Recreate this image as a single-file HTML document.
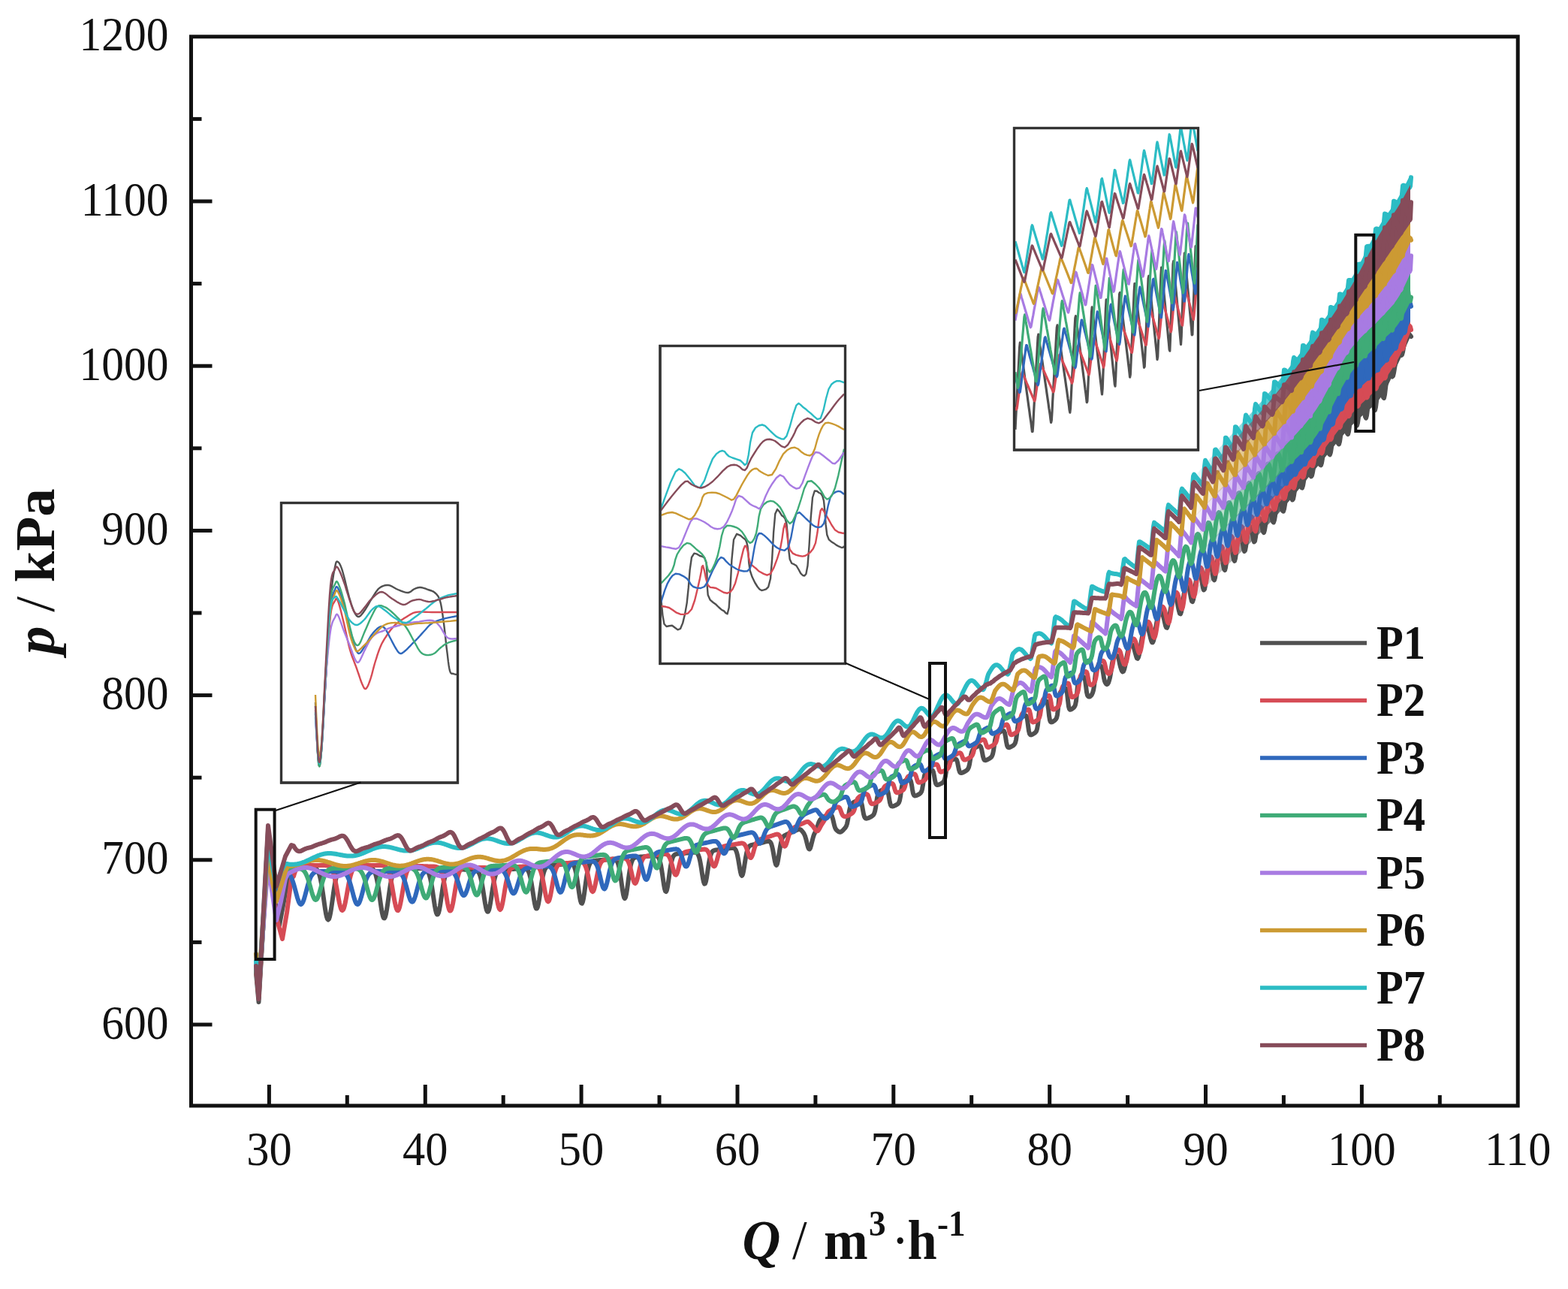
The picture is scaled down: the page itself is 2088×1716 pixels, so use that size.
<!DOCTYPE html><html><head><meta charset="utf-8"><title>p vs Q</title><style>html,body{margin:0;padding:0;background:#fff}svg{display:block}</style></head><body>
<svg width="2088" height="1716" viewBox="0 0 2088 1716">
<rect width="2088" height="1716" fill="#fff"/>
<defs><linearGradient id="gR" gradientUnits="userSpaceOnUse" x1="1580" y1="0" x2="1720" y2="0"><stop offset="0" stop-color="#fff" stop-opacity="0"/><stop offset="1" stop-color="#fff" stop-opacity="1"/></linearGradient><mask id="mR"><rect x="0" y="0" width="2088" height="1716" fill="url(#gR)"/></mask></defs>
<g fill="none" stroke-width="6.0" stroke-linejoin="round" stroke-linecap="round">
<path mask="url(#mR)" fill="#505050" stroke="none" d="M1580.0,796.2 L1582.0,794.0 L1584.0,791.9 L1586.0,789.8 L1588.0,787.7 L1590.0,785.6 L1592.0,783.4 L1594.0,781.3 L1596.0,779.2 L1598.0,777.1 L1600.0,775.0 L1602.0,772.9 L1604.0,770.8 L1606.0,768.7 L1608.0,766.6 L1610.0,764.5 L1612.0,762.5 L1614.0,760.4 L1616.0,758.3 L1618.0,756.3 L1620.0,754.2 L1622.0,752.2 L1624.0,750.1 L1626.0,748.1 L1628.0,746.0 L1630.0,744.0 L1632.0,741.9 L1634.0,739.9 L1636.0,737.9 L1638.0,735.8 L1640.0,733.8 L1642.0,731.8 L1644.0,729.7 L1646.0,727.7 L1648.0,725.6 L1650.0,723.6 L1652.0,721.6 L1654.0,719.5 L1656.0,717.5 L1658.0,715.4 L1660.0,713.4 L1662.0,711.3 L1664.0,709.3 L1666.0,707.2 L1668.0,705.1 L1670.0,703.0 L1672.0,701.0 L1674.0,698.9 L1676.0,696.8 L1678.0,694.7 L1680.0,692.6 L1682.0,690.4 L1684.0,688.3 L1686.0,686.2 L1688.0,684.1 L1690.0,681.9 L1692.0,679.7 L1694.0,677.6 L1696.0,675.4 L1698.0,673.2 L1700.0,671.0 L1702.0,668.8 L1704.0,666.6 L1706.0,664.3 L1708.0,662.1 L1710.0,659.9 L1712.0,657.6 L1714.0,655.3 L1716.0,653.1 L1718.0,650.8 L1720.0,648.5 L1722.0,646.2 L1724.0,643.9 L1726.0,641.5 L1728.0,639.2 L1730.0,636.9 L1732.0,634.5 L1734.0,632.2 L1736.0,629.8 L1738.0,627.4 L1740.0,625.1 L1742.0,622.7 L1744.0,620.3 L1746.0,617.8 L1748.0,615.4 L1750.0,613.0 L1752.0,610.5 L1754.0,608.1 L1756.0,605.5 L1758.0,603.0 L1760.0,600.4 L1762.0,597.8 L1764.0,595.1 L1766.0,592.5 L1768.0,589.8 L1770.0,587.2 L1772.0,584.5 L1774.0,581.8 L1776.0,579.1 L1778.0,576.5 L1780.0,573.8 L1782.0,571.2 L1784.0,568.6 L1786.0,566.0 L1788.0,563.5 L1790.0,561.0 L1792.0,558.5 L1794.0,556.0 L1796.0,553.6 L1798.0,551.3 L1800.0,549.0 L1802.0,546.8 L1804.0,544.6 L1806.0,542.5 L1808.0,540.5 L1810.0,538.5 L1812.0,536.6 L1814.0,534.6 L1816.0,532.7 L1818.0,530.8 L1820.0,529.0 L1822.0,527.1 L1824.0,525.1 L1826.0,523.2 L1828.0,521.2 L1830.0,519.2 L1832.0,517.1 L1834.0,514.9 L1836.0,512.7 L1838.0,510.4 L1840.0,508.0 L1842.0,505.5 L1844.0,503.0 L1846.0,500.3 L1848.0,497.6 L1850.0,494.8 L1852.0,491.8 L1854.0,488.8 L1856.0,485.6 L1858.0,482.4 L1860.0,479.0 L1862.0,475.5 L1864.0,471.7 L1866.0,467.8 L1868.0,463.7 L1870.0,459.4 L1872.0,455.0 L1874.0,450.5 L1876.0,445.8 L1878.0,441.0 L1878.0,448.4 L1876.0,452.9 L1874.0,457.4 L1872.0,461.9 L1870.0,466.3 L1868.0,470.6 L1866.0,475.0 L1864.0,479.2 L1862.0,483.4 L1860.0,487.6 L1858.0,491.8 L1856.0,496.2 L1854.0,500.6 L1852.0,505.0 L1850.0,509.3 L1848.0,513.5 L1846.0,517.5 L1844.0,521.1 L1842.0,524.5 L1840.0,527.4 L1838.0,530.0 L1836.0,532.5 L1834.0,534.8 L1832.0,537.0 L1830.0,539.1 L1828.0,541.1 L1826.0,543.0 L1824.0,544.8 L1822.0,546.6 L1820.0,548.3 L1818.0,550.1 L1816.0,551.8 L1814.0,553.5 L1812.0,555.2 L1810.0,557.0 L1808.0,558.7 L1806.0,560.6 L1804.0,562.5 L1802.0,564.5 L1800.0,566.6 L1798.0,568.8 L1796.0,571.0 L1794.0,573.2 L1792.0,575.5 L1790.0,577.8 L1788.0,580.1 L1786.0,582.5 L1784.0,584.8 L1782.0,587.2 L1780.0,589.6 L1778.0,592.1 L1776.0,594.5 L1774.0,597.0 L1772.0,599.4 L1770.0,601.9 L1768.0,604.4 L1766.0,606.9 L1764.0,609.3 L1762.0,611.8 L1760.0,614.3 L1758.0,616.7 L1756.0,619.2 L1754.0,621.6 L1752.0,624.0 L1750.0,626.4 L1748.0,628.8 L1746.0,631.2 L1744.0,633.6 L1742.0,636.1 L1740.0,638.5 L1738.0,640.9 L1736.0,643.4 L1734.0,645.9 L1732.0,648.3 L1730.0,650.8 L1728.0,653.2 L1726.0,655.7 L1724.0,658.1 L1722.0,660.5 L1720.0,663.0 L1718.0,665.4 L1716.0,667.8 L1714.0,670.1 L1712.0,672.5 L1710.0,674.8 L1708.0,677.2 L1706.0,679.5 L1704.0,681.7 L1702.0,684.0 L1700.0,686.2 L1698.0,688.4 L1696.0,690.6 L1694.0,692.7 L1692.0,694.9 L1690.0,697.0 L1688.0,699.1 L1686.0,701.2 L1684.0,703.3 L1682.0,705.4 L1680.0,707.5 L1678.0,709.5 L1676.0,711.6 L1674.0,713.6 L1672.0,715.6 L1670.0,717.6 L1668.0,719.6 L1666.0,721.6 L1664.0,723.6 L1662.0,725.6 L1660.0,727.6 L1658.0,729.5 L1656.0,731.5 L1654.0,733.5 L1652.0,735.4 L1650.0,737.4 L1648.0,739.3 L1646.0,741.3 L1644.0,743.2 L1642.0,745.1 L1640.0,747.1 L1638.0,749.0 L1636.0,751.0 L1634.0,752.9 L1632.0,754.8 L1630.0,756.8 L1628.0,758.7 L1626.0,760.7 L1624.0,762.6 L1622.0,764.6 L1620.0,766.6 L1618.0,768.5 L1616.0,770.5 L1614.0,772.5 L1612.0,774.5 L1610.0,776.5 L1608.0,778.5 L1606.0,780.5 L1604.0,782.5 L1602.0,784.6 L1600.0,786.6 L1598.0,788.6 L1596.0,790.7 L1594.0,792.8 L1592.0,794.8 L1590.0,796.9 L1588.0,798.9 L1586.0,801.0 L1584.0,803.0 L1582.0,805.1 L1580.0,807.2Z"/>
<path stroke="#505050" d="M341.0,1296.0 L344.5,1334.0 L350.0,1240.0 L357.0,1106.0 L362.0,1150.0 L367.0,1205.0 L372.0,1232.0 L378.0,1200.0 L385.0,1160.0 L388.0,1155.0 L389.0,1155.0 L390.0,1155.0 L391.0,1155.0 L392.0,1155.0 L393.0,1155.0 L394.0,1155.0 L395.0,1155.0 L396.0,1155.0 L397.0,1155.0 L398.0,1155.0 L399.0,1155.0 L400.0,1155.0 L401.0,1155.0 L402.0,1155.0 L403.0,1155.0 L404.0,1155.0 L405.0,1155.0 L406.0,1155.0 L407.0,1155.0 L408.0,1155.0 L409.0,1155.0 L410.0,1155.0 L411.0,1155.0 L412.0,1155.0 L413.0,1155.0 L414.0,1155.0 L415.0,1155.1 L416.0,1155.1 L417.0,1155.2 L418.0,1155.4 L419.0,1155.6 L420.0,1156.1 L421.0,1156.7 L422.0,1157.7 L423.0,1159.0 L424.0,1161.0 L425.0,1163.6 L426.0,1167.0 L427.0,1171.3 L428.0,1176.4 L429.0,1182.4 L430.0,1189.1 L431.0,1196.2 L432.0,1203.4 L433.0,1210.1 L434.0,1216.0 L435.0,1220.6 L436.0,1223.5 L437.0,1224.5 L438.0,1223.5 L439.0,1220.5 L440.0,1215.9 L441.0,1210.0 L442.0,1203.2 L443.0,1196.1 L444.0,1189.0 L445.0,1182.3 L446.0,1176.3 L447.0,1171.2 L448.0,1166.9 L449.0,1163.5 L450.0,1160.9 L451.0,1159.0 L452.0,1157.6 L453.0,1156.7 L454.0,1156.0 L455.0,1155.6 L456.0,1155.4 L457.0,1155.2 L458.0,1155.1 L459.0,1155.1 L460.0,1155.0 L461.0,1155.0 L462.0,1155.0 L463.0,1155.0 L464.0,1155.0 L465.0,1155.0 L466.0,1155.0 L467.0,1155.0 L468.0,1155.0 L469.0,1155.0 L470.0,1155.0 L471.0,1155.0 L472.0,1155.0 L473.0,1155.0 L474.0,1155.0 L475.0,1155.0 L476.0,1155.0 L477.0,1155.0 L478.0,1155.0 L479.0,1155.0 L480.0,1155.0 L481.0,1155.0 L482.0,1155.0 L483.0,1155.0 L484.0,1155.0 L485.0,1155.0 L486.0,1155.0 L487.0,1155.0 L488.0,1155.0 L489.0,1155.0 L490.0,1155.1 L491.0,1155.1 L492.0,1155.2 L493.0,1155.3 L494.0,1155.6 L495.0,1156.0 L496.0,1156.6 L497.0,1157.6 L498.0,1158.9 L499.0,1160.9 L500.0,1163.5 L501.0,1167.0 L502.0,1171.3 L503.0,1176.6 L504.0,1182.7 L505.0,1189.5 L506.0,1196.7 L507.0,1203.8 L508.0,1210.4 L509.0,1215.9 L510.0,1220.0 L511.0,1222.2 L512.0,1222.4 L513.0,1220.5 L514.0,1216.7 L515.0,1211.3 L516.0,1204.8 L517.0,1197.7 L518.0,1190.4 L519.0,1183.5 L520.0,1177.3 L521.0,1171.9 L522.0,1167.4 L523.0,1163.8 L524.0,1161.1 L525.0,1159.2 L526.0,1157.8 L527.0,1156.8 L528.0,1156.2 L529.0,1155.8 L530.0,1155.6 L531.0,1155.5 L532.0,1155.4 L533.0,1155.4 L534.0,1155.4 L535.0,1155.4 L536.0,1155.4 L537.0,1155.5 L538.0,1155.5 L539.0,1155.5 L540.0,1155.5 L541.0,1155.5 L542.0,1155.6 L543.0,1155.6 L544.0,1155.6 L545.0,1155.6 L546.0,1155.7 L547.0,1155.7 L548.0,1155.7 L549.0,1155.8 L550.0,1155.8 L551.0,1155.8 L552.0,1155.8 L553.0,1155.9 L554.0,1155.9 L555.0,1155.9 L556.0,1155.9 L557.0,1156.0 L558.0,1156.0 L559.0,1156.0 L560.0,1156.1 L561.0,1156.1 L562.0,1156.2 L563.0,1156.2 L564.0,1156.4 L565.0,1156.5 L566.0,1156.8 L567.0,1157.3 L568.0,1158.0 L569.0,1159.0 L570.0,1160.6 L571.0,1162.8 L572.0,1165.7 L573.0,1169.5 L574.0,1174.2 L575.0,1179.8 L576.0,1186.2 L577.0,1193.0 L578.0,1199.8 L579.0,1206.2 L580.0,1211.5 L581.0,1215.4 L582.0,1217.4 L583.0,1217.3 L584.0,1215.2 L585.0,1211.2 L586.0,1205.7 L587.0,1199.2 L588.0,1192.4 L589.0,1185.6 L590.0,1179.3 L591.0,1173.8 L592.0,1169.2 L593.0,1165.6 L594.0,1162.9 L595.0,1160.9 L596.0,1159.5 L597.0,1158.6 L598.0,1158.0 L599.0,1157.7 L600.0,1157.5 L601.0,1157.4 L602.0,1157.3 L603.0,1157.3 L604.0,1157.3 L605.0,1157.4 L606.0,1157.4 L607.0,1157.4 L608.0,1157.4 L609.0,1157.5 L610.0,1157.5 L611.0,1157.5 L612.0,1157.5 L613.0,1157.5 L614.0,1157.6 L615.0,1157.6 L616.0,1157.6 L617.0,1157.6 L618.0,1157.6 L619.0,1157.7 L620.0,1157.7 L621.0,1157.7 L622.0,1157.7 L623.0,1157.7 L624.0,1157.8 L625.0,1157.8 L626.0,1157.8 L627.0,1157.8 L628.0,1157.8 L629.0,1157.9 L630.0,1157.9 L631.0,1158.0 L632.0,1158.1 L633.0,1158.2 L634.0,1158.5 L635.0,1159.0 L636.0,1159.7 L637.0,1160.9 L638.0,1162.6 L639.0,1164.9 L640.0,1168.1 L641.0,1172.3 L642.0,1177.3 L643.0,1183.2 L644.0,1189.6 L645.0,1196.2 L646.0,1202.5 L647.0,1207.8 L648.0,1211.7 L649.0,1213.7 L650.0,1213.7 L651.0,1211.7 L652.0,1207.7 L653.0,1202.4 L654.0,1196.1 L655.0,1189.5 L656.0,1183.1 L657.0,1177.3 L658.0,1172.2 L659.0,1168.1 L660.0,1164.8 L661.0,1162.5 L662.0,1160.8 L663.0,1159.6 L664.0,1158.8 L665.0,1158.4 L666.0,1158.1 L667.0,1157.9 L668.0,1157.7 L669.0,1157.7 L670.0,1157.6 L671.0,1157.5 L672.0,1157.5 L673.0,1157.5 L674.0,1157.4 L675.0,1157.4 L676.0,1157.3 L677.0,1157.3 L678.0,1157.2 L679.0,1157.1 L680.0,1157.1 L681.0,1157.0 L682.0,1157.0 L683.0,1156.9 L684.0,1156.9 L685.0,1156.8 L686.0,1156.7 L687.0,1156.7 L688.0,1156.6 L689.0,1156.5 L690.0,1156.4 L691.0,1156.4 L692.0,1156.3 L693.0,1156.2 L694.0,1156.2 L695.0,1156.1 L696.0,1156.0 L697.0,1156.0 L698.0,1156.0 L699.0,1156.1 L700.0,1156.4 L701.0,1156.8 L702.0,1157.6 L703.0,1158.8 L704.0,1160.7 L705.0,1163.4 L706.0,1167.1 L707.0,1171.7 L708.0,1177.4 L709.0,1183.7 L710.0,1190.4 L711.0,1197.0 L712.0,1202.8 L713.0,1207.1 L714.0,1209.5 L715.0,1209.6 L716.0,1207.4 L717.0,1203.2 L718.0,1197.4 L719.0,1190.6 L720.0,1183.6 L721.0,1176.8 L722.0,1170.7 L723.0,1165.7 L724.0,1161.7 L725.0,1158.7 L726.0,1156.5 L727.0,1155.0 L728.0,1154.1 L729.0,1153.4 L730.0,1153.0 L731.0,1152.7 L732.0,1152.5 L733.0,1152.4 L734.0,1152.3 L735.0,1152.1 L736.0,1152.0 L737.0,1151.9 L738.0,1151.8 L739.0,1151.7 L740.0,1151.6 L741.0,1151.5 L742.0,1151.3 L743.0,1151.2 L744.0,1151.1 L745.0,1151.0 L746.0,1150.9 L747.0,1150.8 L748.0,1150.7 L749.0,1150.5 L750.0,1150.4 L751.0,1150.3 L752.0,1150.2 L753.0,1150.1 L754.0,1150.0 L755.0,1149.9 L756.0,1149.7 L757.0,1149.6 L758.0,1149.6 L759.0,1149.5 L760.0,1149.6 L761.0,1149.8 L762.0,1150.2 L763.0,1151.0 L764.0,1152.4 L765.0,1154.5 L766.0,1157.6 L767.0,1161.8 L768.0,1167.2 L769.0,1173.6 L770.0,1180.7 L771.0,1187.8 L772.0,1194.3 L773.0,1199.3 L774.0,1202.3 L775.0,1202.7 L776.0,1200.5 L777.0,1196.0 L778.0,1189.7 L779.0,1182.5 L780.0,1175.1 L781.0,1168.1 L782.0,1162.0 L783.0,1157.1 L784.0,1153.4 L785.0,1150.7 L786.0,1148.9 L787.0,1147.7 L788.0,1146.9 L789.0,1146.5 L790.0,1146.2 L791.0,1146.0 L792.0,1145.8 L793.0,1145.7 L794.0,1145.6 L795.0,1145.5 L796.0,1145.4 L797.0,1145.3 L798.0,1145.2 L799.0,1145.1 L800.0,1145.0 L801.0,1144.9 L802.0,1144.8 L803.0,1144.7 L804.0,1144.6 L805.0,1144.5 L806.0,1144.5 L807.0,1144.4 L808.0,1144.3 L809.0,1144.2 L810.0,1144.1 L811.0,1144.0 L812.0,1143.9 L813.0,1143.8 L814.0,1143.8 L815.0,1143.7 L816.0,1143.6 L817.0,1143.7 L818.0,1143.7 L819.0,1144.0 L820.0,1144.5 L821.0,1145.5 L822.0,1147.1 L823.0,1149.5 L824.0,1153.1 L825.0,1157.9 L826.0,1163.8 L827.0,1170.8 L828.0,1178.1 L829.0,1185.1 L830.0,1191.0 L831.0,1194.8 L832.0,1196.1 L833.0,1194.6 L834.0,1190.4 L835.0,1184.3 L836.0,1177.1 L837.0,1169.5 L838.0,1162.4 L839.0,1156.3 L840.0,1151.4 L841.0,1147.8 L842.0,1145.2 L843.0,1143.5 L844.0,1142.5 L845.0,1141.8 L846.0,1141.4 L847.0,1141.2 L848.0,1141.0 L849.0,1140.9 L850.0,1140.8 L851.0,1140.8 L852.0,1140.7 L853.0,1140.6 L854.0,1140.5 L855.0,1140.4 L856.0,1140.4 L857.0,1140.3 L858.0,1140.2 L859.0,1140.1 L860.0,1140.1 L861.0,1140.0 L862.0,1139.9 L863.0,1139.8 L864.0,1139.7 L865.0,1139.7 L866.0,1139.6 L867.0,1139.5 L868.0,1139.4 L869.0,1139.4 L870.0,1139.3 L871.0,1139.2 L872.0,1139.2 L873.0,1139.3 L874.0,1139.4 L875.0,1139.8 L876.0,1140.6 L877.0,1141.9 L878.0,1144.0 L879.0,1147.2 L880.0,1151.6 L881.0,1157.2 L882.0,1163.8 L883.0,1170.9 L884.0,1177.6 L885.0,1183.1 L886.0,1186.4 L887.0,1187.1 L888.0,1184.9 L889.0,1180.3 L890.0,1173.9 L891.0,1166.7 L892.0,1159.5 L893.0,1153.1 L894.0,1147.9 L895.0,1143.9 L896.0,1141.1 L897.0,1139.3 L898.0,1138.2 L899.0,1137.5 L900.0,1137.1 L901.0,1136.9 L902.0,1136.7 L903.0,1136.6 L904.0,1136.5 L905.0,1136.4 L906.0,1136.3 L907.0,1136.2 L908.0,1136.2 L909.0,1136.1 L910.0,1136.0 L911.0,1135.9 L912.0,1135.8 L913.0,1135.7 L914.0,1135.6 L915.0,1135.5 L916.0,1135.4 L917.0,1135.3 L918.0,1135.2 L919.0,1135.2 L920.0,1135.1 L921.0,1135.0 L922.0,1134.9 L923.0,1134.8 L924.0,1134.7 L925.0,1134.7 L926.0,1134.8 L927.0,1135.0 L928.0,1135.6 L929.0,1136.6 L930.0,1138.5 L931.0,1141.3 L932.0,1145.3 L933.0,1150.5 L934.0,1156.6 L935.0,1163.2 L936.0,1169.3 L937.0,1174.1 L938.0,1176.6 L939.0,1176.3 L940.0,1173.4 L941.0,1168.3 L942.0,1161.9 L943.0,1155.1 L944.0,1148.8 L945.0,1143.4 L946.0,1139.3 L947.0,1136.4 L948.0,1134.5 L949.0,1133.2 L950.0,1132.5 L951.0,1132.1 L952.0,1131.8 L953.0,1131.6 L954.0,1131.5 L955.0,1131.4 L956.0,1131.2 L957.0,1131.1 L958.0,1131.0 L959.0,1130.9 L960.0,1130.7 L961.0,1130.6 L962.0,1130.5 L963.0,1130.4 L964.0,1130.2 L965.0,1130.1 L966.0,1130.0 L967.0,1129.9 L968.0,1129.7 L969.0,1129.6 L970.0,1129.5 L971.0,1129.3 L972.0,1129.2 L973.0,1129.1 L974.0,1129.0 L975.0,1128.9 L976.0,1128.9 L977.0,1129.1 L978.0,1129.5 L979.0,1130.4 L980.0,1132.1 L981.0,1134.8 L982.0,1138.6 L983.0,1143.6 L984.0,1149.5 L985.0,1155.6 L986.0,1161.0 L987.0,1164.6 L988.0,1165.8 L989.0,1164.2 L990.0,1160.1 L991.0,1154.3 L992.0,1147.8 L993.0,1141.5 L994.0,1136.2 L995.0,1132.1 L996.0,1129.3 L997.0,1127.4 L998.0,1126.3 L999.0,1125.6 L1000.0,1125.2 L1001.0,1124.9 L1002.0,1124.7 L1003.0,1124.5 L1004.0,1124.3 L1005.0,1124.1 L1006.0,1123.9 L1007.0,1123.7 L1008.0,1123.5 L1009.0,1123.2 L1010.0,1123.0 L1011.0,1122.8 L1012.0,1122.5 L1013.0,1122.3 L1014.0,1122.0 L1015.0,1121.8 L1016.0,1121.5 L1017.0,1121.3 L1018.0,1121.0 L1019.0,1120.7 L1020.0,1120.4 L1021.0,1120.2 L1022.0,1120.0 L1023.0,1119.8 L1024.0,1119.9 L1025.0,1120.3 L1026.0,1121.3 L1027.0,1123.2 L1028.0,1126.3 L1029.0,1130.7 L1030.0,1136.1 L1031.0,1142.0 L1032.0,1147.2 L1033.0,1150.8 L1034.0,1151.9 L1035.0,1150.0 L1036.0,1145.6 L1037.0,1139.6 L1038.0,1133.0 L1039.0,1126.9 L1040.0,1121.8 L1041.0,1118.1 L1042.0,1115.5 L1043.0,1113.9 L1044.0,1112.9 L1045.0,1112.1 L1046.0,1111.6 L1047.0,1111.1 L1048.0,1110.6 L1049.0,1110.2 L1050.0,1109.8 L1051.0,1109.3 L1052.0,1108.9 L1053.0,1108.5 L1054.0,1108.0 L1055.0,1107.6 L1056.0,1107.2 L1057.0,1106.7 L1058.0,1106.3 L1059.0,1105.9 L1060.0,1105.4 L1061.0,1105.0 L1062.0,1104.6 L1063.0,1104.3 L1064.0,1104.1 L1065.0,1104.1 L1066.0,1104.4 L1067.0,1105.2 L1068.0,1106.3 L1069.0,1107.5 L1070.0,1108.8 L1071.0,1110.6 L1072.0,1112.9 L1073.0,1116.1 L1074.0,1120.0 L1075.0,1124.1 L1076.0,1127.7 L1077.0,1130.0 L1078.0,1130.5 L1079.0,1129.0 L1080.0,1125.9 L1081.0,1121.8 L1082.0,1117.7 L1083.0,1114.0 L1084.0,1111.1 L1085.0,1108.9 L1086.0,1106.9 L1087.0,1104.8 L1088.0,1102.1 L1089.0,1098.8 L1090.0,1095.7 L1091.0,1093.2 L1092.0,1091.5 L1093.0,1090.3 L1094.0,1089.5 L1095.0,1088.7 L1096.0,1088.1 L1097.0,1087.6 L1098.0,1087.0 L1099.0,1086.5 L1100.0,1086.0 L1101.0,1085.5 L1102.0,1085.1 L1103.0,1084.6 L1104.0,1084.3 L1105.0,1084.1 L1106.0,1084.3 L1107.0,1085.0 L1108.0,1086.8 L1109.0,1090.0 L1110.0,1094.3 L1111.0,1098.6 L1112.0,1101.8 L1113.0,1103.8 L1114.0,1105.1 L1115.0,1106.0 L1116.0,1106.8 L1117.0,1107.4 L1118.0,1107.7 L1119.0,1107.8 L1120.0,1107.4 L1121.0,1106.7 L1122.0,1105.8 L1123.0,1104.8 L1124.0,1103.7 L1125.0,1102.7 L1126.0,1101.4 L1127.0,1099.6 L1128.0,1096.6 L1129.0,1091.7 L1130.0,1085.4 L1131.0,1079.3 L1132.0,1074.8 L1133.0,1072.0 L1134.0,1070.3 L1135.0,1069.3 L1136.0,1068.5 L1137.0,1067.9 L1138.0,1067.4 L1139.0,1066.9 L1140.0,1066.4 L1141.0,1066.0 L1142.0,1065.6 L1143.0,1065.3 L1144.0,1065.2 L1145.0,1065.4 L1146.0,1066.2 L1147.0,1068.4 L1148.0,1072.5 L1149.0,1078.2 L1150.0,1083.7 L1151.0,1087.3 L1152.0,1089.0 L1153.0,1089.6 L1154.0,1089.7 L1155.0,1089.4 L1156.0,1089.1 L1157.0,1088.7 L1158.0,1088.2 L1159.0,1087.7 L1160.0,1087.2 L1161.0,1086.6 L1162.0,1085.9 L1163.0,1084.9 L1164.0,1083.2 L1165.0,1080.3 L1166.0,1075.3 L1167.0,1068.6 L1168.0,1062.1 L1169.0,1057.8 L1170.0,1055.3 L1171.0,1054.0 L1172.0,1053.1 L1173.0,1052.5 L1174.0,1052.0 L1175.0,1051.6 L1176.0,1051.1 L1177.0,1050.8 L1178.0,1050.5 L1179.0,1050.2 L1180.0,1050.3 L1181.0,1050.9 L1182.0,1052.7 L1183.0,1056.7 L1184.0,1062.7 L1185.0,1068.4 L1186.0,1071.8 L1187.0,1073.2 L1188.0,1073.5 L1189.0,1073.4 L1190.0,1073.1 L1191.0,1072.7 L1192.0,1072.3 L1193.0,1071.8 L1194.0,1071.3 L1195.0,1070.6 L1196.0,1069.8 L1197.0,1068.4 L1198.0,1065.7 L1199.0,1060.5 L1200.0,1053.3 L1201.0,1046.8 L1202.0,1043.0 L1203.0,1041.1 L1204.0,1040.1 L1205.0,1039.4 L1206.0,1038.9 L1207.0,1038.5 L1208.0,1038.1 L1209.0,1037.7 L1210.0,1037.5 L1211.0,1037.5 L1212.0,1038.1 L1213.0,1040.1 L1214.0,1044.8 L1215.0,1051.3 L1216.0,1056.3 L1217.0,1058.7 L1218.0,1059.4 L1219.0,1059.3 L1220.0,1059.1 L1221.0,1058.7 L1222.0,1058.2 L1223.0,1057.7 L1224.0,1057.2 L1225.0,1056.5 L1226.0,1055.6 L1227.0,1054.0 L1228.0,1050.8 L1229.0,1045.1 L1230.0,1038.0 L1231.0,1032.6 L1232.0,1029.7 L1233.0,1028.2 L1234.0,1027.4 L1235.0,1026.8 L1236.0,1026.3 L1237.0,1025.8 L1238.0,1025.4 L1239.0,1025.1 L1240.0,1024.8 L1241.0,1024.9 L1242.0,1025.6 L1243.0,1028.0 L1244.0,1032.8 L1245.0,1038.8 L1246.0,1042.9 L1247.0,1044.6 L1248.0,1045.1 L1249.0,1045.0 L1250.0,1044.7 L1251.0,1044.2 L1252.0,1043.8 L1253.0,1043.2 L1254.0,1042.7 L1255.0,1042.0 L1256.0,1041.2 L1257.0,1039.9 L1258.0,1037.4 L1259.0,1033.0 L1260.0,1026.7 L1261.0,1020.9 L1262.0,1017.1 L1263.0,1015.1 L1264.0,1014.0 L1265.0,1013.2 L1266.0,1012.6 L1267.0,1012.1 L1268.0,1011.6 L1269.0,1011.1 L1270.0,1010.7 L1271.0,1010.4 L1272.0,1010.2 L1273.0,1010.5 L1274.0,1011.8 L1275.0,1014.9 L1276.0,1020.0 L1277.0,1024.8 L1278.0,1027.8 L1279.0,1028.9 L1280.0,1029.1 L1281.0,1028.9 L1282.0,1028.5 L1283.0,1028.0 L1284.0,1027.5 L1285.0,1027.0 L1286.0,1026.4 L1287.0,1025.7 L1288.0,1024.9 L1289.0,1023.6 L1290.0,1021.4 L1291.0,1017.4 L1292.0,1011.4 L1293.0,1005.3 L1294.0,1001.2 L1295.0,998.8 L1296.0,997.5 L1297.0,996.6 L1298.0,995.9 L1299.0,995.2 L1300.0,994.6 L1301.0,994.1 L1302.0,993.5 L1303.0,993.1 L1304.0,992.8 L1305.0,992.9 L1306.0,994.0 L1307.0,996.9 L1308.0,1001.9 L1309.0,1007.2 L1310.0,1010.5 L1311.0,1011.9 L1312.0,1012.2 L1313.0,1012.0 L1314.0,1011.6 L1315.0,1011.2 L1316.0,1010.6 L1317.0,1010.1 L1318.0,1009.5 L1319.0,1008.8 L1320.0,1007.9 L1321.0,1006.5 L1322.0,1003.9 L1323.0,999.1 L1324.0,992.2 L1325.0,985.5 L1326.0,981.3 L1327.0,978.9 L1328.0,977.6 L1329.0,976.6 L1330.0,975.8 L1331.0,975.1 L1332.0,974.4 L1333.0,973.8 L1334.0,973.2 L1335.0,972.8 L1336.0,972.6 L1337.0,973.3 L1338.0,975.7 L1339.0,980.9 L1340.0,987.5 L1341.0,992.4 L1342.0,994.6 L1343.0,995.2 L1344.0,995.2 L1345.0,994.8 L1346.0,994.3 L1347.0,993.8 L1348.0,993.2 L1349.0,992.6 L1350.0,991.8 L1351.0,990.7 L1352.0,988.8 L1353.0,985.0 L1354.0,978.1 L1355.0,969.5 L1356.0,962.9 L1357.0,959.2 L1358.0,957.4 L1359.0,956.2 L1360.0,955.3 L1361.0,954.5 L1362.0,953.8 L1363.0,953.2 L1364.0,952.6 L1365.0,952.2 L1366.0,952.4 L1367.0,953.8 L1368.0,958.0 L1369.0,965.6 L1370.0,973.0 L1371.0,976.9 L1372.0,978.2 L1373.0,978.4 L1374.0,978.1 L1375.0,977.6 L1376.0,977.0 L1377.0,976.4 L1378.0,975.7 L1379.0,974.8 L1380.0,973.4 L1381.0,970.6 L1382.0,964.9 L1383.0,955.4 L1384.0,946.3 L1385.0,940.9 L1386.0,938.4 L1387.0,937.0 L1388.0,936.1 L1389.0,935.3 L1390.0,934.6 L1391.0,934.0 L1392.0,933.5 L1393.0,933.3 L1394.0,933.8 L1395.0,936.5 L1396.0,943.2 L1397.0,952.5 L1398.0,958.7 L1399.0,961.0 L1400.0,961.4 L1401.0,961.2 L1402.0,960.7 L1403.0,960.0 L1404.0,959.4 L1405.0,958.6 L1406.0,957.5 L1407.0,955.7 L1408.0,951.7 L1409.0,943.4 L1410.0,932.5 L1411.0,925.0 L1412.0,921.6 L1413.0,920.0 L1414.0,919.0 L1415.0,918.3 L1416.0,917.6 L1417.0,917.0 L1418.0,916.6 L1419.0,916.6 L1420.0,917.9 L1421.0,922.7 L1422.0,932.1 L1423.0,940.4 L1424.0,944.0 L1425.0,944.8 L1426.0,944.6 L1427.0,944.1 L1428.0,943.5 L1429.0,942.7 L1430.0,941.8 L1431.0,940.5 L1432.0,938.2 L1433.0,933.2 L1434.0,923.5 L1435.0,913.3 L1436.0,907.6 L1437.0,905.1 L1438.0,903.7 L1439.0,902.8 L1440.0,902.1 L1441.0,901.5 L1442.0,901.1 L1443.0,901.1 L1444.0,902.0 L1445.0,905.3 L1446.0,912.9 L1447.0,921.2 L1448.0,925.5 L1449.0,927.0 L1450.0,927.5 L1451.0,927.5 L1452.0,927.0 L1453.0,926.0 L1454.0,924.5 L1455.0,922.3 L1456.0,918.9 L1457.0,912.9 L1458.0,903.8 L1459.0,896.0 L1460.0,892.0 L1461.0,889.9 L1462.0,888.5 L1463.0,887.5 L1464.0,886.8 L1465.0,886.6 L1466.0,886.8 L1467.0,887.7 L1468.0,890.3 L1469.0,895.9 L1470.0,902.6 L1471.0,906.8 L1472.0,909.1 L1473.0,910.5 L1474.0,911.1 L1475.0,910.6 L1476.0,908.9 L1477.0,906.1 L1478.0,902.2 L1479.0,896.9 L1480.0,889.8 L1481.0,883.0 L1482.0,878.8 L1483.0,876.2 L1484.0,874.3 L1485.0,872.9 L1486.0,872.4 L1487.0,872.4 L1488.0,873.1 L1489.0,874.9 L1490.0,878.5 L1491.0,883.5 L1492.0,887.7 L1493.0,890.9 L1494.0,893.3 L1495.0,894.4 L1496.0,893.7 L1497.0,891.4 L1498.0,887.5 L1499.0,882.6 L1500.0,877.0 L1501.0,871.3 L1502.0,866.7 L1503.0,863.4 L1504.0,860.9 L1505.0,859.0 L1506.0,858.0 L1507.0,858.0 L1508.0,858.6 L1509.0,860.1 L1510.0,862.8 L1511.0,866.4 L1512.0,870.3 L1513.0,873.8 L1514.0,876.3 L1515.0,876.8 L1516.0,875.1 L1517.0,871.2 L1518.0,865.7 L1519.0,859.4 L1520.0,853.2 L1521.0,847.7 L1522.0,843.2 L1523.0,839.7 L1524.0,837.0 L1525.0,835.1 L1526.0,834.5 L1527.0,834.7 L1528.0,835.7 L1529.0,837.7 L1530.0,840.8 L1531.0,844.8 L1532.0,849.1 L1533.0,852.8 L1534.0,855.2 L1535.0,855.4 L1536.0,853.1 L1537.0,848.6 L1538.0,842.7 L1539.0,836.2 L1540.0,830.1 L1541.0,824.9 L1542.0,820.7 L1543.0,817.7 L1544.0,815.4 L1545.0,814.2 L1546.0,814.2 L1547.0,815.0 L1548.0,816.9 L1549.0,820.0 L1550.0,824.1 L1551.0,828.6 L1552.0,832.8 L1553.0,835.4 L1554.0,835.8 L1555.0,833.4 L1556.0,828.6 L1557.0,822.4 L1558.0,815.7 L1559.0,809.5 L1560.0,804.3 L1561.0,800.4 L1562.0,797.5 L1563.0,795.5 L1564.0,795.0 L1565.0,795.5 L1566.0,797.0 L1567.0,799.8 L1568.0,803.9 L1569.0,808.8 L1570.0,813.5 L1571.0,816.8 L1572.0,817.3 L1573.0,814.7 L1574.0,809.2 L1575.0,802.1 L1576.0,794.9 L1577.0,788.6 L1578.0,783.8 L1579.0,780.5 L1580.0,778.3 L1581.0,778.0 L1582.0,779.0 L1583.0,781.4 L1584.0,785.5 L1585.0,790.9 L1586.0,796.3 L1587.0,800.3 L1588.0,801.1 L1589.0,798.3 L1590.0,792.4 L1591.0,785.0 L1592.0,777.8 L1593.0,771.7 L1594.0,767.3 L1595.0,764.2 L1596.0,762.3 L1597.0,762.5 L1598.0,763.9 L1599.0,766.7 L1600.0,771.4 L1601.0,777.1 L1602.0,782.5 L1603.0,785.5 L1604.0,784.5 L1605.0,779.3 L1606.0,771.4 L1607.0,763.2 L1608.0,756.4 L1609.0,751.9 L1610.0,749.1 L1611.0,748.6 L1612.0,750.1 L1613.0,753.5 L1614.0,759.2 L1615.0,765.8 L1616.0,770.9 L1617.0,772.3 L1618.0,769.1 L1619.0,762.3 L1620.0,754.2 L1621.0,746.9 L1622.0,741.5 L1623.0,738.0 L1624.0,735.8 L1625.0,736.1 L1626.0,737.7 L1627.0,741.1 L1628.0,746.4 L1629.0,752.7 L1630.0,757.7 L1631.0,759.1 L1632.0,755.7 L1633.0,748.6 L1634.0,740.1 L1635.0,732.8 L1636.0,727.7 L1637.0,724.6 L1638.0,723.7 L1639.0,724.8 L1640.0,728.0 L1641.0,733.4 L1642.0,740.0 L1643.0,745.3 L1644.0,746.8 L1645.0,743.5 L1646.0,736.6 L1647.0,728.5 L1648.0,721.5 L1649.0,716.5 L1650.0,713.4 L1651.0,711.9 L1652.0,712.6 L1653.0,714.8 L1654.0,719.0 L1655.0,724.8 L1656.0,730.6 L1657.0,734.0 L1658.0,733.0 L1659.0,727.7 L1660.0,720.0 L1661.0,712.5 L1662.0,706.7 L1663.0,703.0 L1664.0,700.8 L1665.0,701.0 L1666.0,702.8 L1667.0,706.6 L1668.0,712.2 L1669.0,718.0 L1670.0,721.4 L1671.0,720.4 L1672.0,715.0 L1673.0,707.4 L1674.0,700.0 L1675.0,694.7 L1676.0,691.5 L1677.0,690.0 L1678.0,690.7 L1679.0,693.1 L1680.0,697.6 L1681.0,703.2 L1682.0,707.8 L1683.0,709.0 L1684.0,705.8 L1685.0,699.5 L1686.0,692.3 L1687.0,686.3 L1688.0,682.2 L1689.0,679.7 L1690.0,678.8 L1691.0,679.6 L1692.0,681.9 L1693.0,685.8 L1694.0,690.6 L1695.0,694.5 L1696.0,695.4 L1697.0,692.4 L1698.0,686.5 L1699.0,679.8 L1700.0,674.1 L1701.0,670.1 L1702.0,667.6 L1703.0,666.5 L1704.0,666.9 L1705.0,668.7 L1706.0,672.1 L1707.0,676.4 L1708.0,680.0 L1709.0,680.7 L1710.0,677.6 L1711.0,671.7 L1712.0,664.9 L1713.0,659.3 L1714.0,655.4 L1715.0,652.9 L1716.0,652.2 L1717.0,653.0 L1718.0,655.3 L1719.0,659.1 L1720.0,663.3 L1721.0,665.5 L1722.0,664.3 L1723.0,659.6 L1724.0,653.1 L1725.0,647.1 L1726.0,642.5 L1727.0,639.5 L1728.0,637.9 L1729.0,637.9 L1730.0,639.2 L1731.0,642.1 L1732.0,646.0 L1733.0,649.1 L1734.0,649.6 L1735.0,646.6 L1736.0,641.0 L1737.0,634.8 L1738.0,629.7 L1739.0,626.0 L1740.0,623.7 L1741.0,622.9 L1742.0,623.5 L1743.0,625.4 L1744.0,628.7 L1745.0,632.4 L1746.0,634.3 L1747.0,633.1 L1748.0,628.8 L1749.0,622.8 L1750.0,617.0 L1751.0,612.6 L1752.0,609.7 L1753.0,607.9 L1754.0,607.8 L1755.0,608.9 L1756.0,611.6 L1757.0,615.4 L1758.0,618.7 L1759.0,619.4 L1760.0,616.3 L1761.0,610.4 L1762.0,603.9 L1763.0,598.5 L1764.0,594.7 L1765.0,592.3 L1766.0,592.0 L1767.0,593.1 L1768.0,596.1 L1769.0,600.4 L1770.0,604.3 L1771.0,605.2 L1772.0,602.0 L1773.0,595.6 L1774.0,588.5 L1775.0,582.8 L1776.0,578.9 L1777.0,576.4 L1778.0,576.2 L1779.0,577.6 L1780.0,581.0 L1781.0,585.9 L1782.0,590.3 L1783.0,591.4 L1784.0,588.0 L1785.0,581.1 L1786.0,573.6 L1787.0,567.4 L1788.0,563.4 L1789.0,560.8 L1790.0,560.9 L1791.0,562.5 L1792.0,566.4 L1793.0,571.9 L1794.0,576.9 L1795.0,578.2 L1796.0,574.7 L1797.0,567.5 L1798.0,559.5 L1799.0,553.1 L1800.0,549.0 L1801.0,546.5 L1802.0,546.8 L1803.0,548.8 L1804.0,553.1 L1805.0,559.2 L1806.0,564.7 L1807.0,566.4 L1808.0,562.9 L1809.0,555.6 L1810.0,547.4 L1811.0,540.9 L1812.0,536.7 L1813.0,534.3 L1814.0,534.8 L1815.0,537.1 L1816.0,542.0 L1817.0,548.7 L1818.0,554.7 L1819.0,556.7 L1820.0,553.1 L1821.0,545.3 L1822.0,536.7 L1823.0,529.8 L1824.0,525.4 L1825.0,522.9 L1826.0,523.5 L1827.0,525.9 L1828.0,531.0 L1829.0,537.9 L1830.0,544.1 L1831.0,546.0 L1832.0,542.0 L1833.0,533.8 L1834.0,524.7 L1835.0,517.6 L1836.0,513.0 L1837.0,510.3 L1838.0,510.6 L1839.0,512.9 L1840.0,517.5 L1841.0,523.8 L1842.0,529.0 L1843.0,529.9 L1844.0,525.3 L1845.0,517.0 L1846.0,508.3 L1847.0,501.6 L1848.0,497.4 L1849.0,494.7 L1850.0,494.4 L1851.0,495.1 L1852.0,497.2 L1853.0,499.9 L1854.0,501.5 L1855.0,500.4 L1856.0,496.4 L1857.0,490.5 L1858.0,484.3 L1859.0,479.0 L1860.0,475.1 L1861.0,472.1 L1862.0,470.5 L1863.0,469.9 L1864.0,470.5 L1865.0,472.0 L1866.0,473.1 L1867.0,472.2 L1868.0,468.6 L1869.0,463.0 L1870.0,457.1 L1871.0,452.0 L1872.0,448.2 L1873.0,445.2 L1874.0,443.8 L1875.0,443.2 L1876.0,443.9 L1877.0,445.4 L1878.0,446.6 L1879.0,448.0"/>
<path mask="url(#mR)" fill="#d64b55" stroke="none" d="M1580.0,779.2 L1582.0,777.2 L1584.0,775.2 L1586.0,773.2 L1588.0,771.2 L1590.0,769.1 L1592.0,767.1 L1594.0,765.1 L1596.0,763.1 L1598.0,761.0 L1600.0,759.0 L1602.0,757.0 L1604.0,754.9 L1606.0,752.9 L1608.0,750.9 L1610.0,748.8 L1612.0,746.8 L1614.0,744.8 L1616.0,742.7 L1618.0,740.7 L1620.0,738.6 L1622.0,736.6 L1624.0,734.6 L1626.0,732.5 L1628.0,730.5 L1630.0,728.4 L1632.0,726.4 L1634.0,724.3 L1636.0,722.3 L1638.0,720.2 L1640.0,718.2 L1642.0,716.1 L1644.0,714.1 L1646.0,712.0 L1648.0,710.0 L1650.0,707.9 L1652.0,705.8 L1654.0,703.8 L1656.0,701.7 L1658.0,699.6 L1660.0,697.6 L1662.0,695.5 L1664.0,693.4 L1666.0,691.4 L1668.0,689.3 L1670.0,687.2 L1672.0,685.2 L1674.0,683.1 L1676.0,681.0 L1678.0,678.9 L1680.0,676.9 L1682.0,674.8 L1684.0,672.7 L1686.0,670.6 L1688.0,668.5 L1690.0,666.4 L1692.0,664.4 L1694.0,662.3 L1696.0,660.2 L1698.0,658.1 L1700.0,656.0 L1702.0,653.9 L1704.0,651.9 L1706.0,649.8 L1708.0,647.8 L1710.0,645.8 L1712.0,643.8 L1714.0,641.8 L1716.0,639.8 L1718.0,637.9 L1720.0,635.9 L1722.0,633.9 L1724.0,631.9 L1726.0,629.8 L1728.0,627.8 L1730.0,625.7 L1732.0,623.6 L1734.0,621.5 L1736.0,619.3 L1738.0,617.2 L1740.0,614.9 L1742.0,612.6 L1744.0,610.3 L1746.0,607.9 L1748.0,605.5 L1750.0,603.0 L1752.0,600.4 L1754.0,597.7 L1756.0,594.8 L1758.0,591.8 L1760.0,588.7 L1762.0,585.5 L1764.0,582.2 L1766.0,578.9 L1768.0,575.5 L1770.0,572.1 L1772.0,568.6 L1774.0,565.2 L1776.0,561.7 L1778.0,558.2 L1780.0,554.8 L1782.0,551.4 L1784.0,548.1 L1786.0,544.9 L1788.0,541.7 L1790.0,538.6 L1792.0,535.6 L1794.0,532.7 L1796.0,530.0 L1798.0,527.4 L1800.0,525.0 L1802.0,522.7 L1804.0,520.5 L1806.0,518.5 L1808.0,516.5 L1810.0,514.6 L1812.0,512.7 L1814.0,510.9 L1816.0,509.2 L1818.0,507.4 L1820.0,505.7 L1822.0,504.0 L1824.0,502.3 L1826.0,500.6 L1828.0,498.8 L1830.0,497.0 L1832.0,495.2 L1834.0,493.3 L1836.0,491.3 L1838.0,489.2 L1840.0,487.0 L1842.0,484.7 L1844.0,482.4 L1846.0,480.1 L1848.0,477.6 L1850.0,475.1 L1852.0,472.5 L1854.0,469.8 L1856.0,467.0 L1858.0,464.1 L1860.0,461.0 L1862.0,457.8 L1864.0,454.4 L1866.0,450.8 L1868.0,447.0 L1870.0,443.1 L1872.0,439.0 L1874.0,434.8 L1876.0,430.4 L1878.0,426.0 L1878.0,443.0 L1876.0,447.8 L1874.0,452.5 L1872.0,457.0 L1870.0,461.4 L1868.0,465.7 L1866.0,469.8 L1864.0,473.7 L1862.0,477.5 L1860.0,481.0 L1858.0,484.4 L1856.0,487.6 L1854.0,490.8 L1852.0,493.8 L1850.0,496.8 L1848.0,499.6 L1846.0,502.3 L1844.0,505.0 L1842.0,507.5 L1840.0,510.0 L1838.0,512.4 L1836.0,514.7 L1834.0,516.9 L1832.0,519.1 L1830.0,521.2 L1828.0,523.2 L1826.0,525.2 L1824.0,527.1 L1822.0,529.1 L1820.0,531.0 L1818.0,532.8 L1816.0,534.7 L1814.0,536.6 L1812.0,538.6 L1810.0,540.5 L1808.0,542.5 L1806.0,544.5 L1804.0,546.6 L1802.0,548.8 L1800.0,551.0 L1798.0,553.3 L1796.0,555.6 L1794.0,558.0 L1792.0,560.5 L1790.0,563.0 L1788.0,565.5 L1786.0,568.0 L1784.0,570.6 L1782.0,573.2 L1780.0,575.8 L1778.0,578.5 L1776.0,581.1 L1774.0,583.8 L1772.0,586.5 L1770.0,589.2 L1768.0,591.8 L1766.0,594.5 L1764.0,597.1 L1762.0,599.8 L1760.0,602.4 L1758.0,605.0 L1756.0,607.5 L1754.0,610.1 L1752.0,612.5 L1750.0,615.0 L1748.0,617.4 L1746.0,619.8 L1744.0,622.3 L1742.0,624.7 L1740.0,627.1 L1738.0,629.4 L1736.0,631.8 L1734.0,634.2 L1732.0,636.5 L1730.0,638.9 L1728.0,641.2 L1726.0,643.5 L1724.0,645.9 L1722.0,648.2 L1720.0,650.5 L1718.0,652.8 L1716.0,655.1 L1714.0,657.3 L1712.0,659.6 L1710.0,661.9 L1708.0,664.1 L1706.0,666.3 L1704.0,668.6 L1702.0,670.8 L1700.0,673.0 L1698.0,675.2 L1696.0,677.4 L1694.0,679.6 L1692.0,681.7 L1690.0,683.9 L1688.0,686.1 L1686.0,688.2 L1684.0,690.3 L1682.0,692.4 L1680.0,694.6 L1678.0,696.7 L1676.0,698.8 L1674.0,700.9 L1672.0,703.0 L1670.0,705.0 L1668.0,707.1 L1666.0,709.2 L1664.0,711.3 L1662.0,713.3 L1660.0,715.4 L1658.0,717.4 L1656.0,719.5 L1654.0,721.5 L1652.0,723.6 L1650.0,725.6 L1648.0,727.6 L1646.0,729.7 L1644.0,731.7 L1642.0,733.8 L1640.0,735.8 L1638.0,737.8 L1636.0,739.9 L1634.0,741.9 L1632.0,743.9 L1630.0,746.0 L1628.0,748.0 L1626.0,750.1 L1624.0,752.1 L1622.0,754.2 L1620.0,756.2 L1618.0,758.3 L1616.0,760.3 L1614.0,762.4 L1612.0,764.5 L1610.0,766.5 L1608.0,768.6 L1606.0,770.7 L1604.0,772.8 L1602.0,774.9 L1600.0,777.0 L1598.0,779.1 L1596.0,781.2 L1594.0,783.3 L1592.0,785.4 L1590.0,787.6 L1588.0,789.7 L1586.0,791.8 L1584.0,793.9 L1582.0,796.0 L1580.0,798.2Z"/>
<path stroke="#d64b55" d="M341.0,1292.0 L344.5,1326.0 L350.0,1240.0 L357.0,1135.0 L362.0,1180.0 L369.0,1225.0 L376.0,1250.0 L382.0,1215.0 L388.0,1170.0 L391.0,1166.6 L392.0,1163.2 L393.0,1160.3 L394.0,1158.0 L395.0,1156.3 L396.0,1155.0 L397.0,1154.0 L398.0,1153.3 L399.0,1152.8 L400.0,1152.5 L401.0,1152.3 L402.0,1152.2 L403.0,1152.1 L404.0,1152.1 L405.0,1152.0 L406.0,1152.0 L407.0,1152.0 L408.0,1152.0 L409.0,1152.0 L410.0,1152.0 L411.0,1152.0 L412.0,1152.0 L413.0,1152.0 L414.0,1152.0 L415.0,1152.0 L416.0,1152.0 L417.0,1152.0 L418.0,1152.0 L419.0,1152.0 L420.0,1152.0 L421.0,1152.0 L422.0,1152.0 L423.0,1152.0 L424.0,1152.0 L425.0,1152.0 L426.0,1152.0 L427.0,1152.0 L428.0,1152.0 L429.0,1152.0 L430.0,1152.0 L431.0,1152.0 L432.0,1152.1 L433.0,1152.1 L434.0,1152.2 L435.0,1152.3 L436.0,1152.5 L437.0,1152.8 L438.0,1153.2 L439.0,1153.9 L440.0,1154.8 L441.0,1156.1 L442.0,1157.8 L443.0,1160.0 L444.0,1162.8 L445.0,1166.3 L446.0,1170.4 L447.0,1175.1 L448.0,1180.3 L449.0,1185.9 L450.0,1191.5 L451.0,1197.1 L452.0,1202.1 L453.0,1206.4 L454.0,1209.6 L455.0,1211.5 L456.0,1212.0 L457.0,1211.0 L458.0,1208.7 L459.0,1205.1 L460.0,1200.5 L461.0,1195.3 L462.0,1189.7 L463.0,1184.0 L464.0,1178.5 L465.0,1173.4 L466.0,1168.9 L467.0,1165.0 L468.0,1161.8 L469.0,1159.2 L470.0,1157.1 L471.0,1155.6 L472.0,1154.4 L473.0,1153.6 L474.0,1153.0 L475.0,1152.7 L476.0,1152.4 L477.0,1152.2 L478.0,1152.1 L479.0,1152.1 L480.0,1152.0 L481.0,1152.0 L482.0,1152.0 L483.0,1152.0 L484.0,1152.0 L485.0,1152.0 L486.0,1152.0 L487.0,1152.0 L488.0,1152.0 L489.0,1152.0 L490.0,1152.0 L491.0,1152.0 L492.0,1152.0 L493.0,1152.0 L494.0,1152.0 L495.0,1152.0 L496.0,1152.0 L497.0,1152.0 L498.0,1152.0 L499.0,1152.0 L500.0,1152.0 L501.0,1152.0 L502.0,1152.0 L503.0,1152.0 L504.0,1152.0 L505.0,1152.0 L506.0,1152.1 L507.0,1152.1 L508.0,1152.1 L509.0,1152.2 L510.0,1152.4 L511.0,1152.6 L512.0,1153.0 L513.0,1153.6 L514.0,1154.4 L515.0,1155.5 L516.0,1157.1 L517.0,1159.1 L518.0,1161.8 L519.0,1165.2 L520.0,1169.3 L521.0,1174.1 L522.0,1179.4 L523.0,1185.2 L524.0,1191.1 L525.0,1196.9 L526.0,1202.2 L527.0,1206.6 L528.0,1209.9 L529.0,1211.8 L530.0,1212.1 L531.0,1210.8 L532.0,1208.0 L533.0,1203.9 L534.0,1198.9 L535.0,1193.2 L536.0,1187.3 L537.0,1181.4 L538.0,1175.9 L539.0,1170.9 L540.0,1166.6 L541.0,1163.1 L542.0,1160.2 L543.0,1158.0 L544.0,1156.3 L545.0,1155.1 L546.0,1154.3 L547.0,1153.7 L548.0,1153.3 L549.0,1153.1 L550.0,1153.0 L551.0,1152.9 L552.0,1152.9 L553.0,1152.9 L554.0,1152.9 L555.0,1152.9 L556.0,1152.9 L557.0,1153.0 L558.0,1153.0 L559.0,1153.0 L560.0,1153.1 L561.0,1153.1 L562.0,1153.1 L563.0,1153.1 L564.0,1153.2 L565.0,1153.2 L566.0,1153.2 L567.0,1153.3 L568.0,1153.3 L569.0,1153.3 L570.0,1153.4 L571.0,1153.4 L572.0,1153.4 L573.0,1153.4 L574.0,1153.5 L575.0,1153.5 L576.0,1153.5 L577.0,1153.6 L578.0,1153.6 L579.0,1153.7 L580.0,1153.8 L581.0,1154.0 L582.0,1154.3 L583.0,1154.7 L584.0,1155.4 L585.0,1156.3 L586.0,1157.6 L587.0,1159.4 L588.0,1161.8 L589.0,1164.9 L590.0,1168.8 L591.0,1173.5 L592.0,1178.8 L593.0,1184.7 L594.0,1190.8 L595.0,1196.9 L596.0,1202.5 L597.0,1207.2 L598.0,1210.6 L599.0,1212.5 L600.0,1212.6 L601.0,1210.9 L602.0,1207.7 L603.0,1203.1 L604.0,1197.6 L605.0,1191.6 L606.0,1185.4 L607.0,1179.5 L608.0,1174.1 L609.0,1169.4 L610.0,1165.5 L611.0,1162.3 L612.0,1159.9 L613.0,1158.2 L614.0,1156.9 L615.0,1156.1 L616.0,1155.5 L617.0,1155.2 L618.0,1155.0 L619.0,1154.8 L620.0,1154.8 L621.0,1154.8 L622.0,1154.7 L623.0,1154.8 L624.0,1154.8 L625.0,1154.8 L626.0,1154.8 L627.0,1154.8 L628.0,1154.8 L629.0,1154.8 L630.0,1154.9 L631.0,1154.9 L632.0,1154.9 L633.0,1154.9 L634.0,1154.9 L635.0,1154.9 L636.0,1154.9 L637.0,1154.9 L638.0,1154.9 L639.0,1155.0 L640.0,1155.0 L641.0,1155.0 L642.0,1155.0 L643.0,1155.0 L644.0,1155.0 L645.0,1155.0 L646.0,1155.1 L647.0,1155.2 L648.0,1155.3 L649.0,1155.6 L650.0,1156.0 L651.0,1156.6 L652.0,1157.5 L653.0,1158.8 L654.0,1160.7 L655.0,1163.2 L656.0,1166.5 L657.0,1170.5 L658.0,1175.3 L659.0,1180.8 L660.0,1186.7 L661.0,1192.7 L662.0,1198.5 L663.0,1203.6 L664.0,1207.6 L665.0,1210.1 L666.0,1211.0 L667.0,1210.1 L668.0,1207.5 L669.0,1203.4 L670.0,1198.2 L671.0,1192.4 L672.0,1186.3 L673.0,1180.3 L674.0,1174.8 L675.0,1170.0 L676.0,1165.9 L677.0,1162.6 L678.0,1160.1 L679.0,1158.2 L680.0,1156.8 L681.0,1155.9 L682.0,1155.2 L683.0,1154.8 L684.0,1154.5 L685.0,1154.3 L686.0,1154.2 L687.0,1154.1 L688.0,1154.0 L689.0,1154.0 L690.0,1153.9 L691.0,1153.9 L692.0,1153.8 L693.0,1153.8 L694.0,1153.7 L695.0,1153.7 L696.0,1153.6 L697.0,1153.5 L698.0,1153.5 L699.0,1153.4 L700.0,1153.4 L701.0,1153.3 L702.0,1153.2 L703.0,1153.2 L704.0,1153.1 L705.0,1153.0 L706.0,1153.0 L707.0,1152.9 L708.0,1152.9 L709.0,1152.8 L710.0,1152.8 L711.0,1152.7 L712.0,1152.7 L713.0,1152.8 L714.0,1152.9 L715.0,1153.2 L716.0,1153.7 L717.0,1154.5 L718.0,1155.7 L719.0,1157.5 L720.0,1159.9 L721.0,1163.1 L722.0,1167.1 L723.0,1171.8 L724.0,1177.1 L725.0,1182.7 L726.0,1188.2 L727.0,1193.2 L728.0,1197.1 L729.0,1199.5 L730.0,1200.3 L731.0,1199.2 L732.0,1196.4 L733.0,1192.2 L734.0,1187.0 L735.0,1181.2 L736.0,1175.4 L737.0,1169.9 L738.0,1165.0 L739.0,1160.9 L740.0,1157.6 L741.0,1155.1 L742.0,1153.3 L743.0,1152.0 L744.0,1151.2 L745.0,1150.6 L746.0,1150.2 L747.0,1150.0 L748.0,1149.8 L749.0,1149.6 L750.0,1149.5 L751.0,1149.4 L752.0,1149.3 L753.0,1149.2 L754.0,1149.1 L755.0,1149.1 L756.0,1149.0 L757.0,1148.9 L758.0,1148.8 L759.0,1148.7 L760.0,1148.6 L761.0,1148.5 L762.0,1148.4 L763.0,1148.3 L764.0,1148.2 L765.0,1148.1 L766.0,1148.1 L767.0,1148.0 L768.0,1147.9 L769.0,1147.8 L770.0,1147.7 L771.0,1147.6 L772.0,1147.6 L773.0,1147.6 L774.0,1147.7 L775.0,1147.9 L776.0,1148.3 L777.0,1149.0 L778.0,1150.1 L779.0,1151.7 L780.0,1154.0 L781.0,1157.0 L782.0,1160.7 L783.0,1165.1 L784.0,1170.0 L785.0,1174.9 L786.0,1179.5 L787.0,1183.4 L788.0,1186.0 L789.0,1187.1 L790.0,1186.5 L791.0,1184.3 L792.0,1180.7 L793.0,1176.2 L794.0,1171.1 L795.0,1166.0 L796.0,1161.1 L797.0,1156.9 L798.0,1153.4 L799.0,1150.7 L800.0,1148.6 L801.0,1147.2 L802.0,1146.2 L803.0,1145.5 L804.0,1145.1 L805.0,1144.8 L806.0,1144.6 L807.0,1144.5 L808.0,1144.3 L809.0,1144.2 L810.0,1144.1 L811.0,1144.1 L812.0,1144.0 L813.0,1143.9 L814.0,1143.8 L815.0,1143.7 L816.0,1143.6 L817.0,1143.5 L818.0,1143.4 L819.0,1143.4 L820.0,1143.3 L821.0,1143.2 L822.0,1143.1 L823.0,1143.0 L824.0,1142.9 L825.0,1142.8 L826.0,1142.7 L827.0,1142.7 L828.0,1142.6 L829.0,1142.5 L830.0,1142.5 L831.0,1142.5 L832.0,1142.7 L833.0,1143.0 L834.0,1143.5 L835.0,1144.4 L836.0,1145.8 L837.0,1147.8 L838.0,1150.4 L839.0,1153.7 L840.0,1157.7 L841.0,1162.0 L842.0,1166.4 L843.0,1170.4 L844.0,1173.6 L845.0,1175.6 L846.0,1176.1 L847.0,1175.0 L848.0,1172.5 L849.0,1168.9 L850.0,1164.5 L851.0,1159.9 L852.0,1155.4 L853.0,1151.4 L854.0,1148.0 L855.0,1145.4 L856.0,1143.4 L857.0,1142.0 L858.0,1141.0 L859.0,1140.4 L860.0,1139.9 L861.0,1139.7 L862.0,1139.5 L863.0,1139.3 L864.0,1139.2 L865.0,1139.1 L866.0,1139.0 L867.0,1138.9 L868.0,1138.8 L869.0,1138.7 L870.0,1138.6 L871.0,1138.5 L872.0,1138.4 L873.0,1138.2 L874.0,1138.1 L875.0,1138.0 L876.0,1137.9 L877.0,1137.8 L878.0,1137.7 L879.0,1137.6 L880.0,1137.5 L881.0,1137.4 L882.0,1137.3 L883.0,1137.2 L884.0,1137.1 L885.0,1137.1 L886.0,1137.1 L887.0,1137.2 L888.0,1137.5 L889.0,1138.0 L890.0,1138.9 L891.0,1140.3 L892.0,1142.3 L893.0,1144.9 L894.0,1148.2 L895.0,1151.9 L896.0,1155.7 L897.0,1159.4 L898.0,1162.4 L899.0,1164.3 L900.0,1164.8 L901.0,1163.8 L902.0,1161.5 L903.0,1158.1 L904.0,1154.1 L905.0,1150.0 L906.0,1146.1 L907.0,1142.6 L908.0,1139.9 L909.0,1137.8 L910.0,1136.3 L911.0,1135.2 L912.0,1134.5 L913.0,1134.1 L914.0,1133.8 L915.0,1133.5 L916.0,1133.4 L917.0,1133.2 L918.0,1133.1 L919.0,1133.0 L920.0,1132.8 L921.0,1132.7 L922.0,1132.6 L923.0,1132.4 L924.0,1132.3 L925.0,1132.2 L926.0,1132.0 L927.0,1131.9 L928.0,1131.8 L929.0,1131.6 L930.0,1131.5 L931.0,1131.4 L932.0,1131.2 L933.0,1131.1 L934.0,1131.0 L935.0,1130.8 L936.0,1130.7 L937.0,1130.7 L938.0,1130.6 L939.0,1130.7 L940.0,1131.0 L941.0,1131.5 L942.0,1132.5 L943.0,1133.9 L944.0,1135.9 L945.0,1138.5 L946.0,1141.6 L947.0,1145.0 L948.0,1148.2 L949.0,1151.0 L950.0,1152.8 L951.0,1153.4 L952.0,1152.7 L953.0,1150.6 L954.0,1147.7 L955.0,1144.1 L956.0,1140.4 L957.0,1137.0 L958.0,1134.0 L959.0,1131.6 L960.0,1129.8 L961.0,1128.5 L962.0,1127.7 L963.0,1127.1 L964.0,1126.7 L965.0,1126.4 L966.0,1126.2 L967.0,1126.0 L968.0,1125.8 L969.0,1125.6 L970.0,1125.5 L971.0,1125.3 L972.0,1125.1 L973.0,1125.0 L974.0,1124.8 L975.0,1124.6 L976.0,1124.4 L977.0,1124.3 L978.0,1124.1 L979.0,1123.9 L980.0,1123.7 L981.0,1123.6 L982.0,1123.4 L983.0,1123.2 L984.0,1123.0 L985.0,1122.9 L986.0,1122.7 L987.0,1122.6 L988.0,1122.6 L989.0,1122.7 L990.0,1123.0 L991.0,1123.7 L992.0,1124.9 L993.0,1126.6 L994.0,1128.9 L995.0,1131.7 L996.0,1134.8 L997.0,1137.9 L998.0,1140.3 L999.0,1141.8 L1000.0,1142.0 L1001.0,1140.7 L1002.0,1138.3 L1003.0,1135.1 L1004.0,1131.5 L1005.0,1128.0 L1006.0,1125.0 L1007.0,1122.5 L1008.0,1120.7 L1009.0,1119.4 L1010.0,1118.5 L1011.0,1117.9 L1012.0,1117.4 L1013.0,1117.1 L1014.0,1116.8 L1015.0,1116.5 L1016.0,1116.2 L1017.0,1115.9 L1018.0,1115.6 L1019.0,1115.3 L1020.0,1115.0 L1021.0,1114.7 L1022.0,1114.4 L1023.0,1114.1 L1024.0,1113.8 L1025.0,1113.5 L1026.0,1113.2 L1027.0,1112.8 L1028.0,1112.5 L1029.0,1112.2 L1030.0,1111.8 L1031.0,1111.5 L1032.0,1111.2 L1033.0,1110.9 L1034.0,1110.7 L1035.0,1110.6 L1036.0,1110.8 L1037.0,1111.4 L1038.0,1112.4 L1039.0,1114.1 L1040.0,1116.3 L1041.0,1119.0 L1042.0,1121.9 L1043.0,1124.5 L1044.0,1126.3 L1045.0,1126.8 L1046.0,1125.9 L1047.0,1123.8 L1048.0,1120.7 L1049.0,1117.1 L1050.0,1113.6 L1051.0,1110.5 L1052.0,1108.0 L1053.0,1106.2 L1054.0,1104.8 L1055.0,1103.7 L1056.0,1102.9 L1057.0,1102.1 L1058.0,1101.4 L1059.0,1100.8 L1060.0,1100.2 L1061.0,1099.7 L1062.0,1099.3 L1063.0,1098.8 L1064.0,1098.4 L1065.0,1097.9 L1066.0,1097.4 L1067.0,1097.0 L1068.0,1096.5 L1069.0,1096.1 L1070.0,1095.7 L1071.0,1095.2 L1072.0,1094.8 L1073.0,1094.4 L1074.0,1094.1 L1075.0,1093.9 L1076.0,1094.0 L1077.0,1094.5 L1078.0,1095.3 L1079.0,1096.3 L1080.0,1097.3 L1081.0,1098.3 L1082.0,1099.3 L1083.0,1100.5 L1084.0,1102.0 L1085.0,1103.5 L1086.0,1105.0 L1087.0,1106.0 L1088.0,1106.5 L1089.0,1106.2 L1090.0,1105.1 L1091.0,1103.5 L1092.0,1101.6 L1093.0,1099.7 L1094.0,1097.9 L1095.0,1096.3 L1096.0,1094.9 L1097.0,1093.4 L1098.0,1091.5 L1099.0,1089.0 L1100.0,1086.3 L1101.0,1083.9 L1102.0,1082.1 L1103.0,1080.8 L1104.0,1079.9 L1105.0,1079.2 L1106.0,1078.6 L1107.0,1078.1 L1108.0,1077.5 L1109.0,1077.0 L1110.0,1076.6 L1111.0,1076.1 L1112.0,1075.6 L1113.0,1075.2 L1114.0,1074.8 L1115.0,1074.5 L1116.0,1074.4 L1117.0,1074.7 L1118.0,1075.6 L1119.0,1077.6 L1120.0,1080.4 L1121.0,1083.2 L1122.0,1085.2 L1123.0,1086.3 L1124.0,1086.8 L1125.0,1086.9 L1126.0,1086.9 L1127.0,1086.7 L1128.0,1086.4 L1129.0,1086.0 L1130.0,1085.5 L1131.0,1085.0 L1132.0,1084.4 L1133.0,1083.8 L1134.0,1083.2 L1135.0,1082.4 L1136.0,1081.3 L1137.0,1079.7 L1138.0,1076.9 L1139.0,1073.0 L1140.0,1068.8 L1141.0,1065.4 L1142.0,1063.2 L1143.0,1061.9 L1144.0,1061.0 L1145.0,1060.3 L1146.0,1059.8 L1147.0,1059.3 L1148.0,1058.9 L1149.0,1058.4 L1150.0,1058.0 L1151.0,1057.6 L1152.0,1057.3 L1153.0,1057.1 L1154.0,1057.1 L1155.0,1057.6 L1156.0,1059.0 L1157.0,1061.8 L1158.0,1065.2 L1159.0,1068.1 L1160.0,1069.6 L1161.0,1070.2 L1162.0,1070.2 L1163.0,1069.9 L1164.0,1069.6 L1165.0,1069.2 L1166.0,1068.7 L1167.0,1068.3 L1168.0,1067.8 L1169.0,1067.3 L1170.0,1066.7 L1171.0,1065.9 L1172.0,1064.8 L1173.0,1062.9 L1174.0,1059.7 L1175.0,1055.3 L1176.0,1051.3 L1177.0,1048.6 L1178.0,1047.1 L1179.0,1046.2 L1180.0,1045.6 L1181.0,1045.0 L1182.0,1044.6 L1183.0,1044.2 L1184.0,1043.8 L1185.0,1043.4 L1186.0,1043.1 L1187.0,1042.8 L1188.0,1042.9 L1189.0,1043.6 L1190.0,1045.5 L1191.0,1048.8 L1192.0,1052.3 L1193.0,1054.4 L1194.0,1055.2 L1195.0,1055.2 L1196.0,1055.0 L1197.0,1054.6 L1198.0,1054.2 L1199.0,1053.8 L1200.0,1053.3 L1201.0,1052.8 L1202.0,1052.2 L1203.0,1051.4 L1204.0,1050.0 L1205.0,1047.4 L1206.0,1043.1 L1207.0,1038.6 L1208.0,1035.6 L1209.0,1034.1 L1210.0,1033.2 L1211.0,1032.6 L1212.0,1032.1 L1213.0,1031.6 L1214.0,1031.2 L1215.0,1030.8 L1216.0,1030.5 L1217.0,1030.3 L1218.0,1030.4 L1219.0,1031.4 L1220.0,1033.9 L1221.0,1037.5 L1222.0,1040.3 L1223.0,1041.6 L1224.0,1041.8 L1225.0,1041.6 L1226.0,1041.2 L1227.0,1040.8 L1228.0,1040.4 L1229.0,1039.9 L1230.0,1039.3 L1231.0,1038.8 L1232.0,1038.0 L1233.0,1036.7 L1234.0,1034.4 L1235.0,1030.5 L1236.0,1026.2 L1237.0,1023.2 L1238.0,1021.5 L1239.0,1020.6 L1240.0,1020.0 L1241.0,1019.5 L1242.0,1019.0 L1243.0,1018.5 L1244.0,1018.1 L1245.0,1017.7 L1246.0,1017.4 L1247.0,1017.4 L1248.0,1017.9 L1249.0,1019.6 L1250.0,1022.6 L1251.0,1025.6 L1252.0,1027.2 L1253.0,1027.7 L1254.0,1027.6 L1255.0,1027.3 L1256.0,1026.8 L1257.0,1026.4 L1258.0,1025.9 L1259.0,1025.3 L1260.0,1024.8 L1261.0,1024.2 L1262.0,1023.4 L1263.0,1022.2 L1264.0,1020.2 L1265.0,1016.9 L1266.0,1012.9 L1267.0,1009.7 L1268.0,1007.8 L1269.0,1006.7 L1270.0,1005.9 L1271.0,1005.3 L1272.0,1004.7 L1273.0,1004.2 L1274.0,1003.7 L1275.0,1003.2 L1276.0,1002.8 L1277.0,1002.4 L1278.0,1002.2 L1279.0,1002.5 L1280.0,1003.7 L1281.0,1006.2 L1282.0,1009.0 L1283.0,1010.9 L1284.0,1011.6 L1285.0,1011.6 L1286.0,1011.3 L1287.0,1010.9 L1288.0,1010.4 L1289.0,1009.9 L1290.0,1009.3 L1291.0,1008.8 L1292.0,1008.2 L1293.0,1007.5 L1294.0,1006.5 L1295.0,1005.0 L1296.0,1002.4 L1297.0,998.6 L1298.0,994.7 L1299.0,991.9 L1300.0,990.3 L1301.0,989.3 L1302.0,988.5 L1303.0,987.8 L1304.0,987.2 L1305.0,986.6 L1306.0,986.0 L1307.0,985.4 L1308.0,984.9 L1309.0,984.5 L1310.0,984.5 L1311.0,985.2 L1312.0,987.2 L1313.0,990.5 L1314.0,993.3 L1315.0,994.6 L1316.0,995.0 L1317.0,994.8 L1318.0,994.4 L1319.0,993.9 L1320.0,993.4 L1321.0,992.9 L1322.0,992.3 L1323.0,991.7 L1324.0,991.0 L1325.0,990.1 L1326.0,988.6 L1327.0,985.9 L1328.0,981.5 L1329.0,976.7 L1330.0,973.1 L1331.0,971.0 L1332.0,969.7 L1333.0,968.8 L1334.0,968.0 L1335.0,967.3 L1336.0,966.6 L1337.0,966.0 L1338.0,965.4 L1339.0,964.8 L1340.0,964.5 L1341.0,964.6 L1342.0,966.0 L1343.0,969.2 L1344.0,973.5 L1345.0,976.7 L1346.0,978.0 L1347.0,978.2 L1348.0,978.0 L1349.0,977.5 L1350.0,977.0 L1351.0,976.5 L1352.0,975.9 L1353.0,975.3 L1354.0,974.5 L1355.0,973.5 L1356.0,971.8 L1357.0,968.5 L1358.0,963.0 L1359.0,956.9 L1360.0,952.7 L1361.0,950.5 L1362.0,949.2 L1363.0,948.2 L1364.0,947.4 L1365.0,946.7 L1366.0,946.0 L1367.0,945.4 L1368.0,944.8 L1369.0,944.5 L1370.0,944.7 L1371.0,946.3 L1372.0,950.4 L1373.0,956.0 L1374.0,959.9 L1375.0,961.3 L1376.0,961.5 L1377.0,961.2 L1378.0,960.7 L1379.0,960.2 L1380.0,959.6 L1381.0,958.9 L1382.0,958.1 L1383.0,957.1 L1384.0,955.4 L1385.0,952.0 L1386.0,945.8 L1387.0,938.5 L1388.0,933.7 L1389.0,931.3 L1390.0,930.0 L1391.0,929.1 L1392.0,928.3 L1393.0,927.6 L1394.0,927.0 L1395.0,926.4 L1396.0,926.0 L1397.0,926.1 L1398.0,927.4 L1399.0,931.5 L1400.0,937.8 L1401.0,942.6 L1402.0,944.4 L1403.0,944.6 L1404.0,944.3 L1405.0,943.7 L1406.0,943.1 L1407.0,942.4 L1408.0,941.7 L1409.0,940.8 L1410.0,939.3 L1411.0,936.4 L1412.0,930.4 L1413.0,922.4 L1414.0,916.9 L1415.0,914.2 L1416.0,912.9 L1417.0,912.0 L1418.0,911.3 L1419.0,910.6 L1420.0,910.0 L1421.0,909.6 L1422.0,909.4 L1423.0,910.2 L1424.0,913.6 L1425.0,920.2 L1426.0,925.7 L1427.0,927.9 L1428.0,928.2 L1429.0,927.9 L1430.0,927.4 L1431.0,926.8 L1432.0,926.1 L1433.0,925.3 L1434.0,924.1 L1435.0,922.1 L1436.0,918.1 L1437.0,910.8 L1438.0,903.6 L1439.0,899.6 L1440.0,897.8 L1441.0,896.7 L1442.0,895.8 L1443.0,895.1 L1444.0,894.6 L1445.0,894.1 L1446.0,894.0 L1447.0,894.7 L1448.0,897.3 L1449.0,903.0 L1450.0,908.4 L1451.0,910.9 L1452.0,911.7 L1453.0,911.9 L1454.0,911.7 L1455.0,911.2 L1456.0,910.3 L1457.0,908.8 L1458.0,906.9 L1459.0,903.8 L1460.0,898.7 L1461.0,891.8 L1462.0,886.7 L1463.0,884.0 L1464.0,882.5 L1465.0,881.3 L1466.0,880.4 L1467.0,879.9 L1468.0,879.6 L1469.0,879.8 L1470.0,880.6 L1471.0,883.1 L1472.0,887.7 L1473.0,892.0 L1474.0,894.5 L1475.0,896.0 L1476.0,896.8 L1477.0,896.9 L1478.0,896.0 L1479.0,894.2 L1480.0,891.5 L1481.0,887.8 L1482.0,882.9 L1483.0,877.0 L1484.0,872.6 L1485.0,869.8 L1486.0,867.9 L1487.0,866.4 L1488.0,865.4 L1489.0,865.1 L1490.0,865.3 L1491.0,866.3 L1492.0,868.5 L1493.0,872.3 L1494.0,876.3 L1495.0,879.7 L1496.0,882.5 L1497.0,884.4 L1498.0,884.8 L1499.0,883.6 L1500.0,880.8 L1501.0,876.5 L1502.0,871.4 L1503.0,865.9 L1504.0,861.0 L1505.0,857.3 L1506.0,854.5 L1507.0,852.3 L1508.0,850.7 L1509.0,850.3 L1510.0,850.6 L1511.0,851.7 L1512.0,853.9 L1513.0,857.1 L1514.0,861.0 L1515.0,864.8 L1516.0,867.8 L1517.0,869.3 L1518.0,868.6 L1519.0,865.6 L1520.0,860.7 L1521.0,854.8 L1522.0,848.5 L1523.0,842.7 L1524.0,837.9 L1525.0,834.0 L1526.0,831.1 L1527.0,828.9 L1528.0,827.8 L1529.0,827.8 L1530.0,828.5 L1531.0,830.2 L1532.0,832.9 L1533.0,836.7 L1534.0,841.0 L1535.0,845.1 L1536.0,848.0 L1537.0,849.0 L1538.0,847.5 L1539.0,843.7 L1540.0,838.1 L1541.0,831.7 L1542.0,825.4 L1543.0,819.8 L1544.0,815.3 L1545.0,811.9 L1546.0,809.4 L1547.0,807.7 L1548.0,807.6 L1549.0,808.2 L1550.0,809.9 L1551.0,812.6 L1552.0,816.5 L1553.0,821.1 L1554.0,825.5 L1555.0,828.6 L1556.0,829.5 L1557.0,827.7 L1558.0,823.4 L1559.0,817.3 L1560.0,810.6 L1561.0,804.2 L1562.0,798.8 L1563.0,794.6 L1564.0,791.5 L1565.0,789.3 L1566.0,788.5 L1567.0,788.9 L1568.0,790.3 L1569.0,793.0 L1570.0,797.0 L1571.0,802.0 L1572.0,806.8 L1573.0,810.2 L1574.0,810.9 L1575.0,808.2 L1576.0,802.6 L1577.0,795.3 L1578.0,787.9 L1579.0,781.6 L1580.0,776.9 L1581.0,773.7 L1582.0,771.5 L1583.0,771.5 L1584.0,772.6 L1585.0,775.2 L1586.0,779.5 L1587.0,784.9 L1588.0,790.2 L1589.0,793.8 L1590.0,794.2 L1591.0,791.0 L1592.0,784.9 L1593.0,777.4 L1594.0,770.2 L1595.0,764.2 L1596.0,759.9 L1597.0,757.0 L1598.0,755.3 L1599.0,755.6 L1600.0,757.1 L1601.0,760.3 L1602.0,765.3 L1603.0,771.3 L1604.0,776.3 L1605.0,778.4 L1606.0,775.9 L1607.0,769.4 L1608.0,760.9 L1609.0,752.9 L1610.0,747.0 L1611.0,743.1 L1612.0,741.0 L1613.0,741.4 L1614.0,743.6 L1615.0,747.8 L1616.0,753.9 L1617.0,760.0 L1618.0,763.9 L1619.0,763.6 L1620.0,758.9 L1621.0,751.5 L1622.0,743.4 L1623.0,736.6 L1624.0,731.7 L1625.0,728.6 L1626.0,727.0 L1627.0,727.5 L1628.0,729.6 L1629.0,733.7 L1630.0,739.5 L1631.0,745.5 L1632.0,749.4 L1633.0,748.9 L1634.0,743.6 L1635.0,735.3 L1636.0,727.0 L1637.0,720.5 L1638.0,716.3 L1639.0,713.8 L1640.0,714.0 L1641.0,715.9 L1642.0,720.0 L1643.0,725.9 L1644.0,732.1 L1645.0,735.9 L1646.0,735.3 L1647.0,730.2 L1648.0,722.5 L1649.0,714.6 L1650.0,708.2 L1651.0,703.9 L1652.0,701.2 L1653.0,700.5 L1654.0,701.5 L1655.0,704.3 L1656.0,709.1 L1657.0,715.1 L1658.0,720.1 L1659.0,721.7 L1660.0,718.7 L1661.0,712.0 L1662.0,703.9 L1663.0,696.9 L1664.0,691.9 L1665.0,688.8 L1666.0,687.5 L1667.0,688.3 L1668.0,690.8 L1669.0,695.4 L1670.0,701.2 L1671.0,706.1 L1672.0,707.4 L1673.0,704.0 L1674.0,697.0 L1675.0,689.1 L1676.0,682.6 L1677.0,678.3 L1678.0,675.7 L1679.0,675.4 L1680.0,676.8 L1681.0,680.1 L1682.0,685.1 L1683.0,690.3 L1684.0,693.3 L1685.0,692.4 L1686.0,687.4 L1687.0,680.4 L1688.0,673.6 L1689.0,668.4 L1690.0,664.9 L1691.0,662.8 L1692.0,662.8 L1693.0,664.1 L1694.0,667.0 L1695.0,671.3 L1696.0,675.9 L1697.0,678.5 L1698.0,677.7 L1699.0,673.2 L1700.0,666.7 L1701.0,660.3 L1702.0,655.3 L1703.0,652.0 L1704.0,649.9 L1705.0,649.7 L1706.0,650.7 L1707.0,653.2 L1708.0,657.2 L1709.0,661.4 L1710.0,663.9 L1711.0,662.8 L1712.0,658.3 L1713.0,651.9 L1714.0,645.9 L1715.0,641.4 L1716.0,638.4 L1717.0,636.9 L1718.0,637.1 L1719.0,638.6 L1720.0,641.7 L1721.0,645.8 L1722.0,649.1 L1723.0,649.8 L1724.0,646.9 L1725.0,641.4 L1726.0,635.3 L1727.0,630.2 L1728.0,626.7 L1729.0,624.5 L1730.0,623.9 L1731.0,624.5 L1732.0,626.6 L1733.0,630.0 L1734.0,633.6 L1735.0,635.6 L1736.0,634.4 L1737.0,630.1 L1738.0,624.3 L1739.0,618.7 L1740.0,614.6 L1741.0,611.8 L1742.0,610.2 L1743.0,610.2 L1744.0,611.3 L1745.0,613.8 L1746.0,617.2 L1747.0,619.9 L1748.0,620.2 L1749.0,617.4 L1750.0,612.3 L1751.0,606.6 L1752.0,601.7 L1753.0,598.3 L1754.0,595.9 L1755.0,595.0 L1756.0,595.1 L1757.0,596.5 L1758.0,599.2 L1759.0,602.1 L1760.0,603.5 L1761.0,601.9 L1762.0,597.3 L1763.0,591.5 L1764.0,586.1 L1765.0,582.1 L1766.0,579.3 L1767.0,577.9 L1768.0,577.8 L1769.0,578.9 L1770.0,581.3 L1771.0,583.9 L1772.0,585.2 L1773.0,583.6 L1774.0,579.1 L1775.0,573.1 L1776.0,567.4 L1777.0,563.1 L1778.0,560.0 L1779.0,558.4 L1780.0,558.3 L1781.0,559.9 L1782.0,563.2 L1783.0,567.1 L1784.0,569.2 L1785.0,567.7 L1786.0,562.4 L1787.0,555.2 L1788.0,548.6 L1789.0,543.7 L1790.0,540.5 L1791.0,539.2 L1792.0,539.6 L1793.0,542.0 L1794.0,546.4 L1795.0,551.3 L1796.0,554.2 L1797.0,552.7 L1798.0,547.0 L1799.0,539.4 L1800.0,532.5 L1801.0,527.7 L1802.0,524.7 L1803.0,523.8 L1804.0,524.7 L1805.0,527.6 L1806.0,532.5 L1807.0,537.9 L1808.0,541.0 L1809.0,539.7 L1810.0,534.2 L1811.0,526.8 L1812.0,520.2 L1813.0,515.6 L1814.0,512.9 L1815.0,512.2 L1816.0,513.3 L1817.0,516.3 L1818.0,521.1 L1819.0,526.4 L1820.0,529.5 L1821.0,528.3 L1822.0,523.0 L1823.0,515.9 L1824.0,509.5 L1825.0,505.1 L1826.0,502.5 L1827.0,501.8 L1828.0,502.8 L1829.0,505.5 L1830.0,510.0 L1831.0,514.9 L1832.0,517.7 L1833.0,516.3 L1834.0,511.1 L1835.0,504.3 L1836.0,498.1 L1837.0,493.8 L1838.0,491.1 L1839.0,490.1 L1840.0,490.8 L1841.0,493.1 L1842.0,497.0 L1843.0,501.3 L1844.0,503.5 L1845.0,502.0 L1846.0,496.8 L1847.0,490.1 L1848.0,484.1 L1849.0,479.7 L1850.0,476.9 L1851.0,475.8 L1852.0,476.1 L1853.0,477.8 L1854.0,481.1 L1855.0,484.6 L1856.0,486.3 L1857.0,484.4 L1858.0,479.3 L1859.0,472.8 L1860.0,466.9 L1861.0,462.5 L1862.0,459.5 L1863.0,457.9 L1864.0,457.6 L1865.0,458.7 L1866.0,461.0 L1867.0,463.5 L1868.0,464.4 L1869.0,462.0 L1870.0,456.8 L1871.0,450.3 L1872.0,444.3 L1873.0,439.8 L1874.0,436.4 L1875.0,434.4 L1876.0,433.5 L1877.0,433.7 L1878.0,435.1 L1879.0,439.1"/>
<path mask="url(#mR)" fill="#2f68bc" stroke="none" d="M1580.0,753.8 L1582.0,751.7 L1584.0,749.6 L1586.0,747.5 L1588.0,745.5 L1590.0,743.4 L1592.0,741.3 L1594.0,739.2 L1596.0,737.1 L1598.0,735.1 L1600.0,733.0 L1602.0,730.9 L1604.0,728.9 L1606.0,726.8 L1608.0,724.8 L1610.0,722.7 L1612.0,720.7 L1614.0,718.7 L1616.0,716.6 L1618.0,714.6 L1620.0,712.6 L1622.0,710.6 L1624.0,708.6 L1626.0,706.6 L1628.0,704.6 L1630.0,702.6 L1632.0,700.6 L1634.0,698.6 L1636.0,696.6 L1638.0,694.6 L1640.0,692.6 L1642.0,690.6 L1644.0,688.7 L1646.0,686.7 L1648.0,684.7 L1650.0,682.7 L1652.0,680.7 L1654.0,678.8 L1656.0,676.8 L1658.0,674.8 L1660.0,672.8 L1662.0,670.9 L1664.0,668.9 L1666.0,666.9 L1668.0,664.9 L1670.0,662.9 L1672.0,661.0 L1674.0,659.0 L1676.0,657.0 L1678.0,655.0 L1680.0,653.0 L1682.0,651.0 L1684.0,649.1 L1686.0,647.1 L1688.0,645.1 L1690.0,643.1 L1692.0,641.1 L1694.0,639.0 L1696.0,637.0 L1698.0,635.0 L1700.0,633.0 L1702.0,631.0 L1704.0,629.0 L1706.0,627.1 L1708.0,625.2 L1710.0,623.3 L1712.0,621.4 L1714.0,619.6 L1716.0,617.7 L1718.0,615.9 L1720.0,614.0 L1722.0,612.1 L1724.0,610.2 L1726.0,608.3 L1728.0,606.4 L1730.0,604.4 L1732.0,602.4 L1734.0,600.4 L1736.0,598.3 L1738.0,596.2 L1740.0,594.0 L1742.0,591.7 L1744.0,589.4 L1746.0,587.0 L1748.0,584.6 L1750.0,582.0 L1752.0,579.3 L1754.0,576.4 L1756.0,573.3 L1758.0,570.0 L1760.0,566.5 L1762.0,562.9 L1764.0,559.2 L1766.0,555.4 L1768.0,551.5 L1770.0,547.5 L1772.0,543.5 L1774.0,539.5 L1776.0,535.4 L1778.0,531.4 L1780.0,527.4 L1782.0,523.4 L1784.0,519.5 L1786.0,515.7 L1788.0,512.0 L1790.0,508.4 L1792.0,505.0 L1794.0,501.7 L1796.0,498.6 L1798.0,495.7 L1800.0,493.0 L1802.0,490.5 L1804.0,488.0 L1806.0,485.7 L1808.0,483.4 L1810.0,481.2 L1812.0,479.1 L1814.0,477.0 L1816.0,475.0 L1818.0,473.1 L1820.0,471.1 L1822.0,469.2 L1824.0,467.3 L1826.0,465.4 L1828.0,463.6 L1830.0,461.7 L1832.0,459.8 L1834.0,457.9 L1836.0,456.0 L1838.0,454.0 L1840.0,452.0 L1842.0,450.0 L1844.0,448.2 L1846.0,446.3 L1848.0,444.5 L1850.0,442.7 L1852.0,440.8 L1854.0,438.8 L1856.0,436.7 L1858.0,434.5 L1860.0,432.0 L1862.0,429.3 L1864.0,426.3 L1866.0,423.1 L1868.0,419.7 L1870.0,416.1 L1872.0,412.3 L1874.0,408.3 L1876.0,404.2 L1878.0,400.0 L1878.0,428.0 L1876.0,432.4 L1874.0,436.8 L1872.0,441.0 L1870.0,445.1 L1868.0,449.0 L1866.0,452.8 L1864.0,456.4 L1862.0,459.8 L1860.0,463.0 L1858.0,466.1 L1856.0,469.0 L1854.0,471.8 L1852.0,474.5 L1850.0,477.1 L1848.0,479.6 L1846.0,482.1 L1844.0,484.4 L1842.0,486.7 L1840.0,489.0 L1838.0,491.2 L1836.0,493.3 L1834.0,495.3 L1832.0,497.2 L1830.0,499.0 L1828.0,500.8 L1826.0,502.6 L1824.0,504.3 L1822.0,506.0 L1820.0,507.7 L1818.0,509.4 L1816.0,511.2 L1814.0,512.9 L1812.0,514.7 L1810.0,516.6 L1808.0,518.5 L1806.0,520.5 L1804.0,522.5 L1802.0,524.7 L1800.0,527.0 L1798.0,529.4 L1796.0,532.0 L1794.0,534.7 L1792.0,537.6 L1790.0,540.6 L1788.0,543.7 L1786.0,546.9 L1784.0,550.1 L1782.0,553.4 L1780.0,556.8 L1778.0,560.2 L1776.0,563.7 L1774.0,567.2 L1772.0,570.6 L1770.0,574.1 L1768.0,577.5 L1766.0,580.9 L1764.0,584.2 L1762.0,587.5 L1760.0,590.7 L1758.0,593.8 L1756.0,596.8 L1754.0,599.7 L1752.0,602.4 L1750.0,605.0 L1748.0,607.5 L1746.0,609.9 L1744.0,612.3 L1742.0,614.6 L1740.0,616.9 L1738.0,619.2 L1736.0,621.3 L1734.0,623.5 L1732.0,625.6 L1730.0,627.7 L1728.0,629.8 L1726.0,631.8 L1724.0,633.9 L1722.0,635.9 L1720.0,637.9 L1718.0,639.9 L1716.0,641.8 L1714.0,643.8 L1712.0,645.8 L1710.0,647.8 L1708.0,649.8 L1706.0,651.8 L1704.0,653.9 L1702.0,655.9 L1700.0,658.0 L1698.0,660.1 L1696.0,662.2 L1694.0,664.3 L1692.0,666.4 L1690.0,668.4 L1688.0,670.5 L1686.0,672.6 L1684.0,674.7 L1682.0,676.8 L1680.0,678.9 L1678.0,680.9 L1676.0,683.0 L1674.0,685.1 L1672.0,687.2 L1670.0,689.2 L1668.0,691.3 L1666.0,693.4 L1664.0,695.4 L1662.0,697.5 L1660.0,699.6 L1658.0,701.6 L1656.0,703.7 L1654.0,705.8 L1652.0,707.8 L1650.0,709.9 L1648.0,712.0 L1646.0,714.0 L1644.0,716.1 L1642.0,718.1 L1640.0,720.2 L1638.0,722.2 L1636.0,724.3 L1634.0,726.3 L1632.0,728.4 L1630.0,730.4 L1628.0,732.5 L1626.0,734.5 L1624.0,736.6 L1622.0,738.6 L1620.0,740.6 L1618.0,742.7 L1616.0,744.7 L1614.0,746.8 L1612.0,748.8 L1610.0,750.8 L1608.0,752.9 L1606.0,754.9 L1604.0,756.9 L1602.0,759.0 L1600.0,761.0 L1598.0,763.0 L1596.0,765.1 L1594.0,767.1 L1592.0,769.1 L1590.0,771.1 L1588.0,773.2 L1586.0,775.2 L1584.0,777.2 L1582.0,779.2 L1580.0,781.2Z"/>
<path stroke="#2f68bc" d="M341.0,1288.0 L344.5,1320.0 L350.0,1235.0 L357.0,1125.0 L362.0,1160.0 L368.0,1190.0 L374.0,1170.0 L380.0,1160.0 L383.0,1161.8 L384.0,1162.6 L385.0,1163.6 L386.0,1164.8 L387.0,1166.5 L388.0,1168.5 L389.0,1170.9 L390.0,1173.7 L391.0,1176.8 L392.0,1180.3 L393.0,1184.0 L394.0,1187.8 L395.0,1191.6 L396.0,1195.1 L397.0,1198.2 L398.0,1200.8 L399.0,1202.7 L400.0,1203.8 L401.0,1204.0 L402.0,1203.2 L403.0,1201.7 L404.0,1199.3 L405.0,1196.4 L406.0,1193.0 L407.0,1189.3 L408.0,1185.4 L409.0,1181.7 L410.0,1178.1 L411.0,1174.8 L412.0,1171.8 L413.0,1169.3 L414.0,1167.1 L415.0,1165.4 L416.0,1164.0 L417.0,1162.9 L418.0,1162.0 L419.0,1161.4 L420.0,1160.9 L421.0,1160.6 L422.0,1160.4 L423.0,1160.3 L424.0,1160.2 L425.0,1160.1 L426.0,1160.1 L427.0,1160.0 L428.0,1160.0 L429.0,1160.0 L430.0,1160.0 L431.0,1160.0 L432.0,1160.0 L433.0,1160.0 L434.0,1160.0 L435.0,1160.0 L436.0,1160.0 L437.0,1160.0 L438.0,1160.0 L439.0,1160.0 L440.0,1160.0 L441.0,1160.0 L442.0,1160.0 L443.0,1160.0 L444.0,1160.0 L445.0,1160.0 L446.0,1160.0 L447.0,1160.0 L448.0,1160.0 L449.0,1160.0 L450.0,1160.0 L451.0,1160.1 L452.0,1160.1 L453.0,1160.2 L454.0,1160.3 L455.0,1160.4 L456.0,1160.6 L457.0,1161.0 L458.0,1161.4 L459.0,1162.0 L460.0,1162.9 L461.0,1164.0 L462.0,1165.4 L463.0,1167.2 L464.0,1169.4 L465.0,1172.0 L466.0,1175.0 L467.0,1178.3 L468.0,1182.0 L469.0,1185.8 L470.0,1189.6 L471.0,1193.4 L472.0,1196.8 L473.0,1199.7 L474.0,1202.0 L475.0,1203.4 L476.0,1204.0 L477.0,1203.6 L478.0,1202.4 L479.0,1200.3 L480.0,1197.5 L481.0,1194.2 L482.0,1190.5 L483.0,1186.7 L484.0,1182.8 L485.0,1179.1 L486.0,1175.6 L487.0,1172.5 L488.0,1169.8 L489.0,1167.5 L490.0,1165.7 L491.0,1164.2 L492.0,1163.0 L493.0,1162.1 L494.0,1161.5 L495.0,1161.0 L496.0,1160.6 L497.0,1160.4 L498.0,1160.3 L499.0,1160.2 L500.0,1160.1 L501.0,1160.1 L502.0,1160.0 L503.0,1160.0 L504.0,1160.0 L505.0,1160.0 L506.0,1160.0 L507.0,1160.0 L508.0,1160.0 L509.0,1160.0 L510.0,1160.0 L511.0,1160.0 L512.0,1160.0 L513.0,1160.0 L514.0,1160.0 L515.0,1160.0 L516.0,1160.0 L517.0,1160.0 L518.0,1160.0 L519.0,1160.0 L520.0,1160.0 L521.0,1160.0 L522.0,1160.0 L523.0,1160.0 L524.0,1160.0 L525.0,1160.0 L526.0,1160.0 L527.0,1160.1 L528.0,1160.2 L529.0,1160.3 L530.0,1160.6 L531.0,1160.9 L532.0,1161.4 L533.0,1162.1 L534.0,1163.0 L535.0,1164.3 L536.0,1165.8 L537.0,1167.8 L538.0,1170.2 L539.0,1173.0 L540.0,1176.3 L541.0,1179.8 L542.0,1183.5 L543.0,1187.3 L544.0,1190.9 L545.0,1194.3 L546.0,1197.1 L547.0,1199.2 L548.0,1200.4 L549.0,1200.7 L550.0,1200.1 L551.0,1198.5 L552.0,1196.1 L553.0,1193.1 L554.0,1189.6 L555.0,1185.8 L556.0,1182.0 L557.0,1178.2 L558.0,1174.8 L559.0,1171.6 L560.0,1168.9 L561.0,1166.7 L562.0,1164.8 L563.0,1163.3 L564.0,1162.2 L565.0,1161.4 L566.0,1160.8 L567.0,1160.3 L568.0,1160.0 L569.0,1159.8 L570.0,1159.7 L571.0,1159.6 L572.0,1159.5 L573.0,1159.5 L574.0,1159.5 L575.0,1159.4 L576.0,1159.4 L577.0,1159.4 L578.0,1159.4 L579.0,1159.4 L580.0,1159.4 L581.0,1159.3 L582.0,1159.3 L583.0,1159.3 L584.0,1159.3 L585.0,1159.3 L586.0,1159.3 L587.0,1159.3 L588.0,1159.2 L589.0,1159.2 L590.0,1159.2 L591.0,1159.2 L592.0,1159.2 L593.0,1159.2 L594.0,1159.2 L595.0,1159.2 L596.0,1159.2 L597.0,1159.2 L598.0,1159.3 L599.0,1159.4 L600.0,1159.6 L601.0,1159.9 L602.0,1160.4 L603.0,1161.0 L604.0,1161.9 L605.0,1163.1 L606.0,1164.6 L607.0,1166.5 L608.0,1168.8 L609.0,1171.5 L610.0,1174.4 L611.0,1177.6 L612.0,1180.9 L613.0,1184.1 L614.0,1186.9 L615.0,1189.3 L616.0,1191.1 L617.0,1192.0 L618.0,1192.1 L619.0,1191.2 L620.0,1189.6 L621.0,1187.3 L622.0,1184.4 L623.0,1181.3 L624.0,1177.9 L625.0,1174.7 L626.0,1171.6 L627.0,1168.8 L628.0,1166.4 L629.0,1164.4 L630.0,1162.7 L631.0,1161.5 L632.0,1160.5 L633.0,1159.8 L634.0,1159.3 L635.0,1158.9 L636.0,1158.7 L637.0,1158.5 L638.0,1158.4 L639.0,1158.3 L640.0,1158.3 L641.0,1158.2 L642.0,1158.2 L643.0,1158.2 L644.0,1158.1 L645.0,1158.1 L646.0,1158.1 L647.0,1158.1 L648.0,1158.0 L649.0,1158.0 L650.0,1158.0 L651.0,1158.0 L652.0,1158.0 L653.0,1157.9 L654.0,1157.9 L655.0,1157.9 L656.0,1157.8 L657.0,1157.8 L658.0,1157.8 L659.0,1157.7 L660.0,1157.7 L661.0,1157.7 L662.0,1157.7 L663.0,1157.7 L664.0,1157.7 L665.0,1157.8 L666.0,1157.9 L667.0,1158.1 L668.0,1158.4 L669.0,1158.9 L670.0,1159.7 L671.0,1160.7 L672.0,1162.0 L673.0,1163.7 L674.0,1165.8 L675.0,1168.3 L676.0,1171.1 L677.0,1174.2 L678.0,1177.4 L679.0,1180.6 L680.0,1183.6 L681.0,1186.1 L682.0,1188.0 L683.0,1189.2 L684.0,1189.4 L685.0,1188.8 L686.0,1187.3 L687.0,1185.0 L688.0,1182.2 L689.0,1179.0 L690.0,1175.6 L691.0,1172.3 L692.0,1169.1 L693.0,1166.2 L694.0,1163.7 L695.0,1161.6 L696.0,1159.9 L697.0,1158.6 L698.0,1157.6 L699.0,1156.8 L700.0,1156.3 L701.0,1155.9 L702.0,1155.6 L703.0,1155.4 L704.0,1155.2 L705.0,1155.1 L706.0,1155.0 L707.0,1154.9 L708.0,1154.8 L709.0,1154.7 L710.0,1154.6 L711.0,1154.5 L712.0,1154.4 L713.0,1154.3 L714.0,1154.3 L715.0,1154.2 L716.0,1154.1 L717.0,1154.0 L718.0,1153.9 L719.0,1153.8 L720.0,1153.7 L721.0,1153.6 L722.0,1153.5 L723.0,1153.4 L724.0,1153.3 L725.0,1153.3 L726.0,1153.2 L727.0,1153.1 L728.0,1153.1 L729.0,1153.1 L730.0,1153.2 L731.0,1153.4 L732.0,1153.8 L733.0,1154.5 L734.0,1155.4 L735.0,1156.7 L736.0,1158.5 L737.0,1160.8 L738.0,1163.6 L739.0,1167.0 L740.0,1170.7 L741.0,1174.6 L742.0,1178.5 L743.0,1182.1 L744.0,1185.0 L745.0,1187.0 L746.0,1188.0 L747.0,1187.7 L748.0,1186.3 L749.0,1183.8 L750.0,1180.4 L751.0,1176.5 L752.0,1172.3 L753.0,1168.1 L754.0,1164.3 L755.0,1160.8 L756.0,1157.9 L757.0,1155.5 L758.0,1153.7 L759.0,1152.3 L760.0,1151.2 L761.0,1150.5 L762.0,1150.0 L763.0,1149.6 L764.0,1149.3 L765.0,1149.1 L766.0,1149.0 L767.0,1148.8 L768.0,1148.7 L769.0,1148.6 L770.0,1148.5 L771.0,1148.4 L772.0,1148.2 L773.0,1148.1 L774.0,1148.0 L775.0,1147.9 L776.0,1147.8 L777.0,1147.7 L778.0,1147.6 L779.0,1147.4 L780.0,1147.3 L781.0,1147.2 L782.0,1147.1 L783.0,1147.0 L784.0,1146.9 L785.0,1146.8 L786.0,1146.7 L787.0,1146.6 L788.0,1146.6 L789.0,1146.7 L790.0,1146.9 L791.0,1147.3 L792.0,1148.0 L793.0,1149.0 L794.0,1150.5 L795.0,1152.5 L796.0,1155.1 L797.0,1158.3 L798.0,1162.1 L799.0,1166.3 L800.0,1170.6 L801.0,1174.8 L802.0,1178.5 L803.0,1181.4 L804.0,1183.0 L805.0,1183.4 L806.0,1182.3 L807.0,1179.9 L808.0,1176.5 L809.0,1172.3 L810.0,1167.7 L811.0,1163.1 L812.0,1158.8 L813.0,1154.9 L814.0,1151.7 L815.0,1149.0 L816.0,1147.0 L817.0,1145.5 L818.0,1144.4 L819.0,1143.6 L820.0,1143.1 L821.0,1142.7 L822.0,1142.5 L823.0,1142.2 L824.0,1142.1 L825.0,1141.9 L826.0,1141.8 L827.0,1141.6 L828.0,1141.5 L829.0,1141.3 L830.0,1141.2 L831.0,1141.1 L832.0,1140.9 L833.0,1140.8 L834.0,1140.7 L835.0,1140.5 L836.0,1140.4 L837.0,1140.2 L838.0,1140.1 L839.0,1140.0 L840.0,1139.8 L841.0,1139.7 L842.0,1139.6 L843.0,1139.5 L844.0,1139.4 L845.0,1139.4 L846.0,1139.4 L847.0,1139.7 L848.0,1140.1 L849.0,1140.8 L850.0,1141.9 L851.0,1143.6 L852.0,1145.7 L853.0,1148.5 L854.0,1151.8 L855.0,1155.5 L856.0,1159.5 L857.0,1163.3 L858.0,1166.7 L859.0,1169.3 L860.0,1170.8 L861.0,1171.0 L862.0,1169.8 L863.0,1167.4 L864.0,1164.1 L865.0,1160.0 L866.0,1155.8 L867.0,1151.5 L868.0,1147.6 L869.0,1144.3 L870.0,1141.5 L871.0,1139.3 L872.0,1137.6 L873.0,1136.4 L874.0,1135.6 L875.0,1135.0 L876.0,1134.5 L877.0,1134.2 L878.0,1133.9 L879.0,1133.7 L880.0,1133.5 L881.0,1133.4 L882.0,1133.2 L883.0,1133.0 L884.0,1132.8 L885.0,1132.7 L886.0,1132.5 L887.0,1132.3 L888.0,1132.1 L889.0,1132.0 L890.0,1131.8 L891.0,1131.6 L892.0,1131.4 L893.0,1131.2 L894.0,1131.1 L895.0,1130.9 L896.0,1130.7 L897.0,1130.6 L898.0,1130.4 L899.0,1130.4 L900.0,1130.3 L901.0,1130.5 L902.0,1130.8 L903.0,1131.3 L904.0,1132.3 L905.0,1133.7 L906.0,1135.5 L907.0,1137.9 L908.0,1140.7 L909.0,1143.8 L910.0,1146.9 L911.0,1149.8 L912.0,1152.0 L913.0,1153.4 L914.0,1153.6 L915.0,1152.7 L916.0,1150.7 L917.0,1147.9 L918.0,1144.5 L919.0,1141.0 L920.0,1137.5 L921.0,1134.4 L922.0,1131.7 L923.0,1129.6 L924.0,1128.0 L925.0,1126.8 L926.0,1125.9 L927.0,1125.3 L928.0,1124.8 L929.0,1124.5 L930.0,1124.2 L931.0,1123.9 L932.0,1123.7 L933.0,1123.5 L934.0,1123.3 L935.0,1123.1 L936.0,1122.9 L937.0,1122.6 L938.0,1122.4 L939.0,1122.2 L940.0,1122.0 L941.0,1121.8 L942.0,1121.6 L943.0,1121.4 L944.0,1121.2 L945.0,1120.9 L946.0,1120.7 L947.0,1120.5 L948.0,1120.3 L949.0,1120.1 L950.0,1120.0 L951.0,1119.9 L952.0,1119.9 L953.0,1120.0 L954.0,1120.4 L955.0,1121.1 L956.0,1122.1 L957.0,1123.5 L958.0,1125.3 L959.0,1127.4 L960.0,1129.8 L961.0,1132.1 L962.0,1134.1 L963.0,1135.6 L964.0,1136.3 L965.0,1136.1 L966.0,1135.0 L967.0,1133.0 L968.0,1130.5 L969.0,1127.7 L970.0,1124.9 L971.0,1122.2 L972.0,1119.9 L973.0,1118.1 L974.0,1116.6 L975.0,1115.5 L976.0,1114.7 L977.0,1114.1 L978.0,1113.7 L979.0,1113.3 L980.0,1113.0 L981.0,1112.7 L982.0,1112.5 L983.0,1112.2 L984.0,1112.0 L985.0,1111.7 L986.0,1111.5 L987.0,1111.2 L988.0,1111.0 L989.0,1110.8 L990.0,1110.5 L991.0,1110.3 L992.0,1110.0 L993.0,1109.8 L994.0,1109.5 L995.0,1109.3 L996.0,1109.0 L997.0,1108.8 L998.0,1108.6 L999.0,1108.4 L1000.0,1108.3 L1001.0,1108.3 L1002.0,1108.4 L1003.0,1108.9 L1004.0,1109.6 L1005.0,1110.8 L1006.0,1112.4 L1007.0,1114.4 L1008.0,1116.7 L1009.0,1119.0 L1010.0,1120.9 L1011.0,1122.2 L1012.0,1122.7 L1013.0,1122.2 L1014.0,1120.7 L1015.0,1118.4 L1016.0,1115.6 L1017.0,1112.7 L1018.0,1110.0 L1019.0,1107.6 L1020.0,1105.6 L1021.0,1104.1 L1022.0,1102.9 L1023.0,1102.1 L1024.0,1101.4 L1025.0,1100.9 L1026.0,1100.5 L1027.0,1100.2 L1028.0,1099.8 L1029.0,1099.5 L1030.0,1099.1 L1031.0,1098.8 L1032.0,1098.5 L1033.0,1098.1 L1034.0,1097.8 L1035.0,1097.4 L1036.0,1097.1 L1037.0,1096.7 L1038.0,1096.4 L1039.0,1096.0 L1040.0,1095.7 L1041.0,1095.3 L1042.0,1095.0 L1043.0,1094.7 L1044.0,1094.4 L1045.0,1094.1 L1046.0,1094.0 L1047.0,1094.1 L1048.0,1094.5 L1049.0,1095.1 L1050.0,1096.3 L1051.0,1097.8 L1052.0,1099.8 L1053.0,1102.0 L1054.0,1104.1 L1055.0,1106.0 L1056.0,1107.1 L1057.0,1107.4 L1058.0,1106.6 L1059.0,1105.0 L1060.0,1102.6 L1061.0,1099.9 L1062.0,1097.2 L1063.0,1094.8 L1064.0,1092.7 L1065.0,1091.0 L1066.0,1089.6 L1067.0,1088.4 L1068.0,1087.2 L1069.0,1086.1 L1070.0,1085.1 L1071.0,1084.3 L1072.0,1083.7 L1073.0,1083.2 L1074.0,1082.7 L1075.0,1082.3 L1076.0,1081.8 L1077.0,1081.4 L1078.0,1081.0 L1079.0,1080.6 L1080.0,1080.2 L1081.0,1079.8 L1082.0,1079.4 L1083.0,1079.0 L1084.0,1078.6 L1085.0,1078.4 L1086.0,1078.2 L1087.0,1078.3 L1088.0,1078.9 L1089.0,1080.0 L1090.0,1081.4 L1091.0,1082.9 L1092.0,1084.2 L1093.0,1085.2 L1094.0,1086.1 L1095.0,1087.1 L1096.0,1088.0 L1097.0,1088.8 L1098.0,1089.5 L1099.0,1089.8 L1100.0,1089.7 L1101.0,1089.1 L1102.0,1088.2 L1103.0,1087.1 L1104.0,1085.9 L1105.0,1084.6 L1106.0,1083.4 L1107.0,1082.2 L1108.0,1080.8 L1109.0,1078.9 L1110.0,1076.3 L1111.0,1073.1 L1112.0,1070.3 L1113.0,1068.1 L1114.0,1066.7 L1115.0,1065.7 L1116.0,1065.0 L1117.0,1064.4 L1118.0,1063.9 L1119.0,1063.5 L1120.0,1063.0 L1121.0,1062.6 L1122.0,1062.1 L1123.0,1061.7 L1124.0,1061.4 L1125.0,1061.1 L1126.0,1060.9 L1127.0,1061.0 L1128.0,1061.6 L1129.0,1063.2 L1130.0,1065.9 L1131.0,1069.1 L1132.0,1071.7 L1133.0,1073.2 L1134.0,1073.8 L1135.0,1073.9 L1136.0,1073.8 L1137.0,1073.5 L1138.0,1073.1 L1139.0,1072.7 L1140.0,1072.3 L1141.0,1071.9 L1142.0,1071.4 L1143.0,1070.9 L1144.0,1070.3 L1145.0,1069.6 L1146.0,1068.5 L1147.0,1066.7 L1148.0,1063.7 L1149.0,1059.6 L1150.0,1055.4 L1151.0,1052.3 L1152.0,1050.4 L1153.0,1049.3 L1154.0,1048.6 L1155.0,1048.0 L1156.0,1047.5 L1157.0,1047.0 L1158.0,1046.6 L1159.0,1046.2 L1160.0,1045.8 L1161.0,1045.4 L1162.0,1045.2 L1163.0,1045.1 L1164.0,1045.5 L1165.0,1046.9 L1166.0,1049.6 L1167.0,1053.2 L1168.0,1056.1 L1169.0,1057.7 L1170.0,1058.2 L1171.0,1058.2 L1172.0,1057.9 L1173.0,1057.5 L1174.0,1057.0 L1175.0,1056.6 L1176.0,1056.1 L1177.0,1055.5 L1178.0,1055.0 L1179.0,1054.3 L1180.0,1053.3 L1181.0,1051.8 L1182.0,1049.1 L1183.0,1044.9 L1184.0,1040.4 L1185.0,1037.2 L1186.0,1035.4 L1187.0,1034.3 L1188.0,1033.6 L1189.0,1033.1 L1190.0,1032.6 L1191.0,1032.1 L1192.0,1031.7 L1193.0,1031.3 L1194.0,1030.9 L1195.0,1030.7 L1196.0,1030.8 L1197.0,1031.8 L1198.0,1034.2 L1199.0,1037.8 L1200.0,1040.8 L1201.0,1042.1 L1202.0,1042.4 L1203.0,1042.1 L1204.0,1041.7 L1205.0,1041.2 L1206.0,1040.7 L1207.0,1040.2 L1208.0,1039.6 L1209.0,1038.9 L1210.0,1038.0 L1211.0,1036.7 L1212.0,1034.1 L1213.0,1030.0 L1214.0,1025.6 L1215.0,1022.8 L1216.0,1021.3 L1217.0,1020.5 L1218.0,1019.8 L1219.0,1019.3 L1220.0,1018.8 L1221.0,1018.4 L1222.0,1017.9 L1223.0,1017.5 L1224.0,1017.3 L1225.0,1017.3 L1226.0,1018.2 L1227.0,1020.5 L1228.0,1023.7 L1229.0,1025.9 L1230.0,1026.7 L1231.0,1026.7 L1232.0,1026.4 L1233.0,1025.9 L1234.0,1025.4 L1235.0,1024.8 L1236.0,1024.3 L1237.0,1023.6 L1238.0,1022.9 L1239.0,1022.0 L1240.0,1020.6 L1241.0,1018.1 L1242.0,1014.3 L1243.0,1010.7 L1244.0,1008.5 L1245.0,1007.2 L1246.0,1006.4 L1247.0,1005.8 L1248.0,1005.3 L1249.0,1004.8 L1250.0,1004.3 L1251.0,1003.8 L1252.0,1003.4 L1253.0,1003.0 L1254.0,1002.9 L1255.0,1003.4 L1256.0,1004.9 L1257.0,1007.3 L1258.0,1009.4 L1259.0,1010.3 L1260.0,1010.4 L1261.0,1010.1 L1262.0,1009.7 L1263.0,1009.1 L1264.0,1008.6 L1265.0,1008.0 L1266.0,1007.5 L1267.0,1006.9 L1268.0,1006.2 L1269.0,1005.4 L1270.0,1004.2 L1271.0,1002.2 L1272.0,999.3 L1273.0,996.0 L1274.0,993.6 L1275.0,992.1 L1276.0,991.1 L1277.0,990.4 L1278.0,989.8 L1279.0,989.3 L1280.0,988.7 L1281.0,988.2 L1282.0,987.7 L1283.0,987.2 L1284.0,986.8 L1285.0,986.6 L1286.0,987.0 L1287.0,988.2 L1288.0,990.4 L1289.0,992.3 L1290.0,993.2 L1291.0,993.3 L1292.0,993.0 L1293.0,992.6 L1294.0,992.1 L1295.0,991.6 L1296.0,991.1 L1297.0,990.5 L1298.0,989.9 L1299.0,989.3 L1300.0,988.5 L1301.0,987.4 L1302.0,985.6 L1303.0,982.7 L1304.0,979.3 L1305.0,976.5 L1306.0,974.8 L1307.0,973.8 L1308.0,973.0 L1309.0,972.3 L1310.0,971.7 L1311.0,971.0 L1312.0,970.4 L1313.0,969.9 L1314.0,969.3 L1315.0,968.9 L1316.0,968.7 L1317.0,969.1 L1318.0,970.5 L1319.0,973.1 L1320.0,975.4 L1321.0,976.5 L1322.0,976.7 L1323.0,976.5 L1324.0,976.1 L1325.0,975.6 L1326.0,975.1 L1327.0,974.6 L1328.0,974.0 L1329.0,973.4 L1330.0,972.8 L1331.0,971.9 L1332.0,970.5 L1333.0,968.0 L1334.0,964.1 L1335.0,960.0 L1336.0,957.2 L1337.0,955.5 L1338.0,954.4 L1339.0,953.6 L1340.0,952.9 L1341.0,952.2 L1342.0,951.6 L1343.0,950.9 L1344.0,950.4 L1345.0,949.9 L1346.0,949.6 L1347.0,950.0 L1348.0,951.6 L1349.0,954.8 L1350.0,958.1 L1351.0,959.9 L1352.0,960.4 L1353.0,960.2 L1354.0,959.8 L1355.0,959.3 L1356.0,958.8 L1357.0,958.2 L1358.0,957.6 L1359.0,956.9 L1360.0,956.1 L1361.0,954.9 L1362.0,952.5 L1363.0,948.4 L1364.0,943.1 L1365.0,939.1 L1366.0,936.8 L1367.0,935.5 L1368.0,934.6 L1369.0,933.8 L1370.0,933.1 L1371.0,932.4 L1372.0,931.8 L1373.0,931.2 L1374.0,930.8 L1375.0,930.8 L1376.0,931.9 L1377.0,935.0 L1378.0,939.4 L1379.0,942.6 L1380.0,943.7 L1381.0,943.8 L1382.0,943.4 L1383.0,942.9 L1384.0,942.3 L1385.0,941.7 L1386.0,941.0 L1387.0,940.2 L1388.0,939.2 L1389.0,937.6 L1390.0,934.5 L1391.0,929.1 L1392.0,923.2 L1393.0,919.6 L1394.0,917.7 L1395.0,916.6 L1396.0,915.7 L1397.0,915.0 L1398.0,914.3 L1399.0,913.7 L1400.0,913.1 L1401.0,912.7 L1402.0,912.8 L1403.0,914.3 L1404.0,918.1 L1405.0,923.0 L1406.0,925.9 L1407.0,926.6 L1408.0,926.4 L1409.0,925.9 L1410.0,925.3 L1411.0,924.6 L1412.0,923.9 L1413.0,923.1 L1414.0,922.1 L1415.0,920.4 L1416.0,916.8 L1417.0,910.6 L1418.0,904.7 L1419.0,901.5 L1420.0,899.9 L1421.0,899.0 L1422.0,898.2 L1423.0,897.5 L1424.0,896.8 L1425.0,896.2 L1426.0,895.8 L1427.0,895.9 L1428.0,897.3 L1429.0,901.5 L1430.0,906.5 L1431.0,909.0 L1432.0,909.6 L1433.0,909.3 L1434.0,908.8 L1435.0,908.2 L1436.0,907.5 L1437.0,906.7 L1438.0,905.6 L1439.0,904.1 L1440.0,901.4 L1441.0,896.3 L1442.0,890.1 L1443.0,886.0 L1444.0,883.9 L1445.0,882.7 L1446.0,881.8 L1447.0,881.0 L1448.0,880.3 L1449.0,879.8 L1450.0,879.5 L1451.0,879.7 L1452.0,881.1 L1453.0,884.8 L1454.0,889.1 L1455.0,891.3 L1456.0,892.0 L1457.0,892.2 L1458.0,892.0 L1459.0,891.5 L1460.0,890.5 L1461.0,889.2 L1462.0,887.4 L1463.0,884.8 L1464.0,880.9 L1465.0,875.4 L1466.0,871.1 L1467.0,868.6 L1468.0,867.1 L1469.0,865.9 L1470.0,864.9 L1471.0,864.3 L1472.0,864.0 L1473.0,863.9 L1474.0,864.5 L1475.0,866.3 L1476.0,869.7 L1477.0,872.7 L1478.0,874.4 L1479.0,875.5 L1480.0,876.0 L1481.0,875.8 L1482.0,874.6 L1483.0,872.6 L1484.0,869.8 L1485.0,866.3 L1486.0,861.7 L1487.0,856.9 L1488.0,853.4 L1489.0,850.9 L1490.0,849.0 L1491.0,847.5 L1492.0,846.5 L1493.0,846.2 L1494.0,846.4 L1495.0,847.4 L1496.0,849.6 L1497.0,853.0 L1498.0,856.5 L1499.0,859.6 L1500.0,862.1 L1501.0,863.3 L1502.0,862.9 L1503.0,860.6 L1504.0,856.7 L1505.0,851.6 L1506.0,845.9 L1507.0,840.4 L1508.0,835.7 L1509.0,832.1 L1510.0,829.2 L1511.0,826.9 L1512.0,825.6 L1513.0,825.3 L1514.0,825.8 L1515.0,827.3 L1516.0,829.8 L1517.0,833.3 L1518.0,837.3 L1519.0,841.0 L1520.0,843.6 L1521.0,844.3 L1522.0,842.7 L1523.0,838.8 L1524.0,833.4 L1525.0,827.2 L1526.0,821.0 L1527.0,815.6 L1528.0,811.1 L1529.0,807.7 L1530.0,805.1 L1531.0,803.2 L1532.0,802.8 L1533.0,803.1 L1534.0,804.3 L1535.0,806.5 L1536.0,809.9 L1537.0,814.0 L1538.0,818.4 L1539.0,822.0 L1540.0,824.0 L1541.0,823.7 L1542.0,820.9 L1543.0,816.0 L1544.0,809.8 L1545.0,803.2 L1546.0,797.2 L1547.0,792.3 L1548.0,788.4 L1549.0,785.6 L1550.0,783.5 L1551.0,782.8 L1552.0,783.2 L1553.0,784.4 L1554.0,786.8 L1555.0,790.4 L1556.0,794.8 L1557.0,799.4 L1558.0,803.1 L1559.0,804.8 L1560.0,803.9 L1561.0,800.3 L1562.0,794.6 L1563.0,787.9 L1564.0,781.2 L1565.0,775.4 L1566.0,770.9 L1567.0,767.5 L1568.0,765.1 L1569.0,764.0 L1570.0,764.3 L1571.0,765.6 L1572.0,768.2 L1573.0,772.3 L1574.0,777.4 L1575.0,782.5 L1576.0,786.0 L1577.0,786.6 L1578.0,783.6 L1579.0,777.7 L1580.0,770.2 L1581.0,762.8 L1582.0,756.7 L1583.0,752.3 L1584.0,749.2 L1585.0,747.4 L1586.0,747.6 L1587.0,749.0 L1588.0,751.8 L1589.0,756.3 L1590.0,761.7 L1591.0,766.8 L1592.0,770.0 L1593.0,769.9 L1594.0,766.2 L1595.0,759.8 L1596.0,752.3 L1597.0,745.1 L1598.0,739.4 L1599.0,735.3 L1600.0,732.6 L1601.0,731.5 L1602.0,732.1 L1603.0,734.3 L1604.0,738.3 L1605.0,744.1 L1606.0,750.3 L1607.0,754.3 L1608.0,754.1 L1609.0,749.1 L1610.0,741.0 L1611.0,732.5 L1612.0,725.6 L1613.0,721.1 L1614.0,718.3 L1615.0,717.8 L1616.0,719.2 L1617.0,722.4 L1618.0,727.6 L1619.0,733.7 L1620.0,738.9 L1621.0,740.9 L1622.0,738.5 L1623.0,732.4 L1624.0,724.4 L1625.0,716.8 L1626.0,710.9 L1627.0,706.8 L1628.0,704.3 L1629.0,703.9 L1630.0,705.2 L1631.0,708.3 L1632.0,713.6 L1633.0,720.1 L1634.0,725.3 L1635.0,726.5 L1636.0,722.7 L1637.0,715.1 L1638.0,706.5 L1639.0,699.3 L1640.0,694.5 L1641.0,691.5 L1642.0,690.9 L1643.0,692.1 L1644.0,695.3 L1645.0,700.6 L1646.0,706.8 L1647.0,711.7 L1648.0,713.1 L1649.0,709.9 L1650.0,703.1 L1651.0,695.1 L1652.0,688.0 L1653.0,682.8 L1654.0,679.5 L1655.0,677.7 L1656.0,678.2 L1657.0,680.2 L1658.0,684.3 L1659.0,690.0 L1660.0,695.7 L1661.0,698.8 L1662.0,697.5 L1663.0,691.9 L1664.0,684.1 L1665.0,676.6 L1666.0,670.9 L1667.0,667.3 L1668.0,665.2 L1669.0,665.6 L1670.0,667.5 L1671.0,671.5 L1672.0,677.1 L1673.0,682.6 L1674.0,685.1 L1675.0,682.9 L1676.0,676.5 L1677.0,668.7 L1678.0,661.8 L1679.0,657.1 L1680.0,654.3 L1681.0,653.4 L1682.0,654.3 L1683.0,657.0 L1684.0,661.5 L1685.0,666.7 L1686.0,670.6 L1687.0,671.0 L1688.0,667.3 L1689.0,660.9 L1690.0,653.9 L1691.0,648.2 L1692.0,644.3 L1693.0,641.8 L1694.0,641.1 L1695.0,641.9 L1696.0,644.1 L1697.0,648.1 L1698.0,652.8 L1699.0,656.4 L1700.0,657.0 L1701.0,653.7 L1702.0,647.7 L1703.0,641.1 L1704.0,635.4 L1705.0,631.5 L1706.0,629.0 L1707.0,628.2 L1708.0,628.9 L1709.0,631.2 L1710.0,635.2 L1711.0,640.0 L1712.0,643.6 L1713.0,643.7 L1714.0,639.9 L1715.0,633.6 L1716.0,627.0 L1717.0,621.8 L1718.0,618.5 L1719.0,616.5 L1720.0,616.6 L1721.0,618.0 L1722.0,621.1 L1723.0,625.6 L1724.0,629.9 L1725.0,631.7 L1726.0,629.7 L1727.0,624.4 L1728.0,617.9 L1729.0,612.1 L1730.0,608.0 L1731.0,605.4 L1732.0,604.4 L1733.0,604.9 L1734.0,607.0 L1735.0,610.7 L1736.0,615.1 L1737.0,618.2 L1738.0,618.0 L1739.0,614.2 L1740.0,607.9 L1741.0,601.6 L1742.0,596.5 L1743.0,593.1 L1744.0,590.9 L1745.0,590.8 L1746.0,591.8 L1747.0,594.5 L1748.0,598.5 L1749.0,602.3 L1750.0,603.9 L1751.0,601.7 L1752.0,596.2 L1753.0,589.4 L1754.0,583.1 L1755.0,578.4 L1756.0,575.2 L1757.0,573.5 L1758.0,573.5 L1759.0,575.1 L1760.0,578.5 L1761.0,582.8 L1762.0,585.6 L1763.0,584.6 L1764.0,579.2 L1765.0,571.4 L1766.0,563.7 L1767.0,557.7 L1768.0,553.7 L1769.0,551.5 L1770.0,551.3 L1771.0,553.1 L1772.0,557.0 L1773.0,562.0 L1774.0,565.2 L1775.0,564.0 L1776.0,557.9 L1777.0,549.1 L1778.0,540.6 L1779.0,534.1 L1780.0,529.7 L1781.0,527.5 L1782.0,527.6 L1783.0,529.9 L1784.0,534.8 L1785.0,540.8 L1786.0,544.8 L1787.0,543.8 L1788.0,537.3 L1789.0,527.8 L1790.0,518.6 L1791.0,511.8 L1792.0,507.5 L1793.0,505.6 L1794.0,506.2 L1795.0,509.4 L1796.0,515.3 L1797.0,522.4 L1798.0,527.3 L1799.0,526.7 L1800.0,520.2 L1801.0,510.5 L1802.0,501.3 L1803.0,494.7 L1804.0,490.7 L1805.0,489.2 L1806.0,490.4 L1807.0,494.3 L1808.0,500.9 L1809.0,508.8 L1810.0,514.4 L1811.0,514.1 L1812.0,507.6 L1813.0,497.8 L1814.0,488.4 L1815.0,481.7 L1816.0,477.7 L1817.0,476.4 L1818.0,478.0 L1819.0,482.2 L1820.0,489.4 L1821.0,497.9 L1822.0,503.8 L1823.0,503.6 L1824.0,496.9 L1825.0,486.8 L1826.0,477.2 L1827.0,470.3 L1828.0,466.3 L1829.0,465.0 L1830.0,466.7 L1831.0,471.1 L1832.0,478.5 L1833.0,487.0 L1834.0,493.0 L1835.0,492.7 L1836.0,485.8 L1837.0,475.5 L1838.0,465.7 L1839.0,458.8 L1840.0,454.8 L1841.0,453.4 L1842.0,455.0 L1843.0,459.2 L1844.0,466.3 L1845.0,474.4 L1846.0,479.8 L1847.0,479.3 L1848.0,472.6 L1849.0,462.7 L1850.0,453.6 L1851.0,447.1 L1852.0,443.4 L1853.0,442.1 L1854.0,443.4 L1855.0,446.9 L1856.0,452.8 L1857.0,459.6 L1858.0,464.0 L1859.0,463.1 L1860.0,456.7 L1861.0,447.6 L1862.0,439.0 L1863.0,432.7 L1864.0,428.7 L1865.0,426.9 L1866.0,427.3 L1867.0,429.7 L1868.0,434.3 L1869.0,439.8 L1870.0,443.1 L1871.0,441.6 L1872.0,435.1 L1873.0,426.0 L1874.0,417.4 L1875.0,410.9 L1876.0,406.5 L1877.0,404.2 L1878.0,404.0 L1879.0,407.9"/>
<path mask="url(#mR)" fill="#3fab77" stroke="none" d="M1580.0,726.8 L1582.0,724.6 L1584.0,722.4 L1586.0,720.2 L1588.0,718.0 L1590.0,715.8 L1592.0,713.7 L1594.0,711.5 L1596.0,709.3 L1598.0,707.2 L1600.0,705.0 L1602.0,702.9 L1604.0,700.7 L1606.0,698.6 L1608.0,696.5 L1610.0,694.4 L1612.0,692.3 L1614.0,690.2 L1616.0,688.2 L1618.0,686.1 L1620.0,684.0 L1622.0,682.0 L1624.0,680.0 L1626.0,677.9 L1628.0,675.9 L1630.0,673.9 L1632.0,671.9 L1634.0,669.9 L1636.0,667.9 L1638.0,665.9 L1640.0,663.9 L1642.0,661.9 L1644.0,659.9 L1646.0,657.9 L1648.0,655.9 L1650.0,654.0 L1652.0,652.0 L1654.0,650.0 L1656.0,648.0 L1658.0,646.0 L1660.0,644.0 L1662.0,642.0 L1664.0,640.0 L1666.0,638.0 L1668.0,636.0 L1670.0,634.0 L1672.0,632.0 L1674.0,630.0 L1676.0,628.0 L1678.0,625.9 L1680.0,623.9 L1682.0,621.9 L1684.0,619.8 L1686.0,617.7 L1688.0,615.7 L1690.0,613.6 L1692.0,611.5 L1694.0,609.4 L1696.0,607.3 L1698.0,605.1 L1700.0,603.0 L1702.0,600.9 L1704.0,598.7 L1706.0,596.6 L1708.0,594.6 L1710.0,592.5 L1712.0,590.4 L1714.0,588.3 L1716.0,586.2 L1718.0,584.2 L1720.0,582.1 L1722.0,580.0 L1724.0,577.8 L1726.0,575.7 L1728.0,573.5 L1730.0,571.3 L1732.0,569.1 L1734.0,566.8 L1736.0,564.5 L1738.0,562.2 L1740.0,559.8 L1742.0,557.3 L1744.0,554.8 L1746.0,552.3 L1748.0,549.7 L1750.0,547.0 L1752.0,544.2 L1754.0,541.2 L1756.0,538.1 L1758.0,534.8 L1760.0,531.4 L1762.0,527.9 L1764.0,524.3 L1766.0,520.6 L1768.0,516.9 L1770.0,513.1 L1772.0,509.2 L1774.0,505.4 L1776.0,501.6 L1778.0,497.7 L1780.0,493.9 L1782.0,490.2 L1784.0,486.5 L1786.0,482.9 L1788.0,479.3 L1790.0,475.9 L1792.0,472.6 L1794.0,469.5 L1796.0,466.5 L1798.0,463.6 L1800.0,461.0 L1802.0,458.5 L1804.0,456.1 L1806.0,453.8 L1808.0,451.6 L1810.0,449.5 L1812.0,447.4 L1814.0,445.4 L1816.0,443.4 L1818.0,441.5 L1820.0,439.6 L1822.0,437.7 L1824.0,435.8 L1826.0,434.0 L1828.0,432.1 L1830.0,430.2 L1832.0,428.2 L1834.0,426.2 L1836.0,424.2 L1838.0,422.1 L1840.0,420.0 L1842.0,417.9 L1844.0,415.7 L1846.0,413.7 L1848.0,411.5 L1850.0,409.4 L1852.0,407.2 L1854.0,404.9 L1856.0,402.4 L1858.0,399.8 L1860.0,397.0 L1862.0,394.0 L1864.0,390.7 L1866.0,387.1 L1868.0,383.4 L1870.0,379.5 L1872.0,375.3 L1874.0,371.0 L1876.0,366.6 L1878.0,362.0 L1878.0,402.0 L1876.0,406.2 L1874.0,410.3 L1872.0,414.3 L1870.0,418.1 L1868.0,421.7 L1866.0,425.1 L1864.0,428.3 L1862.0,431.3 L1860.0,434.0 L1858.0,436.5 L1856.0,438.7 L1854.0,440.8 L1852.0,442.8 L1850.0,444.7 L1848.0,446.5 L1846.0,448.3 L1844.0,450.2 L1842.0,452.0 L1840.0,454.0 L1838.0,456.0 L1836.0,458.0 L1834.0,459.9 L1832.0,461.8 L1830.0,463.7 L1828.0,465.6 L1826.0,467.4 L1824.0,469.3 L1822.0,471.2 L1820.0,473.1 L1818.0,475.1 L1816.0,477.0 L1814.0,479.0 L1812.0,481.1 L1810.0,483.2 L1808.0,485.4 L1806.0,487.7 L1804.0,490.0 L1802.0,492.5 L1800.0,495.0 L1798.0,497.7 L1796.0,500.6 L1794.0,503.7 L1792.0,507.0 L1790.0,510.4 L1788.0,514.0 L1786.0,517.7 L1784.0,521.5 L1782.0,525.4 L1780.0,529.4 L1778.0,533.4 L1776.0,537.4 L1774.0,541.5 L1772.0,545.5 L1770.0,549.5 L1768.0,553.5 L1766.0,557.4 L1764.0,561.2 L1762.0,564.9 L1760.0,568.5 L1758.0,572.0 L1756.0,575.3 L1754.0,578.4 L1752.0,581.3 L1750.0,584.0 L1748.0,586.6 L1746.0,589.0 L1744.0,591.4 L1742.0,593.7 L1740.0,596.0 L1738.0,598.2 L1736.0,600.3 L1734.0,602.4 L1732.0,604.4 L1730.0,606.4 L1728.0,608.4 L1726.0,610.3 L1724.0,612.2 L1722.0,614.1 L1720.0,616.0 L1718.0,617.9 L1716.0,619.7 L1714.0,621.6 L1712.0,623.4 L1710.0,625.3 L1708.0,627.2 L1706.0,629.1 L1704.0,631.0 L1702.0,633.0 L1700.0,635.0 L1698.0,637.0 L1696.0,639.0 L1694.0,641.0 L1692.0,643.1 L1690.0,645.1 L1688.0,647.1 L1686.0,649.1 L1684.0,651.1 L1682.0,653.0 L1680.0,655.0 L1678.0,657.0 L1676.0,659.0 L1674.0,661.0 L1672.0,663.0 L1670.0,664.9 L1668.0,666.9 L1666.0,668.9 L1664.0,670.9 L1662.0,672.9 L1660.0,674.8 L1658.0,676.8 L1656.0,678.8 L1654.0,680.8 L1652.0,682.7 L1650.0,684.7 L1648.0,686.7 L1646.0,688.7 L1644.0,690.7 L1642.0,692.6 L1640.0,694.6 L1638.0,696.6 L1636.0,698.6 L1634.0,700.6 L1632.0,702.6 L1630.0,704.6 L1628.0,706.6 L1626.0,708.6 L1624.0,710.6 L1622.0,712.6 L1620.0,714.6 L1618.0,716.6 L1616.0,718.6 L1614.0,720.7 L1612.0,722.7 L1610.0,724.7 L1608.0,726.8 L1606.0,728.8 L1604.0,730.9 L1602.0,732.9 L1600.0,735.0 L1598.0,737.1 L1596.0,739.1 L1594.0,741.2 L1592.0,743.3 L1590.0,745.4 L1588.0,747.5 L1586.0,749.5 L1584.0,751.6 L1582.0,753.7 L1580.0,755.8Z"/>
<path stroke="#3fab77" d="M341.0,1290.0 L344.5,1322.0 L350.0,1240.0 L357.0,1120.0 L362.0,1150.0 L368.0,1175.0 L374.0,1170.0 L380.0,1160.0 L383.0,1156.0 L384.0,1156.0 L385.0,1156.0 L386.0,1156.0 L387.0,1156.0 L388.0,1156.0 L389.0,1156.0 L390.0,1156.0 L391.0,1156.0 L392.0,1156.0 L393.0,1156.0 L394.0,1156.0 L395.0,1156.1 L396.0,1156.1 L397.0,1156.1 L398.0,1156.2 L399.0,1156.4 L400.0,1156.6 L401.0,1156.9 L402.0,1157.3 L403.0,1157.9 L404.0,1158.6 L405.0,1159.6 L406.0,1160.9 L407.0,1162.6 L408.0,1164.6 L409.0,1167.0 L410.0,1169.7 L411.0,1172.9 L412.0,1176.3 L413.0,1179.8 L414.0,1183.5 L415.0,1187.1 L416.0,1190.4 L417.0,1193.3 L418.0,1195.6 L419.0,1197.2 L420.0,1197.9 L421.0,1197.8 L422.0,1196.9 L423.0,1195.2 L424.0,1192.7 L425.0,1189.7 L426.0,1186.3 L427.0,1182.7 L428.0,1179.1 L429.0,1175.5 L430.0,1172.1 L431.0,1169.1 L432.0,1166.4 L433.0,1164.1 L434.0,1162.2 L435.0,1160.6 L436.0,1159.4 L437.0,1158.4 L438.0,1157.7 L439.0,1157.2 L440.0,1156.8 L441.0,1156.5 L442.0,1156.3 L443.0,1156.2 L444.0,1156.1 L445.0,1156.1 L446.0,1156.0 L447.0,1156.0 L448.0,1156.0 L449.0,1156.0 L450.0,1156.0 L451.0,1156.0 L452.0,1156.0 L453.0,1156.0 L454.0,1156.0 L455.0,1156.0 L456.0,1156.0 L457.0,1156.0 L458.0,1156.0 L459.0,1156.0 L460.0,1156.0 L461.0,1156.0 L462.0,1156.0 L463.0,1156.0 L464.0,1156.0 L465.0,1156.0 L466.0,1156.0 L467.0,1156.0 L468.0,1156.0 L469.0,1156.0 L470.0,1156.0 L471.0,1156.1 L472.0,1156.1 L473.0,1156.2 L474.0,1156.3 L475.0,1156.5 L476.0,1156.7 L477.0,1157.1 L478.0,1157.6 L479.0,1158.3 L480.0,1159.2 L481.0,1160.5 L482.0,1162.0 L483.0,1163.9 L484.0,1166.2 L485.0,1168.9 L486.0,1172.0 L487.0,1175.4 L488.0,1179.0 L489.0,1182.7 L490.0,1186.4 L491.0,1189.9 L492.0,1192.9 L493.0,1195.3 L494.0,1197.0 L495.0,1197.9 L496.0,1197.9 L497.0,1196.9 L498.0,1195.2 L499.0,1192.7 L500.0,1189.6 L501.0,1186.1 L502.0,1182.4 L503.0,1178.6 L504.0,1175.0 L505.0,1171.5 L506.0,1168.5 L507.0,1165.8 L508.0,1163.5 L509.0,1161.6 L510.0,1160.1 L511.0,1158.9 L512.0,1158.0 L513.0,1157.4 L514.0,1156.9 L515.0,1156.6 L516.0,1156.4 L517.0,1156.2 L518.0,1156.1 L519.0,1156.0 L520.0,1156.0 L521.0,1156.0 L522.0,1155.9 L523.0,1155.9 L524.0,1155.9 L525.0,1155.9 L526.0,1155.9 L527.0,1155.9 L528.0,1155.9 L529.0,1155.9 L530.0,1155.8 L531.0,1155.8 L532.0,1155.8 L533.0,1155.8 L534.0,1155.8 L535.0,1155.8 L536.0,1155.8 L537.0,1155.8 L538.0,1155.8 L539.0,1155.8 L540.0,1155.7 L541.0,1155.7 L542.0,1155.7 L543.0,1155.7 L544.0,1155.7 L545.0,1155.8 L546.0,1155.8 L547.0,1155.9 L548.0,1156.1 L549.0,1156.4 L550.0,1156.8 L551.0,1157.3 L552.0,1158.1 L553.0,1159.1 L554.0,1160.5 L555.0,1162.3 L556.0,1164.4 L557.0,1167.0 L558.0,1170.0 L559.0,1173.4 L560.0,1177.0 L561.0,1180.8 L562.0,1184.5 L563.0,1188.0 L564.0,1191.0 L565.0,1193.4 L566.0,1194.9 L567.0,1195.6 L568.0,1195.3 L569.0,1194.0 L570.0,1191.9 L571.0,1189.0 L572.0,1185.6 L573.0,1181.9 L574.0,1178.1 L575.0,1174.3 L576.0,1170.7 L577.0,1167.5 L578.0,1164.7 L579.0,1162.3 L580.0,1160.4 L581.0,1158.9 L582.0,1157.7 L583.0,1156.8 L584.0,1156.2 L585.0,1155.7 L586.0,1155.4 L587.0,1155.2 L588.0,1155.0 L589.0,1154.9 L590.0,1154.8 L591.0,1154.8 L592.0,1154.7 L593.0,1154.7 L594.0,1154.7 L595.0,1154.7 L596.0,1154.6 L597.0,1154.6 L598.0,1154.6 L599.0,1154.5 L600.0,1154.5 L601.0,1154.5 L602.0,1154.5 L603.0,1154.4 L604.0,1154.4 L605.0,1154.4 L606.0,1154.4 L607.0,1154.3 L608.0,1154.3 L609.0,1154.3 L610.0,1154.3 L611.0,1154.2 L612.0,1154.2 L613.0,1154.2 L614.0,1154.2 L615.0,1154.3 L616.0,1154.4 L617.0,1154.6 L618.0,1154.8 L619.0,1155.2 L620.0,1155.9 L621.0,1156.7 L622.0,1157.9 L623.0,1159.5 L624.0,1161.5 L625.0,1163.9 L626.0,1166.8 L627.0,1170.0 L628.0,1173.6 L629.0,1177.4 L630.0,1181.1 L631.0,1184.5 L632.0,1187.5 L633.0,1189.8 L634.0,1191.2 L635.0,1191.6 L636.0,1191.0 L637.0,1189.4 L638.0,1187.0 L639.0,1183.9 L640.0,1180.3 L641.0,1176.5 L642.0,1172.7 L643.0,1169.1 L644.0,1165.8 L645.0,1162.9 L646.0,1160.4 L647.0,1158.4 L648.0,1156.9 L649.0,1155.7 L650.0,1154.8 L651.0,1154.1 L652.0,1153.7 L653.0,1153.4 L654.0,1153.1 L655.0,1153.0 L656.0,1152.9 L657.0,1152.8 L658.0,1152.7 L659.0,1152.7 L660.0,1152.6 L661.0,1152.6 L662.0,1152.5 L663.0,1152.5 L664.0,1152.4 L665.0,1152.4 L666.0,1152.3 L667.0,1152.3 L668.0,1152.2 L669.0,1152.1 L670.0,1152.1 L671.0,1152.0 L672.0,1152.0 L673.0,1151.9 L674.0,1151.8 L675.0,1151.8 L676.0,1151.7 L677.0,1151.7 L678.0,1151.6 L679.0,1151.6 L680.0,1151.6 L681.0,1151.6 L682.0,1151.6 L683.0,1151.7 L684.0,1151.9 L685.0,1152.3 L686.0,1152.9 L687.0,1153.7 L688.0,1154.8 L689.0,1156.3 L690.0,1158.3 L691.0,1160.7 L692.0,1163.6 L693.0,1167.0 L694.0,1170.6 L695.0,1174.4 L696.0,1178.1 L697.0,1181.5 L698.0,1184.4 L699.0,1186.5 L700.0,1187.7 L701.0,1187.7 L702.0,1186.7 L703.0,1184.7 L704.0,1181.9 L705.0,1178.4 L706.0,1174.5 L707.0,1170.4 L708.0,1166.5 L709.0,1162.8 L710.0,1159.6 L711.0,1156.8 L712.0,1154.5 L713.0,1152.7 L714.0,1151.3 L715.0,1150.3 L716.0,1149.6 L717.0,1149.0 L718.0,1148.6 L719.0,1148.3 L720.0,1148.1 L721.0,1147.9 L722.0,1147.8 L723.0,1147.7 L724.0,1147.6 L725.0,1147.4 L726.0,1147.3 L727.0,1147.2 L728.0,1147.1 L729.0,1147.0 L730.0,1146.9 L731.0,1146.8 L732.0,1146.7 L733.0,1146.6 L734.0,1146.4 L735.0,1146.3 L736.0,1146.2 L737.0,1146.1 L738.0,1146.0 L739.0,1145.9 L740.0,1145.8 L741.0,1145.7 L742.0,1145.6 L743.0,1145.5 L744.0,1145.5 L745.0,1145.5 L746.0,1145.6 L747.0,1145.9 L748.0,1146.4 L749.0,1147.1 L750.0,1148.3 L751.0,1149.8 L752.0,1151.9 L753.0,1154.6 L754.0,1157.8 L755.0,1161.5 L756.0,1165.5 L757.0,1169.6 L758.0,1173.5 L759.0,1176.8 L760.0,1179.4 L761.0,1180.8 L762.0,1181.0 L763.0,1179.9 L764.0,1177.7 L765.0,1174.4 L766.0,1170.5 L767.0,1166.2 L768.0,1161.8 L769.0,1157.7 L770.0,1153.9 L771.0,1150.7 L772.0,1148.1 L773.0,1146.0 L774.0,1144.4 L775.0,1143.3 L776.0,1142.4 L777.0,1141.8 L778.0,1141.4 L779.0,1141.1 L780.0,1140.8 L781.0,1140.6 L782.0,1140.5 L783.0,1140.3 L784.0,1140.2 L785.0,1140.0 L786.0,1139.9 L787.0,1139.8 L788.0,1139.6 L789.0,1139.5 L790.0,1139.4 L791.0,1139.2 L792.0,1139.1 L793.0,1139.0 L794.0,1138.8 L795.0,1138.7 L796.0,1138.5 L797.0,1138.4 L798.0,1138.3 L799.0,1138.2 L800.0,1138.0 L801.0,1137.9 L802.0,1137.9 L803.0,1137.8 L804.0,1137.9 L805.0,1138.1 L806.0,1138.4 L807.0,1139.1 L808.0,1140.1 L809.0,1141.5 L810.0,1143.5 L811.0,1146.1 L812.0,1149.3 L813.0,1153.0 L814.0,1157.1 L815.0,1161.2 L816.0,1165.2 L817.0,1168.6 L818.0,1171.1 L819.0,1172.4 L820.0,1172.3 L821.0,1170.9 L822.0,1168.2 L823.0,1164.6 L824.0,1160.3 L825.0,1155.8 L826.0,1151.4 L827.0,1147.2 L828.0,1143.6 L829.0,1140.6 L830.0,1138.3 L831.0,1136.4 L832.0,1135.1 L833.0,1134.1 L834.0,1133.4 L835.0,1132.9 L836.0,1132.5 L837.0,1132.2 L838.0,1132.0 L839.0,1131.8 L840.0,1131.6 L841.0,1131.4 L842.0,1131.2 L843.0,1131.0 L844.0,1130.8 L845.0,1130.6 L846.0,1130.4 L847.0,1130.3 L848.0,1130.1 L849.0,1129.9 L850.0,1129.7 L851.0,1129.5 L852.0,1129.3 L853.0,1129.1 L854.0,1128.9 L855.0,1128.7 L856.0,1128.5 L857.0,1128.4 L858.0,1128.2 L859.0,1128.1 L860.0,1128.1 L861.0,1128.1 L862.0,1128.4 L863.0,1128.9 L864.0,1129.8 L865.0,1131.0 L866.0,1132.8 L867.0,1135.1 L868.0,1138.0 L869.0,1141.3 L870.0,1144.8 L871.0,1148.3 L872.0,1151.4 L873.0,1153.9 L874.0,1155.3 L875.0,1155.6 L876.0,1154.6 L877.0,1152.4 L878.0,1149.3 L879.0,1145.6 L880.0,1141.6 L881.0,1137.6 L882.0,1134.0 L883.0,1130.8 L884.0,1128.2 L885.0,1126.1 L886.0,1124.5 L887.0,1123.4 L888.0,1122.5 L889.0,1121.9 L890.0,1121.4 L891.0,1121.1 L892.0,1120.8 L893.0,1120.5 L894.0,1120.3 L895.0,1120.0 L896.0,1119.8 L897.0,1119.5 L898.0,1119.3 L899.0,1119.1 L900.0,1118.8 L901.0,1118.6 L902.0,1118.4 L903.0,1118.1 L904.0,1117.9 L905.0,1117.6 L906.0,1117.4 L907.0,1117.1 L908.0,1116.9 L909.0,1116.7 L910.0,1116.4 L911.0,1116.2 L912.0,1116.0 L913.0,1115.9 L914.0,1115.9 L915.0,1116.0 L916.0,1116.3 L917.0,1116.8 L918.0,1117.8 L919.0,1119.1 L920.0,1120.9 L921.0,1123.2 L922.0,1125.7 L923.0,1128.4 L924.0,1130.9 L925.0,1132.9 L926.0,1134.3 L927.0,1134.7 L928.0,1134.1 L929.0,1132.6 L930.0,1130.2 L931.0,1127.3 L932.0,1124.1 L933.0,1121.0 L934.0,1118.1 L935.0,1115.6 L936.0,1113.6 L937.0,1112.0 L938.0,1110.8 L939.0,1109.9 L940.0,1109.3 L941.0,1108.8 L942.0,1108.4 L943.0,1108.0 L944.0,1107.7 L945.0,1107.4 L946.0,1107.1 L947.0,1106.9 L948.0,1106.6 L949.0,1106.3 L950.0,1106.1 L951.0,1105.8 L952.0,1105.5 L953.0,1105.2 L954.0,1105.0 L955.0,1104.7 L956.0,1104.4 L957.0,1104.2 L958.0,1103.9 L959.0,1103.6 L960.0,1103.3 L961.0,1103.1 L962.0,1102.8 L963.0,1102.6 L964.0,1102.4 L965.0,1102.4 L966.0,1102.4 L967.0,1102.6 L968.0,1103.1 L969.0,1103.9 L970.0,1105.1 L971.0,1106.6 L972.0,1108.4 L973.0,1110.3 L974.0,1112.2 L975.0,1113.9 L976.0,1115.0 L977.0,1115.3 L978.0,1114.9 L979.0,1113.7 L980.0,1111.7 L981.0,1109.4 L982.0,1106.8 L983.0,1104.3 L984.0,1102.0 L985.0,1100.1 L986.0,1098.5 L987.0,1097.3 L988.0,1096.4 L989.0,1095.7 L990.0,1095.2 L991.0,1094.7 L992.0,1094.4 L993.0,1094.1 L994.0,1093.7 L995.0,1093.5 L996.0,1093.2 L997.0,1092.9 L998.0,1092.6 L999.0,1092.3 L1000.0,1092.0 L1001.0,1091.7 L1002.0,1091.4 L1003.0,1091.1 L1004.0,1090.8 L1005.0,1090.5 L1006.0,1090.2 L1007.0,1089.9 L1008.0,1089.6 L1009.0,1089.3 L1010.0,1089.1 L1011.0,1088.8 L1012.0,1088.6 L1013.0,1088.6 L1014.0,1088.6 L1015.0,1088.9 L1016.0,1089.6 L1017.0,1090.6 L1018.0,1092.0 L1019.0,1093.8 L1020.0,1095.7 L1021.0,1097.7 L1022.0,1099.3 L1023.0,1100.3 L1024.0,1100.5 L1025.0,1099.8 L1026.0,1098.2 L1027.0,1096.0 L1028.0,1093.4 L1029.0,1090.8 L1030.0,1088.3 L1031.0,1086.1 L1032.0,1084.4 L1033.0,1083.1 L1034.0,1082.0 L1035.0,1081.3 L1036.0,1080.7 L1037.0,1080.2 L1038.0,1079.8 L1039.0,1079.4 L1040.0,1079.0 L1041.0,1078.7 L1042.0,1078.3 L1043.0,1078.0 L1044.0,1077.6 L1045.0,1077.2 L1046.0,1076.9 L1047.0,1076.5 L1048.0,1076.1 L1049.0,1075.8 L1050.0,1075.4 L1051.0,1075.0 L1052.0,1074.7 L1053.0,1074.3 L1054.0,1074.0 L1055.0,1073.7 L1056.0,1073.6 L1057.0,1073.5 L1058.0,1073.7 L1059.0,1074.0 L1060.0,1074.6 L1061.0,1075.4 L1062.0,1076.6 L1063.0,1078.0 L1064.0,1079.7 L1065.0,1081.5 L1066.0,1083.0 L1067.0,1084.1 L1068.0,1084.5 L1069.0,1084.1 L1070.0,1083.0 L1071.0,1081.2 L1072.0,1079.1 L1073.0,1077.0 L1074.0,1075.0 L1075.0,1073.2 L1076.0,1071.7 L1077.0,1070.4 L1078.0,1069.0 L1079.0,1067.6 L1080.0,1066.1 L1081.0,1064.9 L1082.0,1063.9 L1083.0,1063.1 L1084.0,1062.5 L1085.0,1062.0 L1086.0,1061.6 L1087.0,1061.1 L1088.0,1060.7 L1089.0,1060.3 L1090.0,1059.9 L1091.0,1059.5 L1092.0,1059.1 L1093.0,1058.7 L1094.0,1058.3 L1095.0,1058.0 L1096.0,1057.8 L1097.0,1057.7 L1098.0,1057.9 L1099.0,1058.5 L1100.0,1059.8 L1101.0,1061.6 L1102.0,1063.2 L1103.0,1064.5 L1104.0,1065.4 L1105.0,1066.1 L1106.0,1066.6 L1107.0,1067.0 L1108.0,1067.4 L1109.0,1067.6 L1110.0,1067.5 L1111.0,1067.3 L1112.0,1066.8 L1113.0,1066.1 L1114.0,1065.3 L1115.0,1064.5 L1116.0,1063.6 L1117.0,1062.7 L1118.0,1061.7 L1119.0,1060.3 L1120.0,1058.1 L1121.0,1055.2 L1122.0,1052.0 L1123.0,1049.3 L1124.0,1047.4 L1125.0,1046.2 L1126.0,1045.4 L1127.0,1044.8 L1128.0,1044.3 L1129.0,1043.8 L1130.0,1043.4 L1131.0,1042.9 L1132.0,1042.5 L1133.0,1042.1 L1134.0,1041.8 L1135.0,1041.4 L1136.0,1041.2 L1137.0,1041.1 L1138.0,1041.4 L1139.0,1042.4 L1140.0,1044.4 L1141.0,1047.2 L1142.0,1049.8 L1143.0,1051.6 L1144.0,1052.3 L1145.0,1052.5 L1146.0,1052.4 L1147.0,1052.1 L1148.0,1051.8 L1149.0,1051.4 L1150.0,1051.0 L1151.0,1050.6 L1152.0,1050.1 L1153.0,1049.7 L1154.0,1049.2 L1155.0,1048.6 L1156.0,1047.7 L1157.0,1046.4 L1158.0,1044.3 L1159.0,1041.0 L1160.0,1037.2 L1161.0,1033.9 L1162.0,1031.7 L1163.0,1030.4 L1164.0,1029.5 L1165.0,1028.9 L1166.0,1028.4 L1167.0,1027.9 L1168.0,1027.5 L1169.0,1027.1 L1170.0,1026.7 L1171.0,1026.3 L1172.0,1026.0 L1173.0,1025.8 L1174.0,1025.9 L1175.0,1026.5 L1176.0,1028.2 L1177.0,1031.0 L1178.0,1034.2 L1179.0,1036.4 L1180.0,1037.3 L1181.0,1037.6 L1182.0,1037.4 L1183.0,1037.2 L1184.0,1036.8 L1185.0,1036.4 L1186.0,1036.0 L1187.0,1035.5 L1188.0,1035.1 L1189.0,1034.5 L1190.0,1033.9 L1191.0,1032.9 L1192.0,1031.1 L1193.0,1028.1 L1194.0,1023.9 L1195.0,1020.0 L1196.0,1017.4 L1197.0,1016.0 L1198.0,1015.2 L1199.0,1014.6 L1200.0,1014.0 L1201.0,1013.6 L1202.0,1013.2 L1203.0,1012.7 L1204.0,1012.4 L1205.0,1012.1 L1206.0,1012.0 L1207.0,1012.5 L1208.0,1014.1 L1209.0,1017.4 L1210.0,1021.0 L1211.0,1023.2 L1212.0,1024.0 L1213.0,1024.0 L1214.0,1023.8 L1215.0,1023.4 L1216.0,1023.0 L1217.0,1022.6 L1218.0,1022.1 L1219.0,1021.6 L1220.0,1021.0 L1221.0,1020.2 L1222.0,1018.9 L1223.0,1016.4 L1224.0,1012.4 L1225.0,1008.0 L1226.0,1004.8 L1227.0,1003.0 L1228.0,1002.0 L1229.0,1001.3 L1230.0,1000.7 L1231.0,1000.2 L1232.0,999.8 L1233.0,999.3 L1234.0,998.9 L1235.0,998.6 L1236.0,998.4 L1237.0,998.7 L1238.0,1000.1 L1239.0,1003.0 L1240.0,1006.6 L1241.0,1009.0 L1242.0,1010.0 L1243.0,1010.2 L1244.0,1010.0 L1245.0,1009.6 L1246.0,1009.2 L1247.0,1008.7 L1248.0,1008.2 L1249.0,1007.7 L1250.0,1007.1 L1251.0,1006.4 L1252.0,1005.3 L1253.0,1003.6 L1254.0,1000.6 L1255.0,996.3 L1256.0,992.3 L1257.0,989.6 L1258.0,988.0 L1259.0,987.1 L1260.0,986.4 L1261.0,985.8 L1262.0,985.2 L1263.0,984.7 L1264.0,984.2 L1265.0,983.8 L1266.0,983.3 L1267.0,983.0 L1268.0,982.9 L1269.0,983.4 L1270.0,985.0 L1271.0,987.9 L1272.0,991.0 L1273.0,993.1 L1274.0,993.9 L1275.0,994.0 L1276.0,993.7 L1277.0,993.3 L1278.0,992.8 L1279.0,992.3 L1280.0,991.8 L1281.0,991.2 L1282.0,990.6 L1283.0,989.9 L1284.0,989.0 L1285.0,987.7 L1286.0,985.6 L1287.0,982.1 L1288.0,977.8 L1289.0,974.0 L1290.0,971.6 L1291.0,970.2 L1292.0,969.3 L1293.0,968.5 L1294.0,967.8 L1295.0,967.2 L1296.0,966.6 L1297.0,966.0 L1298.0,965.5 L1299.0,965.0 L1300.0,964.6 L1301.0,964.5 L1302.0,965.1 L1303.0,967.0 L1304.0,970.2 L1305.0,973.3 L1306.0,975.1 L1307.0,975.6 L1308.0,975.6 L1309.0,975.2 L1310.0,974.7 L1311.0,974.2 L1312.0,973.6 L1313.0,973.0 L1314.0,972.4 L1315.0,971.7 L1316.0,970.9 L1317.0,969.8 L1318.0,968.0 L1319.0,964.9 L1320.0,960.3 L1321.0,955.5 L1322.0,952.1 L1323.0,950.0 L1324.0,948.8 L1325.0,947.8 L1326.0,947.0 L1327.0,946.3 L1328.0,945.6 L1329.0,944.9 L1330.0,944.2 L1331.0,943.6 L1332.0,943.2 L1333.0,943.1 L1334.0,943.8 L1335.0,946.1 L1336.0,950.0 L1337.0,953.8 L1338.0,955.8 L1339.0,956.5 L1340.0,956.4 L1341.0,956.0 L1342.0,955.4 L1343.0,954.9 L1344.0,954.2 L1345.0,953.6 L1346.0,952.9 L1347.0,952.1 L1348.0,951.0 L1349.0,949.2 L1350.0,946.0 L1351.0,940.6 L1352.0,934.6 L1353.0,930.3 L1354.0,927.9 L1355.0,926.5 L1356.0,925.4 L1357.0,924.6 L1358.0,923.8 L1359.0,923.0 L1360.0,922.3 L1361.0,921.7 L1362.0,921.2 L1363.0,921.0 L1364.0,921.7 L1365.0,924.4 L1366.0,929.3 L1367.0,934.1 L1368.0,936.6 L1369.0,937.3 L1370.0,937.2 L1371.0,936.8 L1372.0,936.2 L1373.0,935.5 L1374.0,934.9 L1375.0,934.1 L1376.0,933.3 L1377.0,932.1 L1378.0,930.2 L1379.0,926.5 L1380.0,920.1 L1381.0,913.1 L1382.0,908.6 L1383.0,906.2 L1384.0,904.9 L1385.0,903.9 L1386.0,903.1 L1387.0,902.4 L1388.0,901.6 L1389.0,901.0 L1390.0,900.5 L1391.0,900.4 L1392.0,901.4 L1393.0,904.8 L1394.0,910.8 L1395.0,916.0 L1396.0,918.1 L1397.0,918.5 L1398.0,918.2 L1399.0,917.7 L1400.0,917.0 L1401.0,916.3 L1402.0,915.5 L1403.0,914.6 L1404.0,913.4 L1405.0,911.2 L1406.0,906.6 L1407.0,899.0 L1408.0,892.1 L1409.0,888.3 L1410.0,886.5 L1411.0,885.4 L1412.0,884.5 L1413.0,883.8 L1414.0,883.1 L1415.0,882.5 L1416.0,882.0 L1417.0,882.1 L1418.0,883.7 L1419.0,888.5 L1420.0,895.2 L1421.0,899.2 L1422.0,900.4 L1423.0,900.3 L1424.0,899.8 L1425.0,899.1 L1426.0,898.4 L1427.0,897.6 L1428.0,896.6 L1429.0,895.3 L1430.0,892.8 L1431.0,887.5 L1432.0,879.5 L1433.0,873.2 L1434.0,870.1 L1435.0,868.6 L1436.0,867.6 L1437.0,866.7 L1438.0,866.0 L1439.0,865.4 L1440.0,864.9 L1441.0,864.8 L1442.0,865.6 L1443.0,868.9 L1444.0,874.9 L1445.0,879.7 L1446.0,881.6 L1447.0,882.0 L1448.0,881.8 L1449.0,881.4 L1450.0,880.7 L1451.0,879.7 L1452.0,878.3 L1453.0,876.3 L1454.0,873.2 L1455.0,867.8 L1456.0,860.7 L1457.0,855.8 L1458.0,853.2 L1459.0,851.7 L1460.0,850.6 L1461.0,849.6 L1462.0,849.0 L1463.0,848.6 L1464.0,848.6 L1465.0,849.1 L1466.0,851.3 L1467.0,855.7 L1468.0,860.0 L1469.0,862.3 L1470.0,863.4 L1471.0,864.0 L1472.0,864.0 L1473.0,863.2 L1474.0,861.7 L1475.0,859.3 L1476.0,856.3 L1477.0,852.1 L1478.0,846.4 L1479.0,841.4 L1480.0,838.4 L1481.0,836.4 L1482.0,834.8 L1483.0,833.6 L1484.0,832.9 L1485.0,832.6 L1486.0,832.7 L1487.0,833.7 L1488.0,836.2 L1489.0,839.7 L1490.0,842.6 L1491.0,844.9 L1492.0,846.4 L1493.0,847.0 L1494.0,846.3 L1495.0,844.3 L1496.0,841.0 L1497.0,836.9 L1498.0,832.1 L1499.0,827.1 L1500.0,823.2 L1501.0,820.2 L1502.0,818.0 L1503.0,816.1 L1504.0,815.0 L1505.0,814.8 L1506.0,815.2 L1507.0,816.4 L1508.0,818.8 L1509.0,822.1 L1510.0,825.8 L1511.0,829.1 L1512.0,831.4 L1513.0,832.0 L1514.0,830.3 L1515.0,826.5 L1516.0,820.9 L1517.0,814.5 L1518.0,808.1 L1519.0,802.4 L1520.0,797.7 L1521.0,794.1 L1522.0,791.4 L1523.0,789.4 L1524.0,788.7 L1525.0,788.8 L1526.0,789.7 L1527.0,791.6 L1528.0,794.6 L1529.0,798.4 L1530.0,802.6 L1531.0,806.3 L1532.0,808.6 L1533.0,808.9 L1534.0,806.7 L1535.0,802.3 L1536.0,796.3 L1537.0,789.8 L1538.0,783.6 L1539.0,778.2 L1540.0,773.9 L1541.0,770.7 L1542.0,768.3 L1543.0,766.8 L1544.0,766.7 L1545.0,767.4 L1546.0,769.1 L1547.0,771.9 L1548.0,775.8 L1549.0,780.2 L1550.0,784.4 L1551.0,787.2 L1552.0,787.8 L1553.0,785.7 L1554.0,781.2 L1555.0,775.0 L1556.0,768.3 L1557.0,761.9 L1558.0,756.5 L1559.0,752.3 L1560.0,749.2 L1561.0,747.0 L1562.0,746.1 L1563.0,746.4 L1564.0,747.6 L1565.0,750.0 L1566.0,753.7 L1567.0,758.4 L1568.0,763.1 L1569.0,766.7 L1570.0,768.0 L1571.0,766.2 L1572.0,761.5 L1573.0,754.8 L1574.0,747.5 L1575.0,740.8 L1576.0,735.4 L1577.0,731.5 L1578.0,728.8 L1579.0,727.6 L1580.0,728.1 L1581.0,729.7 L1582.0,733.0 L1583.0,737.9 L1584.0,743.4 L1585.0,748.2 L1586.0,750.4 L1587.0,749.1 L1588.0,744.2 L1589.0,737.2 L1590.0,729.6 L1591.0,722.9 L1592.0,717.7 L1593.0,714.1 L1594.0,711.6 L1595.0,710.9 L1596.0,711.6 L1597.0,713.7 L1598.0,717.4 L1599.0,722.6 L1600.0,728.2 L1601.0,732.5 L1602.0,733.6 L1603.0,730.6 L1604.0,724.1 L1605.0,715.9 L1606.0,708.1 L1607.0,702.1 L1608.0,698.2 L1609.0,695.8 L1610.0,696.2 L1611.0,698.1 L1612.0,702.2 L1613.0,708.4 L1614.0,714.8 L1615.0,718.9 L1616.0,718.5 L1617.0,713.6 L1618.0,705.8 L1619.0,697.7 L1620.0,691.0 L1621.0,686.3 L1622.0,683.3 L1623.0,682.1 L1624.0,682.7 L1625.0,685.0 L1626.0,689.1 L1627.0,694.9 L1628.0,700.8 L1629.0,704.5 L1630.0,704.1 L1631.0,699.2 L1632.0,691.4 L1633.0,683.1 L1634.0,676.4 L1635.0,671.9 L1636.0,669.1 L1637.0,668.9 L1638.0,670.5 L1639.0,674.2 L1640.0,680.1 L1641.0,686.6 L1642.0,691.0 L1643.0,690.9 L1644.0,686.1 L1645.0,678.3 L1646.0,670.3 L1647.0,663.8 L1648.0,659.4 L1649.0,656.7 L1650.0,656.0 L1651.0,657.1 L1652.0,659.9 L1653.0,664.7 L1654.0,670.6 L1655.0,675.8 L1656.0,677.7 L1657.0,675.2 L1658.0,668.8 L1659.0,660.7 L1660.0,653.4 L1661.0,648.0 L1662.0,644.6 L1663.0,643.0 L1664.0,643.6 L1665.0,645.9 L1666.0,650.4 L1667.0,656.6 L1668.0,662.3 L1669.0,664.8 L1670.0,662.4 L1671.0,655.7 L1672.0,647.3 L1673.0,639.8 L1674.0,634.5 L1675.0,631.3 L1676.0,630.2 L1677.0,631.4 L1678.0,634.7 L1679.0,640.3 L1680.0,646.9 L1681.0,651.6 L1682.0,651.8 L1683.0,647.0 L1684.0,639.1 L1685.0,630.9 L1686.0,624.4 L1687.0,620.1 L1688.0,617.5 L1689.0,617.4 L1690.0,618.9 L1691.0,622.6 L1692.0,628.2 L1693.0,634.5 L1694.0,638.8 L1695.0,638.8 L1696.0,633.9 L1697.0,626.0 L1698.0,617.7 L1699.0,611.1 L1700.0,606.6 L1701.0,603.9 L1702.0,603.6 L1703.0,605.1 L1704.0,608.7 L1705.0,614.5 L1706.0,621.0 L1707.0,625.8 L1708.0,626.0 L1709.0,621.0 L1710.0,612.7 L1711.0,604.0 L1712.0,597.2 L1713.0,592.7 L1714.0,590.1 L1715.0,590.5 L1716.0,592.8 L1717.0,597.7 L1718.0,604.7 L1719.0,611.5 L1720.0,614.8 L1721.0,612.4 L1722.0,605.0 L1723.0,595.7 L1724.0,587.4 L1725.0,581.6 L1726.0,578.1 L1727.0,577.0 L1728.0,578.4 L1729.0,582.1 L1730.0,588.5 L1731.0,596.1 L1732.0,601.7 L1733.0,602.2 L1734.0,596.8 L1735.0,587.5 L1736.0,578.0 L1737.0,570.5 L1738.0,565.7 L1739.0,562.8 L1740.0,563.3 L1741.0,565.8 L1742.0,571.0 L1743.0,578.5 L1744.0,585.7 L1745.0,589.0 L1746.0,586.2 L1747.0,578.0 L1748.0,567.8 L1749.0,558.6 L1750.0,552.2 L1751.0,548.2 L1752.0,546.7 L1753.0,547.8 L1754.0,551.3 L1755.0,557.5 L1756.0,565.1 L1757.0,570.7 L1758.0,570.8 L1759.0,564.4 L1760.0,553.9 L1761.0,543.1 L1762.0,534.8 L1763.0,529.4 L1764.0,526.4 L1765.0,526.6 L1766.0,529.3 L1767.0,535.1 L1768.0,542.6 L1769.0,548.3 L1770.0,548.4 L1771.0,541.8 L1772.0,531.1 L1773.0,520.3 L1774.0,512.0 L1775.0,506.6 L1776.0,503.6 L1777.0,503.8 L1778.0,506.4 L1779.0,511.8 L1780.0,518.9 L1781.0,524.3 L1782.0,524.3 L1783.0,517.9 L1784.0,507.6 L1785.0,497.2 L1786.0,489.2 L1787.0,484.1 L1788.0,481.4 L1789.0,481.7 L1790.0,484.3 L1791.0,489.7 L1792.0,496.8 L1793.0,502.3 L1794.0,502.6 L1795.0,496.7 L1796.0,487.0 L1797.0,477.2 L1798.0,469.9 L1799.0,465.3 L1800.0,463.0 L1801.0,463.7 L1802.0,466.8 L1803.0,472.6 L1804.0,480.0 L1805.0,485.8 L1806.0,486.6 L1807.0,481.2 L1808.0,472.0 L1809.0,462.6 L1810.0,455.7 L1811.0,451.4 L1812.0,449.4 L1813.0,450.4 L1814.0,453.6 L1815.0,459.5 L1816.0,467.1 L1817.0,473.0 L1818.0,473.9 L1819.0,468.7 L1820.0,459.8 L1821.0,450.7 L1822.0,443.8 L1823.0,439.7 L1824.0,437.8 L1825.0,438.8 L1826.0,442.1 L1827.0,448.1 L1828.0,455.6 L1829.0,461.6 L1830.0,462.5 L1831.0,457.4 L1832.0,448.4 L1833.0,439.3 L1834.0,432.4 L1835.0,428.2 L1836.0,426.2 L1837.0,427.2 L1838.0,430.4 L1839.0,436.3 L1840.0,443.9 L1841.0,450.0 L1842.0,450.9 L1843.0,445.6 L1844.0,436.5 L1845.0,427.1 L1846.0,420.0 L1847.0,415.6 L1848.0,413.6 L1849.0,414.6 L1850.0,418.0 L1851.0,424.3 L1852.0,432.3 L1853.0,438.7 L1854.0,439.7 L1855.0,434.1 L1856.0,424.3 L1857.0,414.2 L1858.0,406.5 L1859.0,401.6 L1860.0,399.1 L1861.0,399.8 L1862.0,403.0 L1863.0,409.2 L1864.0,417.2 L1865.0,423.5 L1866.0,424.0 L1867.0,417.5 L1868.0,406.5 L1869.0,395.2 L1870.0,386.4 L1871.0,380.7 L1872.0,377.5 L1873.0,377.7 L1874.0,380.5 L1875.0,386.6 L1876.0,394.6 L1877.0,400.7 L1878.0,400.8 L1879.0,395.8"/>
<path mask="url(#mR)" fill="#a87be2" stroke="none" d="M1580.0,698.9 L1582.0,696.7 L1584.0,694.5 L1586.0,692.3 L1588.0,690.1 L1590.0,687.9 L1592.0,685.7 L1594.0,683.5 L1596.0,681.3 L1598.0,679.2 L1600.0,677.0 L1602.0,674.8 L1604.0,672.7 L1606.0,670.6 L1608.0,668.5 L1610.0,666.4 L1612.0,664.3 L1614.0,662.3 L1616.0,660.2 L1618.0,658.2 L1620.0,656.1 L1622.0,654.1 L1624.0,652.1 L1626.0,650.1 L1628.0,648.1 L1630.0,646.1 L1632.0,644.1 L1634.0,642.2 L1636.0,640.2 L1638.0,638.2 L1640.0,636.3 L1642.0,634.3 L1644.0,632.3 L1646.0,630.4 L1648.0,628.4 L1650.0,626.4 L1652.0,624.4 L1654.0,622.5 L1656.0,620.5 L1658.0,618.5 L1660.0,616.5 L1662.0,614.5 L1664.0,612.5 L1666.0,610.5 L1668.0,608.5 L1670.0,606.4 L1672.0,604.4 L1674.0,602.3 L1676.0,600.2 L1678.0,598.1 L1680.0,596.0 L1682.0,593.9 L1684.0,591.8 L1686.0,589.6 L1688.0,587.5 L1690.0,585.3 L1692.0,583.1 L1694.0,580.8 L1696.0,578.6 L1698.0,576.3 L1700.0,574.0 L1702.0,571.7 L1704.0,569.3 L1706.0,567.0 L1708.0,564.6 L1710.0,562.2 L1712.0,559.8 L1714.0,557.3 L1716.0,554.9 L1718.0,552.4 L1720.0,549.9 L1722.0,547.4 L1724.0,544.8 L1726.0,542.3 L1728.0,539.7 L1730.0,537.1 L1732.0,534.5 L1734.0,531.8 L1736.0,529.2 L1738.0,526.5 L1740.0,523.8 L1742.0,521.1 L1744.0,518.3 L1746.0,515.6 L1748.0,512.8 L1750.0,510.0 L1752.0,507.1 L1754.0,504.2 L1756.0,501.2 L1758.0,498.1 L1760.0,495.0 L1762.0,491.9 L1764.0,488.6 L1766.0,485.4 L1768.0,482.1 L1770.0,478.8 L1772.0,475.5 L1774.0,472.2 L1776.0,468.9 L1778.0,465.6 L1780.0,462.3 L1782.0,459.0 L1784.0,455.8 L1786.0,452.6 L1788.0,449.5 L1790.0,446.4 L1792.0,443.4 L1794.0,440.4 L1796.0,437.5 L1798.0,434.7 L1800.0,432.0 L1802.0,429.4 L1804.0,426.8 L1806.0,424.4 L1808.0,422.0 L1810.0,419.6 L1812.0,417.3 L1814.0,415.1 L1816.0,412.8 L1818.0,410.6 L1820.0,408.4 L1822.0,406.2 L1824.0,404.0 L1826.0,401.8 L1828.0,399.5 L1830.0,397.2 L1832.0,394.9 L1834.0,392.5 L1836.0,390.1 L1838.0,387.6 L1840.0,385.0 L1842.0,382.4 L1844.0,379.7 L1846.0,377.0 L1848.0,374.2 L1850.0,371.4 L1852.0,368.5 L1854.0,365.5 L1856.0,362.4 L1858.0,359.3 L1860.0,356.0 L1862.0,352.6 L1864.0,349.1 L1866.0,345.4 L1868.0,341.6 L1870.0,337.7 L1872.0,333.7 L1874.0,329.5 L1876.0,325.3 L1878.0,321.0 L1878.0,364.0 L1876.0,368.6 L1874.0,373.0 L1872.0,377.3 L1870.0,381.5 L1868.0,385.4 L1866.0,389.1 L1864.0,392.7 L1862.0,396.0 L1860.0,399.0 L1858.0,401.8 L1856.0,404.4 L1854.0,406.9 L1852.0,409.2 L1850.0,411.4 L1848.0,413.5 L1846.0,415.7 L1844.0,417.7 L1842.0,419.9 L1840.0,422.0 L1838.0,424.1 L1836.0,426.2 L1834.0,428.2 L1832.0,430.2 L1830.0,432.2 L1828.0,434.1 L1826.0,436.0 L1824.0,437.8 L1822.0,439.7 L1820.0,441.6 L1818.0,443.5 L1816.0,445.4 L1814.0,447.4 L1812.0,449.4 L1810.0,451.5 L1808.0,453.6 L1806.0,455.8 L1804.0,458.1 L1802.0,460.5 L1800.0,463.0 L1798.0,465.6 L1796.0,468.5 L1794.0,471.5 L1792.0,474.6 L1790.0,477.9 L1788.0,481.3 L1786.0,484.9 L1784.0,488.5 L1782.0,492.2 L1780.0,495.9 L1778.0,499.7 L1776.0,503.6 L1774.0,507.4 L1772.0,511.2 L1770.0,515.1 L1768.0,518.9 L1766.0,522.6 L1764.0,526.3 L1762.0,529.9 L1760.0,533.4 L1758.0,536.8 L1756.0,540.1 L1754.0,543.2 L1752.0,546.2 L1750.0,549.0 L1748.0,551.7 L1746.0,554.3 L1744.0,556.8 L1742.0,559.3 L1740.0,561.8 L1738.0,564.2 L1736.0,566.5 L1734.0,568.8 L1732.0,571.1 L1730.0,573.3 L1728.0,575.5 L1726.0,577.7 L1724.0,579.8 L1722.0,582.0 L1720.0,584.1 L1718.0,586.2 L1716.0,588.2 L1714.0,590.3 L1712.0,592.4 L1710.0,594.5 L1708.0,596.6 L1706.0,598.6 L1704.0,600.7 L1702.0,602.9 L1700.0,605.0 L1698.0,607.1 L1696.0,609.3 L1694.0,611.4 L1692.0,613.5 L1690.0,615.6 L1688.0,617.7 L1686.0,619.7 L1684.0,621.8 L1682.0,623.9 L1680.0,625.9 L1678.0,627.9 L1676.0,630.0 L1674.0,632.0 L1672.0,634.0 L1670.0,636.0 L1668.0,638.0 L1666.0,640.0 L1664.0,642.0 L1662.0,644.0 L1660.0,646.0 L1658.0,648.0 L1656.0,650.0 L1654.0,652.0 L1652.0,654.0 L1650.0,656.0 L1648.0,657.9 L1646.0,659.9 L1644.0,661.9 L1642.0,663.9 L1640.0,665.9 L1638.0,667.9 L1636.0,669.9 L1634.0,671.9 L1632.0,673.9 L1630.0,675.9 L1628.0,677.9 L1626.0,679.9 L1624.0,682.0 L1622.0,684.0 L1620.0,686.0 L1618.0,688.1 L1616.0,690.2 L1614.0,692.2 L1612.0,694.3 L1610.0,696.4 L1608.0,698.5 L1606.0,700.6 L1604.0,702.7 L1602.0,704.9 L1600.0,707.0 L1598.0,709.2 L1596.0,711.3 L1594.0,713.5 L1592.0,715.7 L1590.0,717.8 L1588.0,720.0 L1586.0,722.2 L1584.0,724.4 L1582.0,726.6 L1580.0,728.8Z"/>
<path stroke="#a87be2" d="M341.0,1284.0 L344.5,1316.0 L350.0,1240.0 L357.0,1150.0 L362.0,1185.0 L368.0,1225.0 L374.0,1200.0 L380.0,1170.0 L383.0,1163.3 L384.0,1162.8 L385.0,1162.4 L386.0,1161.9 L387.0,1161.4 L388.0,1160.9 L389.0,1160.4 L390.0,1159.9 L391.0,1159.4 L392.0,1158.9 L393.0,1158.5 L394.0,1158.0 L395.0,1157.6 L396.0,1157.2 L397.0,1156.9 L398.0,1156.5 L399.0,1156.2 L400.0,1155.9 L401.0,1155.7 L402.0,1155.5 L403.0,1155.3 L404.0,1155.2 L405.0,1155.1 L406.0,1155.0 L407.0,1155.0 L408.0,1155.0 L409.0,1155.1 L410.0,1155.2 L411.0,1155.4 L412.0,1155.6 L413.0,1155.8 L414.0,1156.0 L415.0,1156.3 L416.0,1156.7 L417.0,1157.0 L418.0,1157.4 L419.0,1157.8 L420.0,1158.3 L421.0,1158.7 L422.0,1159.2 L423.0,1159.7 L424.0,1160.2 L425.0,1160.7 L426.0,1161.2 L427.0,1161.7 L428.0,1162.1 L429.0,1162.6 L430.0,1163.1 L431.0,1163.6 L432.0,1164.0 L433.0,1164.4 L434.0,1164.8 L435.0,1165.2 L436.0,1165.5 L437.0,1165.9 L438.0,1166.1 L439.0,1166.4 L440.0,1166.6 L441.0,1166.7 L442.0,1166.9 L443.0,1167.0 L444.0,1167.0 L445.0,1167.0 L446.0,1167.0 L447.0,1166.9 L448.0,1166.8 L449.0,1166.6 L450.0,1166.4 L451.0,1166.1 L452.0,1165.9 L453.0,1165.6 L454.0,1165.2 L455.0,1164.9 L456.0,1164.5 L457.0,1164.0 L458.0,1163.6 L459.0,1163.1 L460.0,1162.7 L461.0,1162.2 L462.0,1161.7 L463.0,1161.2 L464.0,1160.7 L465.0,1160.2 L466.0,1159.7 L467.0,1159.2 L468.0,1158.7 L469.0,1158.3 L470.0,1157.8 L471.0,1157.4 L472.0,1157.0 L473.0,1156.7 L474.0,1156.3 L475.0,1156.0 L476.0,1155.8 L477.0,1155.5 L478.0,1155.4 L479.0,1155.2 L480.0,1155.1 L481.0,1155.0 L482.0,1155.0 L483.0,1155.0 L484.0,1155.1 L485.0,1155.2 L486.0,1155.3 L487.0,1155.5 L488.0,1155.7 L489.0,1156.0 L490.0,1156.3 L491.0,1156.6 L492.0,1157.0 L493.0,1157.4 L494.0,1157.8 L495.0,1158.2 L496.0,1158.7 L497.0,1159.2 L498.0,1159.7 L499.0,1160.2 L500.0,1160.7 L501.0,1161.2 L502.0,1161.7 L503.0,1162.2 L504.0,1162.7 L505.0,1163.2 L506.0,1163.7 L507.0,1164.1 L508.0,1164.5 L509.0,1164.9 L510.0,1165.3 L511.0,1165.7 L512.0,1166.0 L513.0,1166.2 L514.0,1166.5 L515.0,1166.7 L516.0,1166.8 L517.0,1166.9 L518.0,1167.0 L519.0,1167.0 L520.0,1167.0 L521.0,1166.9 L522.0,1166.8 L523.0,1166.6 L524.0,1166.4 L525.0,1166.1 L526.0,1165.8 L527.0,1165.5 L528.0,1165.1 L529.0,1164.7 L530.0,1164.3 L531.0,1163.8 L532.0,1163.4 L533.0,1162.8 L534.0,1162.3 L535.0,1161.8 L536.0,1161.2 L537.0,1160.7 L538.0,1160.1 L539.0,1159.6 L540.0,1159.0 L541.0,1158.5 L542.0,1158.0 L543.0,1157.5 L544.0,1157.0 L545.0,1156.6 L546.0,1156.2 L547.0,1155.8 L548.0,1155.4 L549.0,1155.1 L550.0,1154.8 L551.0,1154.6 L552.0,1154.4 L553.0,1154.3 L554.0,1154.2 L555.0,1154.2 L556.0,1154.2 L557.0,1154.3 L558.0,1154.4 L559.0,1154.6 L560.0,1154.8 L561.0,1155.0 L562.0,1155.3 L563.0,1155.7 L564.0,1156.0 L565.0,1156.5 L566.0,1156.9 L567.0,1157.4 L568.0,1157.9 L569.0,1158.4 L570.0,1159.0 L571.0,1159.5 L572.0,1160.1 L573.0,1160.6 L574.0,1161.2 L575.0,1161.7 L576.0,1162.3 L577.0,1162.8 L578.0,1163.3 L579.0,1163.8 L580.0,1164.2 L581.0,1164.6 L582.0,1165.0 L583.0,1165.3 L584.0,1165.6 L585.0,1165.8 L586.0,1166.0 L587.0,1166.2 L588.0,1166.3 L589.0,1166.3 L590.0,1166.3 L591.0,1166.2 L592.0,1166.0 L593.0,1165.8 L594.0,1165.6 L595.0,1165.3 L596.0,1164.9 L597.0,1164.5 L598.0,1164.0 L599.0,1163.6 L600.0,1163.0 L601.0,1162.4 L602.0,1161.8 L603.0,1161.2 L604.0,1160.6 L605.0,1159.9 L606.0,1159.3 L607.0,1158.6 L608.0,1157.9 L609.0,1157.2 L610.0,1156.6 L611.0,1156.0 L612.0,1155.3 L613.0,1154.8 L614.0,1154.2 L615.0,1153.7 L616.0,1153.2 L617.0,1152.8 L618.0,1152.4 L619.0,1152.1 L620.0,1151.9 L621.0,1151.7 L622.0,1151.5 L623.0,1151.4 L624.0,1151.4 L625.0,1151.5 L626.0,1151.6 L627.0,1151.7 L628.0,1151.9 L629.0,1152.2 L630.0,1152.5 L631.0,1152.9 L632.0,1153.3 L633.0,1153.8 L634.0,1154.3 L635.0,1154.8 L636.0,1155.4 L637.0,1156.0 L638.0,1156.6 L639.0,1157.2 L640.0,1157.8 L641.0,1158.4 L642.0,1159.0 L643.0,1159.6 L644.0,1160.2 L645.0,1160.7 L646.0,1161.2 L647.0,1161.7 L648.0,1162.1 L649.0,1162.5 L650.0,1162.9 L651.0,1163.1 L652.0,1163.4 L653.0,1163.5 L654.0,1163.6 L655.0,1163.6 L656.0,1163.6 L657.0,1163.5 L658.0,1163.3 L659.0,1163.1 L660.0,1162.8 L661.0,1162.5 L662.0,1162.0 L663.0,1161.6 L664.0,1161.0 L665.0,1160.5 L666.0,1159.8 L667.0,1159.2 L668.0,1158.5 L669.0,1157.8 L670.0,1157.0 L671.0,1156.3 L672.0,1155.5 L673.0,1154.7 L674.0,1153.9 L675.0,1153.2 L676.0,1152.4 L677.0,1151.7 L678.0,1151.0 L679.0,1150.3 L680.0,1149.6 L681.0,1149.0 L682.0,1148.4 L683.0,1147.9 L684.0,1147.4 L685.0,1147.0 L686.0,1146.7 L687.0,1146.4 L688.0,1146.1 L689.0,1145.9 L690.0,1145.8 L691.0,1145.8 L692.0,1145.8 L693.0,1145.8 L694.0,1146.0 L695.0,1146.1 L696.0,1146.4 L697.0,1146.6 L698.0,1147.0 L699.0,1147.3 L700.0,1147.7 L701.0,1148.1 L702.0,1148.6 L703.0,1149.0 L704.0,1149.5 L705.0,1150.0 L706.0,1150.5 L707.0,1151.0 L708.0,1151.4 L709.0,1151.8 L710.0,1152.2 L711.0,1152.6 L712.0,1153.0 L713.0,1153.3 L714.0,1153.5 L715.0,1153.7 L716.0,1153.8 L717.0,1153.9 L718.0,1153.9 L719.0,1153.9 L720.0,1153.7 L721.0,1153.6 L722.0,1153.3 L723.0,1153.0 L724.0,1152.6 L725.0,1152.1 L726.0,1151.6 L727.0,1151.0 L728.0,1150.4 L729.0,1149.7 L730.0,1149.0 L731.0,1148.2 L732.0,1147.4 L733.0,1146.6 L734.0,1145.7 L735.0,1144.8 L736.0,1143.9 L737.0,1143.1 L738.0,1142.2 L739.0,1141.3 L740.0,1140.5 L741.0,1139.7 L742.0,1138.9 L743.0,1138.2 L744.0,1137.5 L745.0,1136.9 L746.0,1136.3 L747.0,1135.8 L748.0,1135.3 L749.0,1134.9 L750.0,1134.6 L751.0,1134.3 L752.0,1134.2 L753.0,1134.0 L754.0,1134.0 L755.0,1134.0 L756.0,1134.1 L757.0,1134.2 L758.0,1134.4 L759.0,1134.7 L760.0,1135.0 L761.0,1135.3 L762.0,1135.7 L763.0,1136.1 L764.0,1136.5 L765.0,1136.9 L766.0,1137.3 L767.0,1137.8 L768.0,1138.2 L769.0,1138.6 L770.0,1139.0 L771.0,1139.3 L772.0,1139.6 L773.0,1139.9 L774.0,1140.1 L775.0,1140.3 L776.0,1140.4 L777.0,1140.5 L778.0,1140.4 L779.0,1140.4 L780.0,1140.2 L781.0,1140.0 L782.0,1139.7 L783.0,1139.4 L784.0,1138.9 L785.0,1138.5 L786.0,1137.9 L787.0,1137.3 L788.0,1136.6 L789.0,1135.9 L790.0,1135.2 L791.0,1134.4 L792.0,1133.6 L793.0,1132.8 L794.0,1131.9 L795.0,1131.1 L796.0,1130.2 L797.0,1129.3 L798.0,1128.5 L799.0,1127.7 L800.0,1126.9 L801.0,1126.2 L802.0,1125.5 L803.0,1124.8 L804.0,1124.2 L805.0,1123.7 L806.0,1123.2 L807.0,1122.8 L808.0,1122.5 L809.0,1122.2 L810.0,1122.0 L811.0,1121.9 L812.0,1121.8 L813.0,1121.8 L814.0,1121.9 L815.0,1122.1 L816.0,1122.3 L817.0,1122.5 L818.0,1122.9 L819.0,1123.2 L820.0,1123.6 L821.0,1124.0 L822.0,1124.5 L823.0,1124.9 L824.0,1125.4 L825.0,1125.8 L826.0,1126.3 L827.0,1126.7 L828.0,1127.1 L829.0,1127.5 L830.0,1127.8 L831.0,1128.1 L832.0,1128.3 L833.0,1128.4 L834.0,1128.5 L835.0,1128.5 L836.0,1128.5 L837.0,1128.3 L838.0,1128.1 L839.0,1127.8 L840.0,1127.5 L841.0,1127.1 L842.0,1126.6 L843.0,1126.0 L844.0,1125.3 L845.0,1124.7 L846.0,1123.9 L847.0,1123.1 L848.0,1122.3 L849.0,1121.4 L850.0,1120.6 L851.0,1119.7 L852.0,1118.8 L853.0,1117.9 L854.0,1117.0 L855.0,1116.1 L856.0,1115.3 L857.0,1114.5 L858.0,1113.7 L859.0,1113.0 L860.0,1112.4 L861.0,1111.8 L862.0,1111.3 L863.0,1110.9 L864.0,1110.5 L865.0,1110.2 L866.0,1110.0 L867.0,1109.9 L868.0,1109.8 L869.0,1109.9 L870.0,1110.0 L871.0,1110.1 L872.0,1110.4 L873.0,1110.7 L874.0,1111.0 L875.0,1111.4 L876.0,1111.8 L877.0,1112.3 L878.0,1112.7 L879.0,1113.2 L880.0,1113.7 L881.0,1114.1 L882.0,1114.5 L883.0,1115.0 L884.0,1115.3 L885.0,1115.6 L886.0,1115.9 L887.0,1116.1 L888.0,1116.2 L889.0,1116.3 L890.0,1116.3 L891.0,1116.2 L892.0,1116.0 L893.0,1115.7 L894.0,1115.4 L895.0,1114.9 L896.0,1114.4 L897.0,1113.8 L898.0,1113.2 L899.0,1112.4 L900.0,1111.6 L901.0,1110.8 L902.0,1109.9 L903.0,1109.0 L904.0,1108.0 L905.0,1107.0 L906.0,1106.1 L907.0,1105.1 L908.0,1104.2 L909.0,1103.3 L910.0,1102.4 L911.0,1101.6 L912.0,1100.8 L913.0,1100.1 L914.0,1099.5 L915.0,1098.9 L916.0,1098.4 L917.0,1098.0 L918.0,1097.7 L919.0,1097.5 L920.0,1097.4 L921.0,1097.4 L922.0,1097.4 L923.0,1097.5 L924.0,1097.7 L925.0,1098.0 L926.0,1098.3 L927.0,1098.7 L928.0,1099.1 L929.0,1099.6 L930.0,1100.1 L931.0,1100.6 L932.0,1101.0 L933.0,1101.5 L934.0,1102.0 L935.0,1102.4 L936.0,1102.8 L937.0,1103.1 L938.0,1103.3 L939.0,1103.5 L940.0,1103.6 L941.0,1103.6 L942.0,1103.6 L943.0,1103.4 L944.0,1103.2 L945.0,1102.8 L946.0,1102.4 L947.0,1101.8 L948.0,1101.2 L949.0,1100.5 L950.0,1099.8 L951.0,1098.9 L952.0,1098.1 L953.0,1097.1 L954.0,1096.1 L955.0,1095.1 L956.0,1094.1 L957.0,1093.1 L958.0,1092.1 L959.0,1091.1 L960.0,1090.2 L961.0,1089.3 L962.0,1088.4 L963.0,1087.6 L964.0,1086.9 L965.0,1086.2 L966.0,1085.7 L967.0,1085.2 L968.0,1084.9 L969.0,1084.6 L970.0,1084.4 L971.0,1084.3 L972.0,1084.3 L973.0,1084.4 L974.0,1084.6 L975.0,1084.9 L976.0,1085.2 L977.0,1085.6 L978.0,1086.0 L979.0,1086.5 L980.0,1087.0 L981.0,1087.5 L982.0,1088.0 L983.0,1088.5 L984.0,1088.9 L985.0,1089.3 L986.0,1089.7 L987.0,1090.0 L988.0,1090.2 L989.0,1090.4 L990.0,1090.4 L991.0,1090.4 L992.0,1090.2 L993.0,1090.0 L994.0,1089.6 L995.0,1089.1 L996.0,1088.6 L997.0,1087.9 L998.0,1087.1 L999.0,1086.3 L1000.0,1085.4 L1001.0,1084.4 L1002.0,1083.4 L1003.0,1082.3 L1004.0,1081.2 L1005.0,1080.1 L1006.0,1079.0 L1007.0,1077.9 L1008.0,1076.9 L1009.0,1075.9 L1010.0,1075.0 L1011.0,1074.2 L1012.0,1073.4 L1013.0,1072.7 L1014.0,1072.2 L1015.0,1071.7 L1016.0,1071.4 L1017.0,1071.2 L1018.0,1071.0 L1019.0,1071.0 L1020.0,1071.1 L1021.0,1071.3 L1022.0,1071.6 L1023.0,1072.0 L1024.0,1072.4 L1025.0,1072.9 L1026.0,1073.4 L1027.0,1074.0 L1028.0,1074.5 L1029.0,1075.1 L1030.0,1075.6 L1031.0,1076.1 L1032.0,1076.5 L1033.0,1076.8 L1034.0,1077.1 L1035.0,1077.2 L1036.0,1077.3 L1037.0,1077.2 L1038.0,1077.0 L1039.0,1076.7 L1040.0,1076.3 L1041.0,1075.8 L1042.0,1075.1 L1043.0,1074.4 L1044.0,1073.5 L1045.0,1072.6 L1046.0,1071.5 L1047.0,1070.4 L1048.0,1069.3 L1049.0,1068.1 L1050.0,1066.9 L1051.0,1065.7 L1052.0,1064.5 L1053.0,1063.4 L1054.0,1062.3 L1055.0,1061.3 L1056.0,1060.4 L1057.0,1059.6 L1058.0,1058.8 L1059.0,1058.3 L1060.0,1057.8 L1061.0,1057.4 L1062.0,1057.2 L1063.0,1057.1 L1064.0,1057.2 L1065.0,1057.3 L1066.0,1057.6 L1067.0,1058.0 L1068.0,1058.4 L1069.0,1058.9 L1070.0,1059.5 L1071.0,1060.1 L1072.0,1060.7 L1073.0,1061.3 L1074.0,1061.9 L1075.0,1062.4 L1076.0,1062.9 L1077.0,1063.3 L1078.0,1063.6 L1079.0,1063.7 L1080.0,1063.8 L1081.0,1063.7 L1082.0,1063.5 L1083.0,1063.2 L1084.0,1062.7 L1085.0,1062.0 L1086.0,1061.3 L1087.0,1060.4 L1088.0,1059.4 L1089.0,1058.3 L1090.0,1057.1 L1091.0,1055.9 L1092.0,1054.6 L1093.0,1053.3 L1094.0,1051.9 L1095.0,1050.6 L1096.0,1049.3 L1097.0,1048.1 L1098.0,1047.0 L1099.0,1045.9 L1100.0,1045.0 L1101.0,1044.2 L1102.0,1043.5 L1103.0,1043.0 L1104.0,1042.6 L1105.0,1042.4 L1106.0,1042.3 L1107.0,1042.4 L1108.0,1042.6 L1109.0,1043.0 L1110.0,1043.4 L1111.0,1043.9 L1112.0,1044.6 L1113.0,1045.2 L1114.0,1045.9 L1115.0,1046.6 L1116.0,1047.3 L1117.0,1047.9 L1118.0,1048.5 L1119.0,1048.9 L1120.0,1049.3 L1121.0,1049.4 L1122.0,1049.5 L1123.0,1049.3 L1124.0,1049.0 L1125.0,1048.6 L1126.0,1047.9 L1127.0,1047.0 L1128.0,1046.0 L1129.0,1044.9 L1130.0,1043.6 L1131.0,1042.2 L1132.0,1040.8 L1133.0,1039.3 L1134.0,1037.7 L1135.0,1036.2 L1136.0,1034.7 L1137.0,1033.3 L1138.0,1032.0 L1139.0,1030.8 L1140.0,1029.8 L1141.0,1029.0 L1142.0,1028.3 L1143.0,1027.8 L1144.0,1027.5 L1145.0,1027.5 L1146.0,1027.6 L1147.0,1027.9 L1148.0,1028.3 L1149.0,1028.9 L1150.0,1029.6 L1151.0,1030.4 L1152.0,1031.2 L1153.0,1032.0 L1154.0,1032.8 L1155.0,1033.5 L1156.0,1034.1 L1157.0,1034.6 L1158.0,1034.9 L1159.0,1034.9 L1160.0,1034.8 L1161.0,1034.5 L1162.0,1033.9 L1163.0,1033.1 L1164.0,1032.1 L1165.0,1030.9 L1166.0,1029.5 L1167.0,1028.0 L1168.0,1026.4 L1169.0,1024.7 L1170.0,1022.9 L1171.0,1021.2 L1172.0,1019.6 L1173.0,1018.1 L1174.0,1016.7 L1175.0,1015.5 L1176.0,1014.5 L1177.0,1013.7 L1178.0,1013.2 L1179.0,1013.0 L1180.0,1013.0 L1181.0,1013.2 L1182.0,1013.7 L1183.0,1014.3 L1184.0,1015.1 L1185.0,1016.0 L1186.0,1016.9 L1187.0,1017.8 L1188.0,1018.7 L1189.0,1019.4 L1190.0,1020.0 L1191.0,1020.4 L1192.0,1020.6 L1193.0,1020.5 L1194.0,1020.1 L1195.0,1019.4 L1196.0,1018.4 L1197.0,1017.2 L1198.0,1015.6 L1199.0,1013.9 L1200.0,1012.1 L1201.0,1010.1 L1202.0,1008.2 L1203.0,1006.3 L1204.0,1004.5 L1205.0,1002.9 L1206.0,1001.5 L1207.0,1000.4 L1208.0,999.6 L1209.0,999.2 L1210.0,999.1 L1211.0,999.3 L1212.0,999.7 L1213.0,1000.5 L1214.0,1001.3 L1215.0,1002.3 L1216.0,1003.4 L1217.0,1004.4 L1218.0,1005.3 L1219.0,1006.0 L1220.0,1006.5 L1221.0,1006.7 L1222.0,1006.6 L1223.0,1006.2 L1224.0,1005.5 L1225.0,1004.3 L1226.0,1002.9 L1227.0,1001.3 L1228.0,999.4 L1229.0,997.5 L1230.0,995.6 L1231.0,993.6 L1232.0,991.7 L1233.0,990.0 L1234.0,988.5 L1235.0,987.2 L1236.0,986.1 L1237.0,985.4 L1238.0,985.0 L1239.0,985.0 L1240.0,985.1 L1241.0,985.6 L1242.0,986.2 L1243.0,987.0 L1244.0,987.9 L1245.0,988.8 L1246.0,989.6 L1247.0,990.4 L1248.0,991.0 L1249.0,991.4 L1250.0,991.6 L1251.0,991.5 L1252.0,991.0 L1253.0,990.1 L1254.0,988.8 L1255.0,987.3 L1256.0,985.5 L1257.0,983.6 L1258.0,981.7 L1259.0,980.0 L1260.0,978.3 L1261.0,976.6 L1262.0,975.0 L1263.0,973.5 L1264.0,972.2 L1265.0,971.1 L1266.0,970.3 L1267.0,969.6 L1268.0,969.2 L1269.0,969.0 L1270.0,969.1 L1271.0,969.3 L1272.0,969.7 L1273.0,970.2 L1274.0,970.8 L1275.0,971.4 L1276.0,972.1 L1277.0,972.6 L1278.0,973.1 L1279.0,973.5 L1280.0,973.7 L1281.0,973.7 L1282.0,973.6 L1283.0,973.1 L1284.0,971.9 L1285.0,970.2 L1286.0,968.4 L1287.0,966.4 L1288.0,964.2 L1289.0,962.3 L1290.0,960.8 L1291.0,959.3 L1292.0,957.8 L1293.0,956.4 L1294.0,955.1 L1295.0,954.0 L1296.0,952.9 L1297.0,952.1 L1298.0,951.4 L1299.0,951.0 L1300.0,950.7 L1301.0,950.7 L1302.0,950.8 L1303.0,951.1 L1304.0,951.5 L1305.0,952.0 L1306.0,952.5 L1307.0,953.2 L1308.0,953.8 L1309.0,954.3 L1310.0,954.7 L1311.0,955.1 L1312.0,955.2 L1313.0,955.3 L1314.0,955.0 L1315.0,953.4 L1316.0,950.9 L1317.0,948.5 L1318.0,945.7 L1319.0,942.6 L1320.0,940.2 L1321.0,938.7 L1322.0,937.4 L1323.0,935.9 L1324.0,934.7 L1325.0,933.5 L1326.0,932.4 L1327.0,931.5 L1328.0,930.8 L1329.0,930.3 L1330.0,930.0 L1331.0,930.0 L1332.0,930.2 L1333.0,930.6 L1334.0,931.1 L1335.0,931.8 L1336.0,932.6 L1337.0,933.5 L1338.0,934.4 L1339.0,935.3 L1340.0,936.0 L1341.0,936.8 L1342.0,937.3 L1343.0,937.8 L1344.0,938.1 L1345.0,936.5 L1346.0,932.8 L1347.0,928.6 L1348.0,924.5 L1349.0,919.5 L1350.0,915.7 L1351.0,914.2 L1352.0,913.3 L1353.0,912.2 L1354.0,911.2 L1355.0,910.4 L1356.0,909.7 L1357.0,909.3 L1358.0,909.0 L1359.0,909.0 L1360.0,909.2 L1361.0,909.6 L1362.0,910.3 L1363.0,911.0 L1364.0,912.0 L1365.0,913.1 L1366.0,914.2 L1367.0,915.4 L1368.0,916.5 L1369.0,917.5 L1370.0,918.5 L1371.0,919.3 L1372.0,920.0 L1373.0,920.5 L1374.0,917.2 L1375.0,911.0 L1376.0,905.1 L1377.0,898.7 L1378.0,892.0 L1379.0,889.3 L1380.0,889.2 L1381.0,888.7 L1382.0,888.4 L1383.0,888.3 L1384.0,888.2 L1385.0,888.3 L1386.0,888.6 L1387.0,889.1 L1388.0,889.7 L1389.0,890.4 L1390.0,891.4 L1391.0,892.3 L1392.0,893.4 L1393.0,894.6 L1394.0,895.7 L1395.0,896.9 L1396.0,897.9 L1397.0,899.0 L1398.0,899.8 L1399.0,900.7 L1400.0,901.5 L1401.0,897.8 L1402.0,889.6 L1403.0,882.5 L1404.0,874.5 L1405.0,867.5 L1406.0,866.2 L1407.0,866.9 L1408.0,867.1 L1409.0,867.7 L1410.0,868.1 L1411.0,868.8 L1412.0,869.4 L1413.0,870.2 L1414.0,871.1 L1415.0,872.0 L1416.0,873.0 L1417.0,873.9 L1418.0,875.0 L1419.0,876.0 L1420.0,877.0 L1421.0,878.0 L1422.0,879.0 L1423.0,880.0 L1424.0,880.7 L1425.0,882.0 L1426.0,878.9 L1427.0,870.1 L1428.0,862.2 L1429.0,853.4 L1430.0,846.5 L1431.0,846.3 L1432.0,847.3 L1433.0,848.0 L1434.0,849.0 L1435.0,849.7 L1436.0,850.7 L1437.0,851.5 L1438.0,852.5 L1439.0,853.3 L1440.0,854.3 L1441.0,855.2 L1442.0,856.1 L1443.0,857.0 L1444.0,857.9 L1445.0,858.8 L1446.0,859.6 L1447.0,860.6 L1448.0,861.3 L1449.0,862.6 L1450.0,860.2 L1451.0,851.4 L1452.0,843.2 L1453.0,834.3 L1454.0,827.8 L1455.0,828.2 L1456.0,829.2 L1457.0,830.1 L1458.0,831.0 L1459.0,831.9 L1460.0,832.9 L1461.0,833.7 L1462.0,834.6 L1463.0,835.5 L1464.0,836.4 L1465.0,837.2 L1466.0,838.2 L1467.0,839.0 L1468.0,839.9 L1469.0,840.6 L1470.0,841.6 L1471.0,842.2 L1472.0,843.5 L1473.0,840.0 L1474.0,830.8 L1475.0,822.9 L1476.0,813.8 L1477.0,810.7 L1478.0,812.0 L1479.0,812.7 L1480.0,813.8 L1481.0,814.6 L1482.0,815.5 L1483.0,816.2 L1484.0,817.0 L1485.0,817.7 L1486.0,818.4 L1487.0,819.1 L1488.0,819.8 L1489.0,820.5 L1490.0,821.2 L1491.0,822.0 L1492.0,822.7 L1493.0,823.9 L1494.0,820.0 L1495.0,810.9 L1496.0,803.0 L1497.0,794.7 L1498.0,794.2 L1499.0,795.5 L1500.0,796.8 L1501.0,797.8 L1502.0,798.8 L1503.0,799.7 L1504.0,800.6 L1505.0,801.4 L1506.0,802.2 L1507.0,802.9 L1508.0,803.6 L1509.0,804.3 L1510.0,804.8 L1511.0,805.5 L1512.0,805.9 L1513.0,806.7 L1514.0,800.5 L1515.0,789.9 L1516.0,779.7 L1517.0,771.1 L1518.0,771.3 L1519.0,771.8 L1520.0,772.6 L1521.0,773.3 L1522.0,774.1 L1523.0,774.8 L1524.0,775.6 L1525.0,776.4 L1526.0,777.1 L1527.0,778.0 L1528.0,778.7 L1529.0,779.6 L1530.0,780.3 L1531.0,781.2 L1532.0,782.0 L1533.0,782.2 L1534.0,773.4 L1535.0,763.2 L1536.0,752.4 L1537.0,747.2 L1538.0,748.4 L1539.0,749.1 L1540.0,750.0 L1541.0,750.9 L1542.0,751.7 L1543.0,752.7 L1544.0,753.5 L1545.0,754.4 L1546.0,755.3 L1547.0,756.2 L1548.0,757.2 L1549.0,758.0 L1550.0,759.1 L1551.0,759.9 L1552.0,760.6 L1553.0,752.0 L1554.0,741.4 L1555.0,730.2 L1556.0,725.5 L1557.0,726.9 L1558.0,727.7 L1559.0,728.7 L1560.0,729.8 L1561.0,730.7 L1562.0,731.8 L1563.0,732.7 L1564.0,733.7 L1565.0,734.8 L1566.0,735.8 L1567.0,737.0 L1568.0,738.1 L1569.0,739.0 L1570.0,740.4 L1571.0,732.7 L1572.0,721.2 L1573.0,709.0 L1574.0,705.8 L1575.0,707.3 L1576.0,708.6 L1577.0,709.8 L1578.0,711.2 L1579.0,712.5 L1580.0,713.8 L1581.0,715.2 L1582.0,716.6 L1583.0,718.0 L1584.0,719.2 L1585.0,720.6 L1586.0,722.3 L1587.0,715.9 L1588.0,703.5 L1589.0,690.8 L1590.0,688.7 L1591.0,690.1 L1592.0,691.5 L1593.0,692.9 L1594.0,694.1 L1595.0,695.5 L1596.0,696.9 L1597.0,698.3 L1598.0,699.6 L1599.0,701.1 L1600.0,702.5 L1601.0,703.8 L1602.0,704.7 L1603.0,692.8 L1604.0,680.0 L1605.0,671.7 L1606.0,673.7 L1607.0,675.4 L1608.0,677.2 L1609.0,679.0 L1610.0,680.8 L1611.0,682.6 L1612.0,684.4 L1613.0,686.3 L1614.0,688.2 L1615.0,689.9 L1616.0,686.5 L1617.0,672.7 L1618.0,659.3 L1619.0,659.2 L1620.0,660.7 L1621.0,662.4 L1622.0,664.0 L1623.0,665.7 L1624.0,667.3 L1625.0,668.9 L1626.0,670.5 L1627.0,672.2 L1628.0,673.9 L1629.0,675.6 L1630.0,672.3 L1631.0,658.6 L1632.0,645.2 L1633.0,645.6 L1634.0,647.3 L1635.0,649.1 L1636.0,651.0 L1637.0,652.9 L1638.0,654.8 L1639.0,656.6 L1640.0,658.5 L1641.0,660.4 L1642.0,662.1 L1643.0,659.5 L1644.0,645.7 L1645.0,632.5 L1646.0,632.9 L1647.0,634.5 L1648.0,636.2 L1649.0,637.9 L1650.0,639.6 L1651.0,641.2 L1652.0,642.8 L1653.0,644.4 L1654.0,646.0 L1655.0,647.5 L1656.0,649.2 L1657.0,638.6 L1658.0,625.5 L1659.0,618.9 L1660.0,620.8 L1661.0,622.5 L1662.0,624.2 L1663.0,625.8 L1664.0,627.4 L1665.0,629.0 L1666.0,630.6 L1667.0,632.2 L1668.0,633.8 L1669.0,635.6 L1670.0,625.5 L1671.0,612.6 L1672.0,606.4 L1673.0,608.2 L1674.0,610.0 L1675.0,611.7 L1676.0,613.4 L1677.0,615.1 L1678.0,616.8 L1679.0,618.5 L1680.0,620.2 L1681.0,621.8 L1682.0,620.0 L1683.0,606.5 L1684.0,593.8 L1685.0,594.4 L1686.0,595.9 L1687.0,597.5 L1688.0,599.0 L1689.0,600.6 L1690.0,602.2 L1691.0,603.8 L1692.0,605.4 L1693.0,606.9 L1694.0,608.5 L1695.0,606.1 L1696.0,592.5 L1697.0,579.5 L1698.0,580.0 L1699.0,581.5 L1700.0,583.0 L1701.0,584.5 L1702.0,586.1 L1703.0,587.8 L1704.0,589.4 L1705.0,591.1 L1706.0,592.8 L1707.0,594.5 L1708.0,592.3 L1709.0,578.0 L1710.0,564.3 L1711.0,565.0 L1712.0,566.7 L1713.0,568.5 L1714.0,570.3 L1715.0,572.2 L1716.0,574.1 L1717.0,576.1 L1718.0,578.1 L1719.0,580.2 L1720.0,582.5 L1721.0,571.1 L1722.0,555.5 L1723.0,548.5 L1724.0,550.6 L1725.0,552.6 L1726.0,554.7 L1727.0,556.7 L1728.0,558.8 L1729.0,561.0 L1730.0,563.1 L1731.0,565.3 L1732.0,567.4 L1733.0,565.5 L1734.0,548.7 L1735.0,532.6 L1736.0,533.7 L1737.0,535.8 L1738.0,538.0 L1739.0,540.1 L1740.0,542.3 L1741.0,544.5 L1742.0,546.8 L1743.0,549.1 L1744.0,551.4 L1745.0,553.9 L1746.0,540.9 L1747.0,523.2 L1748.0,515.4 L1749.0,517.7 L1750.0,519.9 L1751.0,522.1 L1752.0,524.3 L1753.0,526.5 L1754.0,528.5 L1755.0,530.6 L1756.0,532.6 L1757.0,534.5 L1758.0,532.4 L1759.0,514.1 L1760.0,497.0 L1761.0,498.2 L1762.0,500.2 L1763.0,502.2 L1764.0,504.2 L1765.0,506.0 L1766.0,507.9 L1767.0,509.7 L1768.0,511.4 L1769.0,513.0 L1770.0,511.3 L1771.0,493.5 L1772.0,477.4 L1773.0,478.5 L1774.0,480.1 L1775.0,481.7 L1776.0,483.3 L1777.0,484.8 L1778.0,486.3 L1779.0,487.7 L1780.0,489.1 L1781.0,490.3 L1782.0,488.5 L1783.0,472.4 L1784.0,457.6 L1785.0,458.5 L1786.0,459.9 L1787.0,461.3 L1788.0,462.8 L1789.0,464.1 L1790.0,465.5 L1791.0,466.9 L1792.0,468.2 L1793.0,469.5 L1794.0,468.0 L1795.0,453.1 L1796.0,439.3 L1797.0,440.2 L1798.0,441.7 L1799.0,443.3 L1800.0,444.9 L1801.0,446.6 L1802.0,448.2 L1803.0,450.0 L1804.0,451.7 L1805.0,453.4 L1806.0,452.3 L1807.0,437.5 L1808.0,423.7 L1809.0,425.0 L1810.0,426.8 L1811.0,428.7 L1812.0,430.7 L1813.0,432.7 L1814.0,434.7 L1815.0,436.7 L1816.0,438.8 L1817.0,440.8 L1818.0,439.9 L1819.0,424.5 L1820.0,410.2 L1821.0,411.7 L1822.0,413.8 L1823.0,415.9 L1824.0,418.1 L1825.0,420.3 L1826.0,422.5 L1827.0,424.8 L1828.0,427.0 L1829.0,429.3 L1830.0,428.4 L1831.0,412.0 L1832.0,396.8 L1833.0,398.3 L1834.0,400.6 L1835.0,402.8 L1836.0,405.1 L1837.0,407.4 L1838.0,409.8 L1839.0,412.2 L1840.0,414.5 L1841.0,416.9 L1842.0,415.8 L1843.0,398.2 L1844.0,381.6 L1845.0,383.2 L1846.0,385.6 L1847.0,388.0 L1848.0,390.6 L1849.0,393.1 L1850.0,395.7 L1851.0,398.4 L1852.0,401.0 L1853.0,403.7 L1854.0,402.5 L1855.0,382.9 L1856.0,364.5 L1857.0,366.2 L1858.0,368.7 L1859.0,371.3 L1860.0,373.9 L1861.0,376.4 L1862.0,379.0 L1863.0,381.5 L1864.0,384.0 L1865.0,386.3 L1866.0,384.6 L1867.0,363.4 L1868.0,343.7 L1869.0,345.2 L1870.0,347.4 L1871.0,349.6 L1872.0,351.8 L1873.0,353.9 L1874.0,356.0 L1875.0,358.0 L1876.0,360.0 L1877.0,361.8 L1878.0,359.5 L1879.0,340.5"/>
<path mask="url(#mR)" fill="#cc9a33" stroke="none" d="M1580.0,674.9 L1582.0,672.6 L1584.0,670.3 L1586.0,668.0 L1588.0,665.7 L1590.0,663.4 L1592.0,661.1 L1594.0,658.8 L1596.0,656.5 L1598.0,654.3 L1600.0,652.0 L1602.0,649.7 L1604.0,647.5 L1606.0,645.3 L1608.0,643.1 L1610.0,640.9 L1612.0,638.7 L1614.0,636.5 L1616.0,634.3 L1618.0,632.2 L1620.0,630.1 L1622.0,627.9 L1624.0,625.8 L1626.0,623.7 L1628.0,621.6 L1630.0,619.5 L1632.0,617.4 L1634.0,615.3 L1636.0,613.2 L1638.0,611.1 L1640.0,609.0 L1642.0,607.0 L1644.0,604.9 L1646.0,602.8 L1648.0,600.7 L1650.0,598.6 L1652.0,596.5 L1654.0,594.5 L1656.0,592.4 L1658.0,590.3 L1660.0,588.2 L1662.0,586.1 L1664.0,584.0 L1666.0,581.8 L1668.0,579.7 L1670.0,577.6 L1672.0,575.4 L1674.0,573.3 L1676.0,571.1 L1678.0,568.9 L1680.0,566.7 L1682.0,564.5 L1684.0,562.3 L1686.0,560.1 L1688.0,557.8 L1690.0,555.6 L1692.0,553.3 L1694.0,551.0 L1696.0,548.7 L1698.0,546.4 L1700.0,544.0 L1702.0,541.6 L1704.0,539.2 L1706.0,536.8 L1708.0,534.4 L1710.0,531.9 L1712.0,529.5 L1714.0,527.0 L1716.0,524.5 L1718.0,522.0 L1720.0,519.4 L1722.0,516.9 L1724.0,514.3 L1726.0,511.7 L1728.0,509.1 L1730.0,506.5 L1732.0,503.9 L1734.0,501.3 L1736.0,498.7 L1738.0,496.0 L1740.0,493.4 L1742.0,490.7 L1744.0,488.1 L1746.0,485.4 L1748.0,482.7 L1750.0,480.0 L1752.0,477.3 L1754.0,474.6 L1756.0,471.8 L1758.0,469.1 L1760.0,466.3 L1762.0,463.5 L1764.0,460.7 L1766.0,457.9 L1768.0,455.1 L1770.0,452.3 L1772.0,449.4 L1774.0,446.6 L1776.0,443.7 L1778.0,440.8 L1780.0,438.0 L1782.0,435.1 L1784.0,432.2 L1786.0,429.3 L1788.0,426.4 L1790.0,423.5 L1792.0,420.6 L1794.0,417.7 L1796.0,414.8 L1798.0,411.9 L1800.0,409.0 L1802.0,406.1 L1804.0,403.2 L1806.0,400.3 L1808.0,397.3 L1810.0,394.4 L1812.0,391.4 L1814.0,388.5 L1816.0,385.5 L1818.0,382.5 L1820.0,379.6 L1822.0,376.6 L1824.0,373.6 L1826.0,370.7 L1828.0,367.7 L1830.0,364.7 L1832.0,361.8 L1834.0,358.8 L1836.0,355.9 L1838.0,352.9 L1840.0,350.0 L1842.0,347.1 L1844.0,344.2 L1846.0,341.3 L1848.0,338.4 L1850.0,335.5 L1852.0,332.6 L1854.0,329.7 L1856.0,326.8 L1858.0,323.9 L1860.0,321.0 L1862.0,318.1 L1864.0,315.2 L1866.0,312.3 L1868.0,309.4 L1870.0,306.5 L1872.0,303.7 L1874.0,300.8 L1876.0,297.9 L1878.0,295.0 L1878.0,323.0 L1876.0,327.3 L1874.0,331.5 L1872.0,335.7 L1870.0,339.7 L1868.0,343.6 L1866.0,347.4 L1864.0,351.1 L1862.0,354.6 L1860.0,358.0 L1858.0,361.3 L1856.0,364.4 L1854.0,367.5 L1852.0,370.5 L1850.0,373.4 L1848.0,376.2 L1846.0,379.0 L1844.0,381.7 L1842.0,384.4 L1840.0,387.0 L1838.0,389.6 L1836.0,392.1 L1834.0,394.5 L1832.0,396.9 L1830.0,399.2 L1828.0,401.5 L1826.0,403.8 L1824.0,406.0 L1822.0,408.2 L1820.0,410.4 L1818.0,412.6 L1816.0,414.8 L1814.0,417.1 L1812.0,419.3 L1810.0,421.6 L1808.0,424.0 L1806.0,426.4 L1804.0,428.8 L1802.0,431.4 L1800.0,434.0 L1798.0,436.7 L1796.0,439.5 L1794.0,442.4 L1792.0,445.4 L1790.0,448.4 L1788.0,451.5 L1786.0,454.6 L1784.0,457.8 L1782.0,461.0 L1780.0,464.3 L1778.0,467.6 L1776.0,470.9 L1774.0,474.2 L1772.0,477.5 L1770.0,480.8 L1768.0,484.1 L1766.0,487.4 L1764.0,490.6 L1762.0,493.9 L1760.0,497.0 L1758.0,500.1 L1756.0,503.2 L1754.0,506.2 L1752.0,509.1 L1750.0,512.0 L1748.0,514.8 L1746.0,517.6 L1744.0,520.3 L1742.0,523.1 L1740.0,525.8 L1738.0,528.5 L1736.0,531.2 L1734.0,533.8 L1732.0,536.5 L1730.0,539.1 L1728.0,541.7 L1726.0,544.3 L1724.0,546.8 L1722.0,549.4 L1720.0,551.9 L1718.0,554.4 L1716.0,556.9 L1714.0,559.3 L1712.0,561.8 L1710.0,564.2 L1708.0,566.6 L1706.0,569.0 L1704.0,571.3 L1702.0,573.7 L1700.0,576.0 L1698.0,578.3 L1696.0,580.6 L1694.0,582.8 L1692.0,585.1 L1690.0,587.3 L1688.0,589.5 L1686.0,591.6 L1684.0,593.8 L1682.0,595.9 L1680.0,598.0 L1678.0,600.1 L1676.0,602.2 L1674.0,604.3 L1672.0,606.4 L1670.0,608.4 L1668.0,610.5 L1666.0,612.5 L1664.0,614.5 L1662.0,616.5 L1660.0,618.5 L1658.0,620.5 L1656.0,622.5 L1654.0,624.5 L1652.0,626.4 L1650.0,628.4 L1648.0,630.4 L1646.0,632.4 L1644.0,634.3 L1642.0,636.3 L1640.0,638.3 L1638.0,640.2 L1636.0,642.2 L1634.0,644.2 L1632.0,646.1 L1630.0,648.1 L1628.0,650.1 L1626.0,652.1 L1624.0,654.1 L1622.0,656.1 L1620.0,658.1 L1618.0,660.2 L1616.0,662.2 L1614.0,664.3 L1612.0,666.3 L1610.0,668.4 L1608.0,670.5 L1606.0,672.6 L1604.0,674.7 L1602.0,676.8 L1600.0,679.0 L1598.0,681.2 L1596.0,683.3 L1594.0,685.5 L1592.0,687.7 L1590.0,689.9 L1588.0,692.1 L1586.0,694.3 L1584.0,696.5 L1582.0,698.7 L1580.0,700.9Z"/>
<path stroke="#cc9a33" d="M341.0,1270.0 L344.5,1310.0 L350.0,1230.0 L357.0,1130.0 L362.0,1170.0 L368.0,1200.0 L374.0,1180.0 L380.0,1160.0 L383.0,1153.0 L384.0,1153.0 L385.0,1153.0 L386.0,1152.9 L387.0,1152.9 L388.0,1152.8 L389.0,1152.7 L390.0,1152.5 L391.0,1152.3 L392.0,1152.2 L393.0,1151.9 L394.0,1151.7 L395.0,1151.5 L396.0,1151.2 L397.0,1150.9 L398.0,1150.6 L399.0,1150.3 L400.0,1150.0 L401.0,1149.7 L402.0,1149.3 L403.0,1149.0 L404.0,1148.7 L405.0,1148.3 L406.0,1148.0 L407.0,1147.7 L408.0,1147.4 L409.0,1147.1 L410.0,1146.8 L411.0,1146.5 L412.0,1146.3 L413.0,1146.0 L414.0,1145.8 L415.0,1145.6 L416.0,1145.5 L417.0,1145.3 L418.0,1145.2 L419.0,1145.1 L420.0,1145.1 L421.0,1145.0 L422.0,1145.0 L423.0,1145.0 L424.0,1145.1 L425.0,1145.1 L426.0,1145.2 L427.0,1145.4 L428.0,1145.5 L429.0,1145.7 L430.0,1145.9 L431.0,1146.1 L432.0,1146.3 L433.0,1146.6 L434.0,1146.9 L435.0,1147.1 L436.0,1147.5 L437.0,1147.8 L438.0,1148.1 L439.0,1148.4 L440.0,1148.7 L441.0,1149.1 L442.0,1149.4 L443.0,1149.7 L444.0,1150.1 L445.0,1150.4 L446.0,1150.7 L447.0,1151.0 L448.0,1151.3 L449.0,1151.5 L450.0,1151.8 L451.0,1152.0 L452.0,1152.2 L453.0,1152.4 L454.0,1152.6 L455.0,1152.7 L456.0,1152.8 L457.0,1152.9 L458.0,1153.0 L459.0,1153.0 L460.0,1153.0 L461.0,1153.0 L462.0,1152.9 L463.0,1152.8 L464.0,1152.7 L465.0,1152.6 L466.0,1152.4 L467.0,1152.3 L468.0,1152.1 L469.0,1151.8 L470.0,1151.6 L471.0,1151.3 L472.0,1151.0 L473.0,1150.7 L474.0,1150.4 L475.0,1150.1 L476.0,1149.8 L477.0,1149.5 L478.0,1149.1 L479.0,1148.8 L480.0,1148.5 L481.0,1148.1 L482.0,1147.8 L483.0,1147.5 L484.0,1147.2 L485.0,1146.9 L486.0,1146.6 L487.0,1146.3 L488.0,1146.1 L489.0,1145.9 L490.0,1145.7 L491.0,1145.5 L492.0,1145.3 L493.0,1145.2 L494.0,1145.1 L495.0,1145.1 L496.0,1145.0 L497.0,1145.0 L498.0,1145.0 L499.0,1145.1 L500.0,1145.1 L501.0,1145.2 L502.0,1145.4 L503.0,1145.5 L504.0,1145.7 L505.0,1145.9 L506.0,1146.1 L507.0,1146.4 L508.0,1146.6 L509.0,1146.9 L510.0,1147.2 L511.0,1147.5 L512.0,1147.9 L513.0,1148.2 L514.0,1148.5 L515.0,1148.9 L516.0,1149.2 L517.0,1149.5 L518.0,1149.9 L519.0,1150.2 L520.0,1150.5 L521.0,1150.8 L522.0,1151.1 L523.0,1151.4 L524.0,1151.6 L525.0,1151.8 L526.0,1152.0 L527.0,1152.2 L528.0,1152.4 L529.0,1152.5 L530.0,1152.6 L531.0,1152.7 L532.0,1152.7 L533.0,1152.7 L534.0,1152.7 L535.0,1152.6 L536.0,1152.5 L537.0,1152.4 L538.0,1152.3 L539.0,1152.1 L540.0,1151.9 L541.0,1151.7 L542.0,1151.4 L543.0,1151.1 L544.0,1150.8 L545.0,1150.5 L546.0,1150.2 L547.0,1149.8 L548.0,1149.5 L549.0,1149.1 L550.0,1148.7 L551.0,1148.4 L552.0,1148.0 L553.0,1147.6 L554.0,1147.2 L555.0,1146.9 L556.0,1146.5 L557.0,1146.2 L558.0,1145.8 L559.0,1145.5 L560.0,1145.2 L561.0,1145.0 L562.0,1144.7 L563.0,1144.5 L564.0,1144.3 L565.0,1144.1 L566.0,1144.0 L567.0,1143.9 L568.0,1143.8 L569.0,1143.8 L570.0,1143.8 L571.0,1143.8 L572.0,1143.9 L573.0,1144.0 L574.0,1144.1 L575.0,1144.2 L576.0,1144.4 L577.0,1144.6 L578.0,1144.8 L579.0,1145.1 L580.0,1145.4 L581.0,1145.6 L582.0,1145.9 L583.0,1146.2 L584.0,1146.6 L585.0,1146.9 L586.0,1147.2 L587.0,1147.5 L588.0,1147.9 L589.0,1148.2 L590.0,1148.5 L591.0,1148.8 L592.0,1149.1 L593.0,1149.3 L594.0,1149.6 L595.0,1149.8 L596.0,1150.0 L597.0,1150.1 L598.0,1150.3 L599.0,1150.4 L600.0,1150.5 L601.0,1150.5 L602.0,1150.5 L603.0,1150.5 L604.0,1150.4 L605.0,1150.3 L606.0,1150.2 L607.0,1150.0 L608.0,1149.8 L609.0,1149.6 L610.0,1149.3 L611.0,1149.0 L612.0,1148.7 L613.0,1148.4 L614.0,1148.0 L615.0,1147.6 L616.0,1147.2 L617.0,1146.8 L618.0,1146.4 L619.0,1146.0 L620.0,1145.5 L621.0,1145.1 L622.0,1144.7 L623.0,1144.3 L624.0,1143.9 L625.0,1143.5 L626.0,1143.1 L627.0,1142.7 L628.0,1142.4 L629.0,1142.1 L630.0,1141.8 L631.0,1141.6 L632.0,1141.3 L633.0,1141.2 L634.0,1141.0 L635.0,1140.9 L636.0,1140.8 L637.0,1140.8 L638.0,1140.7 L639.0,1140.8 L640.0,1140.8 L641.0,1140.9 L642.0,1141.0 L643.0,1141.2 L644.0,1141.4 L645.0,1141.6 L646.0,1141.8 L647.0,1142.1 L648.0,1142.4 L649.0,1142.6 L650.0,1142.9 L651.0,1143.3 L652.0,1143.6 L653.0,1143.9 L654.0,1144.2 L655.0,1144.5 L656.0,1144.7 L657.0,1145.0 L658.0,1145.3 L659.0,1145.5 L660.0,1145.7 L661.0,1145.8 L662.0,1146.0 L663.0,1146.1 L664.0,1146.2 L665.0,1146.2 L666.0,1146.2 L667.0,1146.2 L668.0,1146.1 L669.0,1146.0 L670.0,1145.8 L671.0,1145.6 L672.0,1145.4 L673.0,1145.1 L674.0,1144.8 L675.0,1144.4 L676.0,1144.0 L677.0,1143.6 L678.0,1143.1 L679.0,1142.6 L680.0,1142.1 L681.0,1141.6 L682.0,1141.0 L683.0,1140.5 L684.0,1139.9 L685.0,1139.3 L686.0,1138.7 L687.0,1138.1 L688.0,1137.5 L689.0,1136.9 L690.0,1136.3 L691.0,1135.7 L692.0,1135.1 L693.0,1134.6 L694.0,1134.1 L695.0,1133.6 L696.0,1133.1 L697.0,1132.6 L698.0,1132.2 L699.0,1131.8 L700.0,1131.5 L701.0,1131.2 L702.0,1130.9 L703.0,1130.6 L704.0,1130.4 L705.0,1130.2 L706.0,1130.1 L707.0,1130.0 L708.0,1129.9 L709.0,1129.9 L710.0,1129.9 L711.0,1129.9 L712.0,1129.9 L713.0,1130.0 L714.0,1130.1 L715.0,1130.1 L716.0,1130.2 L717.0,1130.3 L718.0,1130.5 L719.0,1130.6 L720.0,1130.7 L721.0,1130.7 L722.0,1130.8 L723.0,1130.9 L724.0,1130.9 L725.0,1130.9 L726.0,1130.9 L727.0,1130.8 L728.0,1130.8 L729.0,1130.6 L730.0,1130.5 L731.0,1130.3 L732.0,1130.0 L733.0,1129.7 L734.0,1129.4 L735.0,1129.0 L736.0,1128.6 L737.0,1128.1 L738.0,1127.6 L739.0,1127.1 L740.0,1126.5 L741.0,1125.9 L742.0,1125.3 L743.0,1124.6 L744.0,1123.9 L745.0,1123.2 L746.0,1122.5 L747.0,1121.7 L748.0,1121.0 L749.0,1120.3 L750.0,1119.5 L751.0,1118.8 L752.0,1118.1 L753.0,1117.4 L754.0,1116.7 L755.0,1116.1 L756.0,1115.5 L757.0,1114.9 L758.0,1114.3 L759.0,1113.8 L760.0,1113.4 L761.0,1112.9 L762.0,1112.6 L763.0,1112.2 L764.0,1112.0 L765.0,1111.7 L766.0,1111.5 L767.0,1111.4 L768.0,1111.3 L769.0,1111.2 L770.0,1111.2 L771.0,1111.2 L772.0,1111.2 L773.0,1111.3 L774.0,1111.4 L775.0,1111.5 L776.0,1111.6 L777.0,1111.8 L778.0,1111.9 L779.0,1112.0 L780.0,1112.2 L781.0,1112.3 L782.0,1112.4 L783.0,1112.5 L784.0,1112.6 L785.0,1112.6 L786.0,1112.7 L787.0,1112.6 L788.0,1112.6 L789.0,1112.5 L790.0,1112.3 L791.0,1112.2 L792.0,1111.9 L793.0,1111.7 L794.0,1111.4 L795.0,1111.0 L796.0,1110.6 L797.0,1110.2 L798.0,1109.7 L799.0,1109.2 L800.0,1108.6 L801.0,1108.1 L802.0,1107.5 L803.0,1106.8 L804.0,1106.2 L805.0,1105.5 L806.0,1104.9 L807.0,1104.2 L808.0,1103.6 L809.0,1102.9 L810.0,1102.3 L811.0,1101.6 L812.0,1101.0 L813.0,1100.5 L814.0,1099.9 L815.0,1099.4 L816.0,1099.0 L817.0,1098.6 L818.0,1098.2 L819.0,1097.9 L820.0,1097.6 L821.0,1097.4 L822.0,1097.2 L823.0,1097.1 L824.0,1097.0 L825.0,1097.0 L826.0,1097.0 L827.0,1097.1 L828.0,1097.2 L829.0,1097.3 L830.0,1097.5 L831.0,1097.7 L832.0,1097.9 L833.0,1098.1 L834.0,1098.4 L835.0,1098.6 L836.0,1098.9 L837.0,1099.1 L838.0,1099.4 L839.0,1099.6 L840.0,1099.8 L841.0,1100.0 L842.0,1100.1 L843.0,1100.2 L844.0,1100.3 L845.0,1100.3 L846.0,1100.3 L847.0,1100.2 L848.0,1100.1 L849.0,1099.9 L850.0,1099.7 L851.0,1099.4 L852.0,1099.1 L853.0,1098.7 L854.0,1098.3 L855.0,1097.8 L856.0,1097.3 L857.0,1096.7 L858.0,1096.2 L859.0,1095.5 L860.0,1094.9 L861.0,1094.3 L862.0,1093.6 L863.0,1092.9 L864.0,1092.3 L865.0,1091.6 L866.0,1091.0 L867.0,1090.4 L868.0,1089.8 L869.0,1089.2 L870.0,1088.7 L871.0,1088.2 L872.0,1087.8 L873.0,1087.4 L874.0,1087.1 L875.0,1086.8 L876.0,1086.6 L877.0,1086.4 L878.0,1086.3 L879.0,1086.3 L880.0,1086.3 L881.0,1086.3 L882.0,1086.4 L883.0,1086.6 L884.0,1086.8 L885.0,1087.0 L886.0,1087.3 L887.0,1087.6 L888.0,1087.9 L889.0,1088.2 L890.0,1088.5 L891.0,1088.9 L892.0,1089.2 L893.0,1089.5 L894.0,1089.8 L895.0,1090.0 L896.0,1090.2 L897.0,1090.4 L898.0,1090.5 L899.0,1090.6 L900.0,1090.6 L901.0,1090.5 L902.0,1090.4 L903.0,1090.3 L904.0,1090.0 L905.0,1089.7 L906.0,1089.4 L907.0,1089.0 L908.0,1088.5 L909.0,1087.9 L910.0,1087.4 L911.0,1086.8 L912.0,1086.1 L913.0,1085.4 L914.0,1084.7 L915.0,1084.0 L916.0,1083.2 L917.0,1082.5 L918.0,1081.8 L919.0,1081.1 L920.0,1080.4 L921.0,1079.8 L922.0,1079.2 L923.0,1078.6 L924.0,1078.1 L925.0,1077.6 L926.0,1077.3 L927.0,1076.9 L928.0,1076.7 L929.0,1076.5 L930.0,1076.4 L931.0,1076.3 L932.0,1076.3 L933.0,1076.4 L934.0,1076.5 L935.0,1076.7 L936.0,1077.0 L937.0,1077.2 L938.0,1077.6 L939.0,1077.9 L940.0,1078.3 L941.0,1078.6 L942.0,1079.0 L943.0,1079.4 L944.0,1079.7 L945.0,1080.0 L946.0,1080.3 L947.0,1080.6 L948.0,1080.8 L949.0,1080.9 L950.0,1081.0 L951.0,1081.0 L952.0,1081.0 L953.0,1080.9 L954.0,1080.7 L955.0,1080.4 L956.0,1080.0 L957.0,1079.6 L958.0,1079.1 L959.0,1078.6 L960.0,1078.0 L961.0,1077.3 L962.0,1076.6 L963.0,1075.8 L964.0,1075.0 L965.0,1074.2 L966.0,1073.4 L967.0,1072.6 L968.0,1071.7 L969.0,1070.9 L970.0,1070.1 L971.0,1069.4 L972.0,1068.7 L973.0,1068.0 L974.0,1067.4 L975.0,1066.9 L976.0,1066.4 L977.0,1066.0 L978.0,1065.7 L979.0,1065.5 L980.0,1065.3 L981.0,1065.2 L982.0,1065.2 L983.0,1065.3 L984.0,1065.5 L985.0,1065.7 L986.0,1065.9 L987.0,1066.2 L988.0,1066.6 L989.0,1067.0 L990.0,1067.4 L991.0,1067.8 L992.0,1068.2 L993.0,1068.5 L994.0,1068.9 L995.0,1069.2 L996.0,1069.4 L997.0,1069.6 L998.0,1069.8 L999.0,1069.8 L1000.0,1069.8 L1001.0,1069.7 L1002.0,1069.5 L1003.0,1069.2 L1004.0,1068.8 L1005.0,1068.3 L1006.0,1067.7 L1007.0,1067.0 L1008.0,1066.3 L1009.0,1065.5 L1010.0,1064.6 L1011.0,1063.7 L1012.0,1062.7 L1013.0,1061.8 L1014.0,1060.8 L1015.0,1059.8 L1016.0,1058.8 L1017.0,1057.8 L1018.0,1056.9 L1019.0,1056.1 L1020.0,1055.3 L1021.0,1054.5 L1022.0,1053.9 L1023.0,1053.3 L1024.0,1052.9 L1025.0,1052.5 L1026.0,1052.2 L1027.0,1052.0 L1028.0,1052.0 L1029.0,1052.0 L1030.0,1052.1 L1031.0,1052.2 L1032.0,1052.5 L1033.0,1052.8 L1034.0,1053.1 L1035.0,1053.5 L1036.0,1053.9 L1037.0,1054.2 L1038.0,1054.6 L1039.0,1055.0 L1040.0,1055.3 L1041.0,1055.6 L1042.0,1055.8 L1043.0,1055.9 L1044.0,1056.0 L1045.0,1055.9 L1046.0,1055.8 L1047.0,1055.5 L1048.0,1055.2 L1049.0,1054.7 L1050.0,1054.1 L1051.0,1053.4 L1052.0,1052.7 L1053.0,1051.8 L1054.0,1050.9 L1055.0,1049.9 L1056.0,1048.8 L1057.0,1047.7 L1058.0,1046.6 L1059.0,1045.5 L1060.0,1044.3 L1061.0,1043.2 L1062.0,1042.1 L1063.0,1041.1 L1064.0,1040.2 L1065.0,1039.3 L1066.0,1038.5 L1067.0,1037.8 L1068.0,1037.2 L1069.0,1036.7 L1070.0,1036.3 L1071.0,1036.1 L1072.0,1035.9 L1073.0,1035.9 L1074.0,1035.9 L1075.0,1036.1 L1076.0,1036.3 L1077.0,1036.6 L1078.0,1036.9 L1079.0,1037.3 L1080.0,1037.7 L1081.0,1038.2 L1082.0,1038.5 L1083.0,1038.9 L1084.0,1039.2 L1085.0,1039.5 L1086.0,1039.7 L1087.0,1039.8 L1088.0,1039.8 L1089.0,1039.6 L1090.0,1039.4 L1091.0,1039.1 L1092.0,1038.6 L1093.0,1038.0 L1094.0,1037.3 L1095.0,1036.5 L1096.0,1035.6 L1097.0,1034.5 L1098.0,1033.5 L1099.0,1032.3 L1100.0,1031.1 L1101.0,1029.9 L1102.0,1028.6 L1103.0,1027.3 L1104.0,1026.1 L1105.0,1024.9 L1106.0,1023.8 L1107.0,1022.8 L1108.0,1021.8 L1109.0,1021.0 L1110.0,1020.2 L1111.0,1019.6 L1112.0,1019.2 L1113.0,1018.8 L1114.0,1018.6 L1115.0,1018.6 L1116.0,1018.6 L1117.0,1018.8 L1118.0,1019.1 L1119.0,1019.5 L1120.0,1019.9 L1121.0,1020.4 L1122.0,1020.9 L1123.0,1021.4 L1124.0,1021.9 L1125.0,1022.3 L1126.0,1022.7 L1127.0,1022.9 L1128.0,1023.1 L1129.0,1023.2 L1130.0,1023.1 L1131.0,1022.8 L1132.0,1022.4 L1133.0,1021.8 L1134.0,1021.1 L1135.0,1020.2 L1136.0,1019.2 L1137.0,1018.1 L1138.0,1016.9 L1139.0,1015.5 L1140.0,1014.1 L1141.0,1012.7 L1142.0,1011.3 L1143.0,1009.9 L1144.0,1008.6 L1145.0,1007.3 L1146.0,1006.1 L1147.0,1005.1 L1148.0,1004.2 L1149.0,1003.5 L1150.0,1003.0 L1151.0,1002.6 L1152.0,1002.5 L1153.0,1002.5 L1154.0,1002.7 L1155.0,1003.0 L1156.0,1003.4 L1157.0,1004.0 L1158.0,1004.6 L1159.0,1005.3 L1160.0,1005.9 L1161.0,1006.5 L1162.0,1007.1 L1163.0,1007.6 L1164.0,1007.9 L1165.0,1008.1 L1166.0,1008.1 L1167.0,1007.9 L1168.0,1007.5 L1169.0,1006.9 L1170.0,1006.1 L1171.0,1005.0 L1172.0,1003.9 L1173.0,1002.5 L1174.0,1001.0 L1175.0,999.5 L1176.0,997.9 L1177.0,996.3 L1178.0,994.7 L1179.0,993.3 L1180.0,991.9 L1181.0,990.7 L1182.0,989.7 L1183.0,988.9 L1184.0,988.3 L1185.0,987.9 L1186.0,987.8 L1187.0,987.9 L1188.0,988.3 L1189.0,988.8 L1190.0,989.4 L1191.0,990.2 L1192.0,991.0 L1193.0,991.8 L1194.0,992.6 L1195.0,993.3 L1196.0,993.8 L1197.0,994.1 L1198.0,994.2 L1199.0,994.1 L1200.0,993.6 L1201.0,992.9 L1202.0,991.9 L1203.0,990.6 L1204.0,989.1 L1205.0,987.4 L1206.0,985.7 L1207.0,983.8 L1208.0,982.0 L1209.0,980.3 L1210.0,978.7 L1211.0,977.3 L1212.0,976.1 L1213.0,975.2 L1214.0,974.7 L1215.0,974.4 L1216.0,974.4 L1217.0,974.7 L1218.0,975.3 L1219.0,976.0 L1220.0,976.8 L1221.0,977.7 L1222.0,978.6 L1223.0,979.4 L1224.0,980.2 L1225.0,980.7 L1226.0,981.0 L1227.0,981.1 L1228.0,980.8 L1229.0,980.2 L1230.0,979.3 L1231.0,978.1 L1232.0,976.6 L1233.0,974.9 L1234.0,973.1 L1235.0,971.3 L1236.0,969.5 L1237.0,967.7 L1238.0,966.1 L1239.0,964.6 L1240.0,963.3 L1241.0,962.2 L1242.0,961.4 L1243.0,961.0 L1244.0,960.8 L1245.0,960.8 L1246.0,961.1 L1247.0,961.6 L1248.0,962.3 L1249.0,963.0 L1250.0,963.9 L1251.0,964.7 L1252.0,965.4 L1253.0,966.0 L1254.0,966.5 L1255.0,966.8 L1256.0,966.8 L1257.0,966.6 L1258.0,966.0 L1259.0,964.9 L1260.0,963.6 L1261.0,962.0 L1262.0,960.2 L1263.0,958.4 L1264.0,956.7 L1265.0,955.1 L1266.0,953.5 L1267.0,952.0 L1268.0,950.5 L1269.0,949.2 L1270.0,948.1 L1271.0,947.1 L1272.0,946.4 L1273.0,945.8 L1274.0,945.5 L1275.0,945.4 L1276.0,945.6 L1277.0,945.9 L1278.0,946.3 L1279.0,946.9 L1280.0,947.5 L1281.0,948.1 L1282.0,948.8 L1283.0,949.4 L1284.0,949.8 L1285.0,950.2 L1286.0,950.4 L1287.0,950.4 L1288.0,950.3 L1289.0,949.5 L1290.0,948.0 L1291.0,946.3 L1292.0,944.4 L1293.0,942.2 L1294.0,940.1 L1295.0,938.5 L1296.0,937.1 L1297.0,935.7 L1298.0,934.3 L1299.0,933.1 L1300.0,931.9 L1301.0,930.8 L1302.0,930.0 L1303.0,929.3 L1304.0,928.9 L1305.0,928.6 L1306.0,928.5 L1307.0,928.7 L1308.0,929.0 L1309.0,929.4 L1310.0,930.0 L1311.0,930.7 L1312.0,931.3 L1313.0,932.1 L1314.0,932.7 L1315.0,933.3 L1316.0,933.8 L1317.0,934.1 L1318.0,934.4 L1319.0,934.4 L1320.0,933.3 L1321.0,931.0 L1322.0,928.5 L1323.0,925.8 L1324.0,922.7 L1325.0,919.9 L1326.0,918.3 L1327.0,917.1 L1328.0,915.9 L1329.0,914.7 L1330.0,913.6 L1331.0,912.7 L1332.0,911.9 L1333.0,911.3 L1334.0,910.9 L1335.0,910.7 L1336.0,910.7 L1337.0,910.9 L1338.0,911.3 L1339.0,911.9 L1340.0,912.6 L1341.0,913.4 L1342.0,914.2 L1343.0,915.2 L1344.0,916.0 L1345.0,916.8 L1346.0,917.6 L1347.0,918.1 L1348.0,918.5 L1349.0,919.0 L1350.0,917.7 L1351.0,914.0 L1352.0,910.0 L1353.0,906.1 L1354.0,901.3 L1355.0,897.7 L1356.0,896.4 L1357.0,895.7 L1358.0,894.7 L1359.0,894.0 L1360.0,893.4 L1361.0,892.8 L1362.0,892.6 L1363.0,892.4 L1364.0,892.5 L1365.0,892.7 L1366.0,893.1 L1367.0,893.7 L1368.0,894.5 L1369.0,895.3 L1370.0,896.3 L1371.0,897.2 L1372.0,898.2 L1373.0,899.1 L1374.0,899.9 L1375.0,900.8 L1376.0,901.3 L1377.0,902.1 L1378.0,901.8 L1379.0,897.7 L1380.0,891.9 L1381.0,886.6 L1382.0,880.3 L1383.0,875.2 L1384.0,874.0 L1385.0,874.0 L1386.0,873.6 L1387.0,873.5 L1388.0,873.3 L1389.0,873.3 L1390.0,873.6 L1391.0,873.8 L1392.0,874.2 L1393.0,874.7 L1394.0,875.4 L1395.0,876.1 L1396.0,876.9 L1397.0,877.7 L1398.0,878.5 L1399.0,879.4 L1400.0,880.2 L1401.0,880.9 L1402.0,881.7 L1403.0,882.2 L1404.0,883.1 L1405.0,881.8 L1406.0,875.6 L1407.0,868.7 L1408.0,862.1 L1409.0,854.9 L1410.0,852.1 L1411.0,852.6 L1412.0,852.7 L1413.0,853.1 L1414.0,853.4 L1415.0,853.8 L1416.0,854.3 L1417.0,854.8 L1418.0,855.4 L1419.0,856.0 L1420.0,856.6 L1421.0,857.3 L1422.0,857.9 L1423.0,858.6 L1424.0,859.3 L1425.0,859.9 L1426.0,860.5 L1427.0,861.2 L1428.0,861.5 L1429.0,862.5 L1430.0,860.5 L1431.0,853.4 L1432.0,846.3 L1433.0,839.0 L1434.0,832.2 L1435.0,831.3 L1436.0,832.1 L1437.0,832.4 L1438.0,833.0 L1439.0,833.4 L1440.0,834.1 L1441.0,834.5 L1442.0,835.1 L1443.0,835.6 L1444.0,836.1 L1445.0,836.6 L1446.0,837.1 L1447.0,837.6 L1448.0,838.0 L1449.0,838.6 L1450.0,838.9 L1451.0,839.5 L1452.0,839.7 L1453.0,840.5 L1454.0,838.1 L1455.0,830.6 L1456.0,823.8 L1457.0,816.3 L1458.0,811.1 L1459.0,811.3 L1460.0,811.8 L1461.0,812.2 L1462.0,812.7 L1463.0,813.1 L1464.0,813.6 L1465.0,814.0 L1466.0,814.4 L1467.0,814.8 L1468.0,815.2 L1469.0,815.5 L1470.0,815.9 L1471.0,816.2 L1472.0,816.6 L1473.0,816.9 L1474.0,817.2 L1475.0,817.5 L1476.0,817.7 L1477.0,812.6 L1478.0,805.3 L1479.0,798.5 L1480.0,792.0 L1481.0,791.4 L1482.0,791.8 L1483.0,792.0 L1484.0,792.1 L1485.0,792.2 L1486.0,792.3 L1487.0,792.4 L1488.0,792.5 L1489.0,792.7 L1490.0,792.8 L1491.0,793.1 L1492.0,793.4 L1493.0,793.8 L1494.0,794.2 L1495.0,794.8 L1496.0,795.5 L1497.0,795.2 L1498.0,788.3 L1499.0,781.2 L1500.0,773.2 L1501.0,769.4 L1502.0,770.3 L1503.0,770.7 L1504.0,771.4 L1505.0,771.9 L1506.0,772.4 L1507.0,772.9 L1508.0,773.4 L1509.0,773.9 L1510.0,774.3 L1511.0,774.8 L1512.0,775.3 L1513.0,775.8 L1514.0,776.3 L1515.0,776.7 L1516.0,777.6 L1517.0,774.8 L1518.0,764.2 L1519.0,754.7 L1520.0,744.3 L1521.0,742.1 L1522.0,743.1 L1523.0,743.8 L1524.0,744.5 L1525.0,745.3 L1526.0,746.0 L1527.0,746.8 L1528.0,747.5 L1529.0,748.3 L1530.0,749.1 L1531.0,749.9 L1532.0,750.7 L1533.0,751.4 L1534.0,752.4 L1535.0,753.0 L1536.0,754.1 L1537.0,748.0 L1538.0,737.2 L1539.0,726.8 L1540.0,718.7 L1541.0,719.4 L1542.0,720.1 L1543.0,721.1 L1544.0,721.8 L1545.0,722.7 L1546.0,723.6 L1547.0,724.5 L1548.0,725.4 L1549.0,726.2 L1550.0,727.2 L1551.0,728.1 L1552.0,729.0 L1553.0,730.1 L1554.0,730.8 L1555.0,732.0 L1556.0,724.9 L1557.0,713.9 L1558.0,702.8 L1559.0,696.5 L1560.0,697.8 L1561.0,698.6 L1562.0,699.6 L1563.0,700.6 L1564.0,701.6 L1565.0,702.6 L1566.0,703.6 L1567.0,704.7 L1568.0,705.8 L1569.0,706.8 L1570.0,707.9 L1571.0,709.1 L1572.0,710.1 L1573.0,711.3 L1574.0,702.0 L1575.0,690.4 L1576.0,678.2 L1577.0,677.4 L1578.0,678.6 L1579.0,680.0 L1580.0,681.3 L1581.0,682.6 L1582.0,683.9 L1583.0,685.3 L1584.0,686.6 L1585.0,688.0 L1586.0,689.4 L1587.0,690.7 L1588.0,691.9 L1589.0,693.0 L1590.0,682.5 L1591.0,670.6 L1592.0,659.5 L1593.0,660.1 L1594.0,661.2 L1595.0,662.6 L1596.0,664.0 L1597.0,665.3 L1598.0,666.6 L1599.0,668.1 L1600.0,669.5 L1601.0,670.9 L1602.0,672.3 L1603.0,673.9 L1604.0,675.6 L1605.0,669.9 L1606.0,656.3 L1607.0,643.2 L1608.0,644.1 L1609.0,645.8 L1610.0,647.6 L1611.0,649.4 L1612.0,651.2 L1613.0,653.0 L1614.0,654.8 L1615.0,656.6 L1616.0,658.3 L1617.0,659.9 L1618.0,660.5 L1619.0,647.8 L1620.0,634.5 L1621.0,628.8 L1622.0,630.6 L1623.0,632.3 L1624.0,633.9 L1625.0,635.5 L1626.0,637.1 L1627.0,638.7 L1628.0,640.4 L1629.0,642.0 L1630.0,643.6 L1631.0,645.2 L1632.0,645.7 L1633.0,632.2 L1634.0,618.2 L1635.0,615.6 L1636.0,617.4 L1637.0,619.2 L1638.0,621.1 L1639.0,623.0 L1640.0,624.8 L1641.0,626.7 L1642.0,628.5 L1643.0,630.2 L1644.0,631.8 L1645.0,632.2 L1646.0,619.2 L1647.0,605.8 L1648.0,602.4 L1649.0,604.1 L1650.0,605.8 L1651.0,607.5 L1652.0,609.1 L1653.0,610.7 L1654.0,612.2 L1655.0,613.8 L1656.0,615.4 L1657.0,617.0 L1658.0,618.7 L1659.0,611.9 L1660.0,599.0 L1661.0,588.6 L1662.0,590.3 L1663.0,591.9 L1664.0,593.5 L1665.0,595.1 L1666.0,596.8 L1667.0,598.4 L1668.0,600.1 L1669.0,601.9 L1670.0,603.6 L1671.0,605.5 L1672.0,597.7 L1673.0,583.8 L1674.0,575.0 L1675.0,577.0 L1676.0,578.8 L1677.0,580.6 L1678.0,582.4 L1679.0,584.3 L1680.0,586.0 L1681.0,587.8 L1682.0,589.5 L1683.0,591.2 L1684.0,591.3 L1685.0,577.6 L1686.0,563.6 L1687.0,562.2 L1688.0,563.8 L1689.0,565.4 L1690.0,567.1 L1691.0,568.7 L1692.0,570.4 L1693.0,572.1 L1694.0,573.7 L1695.0,575.3 L1696.0,576.9 L1697.0,577.1 L1698.0,563.4 L1699.0,549.3 L1700.0,547.1 L1701.0,548.6 L1702.0,550.2 L1703.0,551.9 L1704.0,553.5 L1705.0,555.2 L1706.0,556.8 L1707.0,558.5 L1708.0,560.1 L1709.0,561.7 L1710.0,561.7 L1711.0,547.3 L1712.0,532.6 L1713.0,531.8 L1714.0,533.5 L1715.0,535.1 L1716.0,536.8 L1717.0,538.6 L1718.0,540.3 L1719.0,542.1 L1720.0,543.8 L1721.0,545.6 L1722.0,547.5 L1723.0,538.6 L1724.0,523.8 L1725.0,514.9 L1726.0,516.7 L1727.0,518.5 L1728.0,520.2 L1729.0,521.9 L1730.0,523.6 L1731.0,525.2 L1732.0,526.9 L1733.0,528.5 L1734.0,530.1 L1735.0,529.8 L1736.0,515.0 L1737.0,500.1 L1738.0,499.8 L1739.0,501.3 L1740.0,502.9 L1741.0,504.5 L1742.0,506.1 L1743.0,507.7 L1744.0,509.3 L1745.0,511.0 L1746.0,512.6 L1747.0,514.4 L1748.0,505.6 L1749.0,490.9 L1750.0,481.7 L1751.0,483.5 L1752.0,485.1 L1753.0,486.7 L1754.0,488.1 L1755.0,489.6 L1756.0,491.0 L1757.0,492.4 L1758.0,493.7 L1759.0,495.0 L1760.0,494.2 L1761.0,479.7 L1762.0,465.6 L1763.0,466.0 L1764.0,467.4 L1765.0,468.7 L1766.0,470.0 L1767.0,471.3 L1768.0,472.5 L1769.0,473.7 L1770.0,474.8 L1771.0,475.8 L1772.0,474.7 L1773.0,461.2 L1774.0,448.4 L1775.0,448.8 L1776.0,449.8 L1777.0,450.9 L1778.0,451.9 L1779.0,452.9 L1780.0,453.8 L1781.0,454.7 L1782.0,455.5 L1783.0,456.3 L1784.0,455.2 L1785.0,442.8 L1786.0,431.0 L1787.0,431.3 L1788.0,432.1 L1789.0,433.0 L1790.0,433.8 L1791.0,434.6 L1792.0,435.5 L1793.0,436.3 L1794.0,437.1 L1795.0,437.9 L1796.0,437.0 L1797.0,425.1 L1798.0,413.6 L1799.0,413.8 L1800.0,414.7 L1801.0,415.6 L1802.0,416.6 L1803.0,417.5 L1804.0,418.6 L1805.0,419.7 L1806.0,420.8 L1807.0,422.0 L1808.0,421.3 L1809.0,408.6 L1810.0,396.2 L1811.0,396.6 L1812.0,397.7 L1813.0,399.0 L1814.0,400.3 L1815.0,401.7 L1816.0,403.1 L1817.0,404.7 L1818.0,406.3 L1819.0,407.9 L1820.0,407.4 L1821.0,392.9 L1822.0,378.5 L1823.0,379.2 L1824.0,380.8 L1825.0,382.5 L1826.0,384.3 L1827.0,386.1 L1828.0,388.1 L1829.0,390.0 L1830.0,392.1 L1831.0,394.1 L1832.0,393.6 L1833.0,377.1 L1834.0,360.9 L1835.0,361.9 L1836.0,363.8 L1837.0,365.9 L1838.0,368.0 L1839.0,370.1 L1840.0,372.3 L1841.0,374.5 L1842.0,376.7 L1843.0,378.8 L1844.0,378.3 L1845.0,360.5 L1846.0,343.4 L1847.0,344.5 L1848.0,346.7 L1849.0,348.9 L1850.0,351.1 L1851.0,353.2 L1852.0,355.5 L1853.0,357.6 L1854.0,359.7 L1855.0,361.8 L1856.0,361.0 L1857.0,343.1 L1858.0,326.0 L1859.0,327.1 L1860.0,329.1 L1861.0,331.2 L1862.0,333.1 L1863.0,335.0 L1864.0,336.8 L1865.0,338.5 L1866.0,340.1 L1867.0,341.6 L1868.0,340.4 L1869.0,323.9 L1870.0,308.5 L1871.0,309.3 L1872.0,310.8 L1873.0,312.2 L1874.0,313.5 L1875.0,314.6 L1876.0,315.6 L1877.0,316.4 L1878.0,317.1 L1879.0,319.7"/>
<path mask="url(#mR)" fill="#2cbcc4" stroke="none" d="M1580.0,647.2 L1582.0,644.8 L1584.0,642.4 L1586.0,640.0 L1588.0,637.6 L1590.0,635.3 L1592.0,632.9 L1594.0,630.5 L1596.0,628.2 L1598.0,625.8 L1600.0,623.5 L1602.0,621.1 L1604.0,618.8 L1606.0,616.5 L1608.0,614.1 L1610.0,611.9 L1612.0,609.6 L1614.0,607.3 L1616.0,605.0 L1618.0,602.8 L1620.0,600.6 L1622.0,598.3 L1624.0,596.1 L1626.0,593.9 L1628.0,591.7 L1630.0,589.5 L1632.0,587.3 L1634.0,585.1 L1636.0,582.9 L1638.0,580.7 L1640.0,578.5 L1642.0,576.3 L1644.0,574.1 L1646.0,571.9 L1648.0,569.7 L1650.0,567.5 L1652.0,565.3 L1654.0,563.1 L1656.0,561.0 L1658.0,558.7 L1660.0,556.5 L1662.0,554.3 L1664.0,552.1 L1666.0,549.9 L1668.0,547.7 L1670.0,545.4 L1672.0,543.2 L1674.0,540.9 L1676.0,538.6 L1678.0,536.4 L1680.0,534.1 L1682.0,531.8 L1684.0,529.4 L1686.0,527.1 L1688.0,524.8 L1690.0,522.4 L1692.0,520.0 L1694.0,517.6 L1696.0,515.2 L1698.0,512.8 L1700.0,510.4 L1702.0,507.9 L1704.0,505.4 L1706.0,502.9 L1708.0,500.4 L1710.0,497.9 L1712.0,495.3 L1714.0,492.8 L1716.0,490.2 L1718.0,487.6 L1720.0,485.0 L1722.0,482.4 L1724.0,479.8 L1726.0,477.1 L1728.0,474.5 L1730.0,471.8 L1732.0,469.1 L1734.0,466.4 L1736.0,463.7 L1738.0,461.0 L1740.0,458.3 L1742.0,455.5 L1744.0,452.8 L1746.0,450.0 L1748.0,447.2 L1750.0,444.4 L1752.0,441.7 L1754.0,438.9 L1756.0,436.1 L1758.0,433.2 L1760.0,430.4 L1762.0,427.6 L1764.0,424.8 L1766.0,421.9 L1768.0,419.1 L1770.0,416.2 L1772.0,413.3 L1774.0,410.4 L1776.0,407.5 L1778.0,404.5 L1780.0,401.5 L1782.0,398.5 L1784.0,395.5 L1786.0,392.4 L1788.0,389.3 L1790.0,386.2 L1792.0,383.1 L1794.0,379.9 L1796.0,376.7 L1798.0,373.4 L1800.0,370.1 L1802.0,366.7 L1804.0,363.2 L1806.0,359.6 L1808.0,355.9 L1810.0,352.1 L1812.0,348.3 L1814.0,344.4 L1816.0,340.4 L1818.0,336.5 L1820.0,332.5 L1822.0,328.6 L1824.0,324.6 L1826.0,320.7 L1828.0,316.9 L1830.0,313.1 L1832.0,309.3 L1834.0,305.7 L1836.0,302.2 L1838.0,298.7 L1840.0,295.4 L1842.0,292.3 L1844.0,289.4 L1846.0,286.5 L1848.0,283.8 L1850.0,281.0 L1852.0,278.3 L1854.0,275.5 L1856.0,272.7 L1858.0,269.6 L1860.0,266.4 L1862.0,263.1 L1864.0,259.6 L1866.0,256.0 L1868.0,252.3 L1870.0,248.5 L1872.0,244.6 L1874.0,240.5 L1876.0,236.4 L1878.0,232.2 L1878.0,248.0 L1876.0,251.8 L1874.0,255.6 L1872.0,259.3 L1870.0,263.0 L1868.0,266.5 L1866.0,270.0 L1864.0,273.4 L1862.0,276.8 L1860.0,280.0 L1858.0,283.1 L1856.0,286.1 L1854.0,289.0 L1852.0,291.8 L1850.0,294.5 L1848.0,297.3 L1846.0,300.1 L1844.0,302.9 L1842.0,305.9 L1840.0,309.0 L1838.0,312.3 L1836.0,315.6 L1834.0,319.1 L1832.0,322.6 L1830.0,326.3 L1828.0,330.0 L1826.0,333.7 L1824.0,337.5 L1822.0,341.3 L1820.0,345.2 L1818.0,349.0 L1816.0,352.8 L1814.0,356.7 L1812.0,360.5 L1810.0,364.2 L1808.0,367.9 L1806.0,371.6 L1804.0,375.1 L1802.0,378.6 L1800.0,382.0 L1798.0,385.3 L1796.0,388.6 L1794.0,391.9 L1792.0,395.1 L1790.0,398.3 L1788.0,401.4 L1786.0,404.6 L1784.0,407.7 L1782.0,410.8 L1780.0,413.9 L1778.0,417.0 L1776.0,420.0 L1774.0,423.0 L1772.0,426.0 L1770.0,429.0 L1768.0,431.9 L1766.0,434.9 L1764.0,437.8 L1762.0,440.7 L1760.0,443.6 L1758.0,446.5 L1756.0,449.4 L1754.0,452.3 L1752.0,455.1 L1750.0,458.0 L1748.0,460.8 L1746.0,463.7 L1744.0,466.5 L1742.0,469.3 L1740.0,472.1 L1738.0,474.9 L1736.0,477.7 L1734.0,480.4 L1732.0,483.2 L1730.0,485.9 L1728.0,488.6 L1726.0,491.4 L1724.0,494.0 L1722.0,496.7 L1720.0,499.4 L1718.0,502.0 L1716.0,504.6 L1714.0,507.3 L1712.0,509.9 L1710.0,512.4 L1708.0,515.0 L1706.0,517.5 L1704.0,520.0 L1702.0,522.5 L1700.0,525.0 L1698.0,527.5 L1696.0,529.9 L1694.0,532.3 L1692.0,534.7 L1690.0,537.1 L1688.0,539.4 L1686.0,541.8 L1684.0,544.1 L1682.0,546.4 L1680.0,548.7 L1678.0,551.0 L1676.0,553.2 L1674.0,555.5 L1672.0,557.7 L1670.0,560.0 L1668.0,562.2 L1666.0,564.4 L1664.0,566.6 L1662.0,568.8 L1660.0,571.0 L1658.0,573.2 L1656.0,575.4 L1654.0,577.5 L1652.0,579.7 L1650.0,581.9 L1648.0,584.0 L1646.0,586.2 L1644.0,588.3 L1642.0,590.5 L1640.0,592.7 L1638.0,594.8 L1636.0,597.0 L1634.0,599.1 L1632.0,601.3 L1630.0,603.5 L1628.0,605.6 L1626.0,607.8 L1624.0,610.0 L1622.0,612.2 L1620.0,614.4 L1618.0,616.6 L1616.0,618.8 L1614.0,621.1 L1612.0,623.3 L1610.0,625.6 L1608.0,627.8 L1606.0,630.1 L1604.0,632.4 L1602.0,634.7 L1600.0,637.0 L1598.0,639.3 L1596.0,641.7 L1594.0,644.0 L1592.0,646.3 L1590.0,648.7 L1588.0,651.0 L1586.0,653.4 L1584.0,655.7 L1582.0,658.1 L1580.0,660.5Z"/>
<path stroke="#2cbcc4" d="M341.0,1280.0 L344.5,1322.0 L350.0,1230.0 L357.0,1110.0 L362.0,1150.0 L368.0,1180.0 L374.0,1160.0 L380.0,1150.0 L383.0,1150.1 L384.0,1150.4 L385.0,1150.6 L386.0,1150.7 L387.0,1150.8 L388.0,1150.8 L389.0,1150.8 L390.0,1150.8 L391.0,1150.8 L392.0,1150.7 L393.0,1150.6 L394.0,1150.5 L395.0,1150.4 L396.0,1150.2 L397.0,1150.0 L398.0,1149.8 L399.0,1149.5 L400.0,1149.3 L401.0,1149.0 L402.0,1148.7 L403.0,1148.3 L404.0,1147.9 L405.0,1147.6 L406.0,1147.2 L407.0,1146.7 L408.0,1146.3 L409.0,1145.8 L410.0,1145.4 L411.0,1144.9 L412.0,1144.4 L413.0,1144.0 L414.0,1143.5 L415.0,1143.0 L416.0,1142.5 L417.0,1142.0 L418.0,1141.5 L419.0,1141.1 L420.0,1140.6 L421.0,1140.2 L422.0,1139.7 L423.0,1139.3 L424.0,1138.9 L425.0,1138.6 L426.0,1138.2 L427.0,1137.9 L428.0,1137.6 L429.0,1137.3 L430.0,1137.1 L431.0,1136.8 L432.0,1136.6 L433.0,1136.5 L434.0,1136.3 L435.0,1136.2 L436.0,1136.1 L437.0,1136.1 L438.0,1136.1 L439.0,1136.1 L440.0,1136.1 L441.0,1136.1 L442.0,1136.2 L443.0,1136.3 L444.0,1136.4 L445.0,1136.5 L446.0,1136.7 L447.0,1136.8 L448.0,1137.0 L449.0,1137.2 L450.0,1137.4 L451.0,1137.6 L452.0,1137.8 L453.0,1138.0 L454.0,1138.2 L455.0,1138.3 L456.0,1138.5 L457.0,1138.7 L458.0,1138.9 L459.0,1139.0 L460.0,1139.2 L461.0,1139.3 L462.0,1139.4 L463.0,1139.5 L464.0,1139.5 L465.0,1139.6 L466.0,1139.6 L467.0,1139.6 L468.0,1139.6 L469.0,1139.5 L470.0,1139.4 L471.0,1139.3 L472.0,1139.2 L473.0,1139.0 L474.0,1138.8 L475.0,1138.6 L476.0,1138.3 L477.0,1138.1 L478.0,1137.8 L479.0,1137.4 L480.0,1137.1 L481.0,1136.7 L482.0,1136.4 L483.0,1136.0 L484.0,1135.6 L485.0,1135.1 L486.0,1134.7 L487.0,1134.3 L488.0,1133.8 L489.0,1133.4 L490.0,1132.9 L491.0,1132.5 L492.0,1132.0 L493.0,1131.6 L494.0,1131.2 L495.0,1130.7 L496.0,1130.3 L497.0,1129.9 L498.0,1129.6 L499.0,1129.2 L500.0,1128.9 L501.0,1128.6 L502.0,1128.3 L503.0,1128.1 L504.0,1127.8 L505.0,1127.6 L506.0,1127.5 L507.0,1127.3 L508.0,1127.2 L509.0,1127.1 L510.0,1127.1 L511.0,1127.1 L512.0,1127.1 L513.0,1127.1 L514.0,1127.2 L515.0,1127.3 L516.0,1127.4 L517.0,1127.5 L518.0,1127.7 L519.0,1127.9 L520.0,1128.1 L521.0,1128.3 L522.0,1128.6 L523.0,1128.8 L524.0,1129.1 L525.0,1129.4 L526.0,1129.6 L527.0,1129.9 L528.0,1130.2 L529.0,1130.5 L530.0,1130.7 L531.0,1131.0 L532.0,1131.3 L533.0,1131.5 L534.0,1131.7 L535.0,1131.9 L536.0,1132.1 L537.0,1132.3 L538.0,1132.4 L539.0,1132.5 L540.0,1132.6 L541.0,1132.6 L542.0,1132.6 L543.0,1132.6 L544.0,1132.6 L545.0,1132.5 L546.0,1132.4 L547.0,1132.3 L548.0,1132.1 L549.0,1131.9 L550.0,1131.7 L551.0,1131.4 L552.0,1131.1 L553.0,1130.8 L554.0,1130.4 L555.0,1130.1 L556.0,1129.7 L557.0,1129.3 L558.0,1128.9 L559.0,1128.4 L560.0,1128.0 L561.0,1127.6 L562.0,1127.1 L563.0,1126.7 L564.0,1126.2 L565.0,1125.8 L566.0,1125.3 L567.0,1124.9 L568.0,1124.5 L569.0,1124.1 L570.0,1123.7 L571.0,1123.4 L572.0,1123.1 L573.0,1122.8 L574.0,1122.5 L575.0,1122.3 L576.0,1122.1 L577.0,1121.9 L578.0,1121.8 L579.0,1121.7 L580.0,1121.7 L581.0,1121.6 L582.0,1121.7 L583.0,1121.7 L584.0,1121.8 L585.0,1122.0 L586.0,1122.1 L587.0,1122.3 L588.0,1122.5 L589.0,1122.8 L590.0,1123.1 L591.0,1123.4 L592.0,1123.7 L593.0,1124.1 L594.0,1124.4 L595.0,1124.8 L596.0,1125.1 L597.0,1125.5 L598.0,1125.9 L599.0,1126.3 L600.0,1126.6 L601.0,1127.0 L602.0,1127.3 L603.0,1127.6 L604.0,1127.9 L605.0,1128.1 L606.0,1128.4 L607.0,1128.6 L608.0,1128.7 L609.0,1128.9 L610.0,1128.9 L611.0,1129.0 L612.0,1129.0 L613.0,1129.0 L614.0,1128.9 L615.0,1128.7 L616.0,1128.6 L617.0,1128.4 L618.0,1128.1 L619.0,1127.8 L620.0,1127.5 L621.0,1127.1 L622.0,1126.7 L623.0,1126.3 L624.0,1125.8 L625.0,1125.3 L626.0,1124.8 L627.0,1124.3 L628.0,1123.8 L629.0,1123.2 L630.0,1122.7 L631.0,1122.1 L632.0,1121.6 L633.0,1121.0 L634.0,1120.5 L635.0,1120.0 L636.0,1119.5 L637.0,1119.0 L638.0,1118.6 L639.0,1118.2 L640.0,1117.8 L641.0,1117.5 L642.0,1117.2 L643.0,1116.9 L644.0,1116.7 L645.0,1116.5 L646.0,1116.4 L647.0,1116.3 L648.0,1116.3 L649.0,1116.3 L650.0,1116.3 L651.0,1116.4 L652.0,1116.5 L653.0,1116.7 L654.0,1116.9 L655.0,1117.1 L656.0,1117.4 L657.0,1117.7 L658.0,1118.0 L659.0,1118.3 L660.0,1118.7 L661.0,1119.0 L662.0,1119.4 L663.0,1119.8 L664.0,1120.1 L665.0,1120.5 L666.0,1120.8 L667.0,1121.2 L668.0,1121.5 L669.0,1121.8 L670.0,1122.0 L671.0,1122.3 L672.0,1122.5 L673.0,1122.7 L674.0,1122.8 L675.0,1122.9 L676.0,1122.9 L677.0,1122.9 L678.0,1122.9 L679.0,1122.8 L680.0,1122.7 L681.0,1122.5 L682.0,1122.3 L683.0,1122.0 L684.0,1121.7 L685.0,1121.3 L686.0,1121.0 L687.0,1120.5 L688.0,1120.1 L689.0,1119.6 L690.0,1119.0 L691.0,1118.5 L692.0,1117.9 L693.0,1117.3 L694.0,1116.7 L695.0,1116.1 L696.0,1115.5 L697.0,1114.9 L698.0,1114.3 L699.0,1113.7 L700.0,1113.1 L701.0,1112.5 L702.0,1112.0 L703.0,1111.5 L704.0,1111.0 L705.0,1110.6 L706.0,1110.2 L707.0,1109.8 L708.0,1109.5 L709.0,1109.2 L710.0,1109.0 L711.0,1108.8 L712.0,1108.6 L713.0,1108.6 L714.0,1108.5 L715.0,1108.5 L716.0,1108.6 L717.0,1108.7 L718.0,1108.9 L719.0,1109.0 L720.0,1109.3 L721.0,1109.5 L722.0,1109.8 L723.0,1110.1 L724.0,1110.5 L725.0,1110.8 L726.0,1111.2 L727.0,1111.6 L728.0,1111.9 L729.0,1112.3 L730.0,1112.7 L731.0,1113.0 L732.0,1113.3 L733.0,1113.6 L734.0,1113.9 L735.0,1114.1 L736.0,1114.3 L737.0,1114.4 L738.0,1114.5 L739.0,1114.6 L740.0,1114.5 L741.0,1114.5 L742.0,1114.4 L743.0,1114.2 L744.0,1114.0 L745.0,1113.7 L746.0,1113.4 L747.0,1113.0 L748.0,1112.6 L749.0,1112.1 L750.0,1111.6 L751.0,1111.0 L752.0,1110.4 L753.0,1109.8 L754.0,1109.1 L755.0,1108.5 L756.0,1107.8 L757.0,1107.1 L758.0,1106.4 L759.0,1105.7 L760.0,1105.1 L761.0,1104.4 L762.0,1103.8 L763.0,1103.2 L764.0,1102.6 L765.0,1102.1 L766.0,1101.6 L767.0,1101.1 L768.0,1100.7 L769.0,1100.4 L770.0,1100.1 L771.0,1099.9 L772.0,1099.7 L773.0,1099.6 L774.0,1099.5 L775.0,1099.5 L776.0,1099.6 L777.0,1099.6 L778.0,1099.8 L779.0,1100.0 L780.0,1100.2 L781.0,1100.5 L782.0,1100.8 L783.0,1101.1 L784.0,1101.5 L785.0,1101.8 L786.0,1102.2 L787.0,1102.6 L788.0,1102.9 L789.0,1103.3 L790.0,1103.6 L791.0,1103.9 L792.0,1104.2 L793.0,1104.5 L794.0,1104.7 L795.0,1104.9 L796.0,1105.0 L797.0,1105.1 L798.0,1105.1 L799.0,1105.1 L800.0,1105.0 L801.0,1104.8 L802.0,1104.6 L803.0,1104.3 L804.0,1104.0 L805.0,1103.6 L806.0,1103.2 L807.0,1102.7 L808.0,1102.1 L809.0,1101.5 L810.0,1100.9 L811.0,1100.3 L812.0,1099.6 L813.0,1098.9 L814.0,1098.1 L815.0,1097.4 L816.0,1096.7 L817.0,1095.9 L818.0,1095.2 L819.0,1094.5 L820.0,1093.9 L821.0,1093.2 L822.0,1092.6 L823.0,1092.0 L824.0,1091.5 L825.0,1091.1 L826.0,1090.6 L827.0,1090.3 L828.0,1090.0 L829.0,1089.8 L830.0,1089.6 L831.0,1089.5 L832.0,1089.4 L833.0,1089.5 L834.0,1089.5 L835.0,1089.7 L836.0,1089.8 L837.0,1090.1 L838.0,1090.3 L839.0,1090.6 L840.0,1091.0 L841.0,1091.3 L842.0,1091.7 L843.0,1092.1 L844.0,1092.5 L845.0,1092.9 L846.0,1093.2 L847.0,1093.6 L848.0,1093.9 L849.0,1094.2 L850.0,1094.5 L851.0,1094.7 L852.0,1094.8 L853.0,1094.9 L854.0,1094.9 L855.0,1094.9 L856.0,1094.8 L857.0,1094.7 L858.0,1094.5 L859.0,1094.2 L860.0,1093.8 L861.0,1093.4 L862.0,1092.9 L863.0,1092.3 L864.0,1091.7 L865.0,1091.1 L866.0,1090.4 L867.0,1089.6 L868.0,1088.9 L869.0,1088.1 L870.0,1087.3 L871.0,1086.5 L872.0,1085.6 L873.0,1084.8 L874.0,1084.0 L875.0,1083.3 L876.0,1082.5 L877.0,1081.8 L878.0,1081.2 L879.0,1080.6 L880.0,1080.0 L881.0,1079.6 L882.0,1079.2 L883.0,1078.8 L884.0,1078.6 L885.0,1078.4 L886.0,1078.2 L887.0,1078.2 L888.0,1078.2 L889.0,1078.3 L890.0,1078.5 L891.0,1078.7 L892.0,1079.0 L893.0,1079.3 L894.0,1079.6 L895.0,1080.0 L896.0,1080.4 L897.0,1080.9 L898.0,1081.3 L899.0,1081.7 L900.0,1082.1 L901.0,1082.5 L902.0,1082.9 L903.0,1083.2 L904.0,1083.5 L905.0,1083.7 L906.0,1083.9 L907.0,1083.9 L908.0,1084.0 L909.0,1083.9 L910.0,1083.7 L911.0,1083.5 L912.0,1083.2 L913.0,1082.8 L914.0,1082.3 L915.0,1081.8 L916.0,1081.1 L917.0,1080.4 L918.0,1079.7 L919.0,1078.9 L920.0,1078.0 L921.0,1077.1 L922.0,1076.2 L923.0,1075.3 L924.0,1074.3 L925.0,1073.4 L926.0,1072.5 L927.0,1071.6 L928.0,1070.7 L929.0,1069.9 L930.0,1069.2 L931.0,1068.5 L932.0,1067.8 L933.0,1067.3 L934.0,1066.8 L935.0,1066.4 L936.0,1066.1 L937.0,1065.9 L938.0,1065.8 L939.0,1065.8 L940.0,1065.8 L941.0,1065.9 L942.0,1066.1 L943.0,1066.4 L944.0,1066.7 L945.0,1067.1 L946.0,1067.5 L947.0,1067.9 L948.0,1068.4 L949.0,1068.9 L950.0,1069.3 L951.0,1069.8 L952.0,1070.2 L953.0,1070.6 L954.0,1070.9 L955.0,1071.2 L956.0,1071.4 L957.0,1071.5 L958.0,1071.6 L959.0,1071.6 L960.0,1071.5 L961.0,1071.3 L962.0,1071.0 L963.0,1070.6 L964.0,1070.1 L965.0,1069.5 L966.0,1068.8 L967.0,1068.1 L968.0,1067.3 L969.0,1066.4 L970.0,1065.4 L971.0,1064.4 L972.0,1063.4 L973.0,1062.4 L974.0,1061.3 L975.0,1060.3 L976.0,1059.3 L977.0,1058.3 L978.0,1057.3 L979.0,1056.4 L980.0,1055.6 L981.0,1054.8 L982.0,1054.1 L983.0,1053.5 L984.0,1053.0 L985.0,1052.6 L986.0,1052.3 L987.0,1052.1 L988.0,1052.0 L989.0,1052.0 L990.0,1052.0 L991.0,1052.2 L992.0,1052.5 L993.0,1052.8 L994.0,1053.2 L995.0,1053.6 L996.0,1054.1 L997.0,1054.6 L998.0,1055.1 L999.0,1055.6 L1000.0,1056.0 L1001.0,1056.4 L1002.0,1056.8 L1003.0,1057.1 L1004.0,1057.4 L1005.0,1057.5 L1006.0,1057.6 L1007.0,1057.5 L1008.0,1057.4 L1009.0,1057.1 L1010.0,1056.7 L1011.0,1056.2 L1012.0,1055.6 L1013.0,1054.9 L1014.0,1054.0 L1015.0,1053.1 L1016.0,1052.1 L1017.0,1051.1 L1018.0,1050.0 L1019.0,1048.8 L1020.0,1047.6 L1021.0,1046.4 L1022.0,1045.2 L1023.0,1044.1 L1024.0,1043.0 L1025.0,1041.9 L1026.0,1040.9 L1027.0,1039.9 L1028.0,1039.1 L1029.0,1038.3 L1030.0,1037.7 L1031.0,1037.2 L1032.0,1036.7 L1033.0,1036.4 L1034.0,1036.3 L1035.0,1036.2 L1036.0,1036.2 L1037.0,1036.3 L1038.0,1036.5 L1039.0,1036.8 L1040.0,1037.1 L1041.0,1037.5 L1042.0,1037.9 L1043.0,1038.4 L1044.0,1038.8 L1045.0,1039.2 L1046.0,1039.6 L1047.0,1039.9 L1048.0,1040.2 L1049.0,1040.4 L1050.0,1040.4 L1051.0,1040.4 L1052.0,1040.3 L1053.0,1040.1 L1054.0,1039.7 L1055.0,1039.2 L1056.0,1038.6 L1057.0,1037.9 L1058.0,1037.0 L1059.0,1036.1 L1060.0,1035.1 L1061.0,1033.9 L1062.0,1032.7 L1063.0,1031.5 L1064.0,1030.2 L1065.0,1028.9 L1066.0,1027.6 L1067.0,1026.3 L1068.0,1025.0 L1069.0,1023.8 L1070.0,1022.7 L1071.0,1021.6 L1072.0,1020.6 L1073.0,1019.8 L1074.0,1019.0 L1075.0,1018.4 L1076.0,1017.9 L1077.0,1017.5 L1078.0,1017.3 L1079.0,1017.1 L1080.0,1017.1 L1081.0,1017.2 L1082.0,1017.4 L1083.0,1017.6 L1084.0,1017.9 L1085.0,1018.3 L1086.0,1018.7 L1087.0,1019.1 L1088.0,1019.5 L1089.0,1019.9 L1090.0,1020.2 L1091.0,1020.5 L1092.0,1020.6 L1093.0,1020.7 L1094.0,1020.7 L1095.0,1020.6 L1096.0,1020.3 L1097.0,1020.0 L1098.0,1019.5 L1099.0,1018.8 L1100.0,1018.0 L1101.0,1017.1 L1102.0,1016.1 L1103.0,1015.0 L1104.0,1013.8 L1105.0,1012.6 L1106.0,1011.2 L1107.0,1009.9 L1108.0,1008.5 L1109.0,1007.1 L1110.0,1005.7 L1111.0,1004.4 L1112.0,1003.1 L1113.0,1002.0 L1114.0,1000.9 L1115.0,999.9 L1116.0,999.1 L1117.0,998.3 L1118.0,997.7 L1119.0,997.3 L1120.0,997.0 L1121.0,996.8 L1122.0,996.8 L1123.0,996.9 L1124.0,997.0 L1125.0,997.3 L1126.0,997.7 L1127.0,998.1 L1128.0,998.5 L1129.0,998.9 L1130.0,999.4 L1131.0,999.7 L1132.0,1000.1 L1133.0,1000.3 L1134.0,1000.5 L1135.0,1000.5 L1136.0,1000.5 L1137.0,1000.2 L1138.0,999.9 L1139.0,999.4 L1140.0,998.7 L1141.0,997.9 L1142.0,997.0 L1143.0,995.9 L1144.0,994.7 L1145.0,993.4 L1146.0,992.0 L1147.0,990.6 L1148.0,989.2 L1149.0,987.7 L1150.0,986.3 L1151.0,984.9 L1152.0,983.5 L1153.0,982.3 L1154.0,981.2 L1155.0,980.2 L1156.0,979.3 L1157.0,978.6 L1158.0,978.1 L1159.0,977.7 L1160.0,977.5 L1161.0,977.4 L1162.0,977.5 L1163.0,977.8 L1164.0,978.1 L1165.0,978.6 L1166.0,979.1 L1167.0,979.6 L1168.0,980.2 L1169.0,980.8 L1170.0,981.3 L1171.0,981.7 L1172.0,982.0 L1173.0,982.3 L1174.0,982.3 L1175.0,982.2 L1176.0,981.9 L1177.0,981.4 L1178.0,980.7 L1179.0,979.8 L1180.0,978.8 L1181.0,977.5 L1182.0,976.2 L1183.0,974.6 L1184.0,973.0 L1185.0,971.4 L1186.0,969.7 L1187.0,968.0 L1188.0,966.4 L1189.0,964.9 L1190.0,963.5 L1191.0,962.3 L1192.0,961.3 L1193.0,960.5 L1194.0,959.9 L1195.0,959.6 L1196.0,959.5 L1197.0,959.7 L1198.0,960.1 L1199.0,960.7 L1200.0,961.4 L1201.0,962.3 L1202.0,963.3 L1203.0,964.3 L1204.0,965.2 L1205.0,966.1 L1206.0,966.8 L1207.0,967.3 L1208.0,967.5 L1209.0,967.5 L1210.0,967.1 L1211.0,966.5 L1212.0,965.5 L1213.0,964.2 L1214.0,962.6 L1215.0,960.8 L1216.0,958.9 L1217.0,956.8 L1218.0,954.7 L1219.0,952.6 L1220.0,950.6 L1221.0,948.7 L1222.0,947.1 L1223.0,945.6 L1224.0,944.4 L1225.0,943.6 L1226.0,943.0 L1227.0,942.8 L1228.0,942.9 L1229.0,943.3 L1230.0,944.0 L1231.0,944.9 L1232.0,946.0 L1233.0,947.2 L1234.0,948.5 L1235.0,949.7 L1236.0,950.9 L1237.0,951.9 L1238.0,952.8 L1239.0,953.3 L1240.0,953.6 L1241.0,953.5 L1242.0,953.0 L1243.0,952.0 L1244.0,950.5 L1245.0,948.8 L1246.0,946.8 L1247.0,944.5 L1248.0,942.3 L1249.0,940.1 L1250.0,937.9 L1251.0,935.7 L1252.0,933.6 L1253.0,931.7 L1254.0,929.9 L1255.0,928.4 L1256.0,927.2 L1257.0,926.2 L1258.0,925.6 L1259.0,925.3 L1260.0,925.3 L1261.0,925.6 L1262.0,926.2 L1263.0,927.0 L1264.0,928.0 L1265.0,929.1 L1266.0,930.4 L1267.0,931.6 L1268.0,932.9 L1269.0,934.1 L1270.0,935.1 L1271.0,936.0 L1272.0,936.7 L1273.0,937.1 L1274.0,937.3 L1275.0,937.2 L1276.0,936.2 L1277.0,934.5 L1278.0,932.4 L1279.0,930.2 L1280.0,927.5 L1281.0,924.6 L1282.0,922.0 L1283.0,920.0 L1284.0,918.0 L1285.0,916.0 L1286.0,914.0 L1287.0,912.2 L1288.0,910.5 L1289.0,909.1 L1290.0,907.9 L1291.0,907.0 L1292.0,906.3 L1293.0,906.0 L1294.0,905.9 L1295.0,906.1 L1296.0,906.6 L1297.0,907.3 L1298.0,908.2 L1299.0,909.3 L1300.0,910.5 L1301.0,911.7 L1302.0,912.9 L1303.0,914.1 L1304.0,915.2 L1305.0,916.2 L1306.0,917.0 L1307.0,917.6 L1308.0,918.0 L1309.0,918.2 L1310.0,917.3 L1311.0,914.9 L1312.0,911.7 L1313.0,908.6 L1314.0,905.1 L1315.0,901.1 L1316.0,897.8 L1317.0,895.9 L1318.0,894.3 L1319.0,892.6 L1320.0,891.0 L1321.0,889.6 L1322.0,888.2 L1323.0,887.1 L1324.0,886.2 L1325.0,885.6 L1326.0,885.2 L1327.0,885.2 L1328.0,885.3 L1329.0,885.7 L1330.0,886.4 L1331.0,887.2 L1332.0,888.2 L1333.0,889.4 L1334.0,890.5 L1335.0,891.8 L1336.0,893.0 L1337.0,894.1 L1338.0,895.1 L1339.0,896.1 L1340.0,896.7 L1341.0,897.3 L1342.0,897.7 L1343.0,896.4 L1344.0,892.5 L1345.0,887.7 L1346.0,883.3 L1347.0,878.1 L1348.0,872.9 L1349.0,870.2 L1350.0,869.2 L1351.0,868.1 L1352.0,866.9 L1353.0,866.1 L1354.0,865.3 L1355.0,864.6 L1356.0,864.3 L1357.0,864.1 L1358.0,864.2 L1359.0,864.5 L1360.0,864.9 L1361.0,865.7 L1362.0,866.6 L1363.0,867.6 L1364.0,868.8 L1365.0,869.9 L1366.0,871.1 L1367.0,872.4 L1368.0,873.4 L1369.0,874.5 L1370.0,875.4 L1371.0,876.0 L1372.0,877.0 L1373.0,876.1 L1374.0,871.0 L1375.0,864.6 L1376.0,858.7 L1377.0,851.7 L1378.0,845.9 L1379.0,844.2 L1380.0,844.2 L1381.0,843.6 L1382.0,843.4 L1383.0,843.3 L1384.0,843.2 L1385.0,843.4 L1386.0,843.7 L1387.0,844.2 L1388.0,844.9 L1389.0,845.6 L1390.0,846.6 L1391.0,847.5 L1392.0,848.6 L1393.0,849.7 L1394.0,850.8 L1395.0,852.0 L1396.0,852.9 L1397.0,854.0 L1398.0,854.8 L1399.0,855.7 L1400.0,856.5 L1401.0,852.8 L1402.0,844.6 L1403.0,837.5 L1404.0,829.5 L1405.0,822.4 L1406.0,821.1 L1407.0,821.8 L1408.0,822.0 L1409.0,822.5 L1410.0,822.9 L1411.0,823.5 L1412.0,824.2 L1413.0,824.9 L1414.0,825.7 L1415.0,826.5 L1416.0,827.5 L1417.0,828.3 L1418.0,829.3 L1419.0,830.2 L1420.0,831.1 L1421.0,832.0 L1422.0,832.8 L1423.0,833.7 L1424.0,834.2 L1425.0,835.3 L1426.0,832.2 L1427.0,823.6 L1428.0,815.9 L1429.0,807.4 L1430.0,800.7 L1431.0,800.4 L1432.0,801.3 L1433.0,801.8 L1434.0,802.6 L1435.0,803.2 L1436.0,804.0 L1437.0,804.6 L1438.0,805.4 L1439.0,806.0 L1440.0,806.7 L1441.0,807.3 L1442.0,808.0 L1443.0,808.6 L1444.0,809.2 L1445.0,809.8 L1446.0,810.3 L1447.0,810.9 L1448.0,811.2 L1449.0,812.1 L1450.0,809.8 L1451.0,801.8 L1452.0,794.4 L1453.0,786.5 L1454.0,780.7 L1455.0,780.9 L1456.0,781.5 L1457.0,782.1 L1458.0,782.7 L1459.0,783.2 L1460.0,783.7 L1461.0,784.2 L1462.0,784.7 L1463.0,785.1 L1464.0,785.5 L1465.0,785.9 L1466.0,786.3 L1467.0,786.6 L1468.0,787.0 L1469.0,787.2 L1470.0,787.6 L1471.0,787.6 L1472.0,788.2 L1473.0,785.1 L1474.0,777.7 L1475.0,771.4 L1476.0,764.4 L1477.0,761.7 L1478.0,762.4 L1479.0,762.6 L1480.0,763.1 L1481.0,763.3 L1482.0,763.6 L1483.0,763.7 L1484.0,763.9 L1485.0,764.0 L1486.0,764.1 L1487.0,764.2 L1488.0,764.4 L1489.0,764.7 L1490.0,764.9 L1491.0,765.4 L1492.0,765.7 L1493.0,766.5 L1494.0,763.7 L1495.0,757.0 L1496.0,750.9 L1497.0,744.5 L1498.0,744.1 L1499.0,745.0 L1500.0,746.0 L1501.0,746.9 L1502.0,747.7 L1503.0,748.5 L1504.0,749.4 L1505.0,750.1 L1506.0,750.9 L1507.0,751.7 L1508.0,752.4 L1509.0,753.2 L1510.0,753.9 L1511.0,754.7 L1512.0,755.2 L1513.0,756.2 L1514.0,750.2 L1515.0,739.8 L1516.0,729.7 L1517.0,721.2 L1518.0,721.3 L1519.0,721.7 L1520.0,722.5 L1521.0,723.1 L1522.0,723.8 L1523.0,724.4 L1524.0,725.2 L1525.0,725.8 L1526.0,726.5 L1527.0,727.3 L1528.0,727.9 L1529.0,728.7 L1530.0,729.3 L1531.0,730.2 L1532.0,730.8 L1533.0,731.0 L1534.0,722.1 L1535.0,711.8 L1536.0,700.9 L1537.0,695.6 L1538.0,696.7 L1539.0,697.3 L1540.0,698.1 L1541.0,698.9 L1542.0,699.7 L1543.0,700.5 L1544.0,701.2 L1545.0,702.1 L1546.0,702.9 L1547.0,703.7 L1548.0,704.5 L1549.0,705.3 L1550.0,706.3 L1551.0,707.0 L1552.0,707.6 L1553.0,698.9 L1554.0,688.2 L1555.0,676.9 L1556.0,672.1 L1557.0,673.4 L1558.0,674.1 L1559.0,675.0 L1560.0,676.0 L1561.0,676.8 L1562.0,677.8 L1563.0,678.6 L1564.0,679.5 L1565.0,680.5 L1566.0,681.4 L1567.0,682.4 L1568.0,683.4 L1569.0,684.2 L1570.0,685.5 L1571.0,677.8 L1572.0,666.1 L1573.0,653.8 L1574.0,650.6 L1575.0,651.9 L1576.0,653.1 L1577.0,654.2 L1578.0,655.4 L1579.0,656.7 L1580.0,657.9 L1581.0,659.1 L1582.0,660.4 L1583.0,661.7 L1584.0,662.8 L1585.0,664.1 L1586.0,665.7 L1587.0,659.2 L1588.0,646.7 L1589.0,633.9 L1590.0,631.6 L1591.0,632.9 L1592.0,634.2 L1593.0,635.4 L1594.0,636.6 L1595.0,637.8 L1596.0,639.1 L1597.0,640.3 L1598.0,641.6 L1599.0,642.9 L1600.0,644.2 L1601.0,645.4 L1602.0,646.2 L1603.0,634.1 L1604.0,621.2 L1605.0,612.8 L1606.0,614.6 L1607.0,616.3 L1608.0,617.9 L1609.0,619.6 L1610.0,621.2 L1611.0,622.9 L1612.0,624.6 L1613.0,626.4 L1614.0,628.1 L1615.0,629.8 L1616.0,626.2 L1617.0,612.2 L1618.0,598.7 L1619.0,598.5 L1620.0,599.9 L1621.0,601.4 L1622.0,602.9 L1623.0,604.5 L1624.0,605.9 L1625.0,607.4 L1626.0,608.9 L1627.0,610.4 L1628.0,612.0 L1629.0,613.5 L1630.0,610.1 L1631.0,596.2 L1632.0,582.8 L1633.0,583.0 L1634.0,584.6 L1635.0,586.3 L1636.0,588.0 L1637.0,589.7 L1638.0,591.5 L1639.0,593.2 L1640.0,594.9 L1641.0,596.7 L1642.0,598.3 L1643.0,595.5 L1644.0,581.6 L1645.0,568.3 L1646.0,568.5 L1647.0,570.0 L1648.0,571.5 L1649.0,573.0 L1650.0,574.5 L1651.0,576.0 L1652.0,577.4 L1653.0,578.8 L1654.0,580.2 L1655.0,581.6 L1656.0,583.1 L1657.0,572.3 L1658.0,559.1 L1659.0,552.4 L1660.0,554.0 L1661.0,555.6 L1662.0,557.1 L1663.0,558.5 L1664.0,560.0 L1665.0,561.3 L1666.0,562.7 L1667.0,564.1 L1668.0,565.5 L1669.0,567.0 L1670.0,556.9 L1671.0,544.0 L1672.0,537.9 L1673.0,539.5 L1674.0,540.9 L1675.0,542.4 L1676.0,543.8 L1677.0,545.1 L1678.0,546.4 L1679.0,547.7 L1680.0,548.9 L1681.0,550.1 L1682.0,548.0 L1683.0,535.6 L1684.0,524.0 L1685.0,524.3 L1686.0,525.4 L1687.0,526.4 L1688.0,527.5 L1689.0,528.5 L1690.0,529.5 L1691.0,530.5 L1692.0,531.4 L1693.0,532.3 L1694.0,533.1 L1695.0,530.7 L1696.0,519.3 L1697.0,508.5 L1698.0,508.6 L1699.0,509.4 L1700.0,510.3 L1701.0,511.2 L1702.0,512.1 L1703.0,513.1 L1704.0,514.0 L1705.0,514.9 L1706.0,515.8 L1707.0,516.6 L1708.0,514.5 L1709.0,503.2 L1710.0,492.4 L1711.0,492.6 L1712.0,493.5 L1713.0,494.4 L1714.0,495.3 L1715.0,496.3 L1716.0,497.2 L1717.0,498.1 L1718.0,499.0 L1719.0,499.9 L1720.0,501.0 L1721.0,492.5 L1722.0,481.2 L1723.0,476.0 L1724.0,476.9 L1725.0,477.8 L1726.0,478.7 L1727.0,479.6 L1728.0,480.4 L1729.0,481.2 L1730.0,482.0 L1731.0,482.8 L1732.0,483.5 L1733.0,481.7 L1734.0,470.5 L1735.0,460.0 L1736.0,460.1 L1737.0,460.9 L1738.0,461.6 L1739.0,462.4 L1740.0,463.1 L1741.0,463.8 L1742.0,464.5 L1743.0,465.2 L1744.0,465.9 L1745.0,466.7 L1746.0,458.5 L1747.0,447.7 L1748.0,442.6 L1749.0,443.4 L1750.0,444.0 L1751.0,444.7 L1752.0,445.4 L1753.0,446.0 L1754.0,446.6 L1755.0,447.2 L1756.0,447.8 L1757.0,448.3 L1758.0,446.6 L1759.0,435.9 L1760.0,425.8 L1761.0,426.0 L1762.0,426.7 L1763.0,427.3 L1764.0,427.9 L1765.0,428.5 L1766.0,429.1 L1767.0,429.7 L1768.0,430.3 L1769.0,430.8 L1770.0,429.4 L1771.0,418.8 L1772.0,409.0 L1773.0,409.2 L1774.0,409.7 L1775.0,410.2 L1776.0,410.7 L1777.0,411.2 L1778.0,411.6 L1779.0,412.0 L1780.0,412.4 L1781.0,412.7 L1782.0,411.2 L1783.0,401.1 L1784.0,391.6 L1785.0,391.6 L1786.0,392.0 L1787.0,392.3 L1788.0,392.6 L1789.0,392.9 L1790.0,393.2 L1791.0,393.5 L1792.0,393.7 L1793.0,393.9 L1794.0,392.3 L1795.0,382.3 L1796.0,373.0 L1797.0,372.9 L1798.0,373.0 L1799.0,373.2 L1800.0,373.4 L1801.0,373.5 L1802.0,373.6 L1803.0,373.7 L1804.0,373.8 L1805.0,373.8 L1806.0,372.0 L1807.0,361.8 L1808.0,352.1 L1809.0,351.7 L1810.0,351.7 L1811.0,351.6 L1812.0,351.5 L1813.0,351.5 L1814.0,351.4 L1815.0,351.4 L1816.0,351.3 L1817.0,351.3 L1818.0,349.4 L1819.0,338.5 L1820.0,328.3 L1821.0,327.9 L1822.0,327.8 L1823.0,327.8 L1824.0,327.9 L1825.0,327.9 L1826.0,328.0 L1827.0,328.1 L1828.0,328.2 L1829.0,328.3 L1830.0,326.5 L1831.0,315.2 L1832.0,304.6 L1833.0,304.4 L1834.0,304.7 L1835.0,305.0 L1836.0,305.4 L1837.0,305.7 L1838.0,306.2 L1839.0,306.6 L1840.0,307.1 L1841.0,307.6 L1842.0,306.1 L1843.0,294.9 L1844.0,284.5 L1845.0,284.8 L1846.0,285.5 L1847.0,286.2 L1848.0,287.0 L1849.0,287.7 L1850.0,288.4 L1851.0,289.2 L1852.0,289.9 L1853.0,290.6 L1854.0,289.2 L1855.0,278.2 L1856.0,267.8 L1857.0,268.0 L1858.0,268.6 L1859.0,269.1 L1860.0,269.6 L1861.0,270.1 L1862.0,270.5 L1863.0,271.0 L1864.0,271.5 L1865.0,271.9 L1866.0,270.2 L1867.0,258.2 L1868.0,246.9 L1869.0,246.7 L1870.0,247.0 L1871.0,247.3 L1872.0,247.7 L1873.0,248.0 L1874.0,248.4 L1875.0,248.9 L1876.0,249.3 L1877.0,249.8 L1878.0,247.9 L1879.0,236.3"/>
<path mask="url(#mR)" fill="#864c5a" stroke="none" d="M1580.0,658.5 L1582.0,656.1 L1584.0,653.7 L1586.0,651.4 L1588.0,649.0 L1590.0,646.7 L1592.0,644.3 L1594.0,642.0 L1596.0,639.7 L1598.0,637.3 L1600.0,635.0 L1602.0,632.7 L1604.0,630.4 L1606.0,628.1 L1608.0,625.8 L1610.0,623.6 L1612.0,621.3 L1614.0,619.1 L1616.0,616.8 L1618.0,614.6 L1620.0,612.4 L1622.0,610.2 L1624.0,608.0 L1626.0,605.8 L1628.0,603.6 L1630.0,601.5 L1632.0,599.3 L1634.0,597.1 L1636.0,595.0 L1638.0,592.8 L1640.0,590.7 L1642.0,588.5 L1644.0,586.3 L1646.0,584.2 L1648.0,582.0 L1650.0,579.9 L1652.0,577.7 L1654.0,575.5 L1656.0,573.4 L1658.0,571.2 L1660.0,569.0 L1662.0,566.8 L1664.0,564.6 L1666.0,562.4 L1668.0,560.2 L1670.0,558.0 L1672.0,555.7 L1674.0,553.5 L1676.0,551.2 L1678.0,549.0 L1680.0,546.7 L1682.0,544.4 L1684.0,542.1 L1686.0,539.8 L1688.0,537.4 L1690.0,535.1 L1692.0,532.7 L1694.0,530.3 L1696.0,527.9 L1698.0,525.5 L1700.0,523.0 L1702.0,520.5 L1704.0,518.0 L1706.0,515.5 L1708.0,513.0 L1710.0,510.4 L1712.0,507.9 L1714.0,505.3 L1716.0,502.6 L1718.0,500.0 L1720.0,497.4 L1722.0,494.7 L1724.0,492.0 L1726.0,489.4 L1728.0,486.6 L1730.0,483.9 L1732.0,481.2 L1734.0,478.4 L1736.0,475.7 L1738.0,472.9 L1740.0,470.1 L1742.0,467.3 L1744.0,464.5 L1746.0,461.7 L1748.0,458.8 L1750.0,456.0 L1752.0,453.1 L1754.0,450.3 L1756.0,447.4 L1758.0,444.5 L1760.0,441.6 L1762.0,438.7 L1764.0,435.8 L1766.0,432.9 L1768.0,429.9 L1770.0,427.0 L1772.0,424.0 L1774.0,421.0 L1776.0,418.0 L1778.0,415.0 L1780.0,411.9 L1782.0,408.8 L1784.0,405.7 L1786.0,402.6 L1788.0,399.4 L1790.0,396.3 L1792.0,393.1 L1794.0,389.9 L1796.0,386.6 L1798.0,383.3 L1800.0,380.0 L1802.0,376.6 L1804.0,373.1 L1806.0,369.6 L1808.0,365.9 L1810.0,362.2 L1812.0,358.5 L1814.0,354.7 L1816.0,350.8 L1818.0,347.0 L1820.0,343.2 L1822.0,339.3 L1824.0,335.5 L1826.0,331.7 L1828.0,328.0 L1830.0,324.3 L1832.0,320.6 L1834.0,317.1 L1836.0,313.6 L1838.0,310.3 L1840.0,307.0 L1842.0,303.9 L1844.0,300.9 L1846.0,298.1 L1848.0,295.3 L1850.0,292.5 L1852.0,289.8 L1854.0,287.0 L1856.0,284.1 L1858.0,281.1 L1860.0,278.0 L1862.0,274.8 L1864.0,271.4 L1866.0,268.0 L1868.0,264.5 L1870.0,261.0 L1872.0,257.3 L1874.0,253.6 L1876.0,249.8 L1878.0,246.0 L1878.0,297.0 L1876.0,299.9 L1874.0,302.8 L1872.0,305.7 L1870.0,308.5 L1868.0,311.4 L1866.0,314.3 L1864.0,317.2 L1862.0,320.1 L1860.0,323.0 L1858.0,325.9 L1856.0,328.8 L1854.0,331.7 L1852.0,334.6 L1850.0,337.5 L1848.0,340.4 L1846.0,343.3 L1844.0,346.2 L1842.0,349.1 L1840.0,352.0 L1838.0,354.9 L1836.0,357.9 L1834.0,360.8 L1832.0,363.8 L1830.0,366.7 L1828.0,369.7 L1826.0,372.7 L1824.0,375.6 L1822.0,378.6 L1820.0,381.6 L1818.0,384.5 L1816.0,387.5 L1814.0,390.5 L1812.0,393.4 L1810.0,396.4 L1808.0,399.3 L1806.0,402.3 L1804.0,405.2 L1802.0,408.1 L1800.0,411.0 L1798.0,413.9 L1796.0,416.8 L1794.0,419.7 L1792.0,422.6 L1790.0,425.5 L1788.0,428.4 L1786.0,431.3 L1784.0,434.2 L1782.0,437.1 L1780.0,440.0 L1778.0,442.8 L1776.0,445.7 L1774.0,448.6 L1772.0,451.4 L1770.0,454.3 L1768.0,457.1 L1766.0,459.9 L1764.0,462.7 L1762.0,465.5 L1760.0,468.3 L1758.0,471.1 L1756.0,473.8 L1754.0,476.6 L1752.0,479.3 L1750.0,482.0 L1748.0,484.7 L1746.0,487.4 L1744.0,490.1 L1742.0,492.7 L1740.0,495.4 L1738.0,498.0 L1736.0,500.7 L1734.0,503.3 L1732.0,505.9 L1730.0,508.5 L1728.0,511.1 L1726.0,513.7 L1724.0,516.3 L1722.0,518.9 L1720.0,521.4 L1718.0,524.0 L1716.0,526.5 L1714.0,529.0 L1712.0,531.5 L1710.0,533.9 L1708.0,536.4 L1706.0,538.8 L1704.0,541.2 L1702.0,543.6 L1700.0,546.0 L1698.0,548.4 L1696.0,550.7 L1694.0,553.0 L1692.0,555.3 L1690.0,557.6 L1688.0,559.8 L1686.0,562.1 L1684.0,564.3 L1682.0,566.5 L1680.0,568.7 L1678.0,570.9 L1676.0,573.1 L1674.0,575.3 L1672.0,577.4 L1670.0,579.6 L1668.0,581.7 L1666.0,583.8 L1664.0,586.0 L1662.0,588.1 L1660.0,590.2 L1658.0,592.3 L1656.0,594.4 L1654.0,596.5 L1652.0,598.5 L1650.0,600.6 L1648.0,602.7 L1646.0,604.8 L1644.0,606.9 L1642.0,609.0 L1640.0,611.0 L1638.0,613.1 L1636.0,615.2 L1634.0,617.3 L1632.0,619.4 L1630.0,621.5 L1628.0,623.6 L1626.0,625.7 L1624.0,627.8 L1622.0,629.9 L1620.0,632.1 L1618.0,634.2 L1616.0,636.3 L1614.0,638.5 L1612.0,640.7 L1610.0,642.9 L1608.0,645.1 L1606.0,647.3 L1604.0,649.5 L1602.0,651.7 L1600.0,654.0 L1598.0,656.3 L1596.0,658.5 L1594.0,660.8 L1592.0,663.1 L1590.0,665.4 L1588.0,667.7 L1586.0,670.0 L1584.0,672.3 L1582.0,674.6 L1580.0,676.9Z"/>
<path stroke="#864c5a" d="M341.0,1286.0 L344.5,1330.0 L350.0,1230.0 L357.0,1099.0 L362.0,1135.0 L368.0,1180.0 L374.0,1160.0 L380.0,1140.0 L388.0,1125.0 L391.0,1126.1 L392.0,1127.8 L393.0,1129.4 L394.0,1130.7 L395.0,1131.8 L396.0,1132.5 L397.0,1133.0 L398.0,1133.3 L399.0,1133.3 L400.0,1133.1 L401.0,1132.8 L402.0,1132.3 L403.0,1131.8 L404.0,1131.3 L405.0,1130.8 L406.0,1130.3 L407.0,1129.9 L408.0,1129.5 L409.0,1129.2 L410.0,1128.9 L411.0,1128.7 L412.0,1128.4 L413.0,1128.2 L414.0,1127.9 L415.0,1127.6 L416.0,1127.2 L417.0,1126.8 L418.0,1126.4 L419.0,1125.9 L420.0,1125.5 L421.0,1125.1 L422.0,1124.7 L423.0,1124.3 L424.0,1124.0 L425.0,1123.6 L426.0,1123.4 L427.0,1123.1 L428.0,1122.8 L429.0,1122.5 L430.0,1122.2 L431.0,1121.9 L432.0,1121.5 L433.0,1121.1 L434.0,1120.7 L435.0,1120.2 L436.0,1119.8 L437.0,1119.4 L438.0,1119.0 L439.0,1118.6 L440.0,1118.2 L441.0,1118.0 L442.0,1117.7 L443.0,1117.4 L444.0,1117.2 L445.0,1116.9 L446.0,1116.6 L447.0,1116.2 L448.0,1115.9 L449.0,1115.4 L450.0,1114.9 L451.0,1114.4 L452.0,1113.8 L453.0,1113.4 L454.0,1113.0 L455.0,1112.7 L456.0,1112.7 L457.0,1112.9 L458.0,1113.3 L459.0,1114.0 L460.0,1115.0 L461.0,1116.3 L462.0,1117.8 L463.0,1119.4 L464.0,1121.3 L465.0,1123.1 L466.0,1125.1 L467.0,1126.9 L468.0,1128.5 L469.0,1130.0 L470.0,1131.3 L471.0,1132.2 L472.0,1132.8 L473.0,1133.2 L474.0,1133.3 L475.0,1133.2 L476.0,1132.9 L477.0,1132.5 L478.0,1132.0 L479.0,1131.5 L480.0,1131.0 L481.0,1130.5 L482.0,1130.0 L483.0,1129.6 L484.0,1129.3 L485.0,1129.0 L486.0,1128.7 L487.0,1128.5 L488.0,1128.2 L489.0,1127.9 L490.0,1127.6 L491.0,1127.3 L492.0,1126.9 L493.0,1126.5 L494.0,1126.0 L495.0,1125.6 L496.0,1125.1 L497.0,1124.7 L498.0,1124.3 L499.0,1123.9 L500.0,1123.6 L501.0,1123.3 L502.0,1123.0 L503.0,1122.8 L504.0,1122.4 L505.0,1122.1 L506.0,1121.8 L507.0,1121.4 L508.0,1120.9 L509.0,1120.5 L510.0,1120.0 L511.0,1119.6 L512.0,1119.1 L513.0,1118.7 L514.0,1118.3 L515.0,1118.0 L516.0,1117.6 L517.0,1117.4 L518.0,1117.1 L519.0,1116.8 L520.0,1116.5 L521.0,1116.1 L522.0,1115.6 L523.0,1115.1 L524.0,1114.6 L525.0,1114.0 L526.0,1113.5 L527.0,1112.9 L528.0,1112.5 L529.0,1112.2 L530.0,1112.1 L531.0,1112.3 L532.0,1112.8 L533.0,1113.6 L534.0,1114.7 L535.0,1116.2 L536.0,1117.8 L537.0,1119.6 L538.0,1121.7 L539.0,1123.6 L540.0,1125.5 L541.0,1127.4 L542.0,1129.0 L543.0,1130.3 L544.0,1131.3 L545.0,1132.0 L546.0,1132.4 L547.0,1132.5 L548.0,1132.3 L549.0,1131.9 L550.0,1131.4 L551.0,1130.9 L552.0,1130.3 L553.0,1129.6 L554.0,1129.1 L555.0,1128.6 L556.0,1128.2 L557.0,1127.8 L558.0,1127.4 L559.0,1127.1 L560.0,1126.8 L561.0,1126.4 L562.0,1126.0 L563.0,1125.6 L564.0,1125.1 L565.0,1124.6 L566.0,1124.0 L567.0,1123.5 L568.0,1123.0 L569.0,1122.5 L570.0,1122.0 L571.0,1121.5 L572.0,1121.1 L573.0,1120.8 L574.0,1120.4 L575.0,1120.0 L576.0,1119.6 L577.0,1119.2 L578.0,1118.7 L579.0,1118.1 L580.0,1117.6 L581.0,1117.0 L582.0,1116.5 L583.0,1115.9 L584.0,1115.4 L585.0,1114.9 L586.0,1114.5 L587.0,1114.1 L588.0,1113.7 L589.0,1113.4 L590.0,1113.0 L591.0,1112.5 L592.0,1112.0 L593.0,1111.4 L594.0,1110.8 L595.0,1110.1 L596.0,1109.4 L597.0,1108.8 L598.0,1108.3 L599.0,1107.9 L600.0,1107.8 L601.0,1108.1 L602.0,1108.7 L603.0,1109.7 L604.0,1111.0 L605.0,1112.6 L606.0,1114.7 L607.0,1116.8 L608.0,1119.0 L609.0,1121.1 L610.0,1123.3 L611.0,1125.0 L612.0,1126.5 L613.0,1127.6 L614.0,1128.4 L615.0,1128.7 L616.0,1128.8 L617.0,1128.5 L618.0,1128.0 L619.0,1127.4 L620.0,1126.7 L621.0,1126.0 L622.0,1125.3 L623.0,1124.7 L624.0,1124.2 L625.0,1123.7 L626.0,1123.3 L627.0,1122.9 L628.0,1122.5 L629.0,1122.1 L630.0,1121.6 L631.0,1121.1 L632.0,1120.5 L633.0,1120.0 L634.0,1119.3 L635.0,1118.7 L636.0,1118.1 L637.0,1117.6 L638.0,1117.0 L639.0,1116.6 L640.0,1116.1 L641.0,1115.7 L642.0,1115.2 L643.0,1114.8 L644.0,1114.3 L645.0,1113.8 L646.0,1113.2 L647.0,1112.6 L648.0,1112.0 L649.0,1111.4 L650.0,1110.8 L651.0,1110.2 L652.0,1109.7 L653.0,1109.3 L654.0,1108.8 L655.0,1108.4 L656.0,1108.0 L657.0,1107.6 L658.0,1107.1 L659.0,1106.5 L660.0,1105.9 L661.0,1105.2 L662.0,1104.5 L663.0,1103.7 L664.0,1103.1 L665.0,1102.6 L666.0,1102.4 L667.0,1102.5 L668.0,1102.9 L669.0,1103.8 L670.0,1105.0 L671.0,1106.6 L672.0,1108.4 L673.0,1110.6 L674.0,1112.7 L675.0,1114.9 L676.0,1116.9 L677.0,1118.8 L678.0,1120.4 L679.0,1121.5 L680.0,1122.3 L681.0,1122.6 L682.0,1122.6 L683.0,1122.3 L684.0,1121.8 L685.0,1121.1 L686.0,1120.3 L687.0,1119.6 L688.0,1118.8 L689.0,1118.2 L690.0,1117.6 L691.0,1117.0 L692.0,1116.6 L693.0,1116.1 L694.0,1115.6 L695.0,1115.2 L696.0,1114.7 L697.0,1114.1 L698.0,1113.5 L699.0,1112.8 L700.0,1112.1 L701.0,1111.5 L702.0,1110.9 L703.0,1110.3 L704.0,1109.7 L705.0,1109.2 L706.0,1108.7 L707.0,1108.3 L708.0,1107.8 L709.0,1107.3 L710.0,1106.7 L711.0,1106.2 L712.0,1105.5 L713.0,1104.9 L714.0,1104.2 L715.0,1103.6 L716.0,1103.0 L717.0,1102.5 L718.0,1102.0 L719.0,1101.6 L720.0,1101.2 L721.0,1100.7 L722.0,1100.3 L723.0,1099.7 L724.0,1099.1 L725.0,1098.4 L726.0,1097.7 L727.0,1097.0 L728.0,1096.4 L729.0,1095.9 L730.0,1095.6 L731.0,1095.7 L732.0,1096.1 L733.0,1096.9 L734.0,1098.1 L735.0,1099.6 L736.0,1101.2 L737.0,1103.1 L738.0,1105.1 L739.0,1106.9 L740.0,1108.5 L741.0,1109.9 L742.0,1110.8 L743.0,1111.4 L744.0,1111.6 L745.0,1111.4 L746.0,1111.0 L747.0,1110.4 L748.0,1109.7 L749.0,1108.9 L750.0,1108.2 L751.0,1107.5 L752.0,1107.0 L753.0,1106.5 L754.0,1106.0 L755.0,1105.5 L756.0,1105.1 L757.0,1104.6 L758.0,1104.1 L759.0,1103.5 L760.0,1102.9 L761.0,1102.3 L762.0,1101.7 L763.0,1101.1 L764.0,1100.6 L765.0,1100.0 L766.0,1099.6 L767.0,1099.1 L768.0,1098.7 L769.0,1098.2 L770.0,1097.7 L771.0,1097.2 L772.0,1096.6 L773.0,1096.1 L774.0,1095.5 L775.0,1094.9 L776.0,1094.4 L777.0,1093.9 L778.0,1093.5 L779.0,1093.1 L780.0,1092.7 L781.0,1092.3 L782.0,1091.8 L783.0,1091.3 L784.0,1090.7 L785.0,1090.1 L786.0,1089.4 L787.0,1088.8 L788.0,1088.3 L789.0,1088.0 L790.0,1088.0 L791.0,1088.2 L792.0,1088.8 L793.0,1089.8 L794.0,1091.0 L795.0,1092.5 L796.0,1094.2 L797.0,1095.8 L798.0,1097.3 L799.0,1098.7 L800.0,1099.8 L801.0,1100.6 L802.0,1101.0 L803.0,1101.0 L804.0,1100.8 L805.0,1100.4 L806.0,1099.8 L807.0,1099.1 L808.0,1098.5 L809.0,1097.9 L810.0,1097.3 L811.0,1096.9 L812.0,1096.5 L813.0,1096.1 L814.0,1095.7 L815.0,1095.2 L816.0,1094.8 L817.0,1094.3 L818.0,1093.7 L819.0,1093.1 L820.0,1092.6 L821.0,1092.0 L822.0,1091.5 L823.0,1091.1 L824.0,1090.7 L825.0,1090.2 L826.0,1089.8 L827.0,1089.4 L828.0,1088.9 L829.0,1088.4 L830.0,1087.8 L831.0,1087.3 L832.0,1086.7 L833.0,1086.2 L834.0,1085.7 L835.0,1085.3 L836.0,1084.9 L837.0,1084.5 L838.0,1084.1 L839.0,1083.6 L840.0,1083.1 L841.0,1082.5 L842.0,1081.9 L843.0,1081.3 L844.0,1080.7 L845.0,1080.2 L846.0,1079.9 L847.0,1080.0 L848.0,1080.4 L849.0,1081.1 L850.0,1082.2 L851.0,1083.5 L852.0,1085.1 L853.0,1086.7 L854.0,1088.4 L855.0,1089.7 L856.0,1090.9 L857.0,1091.7 L858.0,1092.2 L859.0,1092.2 L860.0,1092.0 L861.0,1091.6 L862.0,1091.0 L863.0,1090.3 L864.0,1089.7 L865.0,1089.1 L866.0,1088.5 L867.0,1088.1 L868.0,1087.7 L869.0,1087.3 L870.0,1086.8 L871.0,1086.4 L872.0,1085.9 L873.0,1085.3 L874.0,1084.7 L875.0,1084.2 L876.0,1083.6 L877.0,1083.1 L878.0,1082.6 L879.0,1082.1 L880.0,1081.7 L881.0,1081.2 L882.0,1080.8 L883.0,1080.3 L884.0,1079.7 L885.0,1079.2 L886.0,1078.6 L887.0,1078.0 L888.0,1077.5 L889.0,1077.0 L890.0,1076.5 L891.0,1076.1 L892.0,1075.7 L893.0,1075.2 L894.0,1074.7 L895.0,1074.1 L896.0,1073.5 L897.0,1072.8 L898.0,1072.2 L899.0,1071.6 L900.0,1071.3 L901.0,1071.4 L902.0,1071.7 L903.0,1072.5 L904.0,1073.6 L905.0,1075.1 L906.0,1076.8 L907.0,1078.4 L908.0,1079.9 L909.0,1081.3 L910.0,1082.3 L911.0,1082.9 L912.0,1083.0 L913.0,1082.9 L914.0,1082.4 L915.0,1081.8 L916.0,1081.1 L917.0,1080.4 L918.0,1079.8 L919.0,1079.2 L920.0,1078.7 L921.0,1078.3 L922.0,1077.8 L923.0,1077.3 L924.0,1076.8 L925.0,1076.3 L926.0,1075.7 L927.0,1075.0 L928.0,1074.4 L929.0,1073.8 L930.0,1073.3 L931.0,1072.8 L932.0,1072.3 L933.0,1071.9 L934.0,1071.3 L935.0,1070.8 L936.0,1070.2 L937.0,1069.6 L938.0,1069.0 L939.0,1068.4 L940.0,1067.8 L941.0,1067.3 L942.0,1066.8 L943.0,1066.3 L944.0,1065.9 L945.0,1065.4 L946.0,1064.7 L947.0,1064.1 L948.0,1063.4 L949.0,1062.6 L950.0,1062.1 L951.0,1061.7 L952.0,1061.6 L953.0,1061.9 L954.0,1062.7 L955.0,1063.8 L956.0,1065.2 L957.0,1066.9 L958.0,1068.5 L959.0,1070.1 L960.0,1071.3 L961.0,1072.1 L962.0,1072.6 L963.0,1072.6 L964.0,1072.3 L965.0,1071.7 L966.0,1071.0 L967.0,1070.3 L968.0,1069.6 L969.0,1068.9 L970.0,1068.3 L971.0,1067.8 L972.0,1067.3 L973.0,1066.9 L974.0,1066.3 L975.0,1065.7 L976.0,1065.0 L977.0,1064.4 L978.0,1063.7 L979.0,1063.1 L980.0,1062.5 L981.0,1061.9 L982.0,1061.4 L983.0,1060.9 L984.0,1060.3 L985.0,1059.7 L986.0,1059.1 L987.0,1058.4 L988.0,1057.7 L989.0,1057.1 L990.0,1056.5 L991.0,1055.9 L992.0,1055.4 L993.0,1054.9 L994.0,1054.3 L995.0,1053.7 L996.0,1052.9 L997.0,1052.1 L998.0,1051.4 L999.0,1050.8 L1000.0,1050.4 L1001.0,1050.5 L1002.0,1051.0 L1003.0,1052.0 L1004.0,1053.3 L1005.0,1054.9 L1006.0,1056.6 L1007.0,1058.1 L1008.0,1059.4 L1009.0,1060.2 L1010.0,1060.6 L1011.0,1060.5 L1012.0,1060.0 L1013.0,1059.3 L1014.0,1058.4 L1015.0,1057.6 L1016.0,1056.8 L1017.0,1056.1 L1018.0,1055.5 L1019.0,1054.9 L1020.0,1054.3 L1021.0,1053.7 L1022.0,1052.9 L1023.0,1052.2 L1024.0,1051.4 L1025.0,1050.6 L1026.0,1049.9 L1027.0,1049.2 L1028.0,1048.6 L1029.0,1048.0 L1030.0,1047.3 L1031.0,1046.6 L1032.0,1045.8 L1033.0,1045.0 L1034.0,1044.2 L1035.0,1043.4 L1036.0,1042.8 L1037.0,1042.1 L1038.0,1041.5 L1039.0,1040.8 L1040.0,1040.1 L1041.0,1039.3 L1042.0,1038.4 L1043.0,1037.5 L1044.0,1036.7 L1045.0,1036.1 L1046.0,1035.9 L1047.0,1036.1 L1048.0,1036.8 L1049.0,1038.0 L1050.0,1039.4 L1051.0,1041.0 L1052.0,1042.4 L1053.0,1043.5 L1054.0,1044.2 L1055.0,1044.5 L1056.0,1044.2 L1057.0,1043.6 L1058.0,1042.7 L1059.0,1041.8 L1060.0,1040.9 L1061.0,1040.0 L1062.0,1039.2 L1063.0,1038.6 L1064.0,1037.9 L1065.0,1037.2 L1066.0,1036.4 L1067.0,1035.6 L1068.0,1034.7 L1069.0,1033.8 L1070.0,1033.0 L1071.0,1032.2 L1072.0,1031.5 L1073.0,1030.8 L1074.0,1030.0 L1075.0,1029.3 L1076.0,1028.4 L1077.0,1027.6 L1078.0,1026.7 L1079.0,1025.8 L1080.0,1025.1 L1081.0,1024.4 L1082.0,1023.7 L1083.0,1022.9 L1084.0,1022.1 L1085.0,1021.2 L1086.0,1020.3 L1087.0,1019.4 L1088.0,1018.6 L1089.0,1018.0 L1090.0,1017.9 L1091.0,1018.3 L1092.0,1019.2 L1093.0,1020.5 L1094.0,1021.9 L1095.0,1023.3 L1096.0,1024.4 L1097.0,1025.2 L1098.0,1025.4 L1099.0,1025.2 L1100.0,1024.6 L1101.0,1023.7 L1102.0,1022.7 L1103.0,1021.7 L1104.0,1020.9 L1105.0,1020.1 L1106.0,1019.4 L1107.0,1018.6 L1108.0,1017.9 L1109.0,1017.0 L1110.0,1016.1 L1111.0,1015.2 L1112.0,1014.3 L1113.0,1013.5 L1114.0,1012.7 L1115.0,1011.9 L1116.0,1011.2 L1117.0,1010.4 L1118.0,1009.5 L1119.0,1008.6 L1120.0,1007.6 L1121.0,1006.8 L1122.0,1006.0 L1123.0,1005.3 L1124.0,1004.5 L1125.0,1003.7 L1126.0,1002.8 L1127.0,1001.8 L1128.0,1000.8 L1129.0,1000.0 L1130.0,999.5 L1131.0,999.7 L1132.0,1000.4 L1133.0,1001.6 L1134.0,1003.3 L1135.0,1004.8 L1136.0,1006.1 L1137.0,1006.9 L1138.0,1007.0 L1139.0,1006.6 L1140.0,1005.7 L1141.0,1004.7 L1142.0,1003.7 L1143.0,1002.8 L1144.0,1002.0 L1145.0,1001.2 L1146.0,1000.5 L1147.0,999.6 L1148.0,998.7 L1149.0,997.7 L1150.0,996.8 L1151.0,995.9 L1152.0,995.2 L1153.0,994.4 L1154.0,993.6 L1155.0,992.7 L1156.0,991.7 L1157.0,990.7 L1158.0,989.9 L1159.0,989.1 L1160.0,988.3 L1161.0,987.5 L1162.0,986.6 L1163.0,985.5 L1164.0,984.4 L1165.0,983.6 L1166.0,983.3 L1167.0,983.8 L1168.0,985.1 L1169.0,986.9 L1170.0,988.9 L1171.0,990.6 L1172.0,991.6 L1173.0,991.8 L1174.0,991.2 L1175.0,990.3 L1176.0,989.1 L1177.0,988.1 L1178.0,987.3 L1179.0,986.5 L1180.0,985.7 L1181.0,984.7 L1182.0,983.7 L1183.0,982.7 L1184.0,981.7 L1185.0,980.8 L1186.0,980.0 L1187.0,979.0 L1188.0,978.0 L1189.0,976.9 L1190.0,975.8 L1191.0,974.8 L1192.0,974.0 L1193.0,973.1 L1194.0,972.0 L1195.0,970.7 L1196.0,969.4 L1197.0,968.6 L1198.0,968.8 L1199.0,970.2 L1200.0,972.8 L1201.0,975.6 L1202.0,978.1 L1203.0,979.4 L1204.0,979.4 L1205.0,978.5 L1206.0,977.1 L1207.0,975.8 L1208.0,974.8 L1209.0,973.9 L1210.0,972.9 L1211.0,971.7 L1212.0,970.4 L1213.0,969.2 L1214.0,968.2 L1215.0,967.2 L1216.0,966.1 L1217.0,964.8 L1218.0,963.5 L1219.0,962.3 L1220.0,961.3 L1221.0,960.3 L1222.0,959.2 L1223.0,957.8 L1224.0,956.3 L1225.0,955.2 L1226.0,955.2 L1227.0,956.6 L1228.0,959.3 L1229.0,962.5 L1230.0,965.4 L1231.0,967.0 L1232.0,967.2 L1233.0,966.3 L1234.0,964.8 L1235.0,963.4 L1236.0,962.2 L1237.0,961.2 L1238.0,960.1 L1239.0,958.9 L1240.0,957.6 L1241.0,956.3 L1242.0,955.1 L1243.0,954.1 L1244.0,953.0 L1245.0,951.8 L1246.0,950.5 L1247.0,949.2 L1248.0,948.2 L1249.0,947.2 L1250.0,946.2 L1251.0,945.0 L1252.0,943.5 L1253.0,942.3 L1254.0,941.8 L1255.0,942.3 L1256.0,943.9 L1257.0,946.5 L1258.0,949.2 L1259.0,951.0 L1260.0,951.9 L1261.0,951.7 L1262.0,950.7 L1263.0,949.2 L1264.0,947.9 L1265.0,946.7 L1266.0,945.8 L1267.0,944.8 L1268.0,943.7 L1269.0,942.5 L1270.0,941.3 L1271.0,940.1 L1272.0,939.2 L1273.0,938.3 L1274.0,937.3 L1275.0,936.2 L1276.0,935.0 L1277.0,933.9 L1278.0,933.0 L1279.0,932.2 L1280.0,931.3 L1281.0,930.3 L1282.0,929.1 L1283.0,928.0 L1284.0,927.5 L1285.0,927.5 L1286.0,928.0 L1287.0,929.1 L1288.0,930.7 L1289.0,931.7 L1290.0,931.8 L1291.0,931.7 L1292.0,931.0 L1293.0,929.8 L1294.0,928.5 L1295.0,927.4 L1296.0,926.5 L1297.0,925.7 L1298.0,924.8 L1299.0,923.8 L1300.0,922.7 L1301.0,921.7 L1302.0,920.9 L1303.0,920.1 L1304.0,919.3 L1305.0,918.4 L1306.0,917.5 L1307.0,916.6 L1308.0,915.8 L1309.0,915.1 L1310.0,914.4 L1311.0,913.7 L1312.0,912.8 L1313.0,911.8 L1314.0,911.3 L1315.0,911.1 L1316.0,910.5 L1317.0,909.9 L1318.0,909.9 L1319.0,909.7 L1320.0,908.7 L1321.0,907.9 L1322.0,907.5 L1323.0,906.7 L1324.0,905.6 L1325.0,904.7 L1326.0,904.0 L1327.0,903.3 L1328.0,902.7 L1329.0,901.9 L1330.0,901.1 L1331.0,900.3 L1332.0,899.6 L1333.0,899.1 L1334.0,898.5 L1335.0,897.8 L1336.0,897.2 L1337.0,896.5 L1338.0,895.9 L1339.0,895.5 L1340.0,895.0 L1341.0,894.5 L1342.0,893.9 L1343.0,893.2 L1344.0,892.9 L1345.0,892.6 L1346.0,890.9 L1347.0,889.0 L1348.0,887.6 L1349.0,885.7 L1350.0,883.4 L1351.0,882.5 L1352.0,882.2 L1353.0,881.5 L1354.0,880.8 L1355.0,880.3 L1356.0,879.8 L1357.0,879.4 L1358.0,878.9 L1359.0,878.4 L1360.0,877.9 L1361.0,877.4 L1362.0,877.1 L1363.0,876.7 L1364.0,876.3 L1365.0,876.0 L1366.0,875.6 L1367.0,875.2 L1368.0,875.0 L1369.0,874.7 L1370.0,874.5 L1371.0,874.1 L1372.0,873.8 L1373.0,873.8 L1374.0,872.2 L1375.0,868.8 L1376.0,866.0 L1377.0,863.0 L1378.0,859.6 L1379.0,858.1 L1380.0,858.0 L1381.0,857.6 L1382.0,857.2 L1383.0,857.0 L1384.0,856.7 L1385.0,856.6 L1386.0,856.3 L1387.0,856.1 L1388.0,855.9 L1389.0,855.7 L1390.0,855.6 L1391.0,855.4 L1392.0,855.3 L1393.0,855.1 L1394.0,855.0 L1395.0,855.0 L1396.0,854.9 L1397.0,854.9 L1398.0,854.8 L1399.0,854.7 L1400.0,854.8 L1401.0,852.6 L1402.0,848.2 L1403.0,844.5 L1404.0,840.2 L1405.0,836.3 L1406.0,835.5 L1407.0,835.7 L1408.0,835.5 L1409.0,835.5 L1410.0,835.4 L1411.0,835.4 L1412.0,835.4 L1413.0,835.4 L1414.0,835.4 L1415.0,835.4 L1416.0,835.5 L1417.0,835.5 L1418.0,835.5 L1419.0,835.5 L1420.0,835.6 L1421.0,835.7 L1422.0,835.7 L1423.0,835.8 L1424.0,835.8 L1425.0,836.1 L1426.0,834.1 L1427.0,829.1 L1428.0,824.6 L1429.0,819.6 L1430.0,815.6 L1431.0,815.2 L1432.0,815.3 L1433.0,815.3 L1434.0,815.4 L1435.0,815.4 L1436.0,815.5 L1437.0,815.5 L1438.0,815.6 L1439.0,815.7 L1440.0,815.8 L1441.0,815.8 L1442.0,815.9 L1443.0,815.9 L1444.0,816.0 L1445.0,816.1 L1446.0,816.1 L1447.0,816.2 L1448.0,816.1 L1449.0,816.4 L1450.0,814.7 L1451.0,809.7 L1452.0,805.0 L1453.0,799.9 L1454.0,796.1 L1455.0,795.9 L1456.0,796.0 L1457.0,796.0 L1458.0,796.1 L1459.0,796.2 L1460.0,796.2 L1461.0,796.3 L1462.0,796.3 L1463.0,796.3 L1464.0,796.4 L1465.0,796.4 L1466.0,796.4 L1467.0,796.4 L1468.0,796.5 L1469.0,796.4 L1470.0,796.5 L1471.0,796.4 L1472.0,796.6 L1473.0,794.3 L1474.0,789.2 L1475.0,784.6 L1476.0,779.5 L1477.0,777.4 L1478.0,777.7 L1479.0,777.6 L1480.0,777.7 L1481.0,777.7 L1482.0,777.7 L1483.0,777.5 L1484.0,777.4 L1485.0,777.3 L1486.0,777.2 L1487.0,777.1 L1488.0,777.1 L1489.0,777.1 L1490.0,777.2 L1491.0,777.5 L1492.0,777.7 L1493.0,778.3 L1494.0,775.6 L1495.0,769.3 L1496.0,763.4 L1497.0,757.0 L1498.0,756.2 L1499.0,756.8 L1500.0,757.5 L1501.0,758.0 L1502.0,758.5 L1503.0,758.9 L1504.0,759.5 L1505.0,759.9 L1506.0,760.5 L1507.0,760.9 L1508.0,761.4 L1509.0,761.9 L1510.0,762.4 L1511.0,763.0 L1512.0,763.3 L1513.0,764.1 L1514.0,758.1 L1515.0,747.6 L1516.0,737.4 L1517.0,728.8 L1518.0,728.9 L1519.0,729.3 L1520.0,730.0 L1521.0,730.6 L1522.0,731.4 L1523.0,732.1 L1524.0,732.8 L1525.0,733.5 L1526.0,734.2 L1527.0,735.0 L1528.0,735.7 L1529.0,736.5 L1530.0,737.2 L1531.0,738.0 L1532.0,738.7 L1533.0,738.9 L1534.0,730.0 L1535.0,719.8 L1536.0,708.9 L1537.0,703.6 L1538.0,704.8 L1539.0,705.4 L1540.0,706.3 L1541.0,707.1 L1542.0,707.9 L1543.0,708.8 L1544.0,709.5 L1545.0,710.4 L1546.0,711.2 L1547.0,712.1 L1548.0,713.0 L1549.0,713.8 L1550.0,714.8 L1551.0,715.5 L1552.0,716.2 L1553.0,707.5 L1554.0,696.9 L1555.0,685.6 L1556.0,680.8 L1557.0,682.1 L1558.0,682.9 L1559.0,683.9 L1560.0,684.9 L1561.0,685.7 L1562.0,686.7 L1563.0,687.7 L1564.0,688.6 L1565.0,689.6 L1566.0,690.5 L1567.0,691.6 L1568.0,692.7 L1569.0,693.5 L1570.0,694.9 L1571.0,687.1 L1572.0,675.5 L1573.0,663.3 L1574.0,660.0 L1575.0,661.4 L1576.0,662.7 L1577.0,663.9 L1578.0,665.1 L1579.0,666.4 L1580.0,667.7 L1581.0,668.9 L1582.0,670.3 L1583.0,671.6 L1584.0,672.8 L1585.0,674.1 L1586.0,675.8 L1587.0,669.3 L1588.0,656.8 L1589.0,644.1 L1590.0,641.9 L1591.0,643.2 L1592.0,644.6 L1593.0,645.8 L1594.0,647.0 L1595.0,648.4 L1596.0,649.7 L1597.0,651.0 L1598.0,652.3 L1599.0,653.7 L1600.0,655.0 L1601.0,656.2 L1602.0,657.1 L1603.0,645.1 L1604.0,632.3 L1605.0,623.9 L1606.0,625.8 L1607.0,627.5 L1608.0,629.2 L1609.0,630.9 L1610.0,632.6 L1611.0,634.4 L1612.0,636.1 L1613.0,637.9 L1614.0,639.7 L1615.0,641.4 L1616.0,637.9 L1617.0,624.0 L1618.0,610.6 L1619.0,610.4 L1620.0,611.9 L1621.0,613.4 L1622.0,615.0 L1623.0,616.6 L1624.0,618.2 L1625.0,619.7 L1626.0,621.3 L1627.0,622.9 L1628.0,624.5 L1629.0,626.1 L1630.0,622.8 L1631.0,609.0 L1632.0,595.6 L1633.0,595.8 L1634.0,597.5 L1635.0,599.3 L1636.0,601.0 L1637.0,602.8 L1638.0,604.7 L1639.0,606.5 L1640.0,608.3 L1641.0,610.1 L1642.0,611.7 L1643.0,609.1 L1644.0,595.2 L1645.0,582.0 L1646.0,582.3 L1647.0,583.8 L1648.0,585.4 L1649.0,587.0 L1650.0,588.6 L1651.0,590.2 L1652.0,591.8 L1653.0,593.2 L1654.0,594.7 L1655.0,596.2 L1656.0,597.8 L1657.0,587.1 L1658.0,574.0 L1659.0,567.3 L1660.0,569.1 L1661.0,570.8 L1662.0,572.4 L1663.0,573.9 L1664.0,575.5 L1665.0,577.0 L1666.0,578.4 L1667.0,579.9 L1668.0,581.4 L1669.0,583.0 L1670.0,573.0 L1671.0,560.3 L1672.0,554.3 L1673.0,556.0 L1674.0,557.5 L1675.0,559.0 L1676.0,560.6 L1677.0,562.0 L1678.0,563.5 L1679.0,564.9 L1680.0,566.2 L1681.0,567.4 L1682.0,565.5 L1683.0,553.1 L1684.0,541.6 L1685.0,542.1 L1686.0,543.3 L1687.0,544.4 L1688.0,545.6 L1689.0,546.7 L1690.0,547.8 L1691.0,548.9 L1692.0,549.9 L1693.0,550.9 L1694.0,551.8 L1695.0,549.5 L1696.0,538.2 L1697.0,527.5 L1698.0,527.6 L1699.0,528.5 L1700.0,529.5 L1701.0,530.3 L1702.0,531.2 L1703.0,532.1 L1704.0,532.9 L1705.0,533.7 L1706.0,534.5 L1707.0,535.1 L1708.0,533.1 L1709.0,522.4 L1710.0,512.2 L1711.0,512.2 L1712.0,513.0 L1713.0,513.8 L1714.0,514.7 L1715.0,515.5 L1716.0,516.3 L1717.0,517.2 L1718.0,518.1 L1719.0,519.0 L1720.0,520.0 L1721.0,511.7 L1722.0,500.5 L1723.0,495.3 L1724.0,496.2 L1725.0,497.1 L1726.0,498.0 L1727.0,498.8 L1728.0,499.7 L1729.0,500.6 L1730.0,501.5 L1731.0,502.3 L1732.0,503.2 L1733.0,501.4 L1734.0,489.8 L1735.0,478.8 L1736.0,479.0 L1737.0,479.8 L1738.0,480.7 L1739.0,481.6 L1740.0,482.4 L1741.0,483.3 L1742.0,484.3 L1743.0,485.2 L1744.0,486.2 L1745.0,487.3 L1746.0,478.4 L1747.0,466.4 L1748.0,460.9 L1749.0,461.8 L1750.0,462.8 L1751.0,463.7 L1752.0,464.7 L1753.0,465.7 L1754.0,466.6 L1755.0,467.6 L1756.0,468.5 L1757.0,469.5 L1758.0,467.8 L1759.0,455.2 L1760.0,443.3 L1761.0,443.8 L1762.0,444.8 L1763.0,445.9 L1764.0,447.0 L1765.0,448.1 L1766.0,449.2 L1767.0,450.3 L1768.0,451.4 L1769.0,452.5 L1770.0,451.2 L1771.0,438.0 L1772.0,425.7 L1773.0,426.2 L1774.0,427.3 L1775.0,428.4 L1776.0,429.6 L1777.0,430.7 L1778.0,431.8 L1779.0,433.0 L1780.0,434.1 L1781.0,435.3 L1782.0,433.8 L1783.0,420.2 L1784.0,407.4 L1785.0,408.0 L1786.0,409.2 L1787.0,410.3 L1788.0,411.5 L1789.0,412.7 L1790.0,414.0 L1791.0,415.2 L1792.0,416.5 L1793.0,417.8 L1794.0,416.3 L1795.0,401.9 L1796.0,388.3 L1797.0,389.0 L1798.0,390.3 L1799.0,391.6 L1800.0,392.9 L1801.0,394.3 L1802.0,395.7 L1803.0,397.2 L1804.0,398.6 L1805.0,400.1 L1806.0,398.7 L1807.0,382.8 L1808.0,367.7 L1809.0,368.5 L1810.0,369.9 L1811.0,371.4 L1812.0,373.0 L1813.0,374.7 L1814.0,376.4 L1815.0,378.2 L1816.0,380.1 L1817.0,382.0 L1818.0,380.5 L1819.0,362.3 L1820.0,345.1 L1821.0,346.2 L1822.0,348.1 L1823.0,350.1 L1824.0,352.2 L1825.0,354.3 L1826.0,356.6 L1827.0,359.0 L1828.0,361.3 L1829.0,363.7 L1830.0,362.3 L1831.0,341.9 L1832.0,322.7 L1833.0,324.3 L1834.0,326.8 L1835.0,329.3 L1836.0,332.0 L1837.0,334.7 L1838.0,337.4 L1839.0,340.2 L1840.0,343.0 L1841.0,345.8 L1842.0,344.4 L1843.0,322.9 L1844.0,303.0 L1845.0,305.1 L1846.0,308.1 L1847.0,311.0 L1848.0,314.0 L1849.0,316.9 L1850.0,319.8 L1851.0,322.8 L1852.0,325.7 L1853.0,328.4 L1854.0,327.1 L1855.0,305.8 L1856.0,286.2 L1857.0,288.2 L1858.0,291.0 L1859.0,293.8 L1860.0,296.7 L1861.0,299.5 L1862.0,302.3 L1863.0,305.2 L1864.0,308.1 L1865.0,311.0 L1866.0,309.6 L1867.0,287.4 L1868.0,266.7 L1869.0,268.6 L1870.0,271.5 L1871.0,274.4 L1872.0,277.4 L1873.0,280.4 L1874.0,283.5 L1875.0,286.8 L1876.0,290.0 L1877.0,293.3 L1878.0,291.8 L1879.0,269.2"/>
</g>
<g stroke="#111" stroke-width="5" fill="none" stroke-linecap="butt">
<rect x="254.5" y="48.8" width="1766.7" height="1423.2"/>
<line x1="254.5" y1="1364.0" x2="282.5" y2="1364.0"/>
<line x1="254.5" y1="1144.8" x2="282.5" y2="1144.8"/>
<line x1="254.5" y1="925.6" x2="282.5" y2="925.6"/>
<line x1="254.5" y1="706.4" x2="282.5" y2="706.4"/>
<line x1="254.5" y1="487.2" x2="282.5" y2="487.2"/>
<line x1="254.5" y1="268.0" x2="282.5" y2="268.0"/>
<line x1="254.5" y1="1254.4" x2="268.5" y2="1254.4"/>
<line x1="254.5" y1="1035.2" x2="268.5" y2="1035.2"/>
<line x1="254.5" y1="816.0" x2="268.5" y2="816.0"/>
<line x1="254.5" y1="596.8" x2="268.5" y2="596.8"/>
<line x1="254.5" y1="377.6" x2="268.5" y2="377.6"/>
<line x1="254.5" y1="158.4" x2="268.5" y2="158.4"/>
<line x1="358.4" y1="1472.0" x2="358.4" y2="1444.0"/>
<line x1="566.3" y1="1472.0" x2="566.3" y2="1444.0"/>
<line x1="774.1" y1="1472.0" x2="774.1" y2="1444.0"/>
<line x1="982.0" y1="1472.0" x2="982.0" y2="1444.0"/>
<line x1="1189.8" y1="1472.0" x2="1189.8" y2="1444.0"/>
<line x1="1397.7" y1="1472.0" x2="1397.7" y2="1444.0"/>
<line x1="1605.5" y1="1472.0" x2="1605.5" y2="1444.0"/>
<line x1="1813.4" y1="1472.0" x2="1813.4" y2="1444.0"/>
<line x1="462.3" y1="1472.0" x2="462.3" y2="1458.0"/>
<line x1="670.2" y1="1472.0" x2="670.2" y2="1458.0"/>
<line x1="878.0" y1="1472.0" x2="878.0" y2="1458.0"/>
<line x1="1085.9" y1="1472.0" x2="1085.9" y2="1458.0"/>
<line x1="1293.7" y1="1472.0" x2="1293.7" y2="1458.0"/>
<line x1="1501.6" y1="1472.0" x2="1501.6" y2="1458.0"/>
<line x1="1709.4" y1="1472.0" x2="1709.4" y2="1458.0"/>
<line x1="1917.3" y1="1472.0" x2="1917.3" y2="1458.0"/>
</g>
<g font-family="Liberation Serif, Times New Roman, serif" font-size="64" fill="#111">
<text transform="translate(224.5,1382.5) scale(0.93,1)" text-anchor="end">600</text>
<text transform="translate(224.5,1163.3) scale(0.93,1)" text-anchor="end">700</text>
<text transform="translate(224.5,944.1) scale(0.93,1)" text-anchor="end">800</text>
<text transform="translate(224.5,724.9) scale(0.93,1)" text-anchor="end">900</text>
<text transform="translate(224.5,505.7) scale(0.93,1)" text-anchor="end">1000</text>
<text transform="translate(224.5,286.5) scale(0.93,1)" text-anchor="end">1100</text>
<text transform="translate(224.5,67.3) scale(0.93,1)" text-anchor="end">1200</text>
<text transform="translate(358.4,1550.5) scale(0.945,1)" text-anchor="middle">30</text>
<text transform="translate(566.3,1550.5) scale(0.945,1)" text-anchor="middle">40</text>
<text transform="translate(774.1,1550.5) scale(0.945,1)" text-anchor="middle">50</text>
<text transform="translate(982.0,1550.5) scale(0.945,1)" text-anchor="middle">60</text>
<text transform="translate(1189.8,1550.5) scale(0.945,1)" text-anchor="middle">70</text>
<text transform="translate(1397.7,1550.5) scale(0.945,1)" text-anchor="middle">80</text>
<text transform="translate(1605.5,1550.5) scale(0.945,1)" text-anchor="middle">90</text>
<text transform="translate(1813.4,1550.5) scale(0.945,1)" text-anchor="middle">100</text>
<text transform="translate(2021.2,1550.5) scale(0.945,1)" text-anchor="middle">110</text>
</g>
<g font-family="Liberation Serif, Times New Roman, serif" font-size="75" fill="#111">
<text transform="translate(988.5,1675.5) scale(0.94,1)" font-weight="bold" font-style="italic">Q</text>
<text transform="translate(1055,1675.5) scale(0.94,1)">/</text>
<text transform="translate(1097,1675.5) scale(0.94,1)" font-weight="bold">m</text>
<text transform="translate(1157,1645) scale(0.94,1)" font-weight="bold" font-size="48">3</text>
<text transform="translate(1187,1675.5) scale(0.94,1)">·</text>
<text transform="translate(1208.5,1675.5) scale(0.94,1)" font-weight="bold">h</text>
<text transform="translate(1248,1645) scale(0.94,1)" font-weight="bold" font-size="48">-1</text>
<text transform="translate(72,871) rotate(-90)"><tspan font-weight="bold" font-style="italic">p</tspan> / <tspan font-weight="bold">kPa</tspan></text>
</g>
<g font-family="Liberation Serif, Times New Roman, serif" font-size="63" font-weight="bold" fill="#111">
<line x1="1678" y1="856.0" x2="1820" y2="856.0" stroke="#505050" stroke-width="5.5"/>
<text transform="translate(1833,876.5) scale(0.93,1)">P1</text>
<line x1="1678" y1="932.5" x2="1820" y2="932.5" stroke="#d64b55" stroke-width="5.5"/>
<text transform="translate(1833,953.0) scale(0.93,1)">P2</text>
<line x1="1678" y1="1009.0" x2="1820" y2="1009.0" stroke="#2f68bc" stroke-width="5.5"/>
<text transform="translate(1833,1029.5) scale(0.93,1)">P3</text>
<line x1="1678" y1="1085.5" x2="1820" y2="1085.5" stroke="#3fab77" stroke-width="5.5"/>
<text transform="translate(1833,1106.0) scale(0.93,1)">P4</text>
<line x1="1678" y1="1162.0" x2="1820" y2="1162.0" stroke="#a87be2" stroke-width="5.5"/>
<text transform="translate(1833,1182.5) scale(0.93,1)">P5</text>
<line x1="1678" y1="1238.5" x2="1820" y2="1238.5" stroke="#cc9a33" stroke-width="5.5"/>
<text transform="translate(1833,1259.0) scale(0.93,1)">P6</text>
<line x1="1678" y1="1315.0" x2="1820" y2="1315.0" stroke="#2cbcc4" stroke-width="5.5"/>
<text transform="translate(1833,1335.5) scale(0.93,1)">P7</text>
<line x1="1678" y1="1391.5" x2="1820" y2="1391.5" stroke="#864c5a" stroke-width="5.5"/>
<text transform="translate(1833,1412.0) scale(0.93,1)">P8</text>
</g>
<defs><clipPath id="c1"><rect x="376" y="671" width="232" height="369.5"/></clipPath><clipPath id="c2"><rect x="880.5" y="462" width="243.5" height="420"/></clipPath><clipPath id="c3"><rect x="1352" y="172" width="242" height="425.5"/></clipPath></defs>
<g fill="#fff" stroke="#333" stroke-width="3.2">
<rect x="374.5" y="669.5" width="235" height="372.5"/>
<rect x="879" y="460.5" width="246.5" height="423"/>
<rect x="1350.5" y="170.5" width="245" height="428.5"/>
</g>
<g fill="none" stroke-width="2.4" stroke-linejoin="round" clip-path="url(#c1)">
<path stroke="#505050" d="M420.0,935.0 L420.4,944.8 L421.0,959.3 L421.8,975.9 L422.5,992.4 L423.3,1006.2 L424.0,1015.0 L424.6,1019.0 L425.3,1020.2 L425.9,1018.8 L426.5,1014.8 L427.2,1008.5 L428.0,1000.0 L428.9,988.3 L429.9,973.0 L430.9,955.3 L431.9,936.5 L433.0,917.7 L434.0,900.0 L435.0,882.7 L436.0,864.6 L437.0,846.6 L438.0,829.3 L439.0,813.5 L440.0,800.0 L441.0,788.9 L442.1,779.5 L443.1,771.7 L444.1,765.1 L445.1,759.7 L446.0,755.0 L446.8,751.4 L447.4,749.1 L448.0,747.9 L448.6,747.5 L449.2,747.6 L450.0,748.0 L450.8,748.6 L451.7,749.7 L452.7,751.4 L453.7,753.6 L454.8,756.4 L456.0,760.0 L457.3,764.7 L458.9,770.5 L460.4,777.0 L462.0,783.6 L463.6,789.8 L465.0,795.0 L466.3,799.4 L467.5,803.3 L468.7,806.8 L469.8,809.9 L470.9,812.7 L472.0,815.0 L473.0,817.0 L474.0,818.6 L474.9,819.8 L475.9,820.6 L476.9,821.0 L478.0,821.0 L479.2,820.4 L480.5,819.3 L481.8,817.8 L483.2,816.0 L484.6,814.0 L486.0,812.0 L487.4,809.8 L488.9,807.4 L490.4,804.8 L491.9,802.1 L493.4,799.5 L495.0,797.0 L496.6,794.5 L498.2,791.9 L499.8,789.3 L501.5,786.9 L503.2,784.7 L505.0,783.0 L506.9,781.6 L508.8,780.6 L510.8,779.8 L512.9,779.2 L514.9,779.0 L517.0,779.0 L519.1,779.4 L521.3,780.3 L523.4,781.5 L525.6,782.8 L527.8,784.0 L530.0,785.0 L532.2,785.9 L534.5,786.8 L536.8,787.7 L539.0,788.4 L541.1,788.9 L543.0,789.0 L544.7,788.7 L546.3,787.9 L547.8,786.9 L549.2,785.8 L550.6,784.8 L552.0,784.0 L553.4,783.4 L554.7,782.9 L555.9,782.5 L557.2,782.2 L558.6,782.0 L560.0,782.0 L561.6,782.2 L563.2,782.6 L564.9,783.1 L566.7,783.7 L568.4,784.4 L570.0,785.0 L571.6,785.5 L573.1,786.0 L574.7,786.5 L576.2,787.1 L577.6,787.9 L579.0,789.0 L580.3,790.2 L581.6,791.4 L582.8,792.9 L583.9,794.7 L585.0,797.0 L586.0,800.0 L587.0,803.8 L587.9,808.4 L588.7,813.5 L589.5,818.9 L590.2,824.5 L591.0,830.0 L591.7,835.6 L592.4,841.6 L593.1,847.6 L593.7,853.7 L594.3,859.5 L595.0,865.0 L595.7,870.3 L596.3,875.7 L596.9,880.9 L597.6,885.7 L598.3,889.8 L599.0,893.0 L599.8,895.1 L600.6,896.2 L601.4,896.7 L602.3,896.8 L603.2,896.8 L604.0,897.0 L604.9,897.4 L605.9,897.6 L606.8,897.8 L607.7,897.9 L608.5,897.9 L609.0,898.0"/>
<path stroke="#d64b55" d="M420.0,945.0 L420.4,953.0 L421.0,964.8 L421.8,978.4 L422.5,991.9 L423.3,1003.0 L424.0,1010.0 L424.6,1013.1 L425.3,1013.9 L425.9,1012.5 L426.5,1008.9 L427.2,1003.1 L428.0,995.0 L428.9,983.6 L429.9,968.7 L430.9,951.6 L431.9,933.5 L433.0,915.9 L434.0,900.0 L435.0,885.1 L436.0,870.0 L437.0,855.3 L438.0,841.7 L439.0,829.7 L440.0,820.0 L441.0,813.0 L442.1,808.1 L443.1,805.0 L444.1,803.0 L445.1,801.5 L446.0,800.0 L446.7,798.5 L447.3,797.4 L447.9,796.9 L448.4,797.0 L449.1,798.0 L450.0,800.0 L451.1,803.2 L452.4,807.6 L453.8,812.8 L455.2,818.5 L456.6,824.4 L458.0,830.0 L459.3,835.7 L460.6,841.7 L461.9,847.8 L463.3,853.9 L464.6,859.7 L466.0,865.0 L467.5,869.8 L469.0,874.3 L470.6,878.4 L472.1,882.4 L473.6,886.2 L475.0,890.0 L476.3,893.8 L477.6,897.5 L478.8,901.1 L479.9,904.5 L481.0,907.5 L482.0,910.0 L482.9,912.1 L483.8,914.0 L484.6,915.5 L485.3,916.6 L486.1,917.1 L487.0,917.0 L487.9,916.3 L488.9,914.9 L489.9,913.0 L490.9,910.7 L491.9,908.0 L493.0,905.0 L494.1,901.5 L495.3,897.4 L496.4,893.0 L497.6,888.4 L498.8,884.0 L500.0,880.0 L501.2,876.3 L502.3,872.7 L503.4,869.3 L504.6,866.0 L505.8,862.9 L507.0,860.0 L508.2,857.3 L509.5,854.9 L510.8,852.6 L512.1,850.4 L513.5,848.3 L515.0,846.0 L516.6,843.6 L518.3,841.2 L520.1,838.8 L522.0,836.4 L524.0,834.1 L526.0,832.0 L528.2,830.1 L530.4,828.3 L532.8,826.6 L535.2,825.0 L537.6,823.4 L540.0,822.0 L542.3,820.6 L544.4,819.2 L546.6,817.9 L548.8,816.7 L551.3,815.7 L554.0,815.0 L556.9,814.6 L560.0,814.5 L563.2,814.6 L566.8,814.7 L570.7,814.9 L575.0,815.0 L580.3,815.0 L586.6,815.0 L593.3,815.0 L599.7,815.0 L605.2,815.0 L609.0,815.0"/>
<path stroke="#2f68bc" d="M420.0,950.0 L420.4,957.6 L421.0,968.8 L421.8,981.8 L422.5,994.5 L423.3,1005.2 L424.0,1012.0 L424.6,1015.3 L425.3,1016.7 L425.9,1016.1 L426.5,1013.3 L427.2,1007.9 L428.0,1000.0 L428.9,988.3 L429.9,972.8 L430.9,954.9 L431.9,935.9 L433.0,917.1 L434.0,900.0 L435.0,883.7 L436.0,866.9 L437.0,850.3 L438.0,834.8 L439.0,821.1 L440.0,810.0 L441.0,801.8 L442.1,796.0 L443.1,792.0 L444.1,789.2 L445.1,787.1 L446.0,785.0 L446.7,783.1 L447.3,781.7 L447.9,781.1 L448.4,781.0 L449.1,781.7 L450.0,783.0 L451.1,785.1 L452.4,788.1 L453.8,791.7 L455.2,795.8 L456.6,800.3 L458.0,805.0 L459.4,810.3 L460.7,816.3 L462.1,822.6 L463.5,829.0 L464.8,834.9 L466.0,840.0 L467.1,844.3 L468.1,848.1 L469.1,851.6 L470.1,854.6 L471.0,857.4 L472.0,860.0 L473.0,862.5 L473.9,864.8 L474.9,866.9 L475.9,868.5 L476.9,869.6 L478.0,870.0 L479.2,869.5 L480.5,868.3 L481.8,866.6 L483.2,864.4 L484.6,862.2 L486.0,860.0 L487.4,857.7 L488.9,855.2 L490.4,852.5 L491.9,849.8 L493.4,847.3 L495.0,845.0 L496.6,842.9 L498.4,840.9 L500.1,839.0 L501.9,837.3 L503.5,836.0 L505.0,835.0 L506.3,834.4 L507.5,834.0 L508.6,834.0 L509.7,834.3 L510.8,835.0 L512.0,836.0 L513.3,837.6 L514.6,839.7 L516.0,842.2 L517.4,844.9 L518.7,847.6 L520.0,850.0 L521.2,852.3 L522.4,854.6 L523.6,856.9 L524.8,859.1 L525.9,861.2 L527.0,863.0 L528.0,864.6 L529.0,866.2 L530.0,867.6 L531.0,868.7 L532.0,869.5 L533.0,870.0 L534.1,870.0 L535.2,869.6 L536.4,868.9 L537.6,868.0 L538.8,867.0 L540.0,866.0 L541.3,864.9 L542.6,863.6 L543.9,862.2 L545.3,860.8 L546.7,859.4 L548.0,858.0 L549.3,856.7 L550.6,855.4 L551.9,854.1 L553.3,852.8 L554.6,851.4 L556.0,850.0 L557.4,848.4 L558.9,846.8 L560.4,845.1 L561.9,843.4 L563.4,841.7 L565.0,840.0 L566.6,838.3 L568.1,836.5 L569.6,834.8 L571.3,833.0 L573.0,831.4 L575.0,830.0 L577.2,828.7 L579.5,827.6 L581.9,826.6 L584.5,825.7 L587.2,824.8 L590.0,824.0 L593.2,823.2 L596.7,822.4 L600.4,821.6 L603.9,821.0 L606.9,820.4 L609.0,820.0"/>
<path stroke="#3fab77" d="M420.0,940.0 L420.4,949.2 L421.0,962.8 L421.8,978.4 L422.5,993.9 L423.3,1006.8 L424.0,1015.0 L424.6,1018.8 L425.3,1020.2 L425.9,1019.1 L426.5,1015.4 L427.2,1009.0 L428.0,1000.0 L428.9,986.9 L429.9,969.6 L430.9,949.7 L431.9,928.7 L433.0,908.3 L434.0,890.0 L435.0,873.1 L436.0,856.0 L437.0,839.5 L438.0,824.2 L439.0,810.8 L440.0,800.0 L441.0,792.2 L442.1,786.9 L443.1,783.5 L444.1,781.3 L445.1,779.7 L446.0,778.0 L446.7,776.2 L447.3,774.9 L447.9,774.1 L448.4,774.0 L449.1,774.6 L450.0,776.0 L451.1,778.4 L452.4,781.7 L453.8,785.7 L455.2,790.2 L456.6,795.1 L458.0,800.0 L459.4,805.4 L460.7,811.4 L462.1,817.8 L463.5,824.0 L464.8,829.9 L466.0,835.0 L467.1,839.4 L468.1,843.4 L469.1,847.0 L470.1,850.1 L471.0,852.8 L472.0,855.0 L473.0,856.7 L473.9,858.0 L474.9,858.9 L475.9,859.2 L476.9,858.9 L478.0,858.0 L479.2,856.2 L480.5,853.6 L481.8,850.4 L483.2,846.9 L484.6,843.4 L486.0,840.0 L487.5,836.7 L489.0,833.2 L490.5,829.7 L492.0,826.2 L493.5,823.0 L495.0,820.0 L496.4,817.3 L497.7,814.6 L499.0,812.2 L500.3,810.0 L501.6,808.3 L503.0,807.0 L504.4,806.3 L505.9,806.1 L507.4,806.2 L508.9,806.7 L510.4,807.3 L512.0,808.0 L513.5,808.7 L515.0,809.4 L516.4,810.4 L518.0,811.6 L519.9,813.1 L522.0,815.0 L524.6,817.4 L527.6,820.4 L530.9,823.6 L534.1,827.1 L537.3,830.6 L540.0,834.0 L542.4,837.5 L544.6,841.1 L546.6,844.9 L548.5,848.5 L550.3,851.9 L552.0,855.0 L553.6,857.7 L555.0,860.3 L556.2,862.6 L557.5,864.6 L558.7,866.4 L560.0,868.0 L561.3,869.3 L562.6,870.2 L563.9,870.9 L565.2,871.4 L566.6,871.8 L568.0,872.0 L569.6,872.1 L571.2,872.0 L572.9,871.8 L574.7,871.3 L576.4,870.8 L578.0,870.0 L579.6,869.0 L581.1,867.7 L582.6,866.2 L584.0,864.7 L585.5,863.3 L587.0,862.0 L588.5,860.9 L589.9,859.8 L591.2,858.8 L592.7,857.8 L594.3,856.9 L596.0,856.0 L598.1,855.2 L600.5,854.4 L603.1,853.6 L605.5,853.0 L607.5,852.4 L609.0,852.0"/>
<path stroke="#a87be2" d="M420.0,955.0 L420.4,961.5 L421.0,971.2 L421.8,982.3 L422.5,993.3 L423.3,1002.4 L424.0,1008.0 L424.6,1010.6 L425.3,1011.6 L425.9,1010.8 L426.5,1007.9 L427.2,1002.7 L428.0,995.0 L428.9,983.5 L429.9,968.1 L430.9,950.4 L431.9,932.1 L433.0,914.8 L434.0,900.0 L435.0,887.5 L436.0,875.9 L437.0,865.2 L438.0,855.6 L439.0,847.2 L440.0,840.0 L441.0,834.4 L442.1,830.3 L443.1,827.4 L444.1,825.3 L445.1,823.6 L446.0,822.0 L446.7,820.4 L447.3,819.0 L447.9,818.1 L448.4,817.7 L449.1,817.9 L450.0,819.0 L451.1,821.1 L452.4,824.3 L453.8,828.1 L455.2,832.2 L456.6,836.3 L458.0,840.0 L459.3,843.4 L460.7,846.8 L462.1,850.2 L463.4,853.5 L464.7,856.8 L466.0,860.0 L467.2,863.3 L468.5,866.7 L469.7,870.1 L470.9,873.2 L472.0,875.9 L473.0,878.0 L473.9,879.6 L474.7,880.8 L475.4,881.6 L476.2,882.0 L477.0,881.8 L478.0,881.0 L479.2,879.4 L480.4,877.0 L481.8,874.1 L483.2,871.0 L484.6,867.8 L486.0,865.0 L487.3,862.3 L488.7,859.6 L490.0,856.9 L491.3,854.4 L492.7,852.0 L494.0,850.0 L495.3,848.3 L496.7,846.9 L498.0,845.8 L499.3,844.7 L500.7,843.8 L502.0,843.0 L503.3,842.3 L504.6,841.7 L505.9,841.3 L507.3,840.9 L508.6,840.5 L510.0,840.0 L511.4,839.4 L512.9,838.7 L514.3,838.0 L515.8,837.3 L517.4,836.6 L519.0,836.0 L520.7,835.4 L522.6,834.9 L524.4,834.4 L526.3,834.0 L528.2,833.5 L530.0,833.0 L531.7,832.5 L533.2,832.0 L534.8,831.4 L536.3,830.9 L538.1,830.4 L540.0,830.0 L542.2,829.6 L544.4,829.3 L546.9,828.9 L549.4,828.6 L552.2,828.3 L555.0,828.0 L558.2,827.6 L561.7,827.0 L565.3,826.4 L568.9,826.0 L572.2,825.8 L575.0,826.0 L577.2,826.5 L579.0,827.3 L580.6,828.4 L582.0,829.7 L583.4,831.2 L585.0,833.0 L586.8,835.3 L588.5,838.2 L590.3,841.4 L592.1,844.4 L594.0,847.1 L596.0,849.0 L598.2,850.0 L600.7,850.5 L603.2,850.5 L605.6,850.3 L607.6,850.1 L609.0,850.0"/>
<path stroke="#cc9a33" d="M420.0,925.0 L420.4,934.1 L421.0,947.6 L421.8,963.1 L422.5,978.5 L423.3,991.6 L424.0,1000.0 L424.6,1004.3 L425.3,1006.3 L425.9,1005.9 L426.5,1003.1 L427.2,997.9 L428.0,990.0 L428.9,978.3 L429.9,962.4 L430.9,944.1 L431.9,924.8 L433.0,906.3 L434.0,890.0 L435.0,875.5 L436.0,861.3 L437.0,847.8 L438.0,835.4 L439.0,824.3 L440.0,815.0 L441.0,807.7 L442.1,802.1 L443.1,797.9 L444.1,794.8 L445.1,792.3 L446.0,790.0 L446.7,788.1 L447.3,786.7 L447.9,786.1 L448.4,786.0 L449.1,786.7 L450.0,788.0 L451.1,790.1 L452.4,793.1 L453.8,796.7 L455.2,800.8 L456.6,805.3 L458.0,810.0 L459.4,815.3 L460.7,821.4 L462.1,827.8 L463.5,834.2 L464.8,840.1 L466.0,845.0 L467.1,849.0 L468.2,852.4 L469.2,855.4 L470.2,857.9 L471.1,860.1 L472.0,862.0 L472.7,863.7 L473.3,865.0 L473.9,866.0 L474.4,866.7 L475.1,867.0 L476.0,867.0 L477.1,866.5 L478.4,865.6 L479.8,864.2 L481.3,862.8 L482.7,861.3 L484.0,860.0 L485.2,858.9 L486.3,857.8 L487.4,856.7 L488.6,855.6 L489.7,854.3 L491.0,853.0 L492.3,851.5 L493.7,849.9 L495.2,848.2 L496.7,846.5 L498.3,844.8 L500.0,843.0 L501.8,841.1 L503.7,839.1 L505.7,837.1 L507.7,835.1 L509.8,833.4 L512.0,832.0 L514.2,831.0 L516.5,830.2 L518.9,829.6 L521.3,829.3 L523.6,829.1 L526.0,829.0 L528.3,829.2 L530.6,829.7 L532.9,830.4 L535.3,831.1 L537.6,831.7 L540.0,832.0 L542.4,831.9 L544.7,831.7 L547.1,831.2 L549.6,830.8 L552.2,830.3 L555.0,830.0 L557.9,829.8 L560.8,829.7 L563.8,829.6 L567.1,829.4 L570.8,829.3 L575.0,829.0 L580.2,828.6 L586.6,828.0 L593.2,827.4 L599.7,826.9 L605.1,826.3 L609.0,826.0"/>
<path stroke="#2cbcc4" d="M420.0,948.0 L420.4,955.9 L421.0,967.5 L421.8,980.9 L422.5,994.1 L423.3,1005.1 L424.0,1012.0 L424.6,1015.3 L425.3,1016.6 L425.9,1015.8 L426.5,1012.5 L427.2,1006.7 L428.0,998.0 L428.9,985.1 L429.9,967.9 L430.9,948.1 L431.9,927.4 L433.0,907.5 L434.0,890.0 L435.0,874.3 L436.0,858.9 L437.0,844.2 L438.0,830.8 L439.0,819.2 L440.0,810.0 L441.0,803.5 L442.1,799.6 L443.1,797.4 L444.1,796.3 L445.1,795.8 L446.0,795.0 L446.7,794.2 L447.3,793.9 L447.9,794.1 L448.4,794.7 L449.1,795.7 L450.0,797.0 L451.1,798.8 L452.4,801.1 L453.8,803.8 L455.2,806.6 L456.6,809.4 L458.0,812.0 L459.3,814.5 L460.6,817.0 L461.9,819.6 L463.3,822.0 L464.6,824.1 L466.0,826.0 L467.4,827.6 L468.9,829.1 L470.4,830.3 L471.9,831.3 L473.4,831.8 L475.0,832.0 L476.6,831.7 L478.3,830.9 L479.9,829.7 L481.6,828.3 L483.3,826.7 L485.0,825.0 L486.7,823.1 L488.4,820.8 L490.1,818.4 L491.8,816.0 L493.4,813.8 L495.0,812.0 L496.4,810.6 L497.8,809.4 L499.1,808.4 L500.3,807.6 L501.6,807.2 L503.0,807.0 L504.4,807.2 L505.7,807.7 L507.1,808.5 L508.6,809.5 L510.2,810.7 L512.0,812.0 L514.0,813.5 L516.3,815.4 L518.7,817.4 L521.1,819.5 L523.6,821.4 L526.0,823.0 L528.4,824.4 L530.7,825.9 L533.1,827.1 L535.5,828.1 L537.8,828.8 L540.0,829.0 L542.1,828.6 L544.1,827.7 L546.1,826.5 L548.0,825.0 L550.0,823.5 L552.0,822.0 L554.1,820.5 L556.2,819.0 L558.3,817.3 L560.5,815.6 L562.7,813.8 L565.0,812.0 L567.4,810.1 L569.9,808.0 L572.4,805.8 L574.9,803.7 L577.5,801.7 L580.0,800.0 L582.5,798.5 L585.0,797.1 L587.6,795.9 L590.1,794.9 L592.6,793.9 L595.0,793.0 L597.6,792.2 L600.3,791.6 L602.9,791.1 L605.4,790.6 L607.5,790.3 L609.0,790.0"/>
<path stroke="#864c5a" d="M420.0,940.0 L420.4,948.6 L421.0,961.3 L421.8,975.9 L422.5,990.4 L423.3,1002.4 L424.0,1010.0 L424.6,1013.6 L425.3,1015.0 L425.9,1014.1 L426.5,1010.6 L427.2,1004.3 L428.0,995.0 L428.9,981.4 L429.9,963.5 L430.9,942.8 L431.9,920.9 L433.0,899.5 L434.0,880.0 L435.0,861.6 L436.0,842.7 L437.0,824.2 L438.0,807.0 L439.0,792.0 L440.0,780.0 L441.0,771.6 L442.1,766.1 L443.1,762.9 L444.1,761.0 L445.1,759.6 L446.0,758.0 L446.7,756.3 L447.3,755.1 L447.9,754.4 L448.4,754.4 L449.1,754.9 L450.0,756.0 L451.1,757.9 L452.4,760.6 L453.8,763.8 L455.2,767.4 L456.6,771.2 L458.0,775.0 L459.4,778.9 L460.7,783.3 L462.1,787.8 L463.5,792.2 L464.8,796.3 L466.0,800.0 L467.1,803.2 L468.1,806.2 L469.1,808.9 L470.1,811.3 L471.0,813.4 L472.0,815.0 L473.0,816.2 L473.9,817.0 L474.9,817.5 L475.9,817.6 L476.9,817.5 L478.0,817.0 L479.2,816.2 L480.5,814.9 L481.8,813.3 L483.2,811.6 L484.6,809.7 L486.0,808.0 L487.4,806.3 L488.8,804.4 L490.2,802.5 L491.7,800.6 L493.3,798.7 L495.0,797.0 L496.9,795.2 L499.0,793.2 L501.2,791.2 L503.4,789.6 L505.7,788.4 L508.0,788.0 L510.3,788.5 L512.6,789.7 L514.9,791.4 L517.2,793.4 L519.6,795.3 L522.0,797.0 L524.5,798.5 L527.1,800.2 L529.7,801.9 L532.3,803.3 L534.7,804.4 L537.0,805.0 L539.1,804.9 L541.0,804.2 L542.8,803.1 L544.6,801.9 L546.3,800.8 L548.0,800.0 L549.7,799.4 L551.5,799.0 L553.2,798.6 L554.9,798.3 L556.5,798.1 L558.0,798.0 L559.5,798.1 L560.9,798.4 L562.2,798.8 L563.5,799.3 L564.7,799.7 L566.0,800.0 L567.2,800.3 L568.2,800.6 L569.2,800.8 L570.3,801.0 L571.6,801.1 L573.0,801.0 L574.7,800.7 L576.7,800.3 L578.8,799.8 L580.9,799.1 L583.0,798.5 L585.0,798.0 L586.9,797.5 L588.7,797.0 L590.4,796.4 L592.2,795.9 L594.1,795.4 L596.0,795.0 L598.2,794.6 L600.7,794.2 L603.2,793.8 L605.6,793.5 L607.6,793.2 L609.0,793.0"/>
</g>
<g fill="none" stroke-width="2.4" stroke-linejoin="round" clip-path="url(#c2)">
<path stroke="#505050" d="M880.0,792.0 L880.9,803.4 L882.4,819.1 L884.5,830.7 L887.5,834.0 L891.2,833.3 L895.0,832.8 L898.7,835.5 L902.5,838.4 L906.0,837.0 L909.2,829.4 L912.1,817.4 L914.7,802.6 L916.8,782.2 L918.6,758.8 L921.0,742.0 L924.4,736.6 L928.3,737.7 L932.0,740.0 L935.3,740.8 L938.2,742.8 L940.5,748.7 L941.4,761.7 L941.6,778.5 L942.7,792.0 L945.7,798.7 L949.6,802.0 L953.5,804.8 L957.2,808.5 L960.8,811.7 L964.0,813.4 L966.5,816.1 L968.6,817.3 L970.7,809.0 L972.6,781.9 L974.4,745.3 L977.0,718.5 L981.1,710.8 L986.0,712.9 L990.0,716.4 L992.5,718.2 L994.1,721.4 L995.5,727.0 L996.5,736.6 L997.2,748.7 L998.7,759.5 L1001.6,768.1 L1005.2,775.5 L1008.6,781.0 L1011.5,784.5 L1014.2,786.0 L1017.0,785.4 L1020.1,784.4 L1023.2,781.3 L1026.0,770.3 L1028.2,743.5 L1030.1,708.8 L1032.3,684.0 L1035.1,677.9 L1038.2,681.6 L1041.0,686.2 L1043.4,687.8 L1045.5,690.4 L1047.4,697.0 L1048.8,711.5 L1050.0,730.1 L1051.7,744.4 L1054.3,750.0 L1057.3,751.2 L1060.4,753.0 L1063.4,758.0 L1066.3,763.4 L1069.0,766.0 L1071.3,766.5 L1073.4,764.0 L1075.5,753.0 L1077.6,725.5 L1079.7,689.3 L1082.0,662.5 L1084.8,653.5 L1087.8,653.8 L1090.6,656.0 L1093.0,657.0 L1095.1,660.0 L1097.0,666.8 L1098.4,680.6 L1099.6,698.2 L1101.3,712.0 L1103.8,718.4 L1106.8,720.9 L1110.0,722.9 L1113.7,725.6 L1117.6,727.7 L1120.7,729.0 L1122.5,728.9 L1123.4,727.8 L1124.0,727.0"/>
<path stroke="#d64b55" d="M880.0,807.0 L882.7,807.3 L886.6,807.8 L891.0,809.0 L895.7,812.0 L900.9,815.7 L906.0,817.7 L911.1,817.9 L916.3,816.3 L921.0,811.0 L925.2,799.0 L929.0,783.2 L932.0,770.0 L933.8,761.0 L934.7,754.6 L936.0,753.0 L937.9,759.3 L940.1,770.4 L942.7,779.0 L945.8,781.9 L949.4,782.3 L953.5,783.0 L958.4,785.8 L963.7,788.8 L968.5,789.7 L972.3,788.1 L975.6,784.2 L979.0,776.8 L982.9,762.5 L986.8,744.6 L990.0,731.5 L992.0,726.7 L993.2,726.6 L994.4,729.0 L995.7,734.3 L997.0,742.2 L998.7,748.7 L1001.3,752.4 L1004.3,754.9 L1007.0,757.0 L1008.9,758.9 L1010.6,760.5 L1013.0,761.7 L1016.8,763.9 L1021.4,765.7 L1026.0,763.8 L1030.5,755.7 L1035.0,743.7 L1038.8,731.5 L1041.4,717.6 L1043.4,703.5 L1045.3,697.0 L1047.2,704.4 L1049.1,719.4 L1051.7,731.5 L1055.6,736.6 L1060.3,738.9 L1064.7,740.0 L1068.5,740.6 L1072.0,740.0 L1075.5,738.0 L1079.2,735.0 L1082.8,730.5 L1086.0,722.9 L1088.5,708.8 L1090.6,691.6 L1092.7,679.7 L1094.6,677.0 L1096.4,679.5 L1099.0,684.0 L1102.9,690.6 L1107.5,699.0 L1112.0,705.6 L1116.5,708.5 L1120.9,709.5 L1124.0,710.0"/>
<path stroke="#2f68bc" d="M880.0,802.6 L882.2,795.4 L885.4,785.4 L888.8,776.8 L892.1,770.8 L895.6,766.2 L899.6,763.8 L904.6,764.4 L910.0,767.1 L914.7,770.3 L917.7,774.0 L920.0,778.1 L923.0,781.0 L927.7,782.6 L933.0,783.0 L938.0,781.0 L942.0,775.3 L945.5,767.2 L949.0,759.5 L952.7,752.4 L956.4,745.7 L960.0,742.0 L963.4,743.1 L966.8,747.1 L970.7,751.0 L975.5,754.3 L980.8,757.5 L985.8,759.5 L990.5,760.5 L995.0,760.3 L998.7,757.0 L1001.3,748.6 L1003.2,737.1 L1005.0,727.0 L1006.8,719.5 L1008.5,713.5 L1010.8,710.0 L1014.0,710.2 L1017.7,712.9 L1021.6,716.4 L1025.7,720.6 L1030.0,725.5 L1034.5,729.0 L1039.5,731.6 L1044.8,732.8 L1049.6,729.0 L1053.4,715.4 L1056.8,696.9 L1060.4,684.0 L1064.6,682.2 L1068.9,686.1 L1073.3,690.5 L1077.6,694.3 L1081.9,698.7 L1086.0,701.3 L1089.9,702.1 L1093.6,701.2 L1097.0,697.0 L1100.0,686.8 L1102.7,673.2 L1105.6,662.5 L1109.2,657.2 L1113.0,654.9 L1116.4,653.9 L1119.5,654.5 L1122.1,656.5 L1124.0,658.0"/>
<path stroke="#3fab77" d="M880.0,776.8 L884.2,772.5 L890.1,766.2 L895.0,759.5 L897.6,752.4 L899.3,744.8 L901.7,738.0 L905.6,731.6 L910.1,725.9 L914.7,722.9 L919.1,723.9 L923.5,727.6 L927.6,731.5 L931.4,734.5 L934.9,737.7 L938.0,742.0 L940.5,749.4 L942.5,757.9 L945.0,761.7 L948.3,758.1 L952.1,749.9 L955.6,740.0 L958.4,727.7 L960.9,713.7 L964.0,703.5 L968.1,699.8 L972.6,699.9 L977.0,701.0 L980.8,702.3 L984.4,704.6 L988.0,707.8 L991.7,713.3 L995.3,719.6 L998.7,722.9 L1001.7,721.4 L1004.5,716.8 L1007.0,710.0 L1008.9,699.8 L1010.6,687.5 L1013.0,677.6 L1016.8,671.7 L1021.4,668.2 L1026.0,666.8 L1030.3,667.7 L1034.5,670.9 L1038.8,675.4 L1043.2,683.2 L1047.6,692.4 L1051.7,697.0 L1055.4,694.2 L1058.8,686.9 L1062.5,677.6 L1066.6,665.0 L1070.9,650.5 L1075.5,641.0 L1080.5,640.2 L1085.8,644.5 L1090.6,649.5 L1094.5,655.2 L1097.9,661.6 L1101.3,664.6 L1104.8,663.2 L1108.3,658.4 L1112.0,649.5 L1116.3,633.1 L1120.8,612.6 L1124.0,597.8"/>
<path stroke="#a87be2" d="M880.0,727.0 L882.8,727.6 L886.8,728.4 L891.0,729.0 L895.3,730.0 L899.8,730.8 L904.0,729.0 L907.8,722.6 L911.4,713.7 L914.7,705.6 L917.4,699.2 L919.8,693.8 L923.0,690.5 L927.6,690.4 L932.9,692.5 L938.0,695.0 L942.5,697.9 L946.7,701.3 L951.0,703.5 L955.4,704.2 L959.8,703.6 L964.0,701.0 L967.9,695.2 L971.6,687.4 L975.0,679.7 L977.8,671.9 L980.3,664.2 L983.6,660.0 L988.4,661.7 L993.9,666.7 L998.7,671.0 L1002.1,673.0 L1004.7,674.2 L1007.0,675.0 L1009.0,676.3 L1010.7,677.2 L1013.0,675.4 L1016.1,669.1 L1019.6,660.2 L1023.7,651.7 L1028.5,643.7 L1033.8,636.2 L1038.8,632.3 L1043.3,634.5 L1047.5,640.3 L1051.7,645.2 L1056.1,648.4 L1060.5,650.6 L1064.7,649.5 L1068.5,643.0 L1072.0,633.1 L1075.5,623.7 L1078.8,615.0 L1082.2,606.8 L1086.0,602.0 L1090.9,602.7 L1096.4,606.8 L1101.3,610.7 L1105.2,613.8 L1108.5,616.7 L1112.0,617.2 L1116.3,613.2 L1120.8,606.7 L1124.0,602.0"/>
<path stroke="#cc9a33" d="M880.0,686.0 L883.9,684.6 L889.4,682.7 L895.0,682.0 L900.1,683.4 L905.3,685.9 L910.0,688.0 L914.0,689.8 L917.5,691.3 L921.0,690.5 L924.9,686.1 L928.7,679.4 L932.0,673.0 L934.0,667.3 L935.5,661.9 L938.0,658.0 L942.5,656.1 L948.0,655.6 L953.5,656.0 L958.8,657.7 L964.0,660.3 L968.5,662.5 L971.7,664.3 L974.2,665.7 L977.0,664.6 L980.5,659.6 L984.3,652.1 L988.0,645.0 L991.7,638.7 L995.3,632.6 L998.7,628.0 L1001.7,625.3 L1004.5,624.0 L1007.0,623.7 L1008.8,624.5 L1010.4,626.3 L1013.0,628.0 L1017.3,630.5 L1022.7,633.0 L1028.0,632.0 L1033.0,624.4 L1038.0,613.3 L1043.0,604.3 L1048.1,599.3 L1053.1,596.5 L1058.0,595.6 L1062.6,597.5 L1066.9,601.4 L1071.0,604.3 L1074.9,605.9 L1078.6,606.5 L1082.0,604.3 L1085.1,597.2 L1087.8,587.2 L1090.6,578.4 L1093.2,571.9 L1095.9,566.7 L1099.0,563.3 L1103.0,562.6 L1107.6,563.8 L1112.0,565.5 L1116.5,567.6 L1120.9,570.2 L1124.0,572.0"/>
<path stroke="#2cbcc4" d="M880.0,677.6 L885.3,662.8 L892.8,642.5 L899.6,628.0 L904.2,624.2 L908.0,626.1 L912.5,630.0 L918.6,637.4 L925.4,646.7 L932.0,649.5 L938.0,639.8 L943.7,623.7 L949.0,610.7 L953.8,604.4 L958.1,601.2 L962.0,600.0 L965.0,601.2 L967.5,604.5 L970.7,607.5 L975.5,609.5 L981.0,611.4 L985.8,613.0 L989.2,616.1 L991.8,619.1 L994.4,617.0 L996.8,605.5 L999.1,589.1 L1002.0,576.0 L1006.0,569.5 L1010.6,566.5 L1015.0,565.5 L1018.8,566.9 L1022.4,570.4 L1026.0,574.0 L1029.6,577.3 L1033.1,580.6 L1036.7,582.7 L1040.2,584.2 L1043.7,584.6 L1047.4,580.6 L1051.7,568.2 L1056.3,551.5 L1060.4,539.6 L1063.5,536.9 L1066.1,538.9 L1069.0,541.7 L1072.4,544.2 L1076.0,547.4 L1079.8,550.4 L1084.0,554.4 L1088.5,558.1 L1092.7,556.8 L1096.5,546.2 L1100.0,530.5 L1103.5,518.0 L1107.1,511.8 L1110.8,508.8 L1114.3,507.2 L1118.0,507.1 L1121.5,508.3 L1124.0,509.4"/>
<path stroke="#864c5a" d="M880.0,679.7 L883.8,674.6 L889.3,667.2 L895.0,660.0 L901.0,652.8 L907.2,645.6 L912.5,641.0 L915.8,640.6 L918.2,642.8 L921.0,645.0 L924.9,646.9 L929.4,648.9 L934.0,649.5 L938.7,648.0 L943.6,645.1 L949.0,641.0 L955.4,634.7 L962.3,627.1 L968.5,621.5 L973.4,619.2 L977.6,618.8 L981.5,619.4 L985.3,621.8 L988.8,625.1 L992.0,626.0 L994.7,622.7 L997.1,616.9 L1000.0,610.7 L1004.1,604.0 L1008.8,596.7 L1013.0,591.0 L1016.1,587.7 L1018.8,585.9 L1021.6,585.0 L1024.8,584.8 L1028.3,585.5 L1032.0,587.0 L1036.2,590.3 L1040.7,594.2 L1045.0,595.6 L1049.0,592.3 L1052.7,586.3 L1056.0,580.6 L1058.3,576.0 L1060.0,571.7 L1062.5,567.6 L1066.3,563.2 L1070.8,559.0 L1075.5,556.8 L1080.5,558.3 L1085.8,561.8 L1090.6,563.3 L1094.4,561.2 L1097.7,557.2 L1101.3,552.5 L1105.6,547.0 L1110.1,540.8 L1114.3,535.3 L1118.1,530.8 L1121.6,527.1 L1124.0,524.5"/>
</g>
<g fill="none" stroke-width="3.2" stroke-linejoin="round" clip-path="url(#c3)">
<path stroke="#505050" d="M1352.0,571.8 L1352.7,556.9 L1353.4,543.8 L1354.1,531.1 L1354.8,516.8 L1355.5,503.1 L1356.2,490.8 L1356.9,476.5 L1357.6,462.5 L1358.3,456.2 L1359.0,459.3 L1359.7,465.8 L1360.4,471.0 L1361.1,475.7 L1361.8,481.2 L1362.5,486.7 L1363.2,491.6 L1363.9,496.8 L1364.6,502.3 L1365.3,507.4 L1366.0,512.2 L1366.7,517.7 L1367.4,522.9 L1368.1,527.7 L1368.8,533.0 L1369.5,538.3 L1370.2,543.2 L1370.9,548.1 L1371.6,553.7 L1372.3,558.6 L1373.0,563.2 L1373.7,568.8 L1374.4,574.6 L1375.1,574.4 L1375.8,564.8 L1376.5,550.4 L1377.2,537.4 L1377.9,525.6 L1378.6,512.4 L1379.3,498.8 L1380.0,486.8 L1380.7,474.5 L1381.4,460.2 L1382.1,448.6 L1382.8,445.0 L1383.5,449.3 L1384.2,455.2 L1384.9,460.0 L1385.6,464.5 L1386.3,469.6 L1387.0,474.8 L1387.7,479.3 L1388.4,484.2 L1389.1,489.3 L1389.8,494.2 L1390.5,498.8 L1391.2,503.9 L1391.9,508.9 L1392.6,513.6 L1393.3,518.3 L1394.0,523.5 L1394.7,528.3 L1395.4,532.9 L1396.1,537.9 L1396.8,543.2 L1397.5,547.5 L1398.2,552.1 L1398.9,557.9 L1399.6,562.5 L1400.3,559.6 L1401.0,548.6 L1401.7,534.2 L1402.4,522.2 L1403.1,510.4 L1403.8,497.5 L1404.5,484.6 L1405.2,472.8 L1405.9,460.7 L1406.6,446.9 L1407.3,435.8 L1408.0,432.9 L1408.7,437.2 L1409.4,443.1 L1410.1,447.6 L1410.8,452.0 L1411.5,457.1 L1412.2,462.1 L1412.9,466.5 L1413.6,471.4 L1414.3,476.4 L1415.0,481.3 L1415.7,485.8 L1416.4,490.8 L1417.1,495.7 L1417.8,500.4 L1418.5,505.2 L1419.2,510.4 L1419.9,515.3 L1420.6,519.9 L1421.3,525.2 L1422.0,530.4 L1422.7,534.7 L1423.4,539.7 L1424.1,546.0 L1424.8,549.2 L1425.5,543.3 L1426.2,529.8 L1426.9,515.6 L1427.6,503.1 L1428.3,490.2 L1429.0,476.2 L1429.7,463.2 L1430.4,450.4 L1431.1,435.9 L1431.8,423.5 L1432.5,420.7 L1433.2,426.0 L1433.9,432.1 L1434.6,436.8 L1435.3,441.9 L1436.0,447.6 L1436.7,452.8 L1437.4,457.8 L1438.1,463.5 L1438.8,468.9 L1439.5,474.1 L1440.2,479.7 L1440.9,485.1 L1441.6,490.3 L1442.3,496.0 L1443.0,501.5 L1443.7,506.8 L1444.4,512.5 L1445.1,518.4 L1445.8,523.3 L1446.5,529.2 L1447.2,535.7 L1447.9,534.2 L1448.6,521.2 L1449.3,505.0 L1450.0,491.3 L1450.7,476.7 L1451.4,461.1 L1452.1,447.5 L1452.8,432.1 L1453.5,415.9 L1454.2,408.9 L1454.9,413.4 L1455.6,420.7 L1456.3,425.9 L1457.0,431.9 L1457.7,438.3 L1458.4,444.0 L1459.1,450.2 L1459.8,456.4 L1460.5,462.2 L1461.2,468.7 L1461.9,474.9 L1462.6,481.0 L1463.3,487.5 L1464.0,493.5 L1464.7,499.7 L1465.4,506.5 L1466.1,512.2 L1466.8,519.4 L1467.5,525.0 L1468.2,517.0 L1468.9,498.3 L1469.6,482.1 L1470.3,464.8 L1471.0,446.6 L1471.7,430.3 L1472.4,410.6 L1473.1,398.8 L1473.8,404.1 L1474.5,412.1 L1475.2,418.7 L1475.9,426.5 L1476.6,433.4 L1477.3,440.9 L1478.0,447.9 L1478.7,455.1 L1479.4,462.6 L1480.1,469.4 L1480.8,476.7 L1481.5,483.4 L1482.2,490.3 L1482.9,497.5 L1483.6,503.5 L1484.3,511.5 L1485.0,514.1 L1485.7,502.0 L1486.4,484.1 L1487.1,469.4 L1487.8,453.4 L1488.5,437.1 L1489.2,422.5 L1489.9,405.9 L1490.6,391.6 L1491.3,389.6 L1492.0,396.4 L1492.7,402.5 L1493.4,407.9 L1494.1,414.1 L1494.8,419.9 L1495.5,425.4 L1496.2,431.5 L1496.9,437.0 L1497.6,442.6 L1498.3,448.7 L1499.0,454.3 L1499.7,460.0 L1500.4,466.1 L1501.1,471.8 L1501.8,477.5 L1502.5,483.9 L1503.2,489.2 L1503.9,495.5 L1504.6,502.2 L1505.3,498.8 L1506.0,483.2 L1506.7,466.7 L1507.4,452.2 L1508.1,435.6 L1508.8,420.2 L1509.5,405.7 L1510.2,387.8 L1510.9,377.6 L1511.6,380.9 L1512.3,388.3 L1513.0,393.8 L1513.7,400.2 L1514.4,406.5 L1515.1,412.4 L1515.8,418.8 L1516.5,425.0 L1517.2,431.1 L1517.9,437.6 L1518.6,443.7 L1519.3,450.1 L1520.0,456.6 L1520.7,462.6 L1521.4,469.2 L1522.1,475.5 L1522.8,481.6 L1523.5,489.3 L1524.2,488.0 L1524.9,472.4 L1525.6,454.7 L1526.3,439.0 L1527.0,421.1 L1527.7,405.1 L1528.4,387.6 L1529.1,370.5 L1529.8,367.3 L1530.5,375.1 L1531.2,381.7 L1531.9,388.3 L1532.6,395.3 L1533.3,401.7 L1534.0,408.9 L1534.7,415.5 L1535.4,422.4 L1536.1,429.5 L1536.8,436.1 L1537.5,443.3 L1538.2,449.9 L1538.9,457.0 L1539.6,463.9 L1540.3,470.6 L1541.0,478.6 L1541.7,474.9 L1542.4,456.6 L1543.1,438.8 L1543.8,421.2 L1544.5,402.5 L1545.2,385.7 L1545.9,366.0 L1546.6,356.1 L1547.3,362.5 L1548.0,370.0 L1548.7,376.8 L1549.4,384.4 L1550.1,391.1 L1550.8,398.8 L1551.5,405.8 L1552.2,413.1 L1552.9,420.5 L1553.6,427.5 L1554.3,435.1 L1555.0,442.1 L1555.7,450.0 L1556.4,456.8 L1557.1,465.4 L1557.8,467.2 L1558.5,449.8 L1559.2,429.8 L1559.9,411.3 L1560.6,391.2 L1561.3,372.6 L1562.0,351.5 L1562.7,347.5 L1563.4,356.6 L1564.1,363.9 L1564.8,372.2 L1565.5,379.8 L1566.2,387.9 L1566.9,395.7 L1567.6,403.7 L1568.3,411.6 L1569.0,419.5 L1569.7,427.3 L1570.4,435.3 L1571.1,443.2 L1571.8,450.8 L1572.5,458.7 L1573.2,448.1 L1573.9,426.9 L1574.6,408.4 L1575.3,387.9 L1576.0,369.3 L1576.7,348.2 L1577.4,336.8 L1578.1,344.0 L1578.8,351.8 L1579.5,359.4 L1580.2,367.2 L1580.9,374.8 L1581.6,382.8 L1582.3,390.2 L1583.0,398.2 L1583.7,405.8 L1584.4,413.9 L1585.1,421.2 L1585.8,429.5 L1586.5,436.7 L1587.2,446.0 L1587.9,445.4 L1588.6,424.6 L1589.3,405.1 L1590.0,384.5 L1590.7,364.9 L1591.4,343.6 L1592.1,327.6 L1592.8,332.9 L1593.5,341.5 L1594.2,349.4 L1594.9,357.6"/>
<path stroke="#d64b55" d="M1352.0,541.4 L1352.7,543.4 L1353.4,545.2 L1354.1,544.1 L1354.8,539.6 L1355.5,533.9 L1356.2,529.1 L1356.9,524.3 L1357.6,519.0 L1358.3,514.0 L1359.0,509.4 L1359.7,503.9 L1360.4,498.6 L1361.1,495.8 L1361.8,496.5 L1362.5,498.6 L1363.2,500.3 L1363.9,501.8 L1364.6,503.6 L1365.3,505.3 L1366.0,506.8 L1366.7,508.5 L1367.4,510.3 L1368.1,511.9 L1368.8,513.5 L1369.5,515.2 L1370.2,516.9 L1370.9,518.4 L1371.6,520.1 L1372.3,521.8 L1373.0,523.4 L1373.7,524.9 L1374.4,526.7 L1375.1,528.4 L1375.8,529.7 L1376.5,531.5 L1377.2,533.5 L1377.9,533.9 L1378.6,530.9 L1379.3,525.7 L1380.0,520.6 L1380.7,516.1 L1381.4,511.3 L1382.1,506.3 L1382.8,501.5 L1383.5,497.0 L1384.2,491.7 L1384.9,486.8 L1385.6,484.4 L1386.3,485.0 L1387.0,487.1 L1387.7,488.7 L1388.4,490.0 L1389.1,491.6 L1389.8,493.4 L1390.5,494.8 L1391.2,496.4 L1391.9,498.0 L1392.6,499.6 L1393.3,501.1 L1394.0,502.7 L1394.7,504.3 L1395.4,505.9 L1396.1,507.3 L1396.8,509.0 L1397.5,510.6 L1398.2,512.1 L1398.9,513.7 L1399.6,515.4 L1400.3,516.9 L1401.0,518.3 L1401.7,520.1 L1402.4,521.9 L1403.1,521.6 L1403.8,518.2 L1404.5,512.8 L1405.2,508.0 L1405.9,503.7 L1406.6,498.9 L1407.3,493.8 L1408.0,489.2 L1408.7,484.8 L1409.4,479.7 L1410.1,474.8 L1410.8,472.3 L1411.5,473.0 L1412.2,474.9 L1412.9,476.6 L1413.6,477.9 L1414.3,479.5 L1415.0,481.2 L1415.7,482.7 L1416.4,484.2 L1417.1,485.9 L1417.8,487.4 L1418.5,488.9 L1419.2,490.5 L1419.9,492.2 L1420.6,493.8 L1421.3,495.4 L1422.0,497.1 L1422.7,498.7 L1423.4,500.2 L1424.1,501.9 L1424.8,503.7 L1425.5,505.2 L1426.2,506.8 L1426.9,508.9 L1427.6,510.1 L1428.3,508.0 L1429.0,502.7 L1429.7,497.3 L1430.4,492.5 L1431.1,487.5 L1431.8,482.0 L1432.5,477.0 L1433.2,472.1 L1433.9,466.3 L1434.6,461.6 L1435.3,460.5 L1436.0,462.4 L1436.7,464.4 L1437.4,466.0 L1438.1,467.7 L1438.8,469.6 L1439.5,471.3 L1440.2,473.1 L1440.9,475.0 L1441.6,476.7 L1442.3,478.5 L1443.0,480.4 L1443.7,482.2 L1444.4,484.0 L1445.1,486.0 L1445.8,487.8 L1446.5,489.6 L1447.2,491.6 L1447.9,493.5 L1448.6,495.2 L1449.3,497.5 L1450.0,499.0 L1450.7,496.6 L1451.4,490.6 L1452.1,484.6 L1452.8,479.3 L1453.5,473.2 L1454.2,467.4 L1454.9,462.0 L1455.6,455.6 L1456.3,450.5 L1457.0,450.2 L1457.7,452.6 L1458.4,454.6 L1459.1,456.5 L1459.8,458.8 L1460.5,460.8 L1461.2,462.8 L1461.9,465.0 L1462.6,467.1 L1463.3,469.2 L1464.0,471.4 L1464.7,473.5 L1465.4,475.7 L1466.1,477.8 L1466.8,479.9 L1467.5,482.4 L1468.2,484.3 L1468.9,486.8 L1469.6,489.1 L1470.3,486.4 L1471.0,479.1 L1471.7,472.6 L1472.4,465.7 L1473.1,458.6 L1473.8,452.0 L1474.5,444.4 L1475.2,440.4 L1475.9,442.6 L1476.6,445.3 L1477.3,447.6 L1478.0,450.3 L1478.7,452.6 L1479.4,455.2 L1480.1,457.6 L1480.8,460.0 L1481.5,462.5 L1482.2,464.8 L1482.9,467.3 L1483.6,469.5 L1484.3,471.8 L1485.0,474.2 L1485.7,476.1 L1486.4,478.6 L1487.1,480.3 L1487.8,477.1 L1488.5,470.4 L1489.2,464.3 L1489.9,458.6 L1490.6,452.3 L1491.3,446.6 L1492.0,440.8 L1492.7,434.3 L1493.4,431.0 L1494.1,432.3 L1494.8,434.7 L1495.5,436.5 L1496.2,438.5 L1496.9,440.6 L1497.6,442.4 L1498.3,444.4 L1499.0,446.4 L1499.7,448.3 L1500.4,450.4 L1501.1,452.4 L1501.8,454.3 L1502.5,456.4 L1503.2,458.4 L1503.9,460.4 L1504.6,462.6 L1505.3,464.6 L1506.0,466.5 L1506.7,469.2 L1507.4,469.4 L1508.1,464.5 L1508.8,457.7 L1509.5,452.0 L1510.2,445.7 L1510.9,439.4 L1511.6,433.7 L1512.3,427.0 L1513.0,421.5 L1513.7,421.2 L1514.4,423.7 L1515.1,425.8 L1515.8,427.9 L1516.5,430.2 L1517.2,432.2 L1517.9,434.4 L1518.6,436.6 L1519.3,438.8 L1520.0,441.0 L1520.7,443.2 L1521.4,445.3 L1522.1,447.7 L1522.8,449.8 L1523.5,452.2 L1524.2,454.4 L1524.9,456.5 L1525.6,459.3 L1526.3,459.2 L1527.0,453.3 L1527.7,446.2 L1528.4,439.9 L1529.1,432.9 L1529.8,426.4 L1530.5,419.6 L1531.2,412.7 L1531.9,411.2 L1532.6,414.0 L1533.3,416.3 L1534.0,418.7 L1534.7,421.2 L1535.4,423.5 L1536.1,426.0 L1536.8,428.4 L1537.5,430.8 L1538.2,433.3 L1538.9,435.6 L1539.6,438.2 L1540.3,440.5 L1541.0,443.1 L1541.7,445.5 L1542.4,448.0 L1543.1,450.7 L1543.8,448.2 L1544.5,440.6 L1545.2,433.7 L1545.9,426.6 L1546.6,419.4 L1547.3,412.5 L1548.0,404.8 L1548.7,402.0 L1549.4,404.8 L1550.1,407.3 L1550.8,409.8 L1551.5,412.5 L1552.2,414.9 L1552.9,417.7 L1553.6,420.1 L1554.3,422.8 L1555.0,425.4 L1555.7,428.0 L1556.4,430.7 L1557.1,433.3 L1557.8,436.1 L1558.5,438.6 L1559.2,441.8 L1559.9,439.6 L1560.6,431.4 L1561.3,423.9 L1562.0,415.9 L1562.7,408.3 L1563.4,400.1 L1564.1,393.7 L1564.8,395.3 L1565.5,398.3 L1566.2,401.0 L1566.9,404.0 L1567.6,406.7 L1568.3,409.7 L1569.0,412.4 L1569.7,415.4 L1570.4,418.2 L1571.1,421.1 L1571.8,423.8 L1572.5,426.8 L1573.2,429.4 L1573.9,432.5 L1574.6,433.2 L1575.3,425.9 L1576.0,418.1 L1576.7,410.5 L1577.4,402.5 L1578.1,395.0 L1578.8,386.9 L1579.5,385.8 L1580.2,389.2 L1580.9,391.6 L1581.6,394.6 L1582.3,397.2 L1583.0,400.2 L1583.7,402.9 L1584.4,405.8 L1585.1,408.6 L1585.8,411.5 L1586.5,414.3 L1587.2,417.2 L1587.9,420.1 L1588.6,422.9 L1589.3,425.6 L1590.0,420.6 L1590.7,412.0 L1591.4,404.2 L1592.1,395.7 L1592.8,388.1 L1593.5,379.3 L1594.2,377.5 L1594.9,381.0"/>
<path stroke="#2f68bc" d="M1352.0,501.2 L1352.7,503.8 L1353.4,506.2 L1354.1,508.9 L1354.8,511.8 L1355.5,514.2 L1356.2,516.5 L1356.9,519.7 L1357.6,522.5 L1358.3,521.9 L1359.0,517.6 L1359.7,511.8 L1360.4,506.2 L1361.1,501.1 L1361.8,495.8 L1362.5,490.3 L1363.2,484.8 L1363.9,479.6 L1364.6,474.4 L1365.3,468.9 L1366.0,463.2 L1366.7,459.5 L1367.4,459.7 L1368.1,462.7 L1368.8,465.8 L1369.5,467.9 L1370.2,470.3 L1370.9,473.1 L1371.6,475.7 L1372.3,477.9 L1373.0,480.5 L1373.7,483.3 L1374.4,485.6 L1375.1,487.9 L1375.8,490.6 L1376.5,493.3 L1377.2,495.6 L1377.9,497.9 L1378.6,500.7 L1379.3,503.2 L1380.0,505.3 L1380.7,507.8 L1381.4,510.8 L1382.1,512.8 L1382.8,511.2 L1383.5,506.5 L1384.2,500.9 L1384.9,495.6 L1385.6,490.8 L1386.3,485.6 L1387.0,480.3 L1387.7,475.1 L1388.4,470.0 L1389.1,465.1 L1389.8,459.7 L1390.5,454.2 L1391.2,449.8 L1391.9,448.8 L1392.6,450.9 L1393.3,454.0 L1394.0,456.3 L1394.7,458.4 L1395.4,460.9 L1396.1,463.6 L1396.8,465.9 L1397.5,468.0 L1398.2,470.7 L1398.9,473.2 L1399.6,475.5 L1400.3,477.8 L1401.0,480.4 L1401.7,482.9 L1402.4,485.0 L1403.1,487.4 L1403.8,490.1 L1404.5,492.4 L1405.2,494.5 L1405.9,496.9 L1406.6,500.0 L1407.3,501.6 L1408.0,499.9 L1408.7,495.0 L1409.4,489.4 L1410.1,484.3 L1410.8,479.4 L1411.5,474.2 L1412.2,469.0 L1412.9,463.8 L1413.6,458.7 L1414.3,453.8 L1415.0,448.6 L1415.7,442.8 L1416.4,438.3 L1417.1,437.1 L1417.8,439.3 L1418.5,442.4 L1419.2,444.7 L1419.9,446.8 L1420.6,449.4 L1421.3,452.1 L1422.0,454.4 L1422.7,456.6 L1423.4,459.4 L1424.1,462.0 L1424.8,464.3 L1425.5,466.8 L1426.2,469.6 L1426.9,472.0 L1427.6,474.3 L1428.3,477.1 L1429.0,479.9 L1429.7,482.1 L1430.4,484.5 L1431.1,487.9 L1431.8,489.8 L1432.5,487.7 L1433.2,482.2 L1433.9,476.2 L1434.6,470.6 L1435.3,465.2 L1436.0,459.5 L1436.7,453.6 L1437.4,448.0 L1438.1,442.5 L1438.8,436.5 L1439.5,430.3 L1440.2,426.0 L1440.9,426.1 L1441.6,429.3 L1442.3,432.4 L1443.0,434.7 L1443.7,437.6 L1444.4,440.7 L1445.1,443.2 L1445.8,445.9 L1446.5,449.0 L1447.2,451.7 L1447.9,454.3 L1448.6,457.5 L1449.3,460.3 L1450.0,462.9 L1450.7,466.1 L1451.4,469.1 L1452.1,471.5 L1452.8,474.9 L1453.5,478.2 L1454.2,477.6 L1454.9,472.1 L1455.6,465.2 L1456.3,458.9 L1457.0,452.7 L1457.7,446.1 L1458.4,439.5 L1459.1,433.2 L1459.8,426.8 L1460.5,419.7 L1461.2,414.9 L1461.9,415.8 L1462.6,419.8 L1463.3,422.8 L1464.0,425.8 L1464.7,429.3 L1465.4,432.4 L1466.1,435.5 L1466.8,439.1 L1467.5,442.1 L1468.2,445.5 L1468.9,449.1 L1469.6,452.1 L1470.3,455.9 L1471.0,459.5 L1471.7,462.6 L1472.4,467.1 L1473.1,467.8 L1473.8,461.4 L1474.5,453.2 L1475.2,445.8 L1475.9,438.1 L1476.6,430.2 L1477.3,422.9 L1478.0,415.1 L1478.7,407.2 L1479.4,405.2 L1480.1,409.4 L1480.8,413.0 L1481.5,416.2 L1482.2,420.2 L1482.9,423.4 L1483.6,426.9 L1484.3,430.4 L1485.0,433.4 L1485.7,436.9 L1486.4,440.1 L1487.1,443.1 L1487.8,446.5 L1488.5,449.6 L1489.2,452.2 L1489.9,456.1 L1490.6,458.5 L1491.3,455.6 L1492.0,448.9 L1492.7,442.2 L1493.4,436.1 L1494.1,429.6 L1494.8,423.1 L1495.5,416.9 L1496.2,410.8 L1496.9,404.3 L1497.6,397.5 L1498.3,394.0 L1499.0,395.7 L1499.7,399.4 L1500.4,402.1 L1501.1,404.9 L1501.8,408.2 L1502.5,411.0 L1503.2,413.9 L1503.9,417.2 L1504.6,420.1 L1505.3,423.0 L1506.0,426.5 L1506.7,429.4 L1507.4,432.3 L1508.1,435.8 L1508.8,438.6 L1509.5,441.5 L1510.2,445.4 L1510.9,446.0 L1511.6,440.7 L1512.3,433.4 L1513.0,426.8 L1513.7,420.3 L1514.4,413.2 L1515.1,406.2 L1515.8,399.8 L1516.5,392.7 L1517.2,385.5 L1517.9,382.0 L1518.6,384.5 L1519.3,388.4 L1520.0,391.2 L1520.7,394.5 L1521.4,398.0 L1522.1,401.0 L1522.8,404.5 L1523.5,407.8 L1524.2,410.9 L1524.9,414.5 L1525.6,417.7 L1526.3,421.0 L1527.0,424.7 L1527.7,427.6 L1528.4,431.4 L1529.1,434.8 L1529.8,431.9 L1530.5,424.3 L1531.2,416.7 L1531.9,409.6 L1532.6,401.8 L1533.3,394.3 L1534.0,387.2 L1534.7,379.2 L1535.4,372.0 L1536.1,371.2 L1536.8,375.4 L1537.5,378.8 L1538.2,382.3 L1538.9,386.2 L1539.6,389.4 L1540.3,393.3 L1541.0,396.8 L1541.7,400.2 L1542.4,404.1 L1543.1,407.4 L1543.8,411.3 L1544.5,414.9 L1545.2,418.2 L1545.9,422.7 L1546.6,422.5 L1547.3,415.3 L1548.0,407.0 L1548.7,399.3 L1549.4,391.4 L1550.1,383.4 L1550.8,375.7 L1551.5,367.1 L1552.2,360.2 L1552.9,360.8 L1553.6,365.6 L1554.3,368.9 L1555.0,373.0 L1555.7,376.7 L1556.4,380.5 L1557.1,384.6 L1557.8,388.2 L1558.5,392.4 L1559.2,396.1 L1559.9,400.2 L1560.6,404.2 L1561.3,408.0 L1562.0,412.6 L1562.7,409.5 L1563.4,400.4 L1564.1,391.9 L1564.8,383.3 L1565.5,374.3 L1566.2,365.9 L1566.9,356.7 L1567.6,349.4 L1568.3,351.0 L1569.0,355.9 L1569.7,359.5 L1570.4,364.0 L1571.1,367.8 L1571.8,372.2 L1572.5,376.1 L1573.2,380.2 L1573.9,384.3 L1574.6,388.2 L1575.3,392.6 L1576.0,396.1 L1576.7,401.0 L1577.4,401.1 L1578.1,393.0 L1578.8,384.2 L1579.5,375.8 L1580.2,367.1 L1580.9,358.6 L1581.6,350.2 L1582.3,341.1 L1583.0,338.5 L1583.7,343.2 L1584.4,347.0 L1585.1,351.2 L1585.8,355.3 L1586.5,359.3 L1587.2,363.7 L1587.9,367.5 L1588.6,372.0 L1589.3,375.8 L1590.0,380.5 L1590.7,384.2 L1591.4,389.1 L1592.1,391.1 L1592.8,383.6 L1593.5,374.2 L1594.2,365.5 L1594.9,356.2"/>
<path stroke="#3fab77" d="M1352.0,495.2 L1352.7,499.9 L1353.4,503.6 L1354.1,507.9 L1354.8,513.6 L1355.5,516.5 L1356.2,513.2 L1356.9,505.2 L1357.6,496.2 L1358.3,488.0 L1359.0,479.8 L1359.7,471.5 L1360.4,463.0 L1361.1,454.7 L1361.8,446.7 L1362.5,438.8 L1363.2,429.8 L1363.9,421.9 L1364.6,418.9 L1365.3,422.1 L1366.0,427.5 L1366.7,431.7 L1367.4,435.3 L1368.1,439.8 L1368.8,444.4 L1369.5,448.4 L1370.2,452.2 L1370.9,456.9 L1371.6,461.2 L1372.3,465.1 L1373.0,469.1 L1373.7,473.7 L1374.4,477.9 L1375.1,481.6 L1375.8,485.9 L1376.5,490.5 L1377.2,494.3 L1377.9,497.8 L1378.6,502.7 L1379.3,507.4 L1380.0,507.9 L1380.7,502.5 L1381.4,494.0 L1382.1,485.5 L1382.8,478.0 L1383.5,470.2 L1384.2,462.1 L1384.9,454.2 L1385.6,446.2 L1386.3,438.8 L1387.0,430.9 L1387.7,422.4 L1388.4,414.4 L1389.1,410.7 L1389.8,412.5 L1390.5,417.4 L1391.2,422.0 L1391.9,425.3 L1392.6,429.2 L1393.3,433.6 L1394.0,437.7 L1394.7,441.2 L1395.4,445.3 L1396.1,449.6 L1396.8,453.6 L1397.5,457.1 L1398.2,461.4 L1398.9,465.8 L1399.6,469.4 L1400.3,473.1 L1401.0,477.6 L1401.7,481.8 L1402.4,485.3 L1403.1,488.9 L1403.8,493.7 L1404.5,497.9 L1405.2,497.4 L1405.9,491.6 L1406.6,483.3 L1407.3,474.9 L1408.0,467.4 L1408.7,459.9 L1409.4,452.0 L1410.1,443.8 L1410.8,436.1 L1411.5,428.7 L1412.2,421.0 L1412.9,412.3 L1413.6,404.6 L1414.3,400.6 L1415.0,402.2 L1415.7,407.0 L1416.4,411.5 L1417.1,414.9 L1417.8,418.6 L1418.5,423.1 L1419.2,427.2 L1419.9,430.7 L1420.6,434.8 L1421.3,439.4 L1422.0,443.2 L1422.7,447.0 L1423.4,451.3 L1424.1,455.7 L1424.8,459.4 L1425.5,463.4 L1426.2,468.1 L1426.9,472.3 L1427.6,475.8 L1428.3,480.3 L1429.0,485.6 L1429.7,486.9 L1430.4,481.7 L1431.1,473.0 L1431.8,464.0 L1432.5,455.7 L1433.2,447.4 L1433.9,438.7 L1434.6,430.0 L1435.3,421.6 L1436.0,413.2 L1436.7,404.2 L1437.4,394.9 L1438.1,389.9 L1438.8,391.5 L1439.5,397.0 L1440.2,401.6 L1440.9,405.3 L1441.6,410.0 L1442.3,414.9 L1443.0,418.9 L1443.7,423.4 L1444.4,428.4 L1445.1,432.7 L1445.8,437.0 L1446.5,441.9 L1447.2,446.6 L1447.9,450.7 L1448.6,455.8 L1449.3,460.6 L1450.0,464.6 L1450.7,469.7 L1451.4,475.1 L1452.1,474.7 L1452.8,466.8 L1453.5,456.4 L1454.2,446.9 L1454.9,437.6 L1455.6,427.9 L1456.3,418.2 L1457.0,408.6 L1457.7,399.2 L1458.4,388.5 L1459.1,380.3 L1459.8,380.3 L1460.5,386.4 L1461.2,391.5 L1461.9,395.9 L1462.6,401.6 L1463.3,406.7 L1464.0,411.3 L1464.7,417.1 L1465.4,422.0 L1466.1,426.9 L1466.8,432.7 L1467.5,437.7 L1468.2,442.8 L1468.9,448.9 L1469.6,453.7 L1470.3,459.7 L1471.0,465.5 L1471.7,461.3 L1472.4,449.7 L1473.1,438.1 L1473.8,426.9 L1474.5,415.2 L1475.2,403.5 L1475.9,392.3 L1476.6,379.8 L1477.3,370.4 L1478.0,372.4 L1478.7,379.5 L1479.4,384.7 L1480.1,390.7 L1480.8,396.7 L1481.5,401.8 L1482.2,408.1 L1482.9,413.3 L1483.6,418.7 L1484.3,424.6 L1485.0,429.4 L1485.7,434.8 L1486.4,440.3 L1487.1,444.5 L1487.8,450.2 L1488.5,455.3 L1489.2,452.4 L1489.9,442.7 L1490.6,432.3 L1491.3,422.8 L1492.0,413.4 L1492.7,403.3 L1493.4,393.7 L1494.1,384.5 L1494.8,374.7 L1495.5,364.5 L1496.2,358.8 L1496.9,361.3 L1497.6,367.0 L1498.3,371.5 L1499.0,375.7 L1499.7,380.9 L1500.4,385.6 L1501.1,389.9 L1501.8,395.2 L1502.5,399.8 L1503.2,404.3 L1503.9,409.5 L1504.6,414.4 L1505.3,418.8 L1506.0,424.3 L1506.7,429.1 L1507.4,433.4 L1508.1,439.6 L1508.8,442.5 L1509.5,436.4 L1510.2,425.6 L1510.9,415.4 L1511.6,405.7 L1512.3,395.5 L1513.0,385.2 L1513.7,375.1 L1514.4,365.1 L1515.1,353.9 L1515.8,346.4 L1516.5,348.0 L1517.2,354.4 L1517.9,359.1 L1518.6,364.0 L1519.3,369.6 L1520.0,374.2 L1520.7,379.4 L1521.4,384.9 L1522.1,389.6 L1522.8,395.0 L1523.5,400.5 L1524.2,405.2 L1524.9,411.1 L1525.6,416.0 L1526.3,420.9 L1527.0,427.5 L1527.7,428.5 L1528.4,419.3 L1529.1,407.6 L1529.8,396.9 L1530.5,385.8 L1531.2,374.4 L1531.9,363.5 L1532.6,352.6 L1533.3,340.6 L1534.0,333.3 L1534.7,336.9 L1535.4,343.6 L1536.1,348.3 L1536.8,354.4 L1537.5,359.9 L1538.2,365.2 L1538.9,371.2 L1539.6,376.5 L1540.3,382.3 L1541.0,388.0 L1541.7,393.2 L1542.4,399.6 L1543.1,404.5 L1543.8,410.6 L1544.5,416.3 L1545.2,411.6 L1545.9,399.2 L1546.6,387.6 L1547.3,376.0 L1548.0,364.1 L1548.7,352.3 L1549.4,340.8 L1550.1,327.9 L1550.8,320.6 L1551.5,325.1 L1552.2,331.8 L1552.9,336.9 L1553.6,343.4 L1554.3,348.9 L1555.0,355.1 L1555.7,361.3 L1556.4,366.9 L1557.1,373.3 L1557.8,378.8 L1558.5,385.5 L1559.2,391.2 L1559.9,397.6 L1560.6,403.5 L1561.3,396.7 L1562.0,383.1 L1562.7,370.6 L1563.4,357.7 L1564.1,344.6 L1564.8,332.1 L1565.5,318.4 L1566.2,308.6 L1566.9,312.7 L1567.6,319.8 L1568.3,325.6 L1569.0,332.6 L1569.7,338.5 L1570.4,345.4 L1571.1,351.3 L1571.8,357.9 L1572.5,364.1 L1573.2,370.4 L1573.9,376.9 L1574.6,382.5 L1575.3,390.1 L1576.0,388.0 L1576.7,375.2 L1577.4,362.2 L1578.1,349.9 L1578.8,336.7 L1579.5,324.4 L1580.2,311.3 L1580.9,298.7 L1581.6,297.2 L1582.3,304.6 L1583.0,310.2 L1583.7,316.9 L1584.4,323.1 L1585.1,329.3 L1585.8,336.0 L1586.5,341.9 L1587.2,348.8 L1587.9,354.6 L1588.6,361.7 L1589.3,367.3 L1590.0,374.9 L1590.7,377.2 L1591.4,365.6 L1592.1,351.7 L1592.8,339.0 L1593.5,325.3 L1594.2,312.2 L1594.9,298.7"/>
<path stroke="#a87be2" d="M1352.0,426.7 L1352.7,422.4 L1353.4,418.5 L1354.1,414.9 L1354.8,410.8 L1355.5,406.7 L1356.2,403.1 L1356.9,399.3 L1357.6,394.8 L1358.3,391.4 L1359.0,391.0 L1359.7,393.3 L1360.4,396.1 L1361.1,398.4 L1361.8,400.6 L1362.5,403.1 L1363.2,405.5 L1363.9,407.8 L1364.6,410.2 L1365.3,412.6 L1366.0,415.0 L1366.7,417.3 L1367.4,419.7 L1368.1,422.0 L1368.8,424.4 L1369.5,426.8 L1370.2,429.0 L1370.9,431.4 L1371.6,434.1 L1372.3,435.9 L1373.0,434.9 L1373.7,431.2 L1374.4,426.8 L1375.1,423.2 L1375.8,419.7 L1376.5,415.7 L1377.2,411.6 L1377.9,408.1 L1378.6,404.4 L1379.3,400.3 L1380.0,396.6 L1380.7,393.2 L1381.4,389.3 L1382.1,385.0 L1382.8,382.3 L1383.5,382.6 L1384.2,384.9 L1384.9,387.4 L1385.6,389.6 L1386.3,391.8 L1387.0,394.0 L1387.7,396.4 L1388.4,398.5 L1389.1,400.8 L1389.8,403.0 L1390.5,405.3 L1391.2,407.5 L1391.9,409.8 L1392.6,411.9 L1393.3,414.2 L1394.0,416.5 L1394.7,418.7 L1395.4,420.7 L1396.1,423.2 L1396.8,425.7 L1397.5,426.5 L1398.2,424.4 L1398.9,420.2 L1399.6,416.1 L1400.3,412.7 L1401.0,409.1 L1401.7,405.1 L1402.4,401.3 L1403.1,397.9 L1403.8,394.0 L1404.5,390.1 L1405.2,386.5 L1405.9,383.1 L1406.6,379.1 L1407.3,374.9 L1408.0,372.4 L1408.7,372.8 L1409.4,375.0 L1410.1,377.6 L1410.8,379.7 L1411.5,381.7 L1412.2,384.0 L1412.9,386.3 L1413.6,388.4 L1414.3,390.7 L1415.0,392.9 L1415.7,395.1 L1416.4,397.3 L1417.1,399.6 L1417.8,401.8 L1418.5,404.1 L1419.2,406.3 L1419.9,408.6 L1420.6,410.7 L1421.3,413.2 L1422.0,415.6 L1422.7,416.1 L1423.4,413.4 L1424.1,409.0 L1424.8,404.9 L1425.5,401.4 L1426.2,397.2 L1426.9,393.0 L1427.6,389.3 L1428.3,385.5 L1429.0,381.2 L1429.7,377.1 L1430.4,373.5 L1431.1,369.2 L1431.8,364.8 L1432.5,362.1 L1433.2,362.8 L1433.9,365.5 L1434.6,368.1 L1435.3,370.4 L1436.0,372.9 L1436.7,375.4 L1437.4,377.8 L1438.1,380.3 L1438.8,382.8 L1439.5,385.3 L1440.2,387.8 L1440.9,390.3 L1441.6,392.8 L1442.3,395.4 L1443.0,398.0 L1443.7,400.3 L1444.4,403.2 L1445.1,405.8 L1445.8,405.7 L1446.5,401.9 L1447.2,396.9 L1447.9,392.7 L1448.6,388.6 L1449.3,383.8 L1450.0,379.5 L1450.7,375.2 L1451.4,370.5 L1452.1,366.0 L1452.8,361.9 L1453.5,356.7 L1454.2,352.7 L1454.9,352.8 L1455.6,355.8 L1456.3,358.7 L1457.0,361.4 L1457.7,364.2 L1458.4,367.1 L1459.1,369.9 L1459.8,372.7 L1460.5,375.7 L1461.2,378.5 L1461.9,381.4 L1462.6,384.4 L1463.3,387.4 L1464.0,390.1 L1464.7,393.3 L1465.4,396.5 L1466.1,396.2 L1466.8,391.3 L1467.5,386.0 L1468.2,381.4 L1468.9,376.0 L1469.6,370.9 L1470.3,365.9 L1471.0,360.2 L1471.7,355.2 L1472.4,349.5 L1473.1,344.1 L1473.8,344.2 L1474.5,348.1 L1475.2,351.3 L1475.9,354.7 L1476.6,358.3 L1477.3,361.6 L1478.0,365.1 L1478.7,368.6 L1479.4,371.9 L1480.1,375.2 L1480.8,378.7 L1481.5,381.9 L1482.2,385.3 L1482.9,388.4 L1483.6,387.0 L1484.3,381.5 L1485.0,376.3 L1485.7,371.7 L1486.4,366.4 L1487.1,361.6 L1487.8,356.9 L1488.5,351.8 L1489.2,347.2 L1489.9,342.6 L1490.6,337.2 L1491.3,334.6 L1492.0,336.2 L1492.7,339.5 L1493.4,342.1 L1494.1,344.7 L1494.8,347.5 L1495.5,350.2 L1496.2,352.9 L1496.9,355.6 L1497.6,358.4 L1498.3,361.1 L1499.0,363.8 L1499.7,366.5 L1500.4,369.3 L1501.1,371.8 L1501.8,374.7 L1502.5,377.8 L1503.2,378.2 L1503.9,374.2 L1504.6,368.7 L1505.3,364.2 L1506.0,359.5 L1506.7,354.3 L1507.4,349.8 L1508.1,344.8 L1508.8,339.7 L1509.5,335.3 L1510.2,330.0 L1510.9,325.1 L1511.6,324.5 L1512.3,327.4 L1513.0,330.6 L1513.7,333.2 L1514.4,336.3 L1515.1,339.2 L1515.8,342.1 L1516.5,345.1 L1517.2,348.0 L1517.9,351.0 L1518.6,353.9 L1519.3,356.9 L1520.0,359.9 L1520.7,362.8 L1521.4,366.2 L1522.1,368.2 L1522.8,365.2 L1523.5,359.4 L1524.2,354.5 L1524.9,349.3 L1525.6,343.9 L1526.3,339.0 L1527.0,333.5 L1527.7,328.1 L1528.4,323.2 L1529.1,317.3 L1529.8,313.9 L1530.5,316.1 L1531.2,319.7 L1531.9,322.7 L1532.6,326.0 L1533.3,329.3 L1534.0,332.5 L1534.7,335.8 L1535.4,339.0 L1536.1,342.3 L1536.8,345.6 L1537.5,349.0 L1538.2,352.0 L1538.9,355.6 L1539.6,358.3 L1540.3,355.2 L1541.0,348.9 L1541.7,343.8 L1542.4,338.0 L1543.1,332.3 L1543.8,327.1 L1544.5,321.1 L1545.2,315.8 L1545.9,309.9 L1546.6,304.6 L1547.3,305.4 L1548.0,309.3 L1548.7,312.5 L1549.4,316.0 L1550.1,319.5 L1550.8,322.9 L1551.5,326.4 L1552.2,329.8 L1552.9,333.3 L1553.6,336.9 L1554.3,340.5 L1555.0,343.9 L1555.7,347.8 L1556.4,347.6 L1557.1,341.4 L1557.8,335.6 L1558.5,329.6 L1559.2,323.3 L1559.9,317.5 L1560.6,311.0 L1561.3,305.3 L1562.0,298.5 L1562.7,294.7 L1563.4,297.8 L1564.1,301.8 L1564.8,305.4 L1565.5,309.3 L1566.2,313.2 L1566.9,317.0 L1567.6,320.9 L1568.3,324.6 L1569.0,328.5 L1569.7,332.2 L1570.4,336.2 L1571.1,339.4 L1571.8,335.7 L1572.5,328.8 L1573.2,323.0 L1573.9,316.3 L1574.6,310.5 L1575.3,304.0 L1576.0,298.0 L1576.7,291.6 L1577.4,285.9 L1578.1,287.0 L1578.8,291.3 L1579.5,294.7 L1580.2,298.6 L1580.9,302.3 L1581.6,306.1 L1582.3,309.9 L1583.0,313.5 L1583.7,317.3 L1584.4,321.2 L1585.1,324.7 L1585.8,329.1 L1586.5,328.9 L1587.2,322.2 L1587.9,316.0 L1588.6,309.5 L1589.3,303.1 L1590.0,296.8 L1590.7,290.1 L1591.4,284.0 L1592.1,277.1 L1592.8,277.1 L1593.5,281.5 L1594.2,285.2 L1594.9,289.3"/>
<path stroke="#cc9a33" d="M1352.0,416.1 L1352.7,416.6 L1353.4,414.4 L1354.1,410.5 L1354.8,406.9 L1355.5,403.8 L1356.2,400.3 L1356.9,396.7 L1357.6,393.4 L1358.3,390.0 L1359.0,386.4 L1359.7,382.9 L1360.4,379.8 L1361.1,376.3 L1361.8,372.4 L1362.5,369.9 L1363.2,369.9 L1363.9,371.8 L1364.6,374.0 L1365.3,375.7 L1366.0,377.5 L1366.7,379.3 L1367.4,381.2 L1368.1,383.0 L1368.8,384.8 L1369.5,386.7 L1370.2,388.5 L1370.9,390.3 L1371.6,392.1 L1372.3,393.9 L1373.0,395.7 L1373.7,397.5 L1374.4,399.2 L1375.1,401.1 L1375.8,403.2 L1376.5,404.4 L1377.2,403.3 L1377.9,399.9 L1378.6,396.2 L1379.3,393.1 L1380.0,390.0 L1380.7,386.4 L1381.4,383.0 L1382.1,379.9 L1382.8,376.7 L1383.5,373.1 L1384.2,369.8 L1384.9,366.9 L1385.6,363.4 L1386.3,359.6 L1387.0,357.1 L1387.7,357.0 L1388.4,358.7 L1389.1,360.7 L1389.8,362.3 L1390.5,364.0 L1391.2,365.7 L1391.9,367.5 L1392.6,369.2 L1393.3,370.9 L1394.0,372.6 L1394.7,374.3 L1395.4,376.1 L1396.1,377.9 L1396.8,379.5 L1397.5,381.3 L1398.2,383.0 L1398.9,384.8 L1399.6,386.3 L1400.3,388.2 L1401.0,390.2 L1401.7,390.9 L1402.4,389.1 L1403.1,385.7 L1403.8,382.1 L1404.5,379.0 L1405.2,375.9 L1405.9,372.4 L1406.6,369.0 L1407.3,366.0 L1408.0,362.8 L1408.7,359.3 L1409.4,356.0 L1410.1,353.0 L1410.8,349.6 L1411.5,345.9 L1412.2,343.3 L1412.9,343.1 L1413.6,344.7 L1414.3,346.7 L1415.0,348.4 L1415.7,350.0 L1416.4,351.7 L1417.1,353.5 L1417.8,355.2 L1418.5,356.9 L1419.2,358.6 L1419.9,360.4 L1420.6,362.2 L1421.3,363.9 L1422.0,365.6 L1422.7,367.5 L1423.4,369.3 L1424.1,371.0 L1424.8,372.7 L1425.5,374.8 L1426.2,376.6 L1426.9,376.4 L1427.6,373.5 L1428.3,369.5 L1429.0,366.0 L1429.7,362.8 L1430.4,359.1 L1431.1,355.4 L1431.8,352.1 L1432.5,348.6 L1433.2,344.8 L1433.9,341.3 L1434.6,338.0 L1435.3,334.1 L1436.0,330.3 L1436.7,329.1 L1437.4,330.6 L1438.1,332.8 L1438.8,334.7 L1439.5,336.5 L1440.2,338.6 L1440.9,340.5 L1441.6,342.5 L1442.3,344.5 L1443.0,346.5 L1443.7,348.5 L1444.4,350.5 L1445.1,352.5 L1445.8,354.5 L1446.5,356.6 L1447.2,358.6 L1447.9,360.7 L1448.6,363.0 L1449.3,363.4 L1450.0,360.4 L1450.7,356.0 L1451.4,352.3 L1452.1,348.5 L1452.8,344.3 L1453.5,340.4 L1454.2,336.6 L1454.9,332.3 L1455.6,328.4 L1456.3,324.7 L1457.0,320.1 L1457.7,316.7 L1458.4,316.9 L1459.1,319.5 L1459.8,321.8 L1460.5,323.9 L1461.2,326.2 L1461.9,328.5 L1462.6,330.8 L1463.3,333.1 L1464.0,335.5 L1464.7,337.8 L1465.4,340.1 L1466.1,342.5 L1466.8,344.9 L1467.5,347.2 L1468.2,349.9 L1468.9,351.7 L1469.6,349.0 L1470.3,343.9 L1471.0,339.6 L1471.7,334.8 L1472.4,330.0 L1473.1,325.5 L1473.8,320.5 L1474.5,315.9 L1475.2,311.1 L1475.9,306.1 L1476.6,305.6 L1477.3,308.6 L1478.0,311.3 L1478.7,313.9 L1479.4,316.7 L1480.1,319.3 L1480.8,322.0 L1481.5,324.7 L1482.2,327.3 L1482.9,329.8 L1483.6,332.3 L1484.3,334.8 L1485.0,337.2 L1485.7,339.9 L1486.4,340.7 L1487.1,337.4 L1487.8,332.5 L1488.5,328.7 L1489.2,324.5 L1489.9,320.1 L1490.6,316.2 L1491.3,312.1 L1492.0,307.8 L1492.7,304.0 L1493.4,299.9 L1494.1,295.5 L1494.8,293.4 L1495.5,294.7 L1496.2,297.2 L1496.9,299.3 L1497.6,301.3 L1498.3,303.6 L1499.0,305.7 L1499.7,307.8 L1500.4,309.9 L1501.1,312.1 L1501.8,314.3 L1502.5,316.4 L1503.2,318.6 L1503.9,320.8 L1504.6,322.9 L1505.3,325.4 L1506.0,327.7 L1506.7,326.9 L1507.4,322.7 L1508.1,318.1 L1508.8,314.3 L1509.5,309.8 L1510.2,305.5 L1510.9,301.5 L1511.6,297.1 L1512.3,292.8 L1513.0,288.8 L1513.7,284.0 L1514.4,280.6 L1515.1,281.2 L1515.8,283.9 L1516.5,286.2 L1517.2,288.4 L1517.9,290.8 L1518.6,293.2 L1519.3,295.5 L1520.0,297.9 L1520.7,300.3 L1521.4,302.7 L1522.1,305.0 L1522.8,307.6 L1523.5,309.9 L1524.2,312.4 L1524.9,315.0 L1525.6,314.2 L1526.3,309.5 L1527.0,304.8 L1527.7,300.5 L1528.4,295.6 L1529.1,291.2 L1529.8,286.6 L1530.5,281.7 L1531.2,277.4 L1531.9,272.3 L1532.6,268.3 L1533.3,269.1 L1534.0,272.1 L1534.7,274.6 L1535.4,277.1 L1536.1,279.8 L1536.8,282.3 L1537.5,285.0 L1538.2,287.6 L1538.9,290.2 L1539.6,292.9 L1540.3,295.6 L1541.0,298.1 L1541.7,300.9 L1542.4,303.3 L1543.1,301.1 L1543.8,295.6 L1544.5,291.0 L1545.2,286.1 L1545.9,281.1 L1546.6,276.3 L1547.3,271.1 L1548.0,266.6 L1548.7,261.3 L1549.4,256.7 L1550.1,257.3 L1550.8,260.5 L1551.5,263.1 L1552.2,265.9 L1552.9,268.7 L1553.6,271.5 L1554.3,274.3 L1555.0,277.1 L1555.7,280.0 L1556.4,282.9 L1557.1,285.7 L1557.8,288.5 L1558.5,291.6 L1559.2,290.0 L1559.9,284.2 L1560.6,279.2 L1561.3,273.8 L1562.0,268.5 L1562.7,263.2 L1563.4,257.6 L1564.1,252.5 L1564.8,246.6 L1565.5,245.7 L1566.2,249.1 L1566.9,252.0 L1567.6,255.1 L1568.3,258.2 L1569.0,261.2 L1569.7,264.3 L1570.4,267.4 L1571.1,270.4 L1571.8,273.5 L1572.5,276.4 L1573.2,279.8 L1573.9,280.6 L1574.6,275.5 L1575.3,270.0 L1576.0,264.9 L1576.7,259.2 L1577.4,254.2 L1578.1,248.6 L1578.8,243.6 L1579.5,237.7 L1580.2,234.3 L1580.9,236.7 L1581.6,239.9 L1582.3,242.8 L1583.0,245.8 L1583.7,248.8 L1584.4,251.9 L1585.1,254.9 L1585.8,258.0 L1586.5,261.0 L1587.2,264.1 L1587.9,267.3 L1588.6,270.0 L1589.3,266.7 L1590.0,260.6 L1590.7,255.4 L1591.4,249.5 L1592.1,244.2 L1592.8,238.3 L1593.5,233.1 L1594.2,227.0 L1594.9,223.3"/>
<path stroke="#2cbcc4" d="M1352.0,321.2 L1352.7,323.6 L1353.4,326.0 L1354.1,328.5 L1354.8,331.1 L1355.5,333.5 L1356.2,336.0 L1356.9,338.5 L1357.6,341.0 L1358.3,343.4 L1359.0,345.9 L1359.7,348.3 L1360.4,350.8 L1361.1,353.3 L1361.8,355.6 L1362.5,358.1 L1363.2,360.9 L1363.9,362.5 L1364.6,360.7 L1365.3,356.1 L1366.0,351.1 L1366.7,346.8 L1367.4,342.6 L1368.1,337.8 L1368.8,333.2 L1369.5,329.1 L1370.2,324.5 L1370.9,319.8 L1371.6,315.4 L1372.3,311.4 L1373.0,306.4 L1373.7,301.7 L1374.4,299.7 L1375.1,300.9 L1375.8,303.7 L1376.5,306.2 L1377.2,308.4 L1377.9,310.7 L1378.6,313.1 L1379.3,315.5 L1380.0,317.8 L1380.7,320.1 L1381.4,322.3 L1382.1,324.7 L1382.8,327.0 L1383.5,329.3 L1384.2,331.5 L1384.9,333.9 L1385.6,336.2 L1386.3,338.3 L1387.0,340.7 L1387.7,343.3 L1388.4,345.1 L1389.1,344.0 L1389.8,339.8 L1390.5,335.0 L1391.2,330.7 L1391.9,326.9 L1392.6,322.5 L1393.3,317.9 L1394.0,313.8 L1394.7,309.7 L1395.4,305.2 L1396.1,300.7 L1396.8,296.7 L1397.5,292.6 L1398.2,287.6 L1398.9,283.8 L1399.6,282.8 L1400.3,284.7 L1401.0,287.3 L1401.7,289.6 L1402.4,291.7 L1403.1,294.0 L1403.8,296.3 L1404.5,298.5 L1405.2,300.8 L1405.9,303.0 L1406.6,305.2 L1407.3,307.5 L1408.0,309.7 L1408.7,311.9 L1409.4,314.1 L1410.1,316.4 L1410.8,318.6 L1411.5,320.8 L1412.2,323.0 L1412.9,325.6 L1413.6,327.4 L1414.3,326.4 L1415.0,322.5 L1415.7,317.6 L1416.4,313.4 L1417.1,309.5 L1417.8,305.1 L1418.5,300.5 L1419.2,296.4 L1419.9,292.3 L1420.6,287.7 L1421.3,283.3 L1422.0,279.2 L1422.7,274.9 L1423.4,269.9 L1424.1,266.3 L1424.8,266.2 L1425.5,268.7 L1426.2,271.4 L1426.9,273.6 L1427.6,275.9 L1428.3,278.5 L1429.0,280.9 L1429.7,283.3 L1430.4,285.7 L1431.1,288.2 L1431.8,290.7 L1432.5,293.1 L1433.2,295.5 L1433.9,298.0 L1434.6,300.6 L1435.3,303.0 L1436.0,305.3 L1436.7,308.2 L1437.4,310.5 L1438.1,310.0 L1438.8,305.7 L1439.5,300.4 L1440.2,296.0 L1440.9,291.6 L1441.6,286.6 L1442.3,281.9 L1443.0,277.5 L1443.7,272.5 L1444.4,267.5 L1445.1,263.2 L1445.8,258.2 L1446.5,252.9 L1447.2,250.6 L1447.9,252.4 L1448.6,255.6 L1449.3,258.1 L1450.0,260.7 L1450.7,263.7 L1451.4,266.4 L1452.1,269.1 L1452.8,271.9 L1453.5,274.7 L1454.2,277.5 L1454.9,280.3 L1455.6,283.1 L1456.3,286.1 L1457.0,288.7 L1457.7,291.6 L1458.4,295.0 L1459.1,295.9 L1459.8,292.1 L1460.5,286.3 L1461.2,281.3 L1461.9,276.3 L1462.6,270.7 L1463.3,265.7 L1464.0,260.3 L1464.7,254.8 L1465.4,249.8 L1466.1,244.2 L1466.8,238.6 L1467.5,237.6 L1468.2,240.8 L1468.9,244.2 L1469.6,247.2 L1470.3,250.7 L1471.0,254.1 L1471.7,257.4 L1472.4,260.8 L1473.1,264.3 L1473.8,267.7 L1474.5,271.3 L1475.2,274.8 L1475.9,278.2 L1476.6,282.2 L1477.3,283.4 L1478.0,278.2 L1478.7,271.7 L1479.4,266.3 L1480.1,259.9 L1480.8,254.3 L1481.5,248.6 L1482.2,242.6 L1482.9,237.3 L1483.6,231.2 L1484.3,226.3 L1485.0,226.8 L1485.7,230.4 L1486.4,233.3 L1487.1,236.3 L1487.8,239.3 L1488.5,242.3 L1489.2,245.1 L1489.9,248.1 L1490.6,250.9 L1491.3,253.7 L1492.0,256.5 L1492.7,259.3 L1493.4,262.1 L1494.1,264.8 L1494.8,267.8 L1495.5,270.5 L1496.2,270.0 L1496.9,265.3 L1497.6,259.9 L1498.3,255.3 L1499.0,250.4 L1499.7,245.2 L1500.4,240.6 L1501.1,235.5 L1501.8,230.3 L1502.5,225.7 L1503.2,220.5 L1503.9,215.0 L1504.6,212.8 L1505.3,215.0 L1506.0,218.4 L1506.7,221.1 L1507.4,224.0 L1508.1,227.0 L1508.8,229.9 L1509.5,232.8 L1510.2,235.7 L1510.9,238.7 L1511.6,241.6 L1512.3,244.5 L1513.0,247.6 L1513.7,250.3 L1514.4,253.3 L1515.1,256.7 L1515.8,257.0 L1516.5,252.4 L1517.2,246.5 L1517.9,241.7 L1518.6,236.3 L1519.3,230.9 L1520.0,225.9 L1520.7,220.3 L1521.4,215.0 L1522.1,209.9 L1522.8,203.9 L1523.5,200.4 L1524.2,202.3 L1524.9,205.8 L1525.6,208.8 L1526.3,212.0 L1527.0,215.2 L1527.7,218.3 L1528.4,221.5 L1529.1,224.8 L1529.8,228.1 L1530.5,231.2 L1531.2,234.5 L1531.9,237.7 L1532.6,241.0 L1533.3,244.6 L1534.0,244.4 L1534.7,238.6 L1535.4,232.7 L1536.1,227.4 L1536.8,221.4 L1537.5,216.0 L1538.2,210.0 L1538.9,204.2 L1539.6,198.9 L1540.3,192.4 L1541.0,189.0 L1541.7,191.6 L1542.4,195.3 L1543.1,198.5 L1543.8,202.0 L1544.5,205.4 L1545.2,208.8 L1545.9,212.2 L1546.6,215.7 L1547.3,219.0 L1548.0,222.6 L1548.7,226.0 L1549.4,229.3 L1550.1,233.2 L1550.8,232.9 L1551.5,226.7 L1552.2,220.7 L1552.9,215.0 L1553.6,208.7 L1554.3,203.0 L1555.0,196.6 L1555.7,190.9 L1556.4,184.5 L1557.1,178.9 L1557.8,180.0 L1558.5,184.1 L1559.2,187.6 L1559.9,191.4 L1560.6,195.2 L1561.3,198.9 L1562.0,202.7 L1562.7,206.5 L1563.4,210.3 L1564.1,214.2 L1564.8,217.8 L1565.5,222.2 L1566.2,223.0 L1566.9,216.6 L1567.6,210.2 L1568.3,203.9 L1569.0,197.3 L1569.7,191.2 L1570.4,184.5 L1571.1,178.5 L1571.8,171.4 L1572.5,169.1 L1573.2,172.8 L1573.9,176.7 L1574.6,180.4 L1575.3,184.2 L1576.0,188.0 L1576.7,191.7 L1577.4,195.4 L1578.1,199.2 L1578.8,203.0 L1579.5,206.6 L1580.2,210.5 L1580.9,213.7 L1581.6,209.8 L1582.3,202.9 L1583.0,197.0 L1583.7,190.3 L1584.4,184.3 L1585.1,177.7 L1585.8,171.7 L1586.5,165.0 L1587.2,159.5 L1587.9,161.4 L1588.6,165.6 L1589.3,169.3 L1590.0,173.4 L1590.7,177.2 L1591.4,181.2 L1592.1,185.0 L1592.8,188.9 L1593.5,192.9 L1594.2,196.8 L1594.9,200.9"/>
<path stroke="#864c5a" d="M1352.0,345.6 L1352.7,347.4 L1353.4,349.1 L1354.1,350.9 L1354.8,352.7 L1355.5,354.5 L1356.2,356.3 L1356.9,358.1 L1357.6,359.9 L1358.3,361.7 L1359.0,363.4 L1359.7,365.1 L1360.4,367.0 L1361.1,368.8 L1361.8,370.4 L1362.5,372.2 L1363.2,374.3 L1363.9,375.4 L1364.6,374.0 L1365.3,370.5 L1366.0,366.6 L1366.7,363.3 L1367.4,360.1 L1368.1,356.3 L1368.8,352.8 L1369.5,349.6 L1370.2,346.1 L1370.9,342.5 L1371.6,339.1 L1372.3,336.0 L1373.0,332.2 L1373.7,328.6 L1374.4,326.9 L1375.1,327.8 L1375.8,329.8 L1376.5,331.6 L1377.2,333.2 L1377.9,334.9 L1378.6,336.6 L1379.3,338.3 L1380.0,340.0 L1380.7,341.6 L1381.4,343.3 L1382.1,345.0 L1382.8,346.7 L1383.5,348.3 L1384.2,349.9 L1384.9,351.7 L1385.6,353.3 L1386.3,354.8 L1387.0,356.5 L1387.7,358.5 L1388.4,359.7 L1389.1,358.8 L1389.8,355.6 L1390.5,351.8 L1391.2,348.6 L1391.9,345.5 L1392.6,342.1 L1393.3,338.6 L1394.0,335.4 L1394.7,332.2 L1395.4,328.7 L1396.1,325.2 L1396.8,322.2 L1397.5,318.9 L1398.2,315.1 L1398.9,312.1 L1399.6,311.2 L1400.3,312.6 L1401.0,314.5 L1401.7,316.2 L1402.4,317.7 L1403.1,319.4 L1403.8,321.1 L1404.5,322.6 L1405.2,324.3 L1405.9,325.9 L1406.6,327.5 L1407.3,329.1 L1408.0,330.7 L1408.7,332.4 L1409.4,333.9 L1410.1,335.6 L1410.8,337.2 L1411.5,338.8 L1412.2,340.4 L1412.9,342.3 L1413.6,343.6 L1414.3,342.7 L1415.0,339.7 L1415.7,335.9 L1416.4,332.6 L1417.1,329.6 L1417.8,326.1 L1418.5,322.5 L1419.2,319.3 L1419.9,316.1 L1420.6,312.5 L1421.3,309.1 L1422.0,305.9 L1422.7,302.5 L1423.4,298.6 L1424.1,295.8 L1424.8,295.7 L1425.5,297.4 L1426.2,299.4 L1426.9,301.1 L1427.6,302.7 L1428.3,304.6 L1429.0,306.4 L1429.7,308.1 L1430.4,309.9 L1431.1,311.7 L1431.8,313.5 L1432.5,315.3 L1433.2,317.1 L1433.9,318.9 L1434.6,320.8 L1435.3,322.5 L1436.0,324.2 L1436.7,326.4 L1437.4,328.1 L1438.1,327.6 L1438.8,324.2 L1439.5,320.1 L1440.2,316.7 L1440.9,313.2 L1441.6,309.3 L1442.3,305.6 L1443.0,302.1 L1443.7,298.2 L1444.4,294.3 L1445.1,290.9 L1445.8,287.0 L1446.5,282.9 L1447.2,281.0 L1447.9,282.2 L1448.6,284.6 L1449.3,286.5 L1450.0,288.4 L1450.7,290.6 L1451.4,292.6 L1452.1,294.6 L1452.8,296.7 L1453.5,298.7 L1454.2,300.8 L1454.9,302.9 L1455.6,304.9 L1456.3,307.2 L1457.0,309.2 L1457.7,311.3 L1458.4,313.8 L1459.1,314.5 L1459.8,311.4 L1460.5,306.9 L1461.2,302.9 L1461.9,299.0 L1462.6,294.6 L1463.3,290.7 L1464.0,286.4 L1464.7,282.0 L1465.4,278.1 L1466.1,273.7 L1466.8,269.3 L1467.5,268.4 L1468.2,270.8 L1468.9,273.4 L1469.6,275.6 L1470.3,278.2 L1471.0,280.7 L1471.7,283.2 L1472.4,285.8 L1473.1,288.4 L1473.8,291.0 L1474.5,293.6 L1475.2,296.3 L1475.9,298.8 L1476.6,301.9 L1477.3,302.7 L1478.0,298.6 L1478.7,293.5 L1479.4,289.2 L1480.1,284.2 L1480.8,279.7 L1481.5,275.2 L1482.2,270.5 L1482.9,266.3 L1483.6,261.5 L1484.3,257.6 L1485.0,257.9 L1485.7,260.6 L1486.4,262.8 L1487.1,265.0 L1487.8,267.3 L1488.5,269.5 L1489.2,271.6 L1489.9,273.8 L1490.6,276.0 L1491.3,278.0 L1492.0,280.1 L1492.7,282.2 L1493.4,284.3 L1494.1,286.3 L1494.8,288.6 L1495.5,290.6 L1496.2,290.1 L1496.9,286.4 L1497.6,282.1 L1498.3,278.5 L1499.0,274.5 L1499.7,270.4 L1500.4,266.7 L1501.1,262.7 L1501.8,258.5 L1502.5,254.8 L1503.2,250.7 L1503.9,246.3 L1504.6,244.5 L1505.3,246.2 L1506.0,248.7 L1506.7,250.7 L1507.4,252.9 L1508.1,255.1 L1508.8,257.3 L1509.5,259.5 L1510.2,261.7 L1510.9,263.9 L1511.6,266.2 L1512.3,268.3 L1513.0,270.6 L1513.7,272.7 L1514.4,275.0 L1515.1,277.5 L1515.8,277.7 L1516.5,274.0 L1517.2,269.3 L1517.9,265.4 L1518.6,261.1 L1519.3,256.8 L1520.0,252.8 L1520.7,248.3 L1521.4,244.1 L1522.1,240.0 L1522.8,235.2 L1523.5,232.3 L1524.2,233.7 L1524.9,236.4 L1525.6,238.7 L1526.3,241.1 L1527.0,243.6 L1527.7,245.9 L1528.4,248.3 L1529.1,250.8 L1529.8,253.3 L1530.5,255.6 L1531.2,258.2 L1531.9,260.6 L1532.6,263.1 L1533.3,265.8 L1534.0,265.6 L1534.7,261.0 L1535.4,256.2 L1536.1,251.9 L1536.8,247.2 L1537.5,242.8 L1538.2,238.0 L1538.9,233.4 L1539.6,229.1 L1540.3,223.9 L1541.0,221.1 L1541.7,223.1 L1542.4,225.9 L1543.1,228.3 L1543.8,231.0 L1544.5,233.6 L1545.2,236.2 L1545.9,238.8 L1546.6,241.4 L1547.3,244.0 L1548.0,246.7 L1548.7,249.4 L1549.4,251.9 L1550.1,254.9 L1550.8,254.5 L1551.5,249.5 L1552.2,244.7 L1552.9,240.1 L1553.6,235.0 L1554.3,230.5 L1555.0,225.3 L1555.7,220.7 L1556.4,215.5 L1557.1,211.0 L1557.8,211.8 L1558.5,215.0 L1559.2,217.6 L1559.9,220.6 L1560.6,223.4 L1561.3,226.3 L1562.0,229.2 L1562.7,232.1 L1563.4,235.0 L1564.1,238.1 L1564.8,240.8 L1565.5,244.2 L1566.2,244.8 L1566.9,239.6 L1567.6,234.5 L1568.3,229.4 L1569.0,224.0 L1569.7,219.1 L1570.4,213.7 L1571.1,208.8 L1571.8,203.1 L1572.5,201.1 L1573.2,204.1 L1573.9,207.0 L1574.6,209.9 L1575.3,212.8 L1576.0,215.7 L1576.7,218.6 L1577.4,221.5 L1578.1,224.3 L1578.8,227.3 L1579.5,230.1 L1580.2,233.1 L1580.9,235.5 L1581.6,232.4 L1582.3,226.8 L1583.0,222.0 L1583.7,216.6 L1584.4,211.7 L1585.1,206.3 L1585.8,201.4 L1586.5,196.0 L1587.2,191.5 L1587.9,192.9 L1588.6,196.2 L1589.3,199.1 L1590.0,202.2 L1590.7,205.2 L1591.4,208.3 L1592.1,211.3 L1592.8,214.3 L1593.5,217.4 L1594.2,220.4 L1594.9,223.6"/>
</g>
<g fill="none" stroke="#333" stroke-width="3.2">
<rect x="374.5" y="669.5" width="235" height="372.5"/>
<rect x="879" y="460.5" width="246.5" height="423"/>
<rect x="1350.5" y="170.5" width="245" height="428.5"/>
</g>
<g fill="none" stroke="#111">
<rect x="340.7" y="1077.7" width="24.9" height="199.3" stroke-width="4"/>
<rect x="1238" y="883" width="21" height="232" stroke-width="4"/>
<rect x="1805.3" y="312.8" width="24" height="261.2" stroke-width="4"/>
<line x1="367" y1="1079" x2="480.5" y2="1041.5" stroke-width="2.2"/>
<line x1="1125.5" y1="882.5" x2="1236.5" y2="930.5" stroke-width="2.2"/>
<line x1="1597" y1="520" x2="1803" y2="482" stroke-width="2.2"/>
</g>
</svg></body></html>
